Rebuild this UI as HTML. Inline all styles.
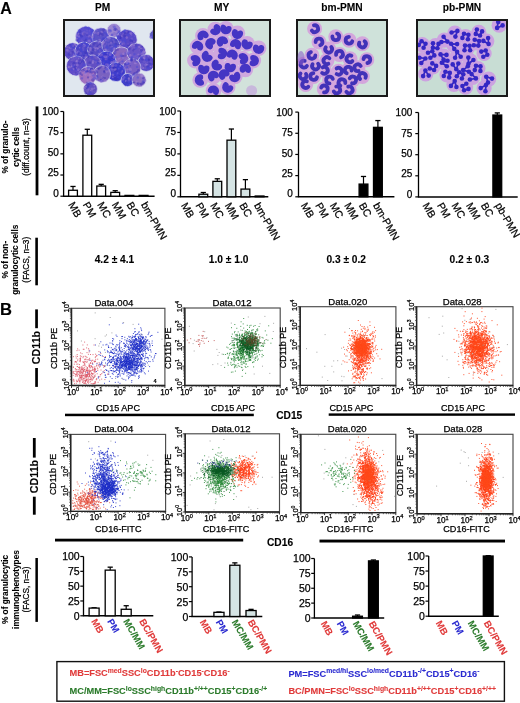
<!DOCTYPE html>
<html><head><meta charset="utf-8"><title>Figure</title>
<style>html,body{margin:0;padding:0;background:#fff;overflow:hidden;width:520px;height:703px;} svg{display:block;} text{font-family:"Liberation Sans", Arial, sans-serif;} text{stroke:#000;stroke-width:0.25px;} text[font-weight=bold]{stroke-width:0.1px;}</style>
</head><body>
<svg width="520" height="703" viewBox="0 0 520 703">
<defs><filter id="soft" x="-5%" y="-5%" width="110%" height="110%"><feGaussianBlur stdDeviation="0.6"/></filter></defs>
<rect width="520" height="703" fill="#fff"/>
<text x="0.3" y="13.8" font-size="16" font-weight="bold">A</text>
<text x="102.6" y="10.9" font-size="10.2" font-weight="bold" text-anchor="middle">PM</text>
<text x="221.7" y="10.9" font-size="10.2" font-weight="bold" text-anchor="middle">MY</text>
<text x="342" y="10.9" font-size="10.2" font-weight="bold" text-anchor="middle">bm-PMN</text>
<text x="462" y="10.9" font-size="10.2" font-weight="bold" text-anchor="middle">pb-PMN</text>
<clipPath id="clippm"><rect x="64" y="20" width="90" height="76"/></clipPath>
<g clip-path="url(#clippm)">
<rect x="64.00" y="20.00" width="90.00" height="76.00" fill="#e0e7ef"/>
<g filter="url(#soft)">
<circle cx="86.0" cy="36.7" r="10.5" fill="#5a4fd0" stroke="#d4d4ee" stroke-width="0.8"/>
<circle cx="101.0" cy="36.7" r="9" fill="#5b52c8" stroke="#d4d4ee" stroke-width="0.8"/>
<circle cx="114.0" cy="30.4" r="7" fill="#9a86d0" stroke="#d4d4ee" stroke-width="0.8"/>
<circle cx="126.7" cy="40.0" r="10.5" fill="#5848c8" stroke="#d4d4ee" stroke-width="0.8"/>
<circle cx="72.7" cy="51.7" r="9" fill="#6050c8" stroke="#d4d4ee" stroke-width="0.8"/>
<circle cx="84.0" cy="51.0" r="9" fill="#4c44c8" stroke="#d4d4ee" stroke-width="0.8"/>
<circle cx="96.6" cy="50.0" r="9" fill="#5a4ec4" stroke="#d4d4ee" stroke-width="0.8"/>
<circle cx="110.8" cy="45.5" r="9" fill="#5650c8" stroke="#d4d4ee" stroke-width="0.8"/>
<circle cx="121.4" cy="57.0" r="10" fill="#8a68c0" stroke="#d4d4ee" stroke-width="0.8"/>
<circle cx="136.5" cy="52.6" r="9.5" fill="#6a56c8" stroke="#d4d4ee" stroke-width="0.8"/>
<circle cx="146.2" cy="63.0" r="8.5" fill="#5a4cc8" stroke="#d4d4ee" stroke-width="0.8"/>
<circle cx="106.4" cy="60.6" r="9.5" fill="#3d3ad0" stroke="#d4d4ee" stroke-width="0.8"/>
<circle cx="92.2" cy="64.0" r="9" fill="#6250c4" stroke="#d4d4ee" stroke-width="0.8"/>
<circle cx="76.3" cy="66.0" r="10" fill="#5e4cc8" stroke="#d4d4ee" stroke-width="0.8"/>
<circle cx="132.0" cy="67.7" r="9" fill="#7a60c4" stroke="#d4d4ee" stroke-width="0.8"/>
<circle cx="116.0" cy="72.0" r="9.5" fill="#3e3ccc" stroke="#d4d4ee" stroke-width="0.8"/>
<circle cx="102.0" cy="74.0" r="8.5" fill="#7a62c0" stroke="#d4d4ee" stroke-width="0.8"/>
<circle cx="87.8" cy="75.6" r="9" fill="#a070c0" stroke="#d4d4ee" stroke-width="0.8"/>
<circle cx="127.6" cy="80.0" r="6.5" fill="#4040c8" stroke="#d4d4ee" stroke-width="0.8"/>
<circle cx="139.0" cy="80.0" r="7" fill="#8a70c4" stroke="#d4d4ee" stroke-width="0.8"/>
<circle cx="90.4" cy="89.0" r="7" fill="#6050c0" stroke="#d4d4ee" stroke-width="0.8"/>
<circle cx="154.0" cy="35.0" r="4.5" fill="#6060c0" stroke="#d4d4ee" stroke-width="0.8"/>
<circle cx="83.3" cy="34.0" r="1.5" fill="#a688d4" opacity="0.45"/>
<circle cx="93.0" cy="31.4" r="0.9" fill="#4848d8" opacity="0.45"/>
<circle cx="87.0" cy="30.8" r="0.8" fill="#7a64cc" opacity="0.45"/>
<circle cx="87.5" cy="46.2" r="1.4" fill="#4848d8" opacity="0.45"/>
<circle cx="83.7" cy="43.8" r="0.9" fill="#a688d4" opacity="0.45"/>
<circle cx="91.3" cy="31.3" r="1.1" fill="#4848d8" opacity="0.45"/>
<circle cx="93.7" cy="37.0" r="0.8" fill="#4848d8" opacity="0.45"/>
<circle cx="89.4" cy="29.5" r="1.3" fill="#4848d8" opacity="0.45"/>
<circle cx="87.1" cy="33.1" r="1.2" fill="#7a64cc" opacity="0.45"/>
<circle cx="79.7" cy="38.0" r="1.4" fill="#4848d8" opacity="0.45"/>
<circle cx="84.5" cy="41.2" r="1.0" fill="#3a30b8" opacity="0.45"/>
<circle cx="84.9" cy="42.7" r="1.1" fill="#3a30b8" opacity="0.45"/>
<circle cx="85.9" cy="39.7" r="1.1" fill="#3a30b8" opacity="0.45"/>
<circle cx="77.0" cy="39.9" r="1.6" fill="#3a30b8" opacity="0.45"/>
<circle cx="81.5" cy="36.6" r="1.1" fill="#4848d8" opacity="0.45"/>
<circle cx="78.5" cy="34.1" r="1.0" fill="#a688d4" opacity="0.45"/>
<circle cx="91.3" cy="36.6" r="1.2" fill="#3a30b8" opacity="0.45"/>
<circle cx="88.4" cy="28.0" r="1.6" fill="#4848d8" opacity="0.45"/>
<circle cx="80.3" cy="31.2" r="1.2" fill="#3a30b8" opacity="0.45"/>
<circle cx="89.5" cy="36.5" r="1.5" fill="#a688d4" opacity="0.45"/>
<circle cx="87.9" cy="45.4" r="1.3" fill="#4848d8" opacity="0.45"/>
<circle cx="91.0" cy="44.7" r="1.1" fill="#a688d4" opacity="0.45"/>
<circle cx="79.0" cy="30.7" r="1.1" fill="#4848d8" opacity="0.45"/>
<circle cx="93.0" cy="38.7" r="1.5" fill="#4848d8" opacity="0.45"/>
<circle cx="89.6" cy="37.5" r="1.1" fill="#3a30b8" opacity="0.45"/>
<circle cx="81.8" cy="36.3" r="1.2" fill="#3a30b8" opacity="0.45"/>
<circle cx="76.9" cy="38.7" r="1.0" fill="#a688d4" opacity="0.45"/>
<circle cx="92.2" cy="33.1" r="1.4" fill="#4848d8" opacity="0.45"/>
<circle cx="83.2" cy="33.7" r="1.4" fill="#a688d4" opacity="0.45"/>
<circle cx="76.9" cy="35.9" r="1.3" fill="#a688d4" opacity="0.45"/>
<circle cx="78.2" cy="36.9" r="1.1" fill="#4848d8" opacity="0.45"/>
<circle cx="86.1" cy="44.0" r="1.1" fill="#4848d8" opacity="0.45"/>
<circle cx="91.9" cy="37.1" r="0.8" fill="#a688d4" opacity="0.45"/>
<circle cx="88.2" cy="42.5" r="1.0" fill="#3a30b8" opacity="0.45"/>
<circle cx="84.3" cy="32.3" r="1.5" fill="#7a64cc" opacity="0.45"/>
<circle cx="86.6" cy="38.5" r="0.9" fill="#4848d8" opacity="0.45"/>
<circle cx="79.8" cy="43.3" r="1.2" fill="#a688d4" opacity="0.45"/>
<circle cx="92.6" cy="36.9" r="1.3" fill="#a688d4" opacity="0.45"/>
<circle cx="89.5" cy="30.4" r="1.0" fill="#7a64cc" opacity="0.45"/>
<circle cx="89.1" cy="41.2" r="1.6" fill="#a688d4" opacity="0.45"/>
<circle cx="85.1" cy="45.0" r="1.3" fill="#4848d8" opacity="0.45"/>
<circle cx="87.1" cy="35.7" r="1.3" fill="#7a64cc" opacity="0.45"/>
<circle cx="80.1" cy="36.3" r="0.8" fill="#3a30b8" opacity="0.45"/>
<circle cx="87.0" cy="35.3" r="1.1" fill="#3a30b8" opacity="0.45"/>
<circle cx="83.8" cy="34.1" r="1.5" fill="#3a30b8" opacity="0.45"/>
<circle cx="85.5" cy="27.2" r="1.4" fill="#4848d8" opacity="0.45"/>
<circle cx="92.6" cy="41.0" r="1.5" fill="#4848d8" opacity="0.45"/>
<circle cx="79.9" cy="35.1" r="1.4" fill="#3a30b8" opacity="0.45"/>
<circle cx="79.0" cy="36.4" r="1.2" fill="#a688d4" opacity="0.45"/>
<circle cx="92.2" cy="30.2" r="1.5" fill="#4848d8" opacity="0.45"/>
<circle cx="82.3" cy="41.0" r="0.8" fill="#7a64cc" opacity="0.45"/>
<circle cx="79.9" cy="32.4" r="0.8" fill="#3a30b8" opacity="0.45"/>
<circle cx="93.5" cy="39.6" r="1.0" fill="#7a64cc" opacity="0.45"/>
<circle cx="81.6" cy="40.4" r="1.0" fill="#7a64cc" opacity="0.45"/>
<circle cx="82.9" cy="43.0" r="0.8" fill="#4848d8" opacity="0.45"/>
<circle cx="94.4" cy="32.5" r="1.5" fill="#a688d4" opacity="0.45"/>
<circle cx="102.7" cy="39.6" r="1.4" fill="#4848d8" opacity="0.45"/>
<circle cx="100.4" cy="35.5" r="0.9" fill="#7a64cc" opacity="0.45"/>
<circle cx="107.6" cy="37.6" r="1.4" fill="#a688d4" opacity="0.45"/>
<circle cx="99.6" cy="40.3" r="1.5" fill="#a688d4" opacity="0.45"/>
<circle cx="106.8" cy="34.3" r="1.1" fill="#4848d8" opacity="0.45"/>
<circle cx="93.2" cy="34.8" r="0.9" fill="#a688d4" opacity="0.45"/>
<circle cx="102.9" cy="32.0" r="1.4" fill="#3a30b8" opacity="0.45"/>
<circle cx="98.7" cy="33.2" r="1.0" fill="#a688d4" opacity="0.45"/>
<circle cx="96.7" cy="33.1" r="1.2" fill="#7a64cc" opacity="0.45"/>
<circle cx="103.4" cy="43.0" r="1.4" fill="#7a64cc" opacity="0.45"/>
<circle cx="98.6" cy="35.5" r="0.9" fill="#a688d4" opacity="0.45"/>
<circle cx="106.0" cy="38.0" r="0.9" fill="#4848d8" opacity="0.45"/>
<circle cx="102.0" cy="33.8" r="1.3" fill="#3a30b8" opacity="0.45"/>
<circle cx="107.5" cy="35.0" r="1.4" fill="#4848d8" opacity="0.45"/>
<circle cx="105.6" cy="30.7" r="1.6" fill="#7a64cc" opacity="0.45"/>
<circle cx="105.8" cy="38.3" r="1.5" fill="#4848d8" opacity="0.45"/>
<circle cx="98.3" cy="41.0" r="1.1" fill="#3a30b8" opacity="0.45"/>
<circle cx="98.5" cy="42.2" r="1.3" fill="#4848d8" opacity="0.45"/>
<circle cx="103.9" cy="39.2" r="1.4" fill="#3a30b8" opacity="0.45"/>
<circle cx="98.1" cy="33.8" r="1.4" fill="#3a30b8" opacity="0.45"/>
<circle cx="102.4" cy="32.1" r="1.2" fill="#7a64cc" opacity="0.45"/>
<circle cx="98.8" cy="41.9" r="1.1" fill="#a688d4" opacity="0.45"/>
<circle cx="102.5" cy="34.9" r="0.8" fill="#7a64cc" opacity="0.45"/>
<circle cx="103.1" cy="29.8" r="1.5" fill="#7a64cc" opacity="0.45"/>
<circle cx="105.3" cy="41.3" r="1.1" fill="#7a64cc" opacity="0.45"/>
<circle cx="101.5" cy="32.2" r="1.2" fill="#a688d4" opacity="0.45"/>
<circle cx="102.7" cy="35.1" r="1.1" fill="#3a30b8" opacity="0.45"/>
<circle cx="103.4" cy="43.6" r="1.5" fill="#a688d4" opacity="0.45"/>
<circle cx="98.3" cy="35.4" r="1.1" fill="#7a64cc" opacity="0.45"/>
<circle cx="99.1" cy="34.4" r="0.9" fill="#4848d8" opacity="0.45"/>
<circle cx="98.7" cy="34.8" r="1.6" fill="#3a30b8" opacity="0.45"/>
<circle cx="102.9" cy="38.0" r="0.9" fill="#4848d8" opacity="0.45"/>
<circle cx="96.8" cy="30.0" r="1.5" fill="#7a64cc" opacity="0.45"/>
<circle cx="98.1" cy="33.5" r="1.5" fill="#a688d4" opacity="0.45"/>
<circle cx="103.1" cy="32.6" r="0.9" fill="#7a64cc" opacity="0.45"/>
<circle cx="103.5" cy="29.6" r="1.6" fill="#3a30b8" opacity="0.45"/>
<circle cx="98.0" cy="42.5" r="0.9" fill="#3a30b8" opacity="0.45"/>
<circle cx="100.4" cy="33.2" r="1.3" fill="#3a30b8" opacity="0.45"/>
<circle cx="104.7" cy="32.6" r="1.4" fill="#4848d8" opacity="0.45"/>
<circle cx="115.6" cy="34.6" r="1.1" fill="#7a64cc" opacity="0.45"/>
<circle cx="116.4" cy="29.0" r="0.9" fill="#7a64cc" opacity="0.45"/>
<circle cx="115.1" cy="35.6" r="1.0" fill="#a688d4" opacity="0.45"/>
<circle cx="114.4" cy="27.1" r="1.5" fill="#4848d8" opacity="0.45"/>
<circle cx="118.3" cy="32.3" r="1.4" fill="#7a64cc" opacity="0.45"/>
<circle cx="110.6" cy="31.0" r="1.4" fill="#4848d8" opacity="0.45"/>
<circle cx="118.5" cy="31.3" r="1.4" fill="#4848d8" opacity="0.45"/>
<circle cx="112.0" cy="35.1" r="1.3" fill="#7a64cc" opacity="0.45"/>
<circle cx="112.2" cy="34.8" r="1.4" fill="#4848d8" opacity="0.45"/>
<circle cx="113.2" cy="26.4" r="0.9" fill="#7a64cc" opacity="0.45"/>
<circle cx="108.5" cy="32.0" r="1.4" fill="#7a64cc" opacity="0.45"/>
<circle cx="119.7" cy="32.5" r="1.5" fill="#4848d8" opacity="0.45"/>
<circle cx="116.7" cy="30.3" r="1.3" fill="#3a30b8" opacity="0.45"/>
<circle cx="115.8" cy="28.9" r="1.5" fill="#4848d8" opacity="0.45"/>
<circle cx="115.9" cy="29.3" r="0.9" fill="#7a64cc" opacity="0.45"/>
<circle cx="114.1" cy="36.8" r="0.9" fill="#7a64cc" opacity="0.45"/>
<circle cx="109.1" cy="34.3" r="1.6" fill="#a688d4" opacity="0.45"/>
<circle cx="114.4" cy="33.5" r="1.4" fill="#7a64cc" opacity="0.45"/>
<circle cx="118.5" cy="34.9" r="1.0" fill="#a688d4" opacity="0.45"/>
<circle cx="116.9" cy="31.0" r="1.4" fill="#a688d4" opacity="0.45"/>
<circle cx="109.4" cy="30.3" r="1.3" fill="#4848d8" opacity="0.45"/>
<circle cx="117.3" cy="33.6" r="1.1" fill="#4848d8" opacity="0.45"/>
<circle cx="116.8" cy="35.9" r="1.1" fill="#4848d8" opacity="0.45"/>
<circle cx="114.8" cy="29.4" r="1.5" fill="#3a30b8" opacity="0.45"/>
<circle cx="122.1" cy="47.7" r="1.6" fill="#a688d4" opacity="0.45"/>
<circle cx="123.1" cy="33.5" r="1.0" fill="#7a64cc" opacity="0.45"/>
<circle cx="128.5" cy="47.0" r="1.0" fill="#7a64cc" opacity="0.45"/>
<circle cx="119.2" cy="37.5" r="1.1" fill="#7a64cc" opacity="0.45"/>
<circle cx="127.7" cy="32.1" r="1.4" fill="#3a30b8" opacity="0.45"/>
<circle cx="133.5" cy="43.0" r="1.0" fill="#7a64cc" opacity="0.45"/>
<circle cx="125.8" cy="33.8" r="0.9" fill="#a688d4" opacity="0.45"/>
<circle cx="130.8" cy="40.4" r="1.4" fill="#3a30b8" opacity="0.45"/>
<circle cx="131.8" cy="38.6" r="1.2" fill="#7a64cc" opacity="0.45"/>
<circle cx="121.6" cy="41.0" r="1.3" fill="#4848d8" opacity="0.45"/>
<circle cx="121.4" cy="43.4" r="1.3" fill="#4848d8" opacity="0.45"/>
<circle cx="124.9" cy="30.5" r="1.4" fill="#4848d8" opacity="0.45"/>
<circle cx="121.0" cy="39.2" r="1.1" fill="#4848d8" opacity="0.45"/>
<circle cx="125.9" cy="33.6" r="1.2" fill="#3a30b8" opacity="0.45"/>
<circle cx="131.8" cy="43.0" r="1.2" fill="#7a64cc" opacity="0.45"/>
<circle cx="119.9" cy="37.2" r="1.2" fill="#3a30b8" opacity="0.45"/>
<circle cx="117.9" cy="36.6" r="1.3" fill="#3a30b8" opacity="0.45"/>
<circle cx="135.0" cy="36.2" r="0.9" fill="#7a64cc" opacity="0.45"/>
<circle cx="132.5" cy="41.5" r="0.9" fill="#3a30b8" opacity="0.45"/>
<circle cx="121.9" cy="41.5" r="1.6" fill="#4848d8" opacity="0.45"/>
<circle cx="120.5" cy="33.3" r="0.8" fill="#7a64cc" opacity="0.45"/>
<circle cx="120.2" cy="37.9" r="0.9" fill="#3a30b8" opacity="0.45"/>
<circle cx="133.9" cy="43.6" r="1.2" fill="#3a30b8" opacity="0.45"/>
<circle cx="124.5" cy="38.6" r="1.2" fill="#4848d8" opacity="0.45"/>
<circle cx="128.3" cy="48.9" r="0.9" fill="#3a30b8" opacity="0.45"/>
<circle cx="128.5" cy="45.1" r="1.4" fill="#3a30b8" opacity="0.45"/>
<circle cx="131.6" cy="35.3" r="0.9" fill="#7a64cc" opacity="0.45"/>
<circle cx="128.1" cy="44.1" r="1.1" fill="#7a64cc" opacity="0.45"/>
<circle cx="120.7" cy="41.8" r="1.1" fill="#a688d4" opacity="0.45"/>
<circle cx="126.7" cy="31.2" r="0.9" fill="#7a64cc" opacity="0.45"/>
<circle cx="124.4" cy="31.5" r="1.5" fill="#4848d8" opacity="0.45"/>
<circle cx="120.4" cy="37.8" r="1.3" fill="#3a30b8" opacity="0.45"/>
<circle cx="129.7" cy="32.1" r="0.8" fill="#4848d8" opacity="0.45"/>
<circle cx="120.3" cy="41.4" r="1.3" fill="#3a30b8" opacity="0.45"/>
<circle cx="122.4" cy="35.9" r="1.4" fill="#a688d4" opacity="0.45"/>
<circle cx="129.7" cy="33.5" r="1.6" fill="#4848d8" opacity="0.45"/>
<circle cx="124.8" cy="36.1" r="1.5" fill="#3a30b8" opacity="0.45"/>
<circle cx="123.3" cy="35.8" r="1.1" fill="#3a30b8" opacity="0.45"/>
<circle cx="119.9" cy="44.5" r="0.8" fill="#3a30b8" opacity="0.45"/>
<circle cx="118.8" cy="37.0" r="1.5" fill="#4848d8" opacity="0.45"/>
<circle cx="124.9" cy="41.4" r="1.6" fill="#4848d8" opacity="0.45"/>
<circle cx="126.4" cy="31.7" r="1.3" fill="#7a64cc" opacity="0.45"/>
<circle cx="120.3" cy="46.0" r="1.3" fill="#a688d4" opacity="0.45"/>
<circle cx="120.4" cy="41.3" r="1.6" fill="#7a64cc" opacity="0.45"/>
<circle cx="126.8" cy="37.6" r="1.3" fill="#a688d4" opacity="0.45"/>
<circle cx="118.7" cy="39.8" r="1.2" fill="#4848d8" opacity="0.45"/>
<circle cx="124.2" cy="44.1" r="0.8" fill="#7a64cc" opacity="0.45"/>
<circle cx="130.3" cy="33.1" r="1.4" fill="#7a64cc" opacity="0.45"/>
<circle cx="122.3" cy="44.0" r="1.1" fill="#a688d4" opacity="0.45"/>
<circle cx="131.0" cy="33.6" r="1.4" fill="#a688d4" opacity="0.45"/>
<circle cx="127.8" cy="35.2" r="1.1" fill="#4848d8" opacity="0.45"/>
<circle cx="120.4" cy="42.2" r="0.9" fill="#a688d4" opacity="0.45"/>
<circle cx="125.1" cy="33.2" r="0.9" fill="#3a30b8" opacity="0.45"/>
<circle cx="134.2" cy="41.6" r="1.2" fill="#7a64cc" opacity="0.45"/>
<circle cx="123.3" cy="42.8" r="1.5" fill="#7a64cc" opacity="0.45"/>
<circle cx="71.3" cy="59.7" r="1.1" fill="#4848d8" opacity="0.45"/>
<circle cx="78.3" cy="47.5" r="0.8" fill="#4848d8" opacity="0.45"/>
<circle cx="71.1" cy="48.3" r="0.9" fill="#a688d4" opacity="0.45"/>
<circle cx="77.0" cy="46.1" r="0.9" fill="#7a64cc" opacity="0.45"/>
<circle cx="69.1" cy="54.2" r="1.6" fill="#3a30b8" opacity="0.45"/>
<circle cx="78.4" cy="51.8" r="1.3" fill="#a688d4" opacity="0.45"/>
<circle cx="74.5" cy="44.2" r="1.1" fill="#a688d4" opacity="0.45"/>
<circle cx="72.9" cy="57.3" r="1.3" fill="#a688d4" opacity="0.45"/>
<circle cx="75.5" cy="55.2" r="1.3" fill="#a688d4" opacity="0.45"/>
<circle cx="74.1" cy="47.3" r="1.4" fill="#4848d8" opacity="0.45"/>
<circle cx="71.8" cy="49.6" r="1.0" fill="#4848d8" opacity="0.45"/>
<circle cx="73.6" cy="55.5" r="1.3" fill="#a688d4" opacity="0.45"/>
<circle cx="72.2" cy="56.0" r="0.9" fill="#4848d8" opacity="0.45"/>
<circle cx="75.9" cy="50.4" r="1.3" fill="#7a64cc" opacity="0.45"/>
<circle cx="72.5" cy="53.8" r="0.9" fill="#4848d8" opacity="0.45"/>
<circle cx="71.0" cy="46.3" r="1.2" fill="#4848d8" opacity="0.45"/>
<circle cx="75.3" cy="54.5" r="1.1" fill="#4848d8" opacity="0.45"/>
<circle cx="75.5" cy="45.2" r="1.0" fill="#a688d4" opacity="0.45"/>
<circle cx="78.6" cy="57.1" r="1.2" fill="#4848d8" opacity="0.45"/>
<circle cx="68.4" cy="51.3" r="1.3" fill="#7a64cc" opacity="0.45"/>
<circle cx="78.8" cy="53.1" r="0.9" fill="#3a30b8" opacity="0.45"/>
<circle cx="67.1" cy="49.9" r="1.5" fill="#a688d4" opacity="0.45"/>
<circle cx="74.0" cy="49.8" r="0.9" fill="#a688d4" opacity="0.45"/>
<circle cx="75.2" cy="53.2" r="1.0" fill="#4848d8" opacity="0.45"/>
<circle cx="71.5" cy="59.4" r="1.5" fill="#a688d4" opacity="0.45"/>
<circle cx="73.2" cy="46.0" r="1.5" fill="#3a30b8" opacity="0.45"/>
<circle cx="66.9" cy="47.0" r="1.1" fill="#a688d4" opacity="0.45"/>
<circle cx="71.9" cy="53.7" r="1.0" fill="#3a30b8" opacity="0.45"/>
<circle cx="68.3" cy="47.1" r="1.5" fill="#7a64cc" opacity="0.45"/>
<circle cx="65.3" cy="53.9" r="0.9" fill="#7a64cc" opacity="0.45"/>
<circle cx="77.7" cy="45.8" r="1.2" fill="#4848d8" opacity="0.45"/>
<circle cx="72.5" cy="52.3" r="1.2" fill="#3a30b8" opacity="0.45"/>
<circle cx="73.0" cy="45.7" r="1.2" fill="#a688d4" opacity="0.45"/>
<circle cx="69.4" cy="47.9" r="0.9" fill="#a688d4" opacity="0.45"/>
<circle cx="72.3" cy="44.5" r="1.6" fill="#4848d8" opacity="0.45"/>
<circle cx="71.1" cy="53.3" r="1.4" fill="#7a64cc" opacity="0.45"/>
<circle cx="72.0" cy="47.5" r="1.4" fill="#4848d8" opacity="0.45"/>
<circle cx="70.3" cy="44.6" r="1.0" fill="#3a30b8" opacity="0.45"/>
<circle cx="68.4" cy="55.4" r="0.8" fill="#4848d8" opacity="0.45"/>
<circle cx="78.2" cy="52.6" r="1.5" fill="#4848d8" opacity="0.45"/>
<circle cx="86.5" cy="55.1" r="1.4" fill="#7a64cc" opacity="0.45"/>
<circle cx="76.3" cy="53.2" r="1.1" fill="#7a64cc" opacity="0.45"/>
<circle cx="83.2" cy="49.7" r="1.3" fill="#7a64cc" opacity="0.45"/>
<circle cx="76.1" cy="50.6" r="0.9" fill="#7a64cc" opacity="0.45"/>
<circle cx="87.3" cy="56.6" r="1.4" fill="#7a64cc" opacity="0.45"/>
<circle cx="85.4" cy="52.6" r="1.4" fill="#3a30b8" opacity="0.45"/>
<circle cx="82.7" cy="57.1" r="1.3" fill="#7a64cc" opacity="0.45"/>
<circle cx="89.3" cy="52.8" r="0.8" fill="#7a64cc" opacity="0.45"/>
<circle cx="85.3" cy="57.1" r="1.3" fill="#a688d4" opacity="0.45"/>
<circle cx="88.9" cy="56.2" r="1.0" fill="#7a64cc" opacity="0.45"/>
<circle cx="77.3" cy="52.5" r="1.3" fill="#a688d4" opacity="0.45"/>
<circle cx="78.9" cy="57.5" r="1.3" fill="#7a64cc" opacity="0.45"/>
<circle cx="81.2" cy="49.3" r="1.4" fill="#4848d8" opacity="0.45"/>
<circle cx="82.6" cy="58.3" r="0.9" fill="#3a30b8" opacity="0.45"/>
<circle cx="89.2" cy="52.1" r="1.0" fill="#a688d4" opacity="0.45"/>
<circle cx="80.4" cy="57.4" r="1.0" fill="#4848d8" opacity="0.45"/>
<circle cx="84.3" cy="43.2" r="1.6" fill="#4848d8" opacity="0.45"/>
<circle cx="83.7" cy="59.3" r="1.0" fill="#3a30b8" opacity="0.45"/>
<circle cx="80.5" cy="53.4" r="1.6" fill="#7a64cc" opacity="0.45"/>
<circle cx="84.2" cy="45.4" r="1.6" fill="#a688d4" opacity="0.45"/>
<circle cx="77.3" cy="55.5" r="1.2" fill="#4848d8" opacity="0.45"/>
<circle cx="90.1" cy="45.7" r="1.3" fill="#3a30b8" opacity="0.45"/>
<circle cx="88.4" cy="48.5" r="1.1" fill="#7a64cc" opacity="0.45"/>
<circle cx="81.0" cy="58.5" r="1.1" fill="#a688d4" opacity="0.45"/>
<circle cx="83.5" cy="45.7" r="0.8" fill="#4848d8" opacity="0.45"/>
<circle cx="83.9" cy="56.1" r="1.2" fill="#3a30b8" opacity="0.45"/>
<circle cx="88.6" cy="56.5" r="1.0" fill="#3a30b8" opacity="0.45"/>
<circle cx="78.7" cy="53.2" r="1.1" fill="#3a30b8" opacity="0.45"/>
<circle cx="79.6" cy="47.7" r="0.8" fill="#a688d4" opacity="0.45"/>
<circle cx="88.7" cy="49.0" r="1.5" fill="#3a30b8" opacity="0.45"/>
<circle cx="87.3" cy="55.3" r="1.0" fill="#4848d8" opacity="0.45"/>
<circle cx="83.3" cy="48.0" r="1.4" fill="#7a64cc" opacity="0.45"/>
<circle cx="82.0" cy="51.3" r="1.0" fill="#4848d8" opacity="0.45"/>
<circle cx="88.9" cy="56.3" r="1.6" fill="#3a30b8" opacity="0.45"/>
<circle cx="90.1" cy="49.9" r="1.3" fill="#a688d4" opacity="0.45"/>
<circle cx="81.7" cy="44.6" r="0.9" fill="#4848d8" opacity="0.45"/>
<circle cx="89.1" cy="56.4" r="0.8" fill="#4848d8" opacity="0.45"/>
<circle cx="87.3" cy="48.8" r="1.0" fill="#7a64cc" opacity="0.45"/>
<circle cx="87.2" cy="53.4" r="0.9" fill="#4848d8" opacity="0.45"/>
<circle cx="87.7" cy="53.4" r="1.3" fill="#3a30b8" opacity="0.45"/>
<circle cx="102.9" cy="54.6" r="0.9" fill="#4848d8" opacity="0.45"/>
<circle cx="99.2" cy="53.9" r="1.5" fill="#a688d4" opacity="0.45"/>
<circle cx="100.2" cy="47.5" r="1.2" fill="#3a30b8" opacity="0.45"/>
<circle cx="92.5" cy="56.9" r="1.2" fill="#4848d8" opacity="0.45"/>
<circle cx="93.7" cy="55.1" r="1.0" fill="#a688d4" opacity="0.45"/>
<circle cx="98.8" cy="51.3" r="1.4" fill="#4848d8" opacity="0.45"/>
<circle cx="97.1" cy="48.3" r="1.4" fill="#a688d4" opacity="0.45"/>
<circle cx="92.9" cy="42.6" r="1.1" fill="#7a64cc" opacity="0.45"/>
<circle cx="90.6" cy="48.2" r="1.5" fill="#a688d4" opacity="0.45"/>
<circle cx="95.2" cy="48.7" r="0.8" fill="#a688d4" opacity="0.45"/>
<circle cx="101.4" cy="53.5" r="1.2" fill="#7a64cc" opacity="0.45"/>
<circle cx="96.2" cy="55.9" r="1.1" fill="#4848d8" opacity="0.45"/>
<circle cx="91.9" cy="47.3" r="0.9" fill="#4848d8" opacity="0.45"/>
<circle cx="104.3" cy="47.6" r="1.0" fill="#7a64cc" opacity="0.45"/>
<circle cx="99.9" cy="42.6" r="0.9" fill="#7a64cc" opacity="0.45"/>
<circle cx="94.7" cy="47.7" r="1.3" fill="#a688d4" opacity="0.45"/>
<circle cx="93.4" cy="49.6" r="1.6" fill="#3a30b8" opacity="0.45"/>
<circle cx="101.9" cy="50.5" r="1.5" fill="#4848d8" opacity="0.45"/>
<circle cx="102.5" cy="45.2" r="0.9" fill="#a688d4" opacity="0.45"/>
<circle cx="102.6" cy="52.7" r="1.6" fill="#4848d8" opacity="0.45"/>
<circle cx="101.5" cy="55.1" r="1.5" fill="#7a64cc" opacity="0.45"/>
<circle cx="94.4" cy="44.1" r="1.5" fill="#3a30b8" opacity="0.45"/>
<circle cx="98.0" cy="46.5" r="1.2" fill="#3a30b8" opacity="0.45"/>
<circle cx="98.3" cy="42.7" r="1.0" fill="#a688d4" opacity="0.45"/>
<circle cx="95.7" cy="50.3" r="1.0" fill="#3a30b8" opacity="0.45"/>
<circle cx="99.7" cy="56.2" r="0.9" fill="#a688d4" opacity="0.45"/>
<circle cx="100.2" cy="50.8" r="1.4" fill="#7a64cc" opacity="0.45"/>
<circle cx="100.0" cy="45.4" r="1.5" fill="#3a30b8" opacity="0.45"/>
<circle cx="104.7" cy="48.9" r="0.8" fill="#a688d4" opacity="0.45"/>
<circle cx="96.8" cy="56.1" r="1.0" fill="#3a30b8" opacity="0.45"/>
<circle cx="97.9" cy="48.5" r="1.0" fill="#a688d4" opacity="0.45"/>
<circle cx="92.2" cy="53.1" r="1.3" fill="#3a30b8" opacity="0.45"/>
<circle cx="94.1" cy="56.2" r="1.1" fill="#7a64cc" opacity="0.45"/>
<circle cx="94.6" cy="49.9" r="1.0" fill="#7a64cc" opacity="0.45"/>
<circle cx="100.8" cy="50.2" r="1.0" fill="#4848d8" opacity="0.45"/>
<circle cx="95.5" cy="50.4" r="1.1" fill="#a688d4" opacity="0.45"/>
<circle cx="98.5" cy="55.8" r="1.5" fill="#4848d8" opacity="0.45"/>
<circle cx="95.4" cy="45.0" r="1.0" fill="#7a64cc" opacity="0.45"/>
<circle cx="90.7" cy="49.9" r="1.0" fill="#7a64cc" opacity="0.45"/>
<circle cx="99.7" cy="46.7" r="1.5" fill="#a688d4" opacity="0.45"/>
<circle cx="105.3" cy="49.8" r="0.9" fill="#a688d4" opacity="0.45"/>
<circle cx="104.8" cy="45.3" r="1.2" fill="#7a64cc" opacity="0.45"/>
<circle cx="116.4" cy="40.1" r="1.2" fill="#3a30b8" opacity="0.45"/>
<circle cx="108.2" cy="40.5" r="1.4" fill="#7a64cc" opacity="0.45"/>
<circle cx="115.5" cy="48.7" r="0.8" fill="#3a30b8" opacity="0.45"/>
<circle cx="113.7" cy="48.9" r="1.3" fill="#4848d8" opacity="0.45"/>
<circle cx="118.7" cy="45.0" r="1.2" fill="#3a30b8" opacity="0.45"/>
<circle cx="115.4" cy="46.3" r="1.4" fill="#4848d8" opacity="0.45"/>
<circle cx="108.6" cy="52.1" r="1.5" fill="#4848d8" opacity="0.45"/>
<circle cx="115.9" cy="44.1" r="1.3" fill="#3a30b8" opacity="0.45"/>
<circle cx="118.8" cy="46.3" r="1.4" fill="#a688d4" opacity="0.45"/>
<circle cx="115.1" cy="52.4" r="1.5" fill="#4848d8" opacity="0.45"/>
<circle cx="111.1" cy="46.9" r="1.4" fill="#7a64cc" opacity="0.45"/>
<circle cx="117.9" cy="49.8" r="1.0" fill="#3a30b8" opacity="0.45"/>
<circle cx="104.4" cy="46.6" r="1.1" fill="#7a64cc" opacity="0.45"/>
<circle cx="108.9" cy="44.3" r="1.3" fill="#7a64cc" opacity="0.45"/>
<circle cx="108.4" cy="50.8" r="1.5" fill="#7a64cc" opacity="0.45"/>
<circle cx="112.2" cy="46.7" r="0.8" fill="#a688d4" opacity="0.45"/>
<circle cx="113.1" cy="39.8" r="1.1" fill="#7a64cc" opacity="0.45"/>
<circle cx="112.0" cy="42.1" r="1.5" fill="#3a30b8" opacity="0.45"/>
<circle cx="106.1" cy="43.6" r="1.2" fill="#7a64cc" opacity="0.45"/>
<circle cx="113.8" cy="49.0" r="1.4" fill="#a688d4" opacity="0.45"/>
<circle cx="104.6" cy="43.8" r="1.0" fill="#3a30b8" opacity="0.45"/>
<circle cx="105.6" cy="40.0" r="0.9" fill="#a688d4" opacity="0.45"/>
<circle cx="103.6" cy="49.0" r="1.5" fill="#3a30b8" opacity="0.45"/>
<circle cx="113.9" cy="41.9" r="1.3" fill="#7a64cc" opacity="0.45"/>
<circle cx="106.0" cy="49.5" r="1.2" fill="#a688d4" opacity="0.45"/>
<circle cx="110.2" cy="45.5" r="1.1" fill="#3a30b8" opacity="0.45"/>
<circle cx="114.6" cy="48.8" r="1.3" fill="#a688d4" opacity="0.45"/>
<circle cx="103.3" cy="42.3" r="1.6" fill="#a688d4" opacity="0.45"/>
<circle cx="111.1" cy="42.7" r="1.1" fill="#a688d4" opacity="0.45"/>
<circle cx="109.9" cy="37.8" r="1.3" fill="#7a64cc" opacity="0.45"/>
<circle cx="110.5" cy="52.2" r="1.4" fill="#4848d8" opacity="0.45"/>
<circle cx="115.3" cy="45.3" r="1.2" fill="#4848d8" opacity="0.45"/>
<circle cx="109.4" cy="38.3" r="1.2" fill="#a688d4" opacity="0.45"/>
<circle cx="106.8" cy="47.6" r="1.6" fill="#4848d8" opacity="0.45"/>
<circle cx="104.0" cy="49.5" r="0.9" fill="#a688d4" opacity="0.45"/>
<circle cx="111.2" cy="43.2" r="1.5" fill="#7a64cc" opacity="0.45"/>
<circle cx="112.1" cy="48.1" r="1.5" fill="#4848d8" opacity="0.45"/>
<circle cx="106.2" cy="40.0" r="1.3" fill="#7a64cc" opacity="0.45"/>
<circle cx="118.5" cy="56.8" r="1.3" fill="#7a64cc" opacity="0.45"/>
<circle cx="128.1" cy="61.1" r="1.6" fill="#a688d4" opacity="0.45"/>
<circle cx="122.2" cy="53.7" r="1.1" fill="#7a64cc" opacity="0.45"/>
<circle cx="126.6" cy="59.3" r="1.4" fill="#a688d4" opacity="0.45"/>
<circle cx="130.4" cy="55.0" r="1.1" fill="#7a64cc" opacity="0.45"/>
<circle cx="126.3" cy="52.2" r="1.1" fill="#7a64cc" opacity="0.45"/>
<circle cx="119.2" cy="63.3" r="1.0" fill="#3a30b8" opacity="0.45"/>
<circle cx="127.6" cy="63.5" r="1.0" fill="#7a64cc" opacity="0.45"/>
<circle cx="125.1" cy="53.8" r="1.2" fill="#4848d8" opacity="0.45"/>
<circle cx="112.3" cy="58.2" r="1.0" fill="#3a30b8" opacity="0.45"/>
<circle cx="127.6" cy="63.2" r="1.5" fill="#4848d8" opacity="0.45"/>
<circle cx="115.8" cy="57.1" r="1.1" fill="#4848d8" opacity="0.45"/>
<circle cx="121.5" cy="62.3" r="1.5" fill="#4848d8" opacity="0.45"/>
<circle cx="118.7" cy="58.8" r="1.1" fill="#a688d4" opacity="0.45"/>
<circle cx="115.8" cy="50.2" r="1.2" fill="#3a30b8" opacity="0.45"/>
<circle cx="124.8" cy="55.0" r="1.3" fill="#a688d4" opacity="0.45"/>
<circle cx="121.7" cy="56.2" r="0.9" fill="#4848d8" opacity="0.45"/>
<circle cx="126.0" cy="64.4" r="1.6" fill="#4848d8" opacity="0.45"/>
<circle cx="114.3" cy="58.0" r="1.4" fill="#4848d8" opacity="0.45"/>
<circle cx="113.9" cy="57.4" r="1.3" fill="#a688d4" opacity="0.45"/>
<circle cx="129.3" cy="56.5" r="1.1" fill="#7a64cc" opacity="0.45"/>
<circle cx="123.0" cy="58.0" r="1.4" fill="#4848d8" opacity="0.45"/>
<circle cx="118.6" cy="56.8" r="1.2" fill="#7a64cc" opacity="0.45"/>
<circle cx="127.0" cy="53.7" r="1.3" fill="#7a64cc" opacity="0.45"/>
<circle cx="119.7" cy="58.2" r="0.8" fill="#a688d4" opacity="0.45"/>
<circle cx="120.9" cy="63.5" r="1.4" fill="#3a30b8" opacity="0.45"/>
<circle cx="114.0" cy="54.3" r="1.3" fill="#3a30b8" opacity="0.45"/>
<circle cx="118.2" cy="63.8" r="1.1" fill="#4848d8" opacity="0.45"/>
<circle cx="127.9" cy="53.8" r="0.9" fill="#3a30b8" opacity="0.45"/>
<circle cx="123.1" cy="58.0" r="1.3" fill="#a688d4" opacity="0.45"/>
<circle cx="122.6" cy="61.3" r="1.3" fill="#4848d8" opacity="0.45"/>
<circle cx="128.9" cy="61.4" r="1.2" fill="#a688d4" opacity="0.45"/>
<circle cx="120.6" cy="53.9" r="1.4" fill="#7a64cc" opacity="0.45"/>
<circle cx="119.6" cy="63.5" r="1.2" fill="#3a30b8" opacity="0.45"/>
<circle cx="123.1" cy="55.8" r="1.1" fill="#3a30b8" opacity="0.45"/>
<circle cx="128.4" cy="51.5" r="0.9" fill="#a688d4" opacity="0.45"/>
<circle cx="124.9" cy="55.5" r="1.3" fill="#3a30b8" opacity="0.45"/>
<circle cx="121.2" cy="62.9" r="1.5" fill="#a688d4" opacity="0.45"/>
<circle cx="128.2" cy="57.0" r="0.8" fill="#a688d4" opacity="0.45"/>
<circle cx="115.5" cy="62.1" r="1.4" fill="#4848d8" opacity="0.45"/>
<circle cx="130.1" cy="54.9" r="1.4" fill="#7a64cc" opacity="0.45"/>
<circle cx="122.1" cy="49.1" r="1.1" fill="#7a64cc" opacity="0.45"/>
<circle cx="126.5" cy="59.0" r="1.2" fill="#7a64cc" opacity="0.45"/>
<circle cx="120.7" cy="54.6" r="1.2" fill="#7a64cc" opacity="0.45"/>
<circle cx="128.1" cy="53.1" r="1.3" fill="#a688d4" opacity="0.45"/>
<circle cx="130.3" cy="55.2" r="1.3" fill="#a688d4" opacity="0.45"/>
<circle cx="121.1" cy="55.8" r="1.3" fill="#4848d8" opacity="0.45"/>
<circle cx="126.7" cy="50.8" r="1.1" fill="#7a64cc" opacity="0.45"/>
<circle cx="123.5" cy="53.8" r="1.2" fill="#a688d4" opacity="0.45"/>
<circle cx="117.5" cy="61.9" r="1.3" fill="#a688d4" opacity="0.45"/>
<circle cx="142.3" cy="53.2" r="1.4" fill="#a688d4" opacity="0.45"/>
<circle cx="128.7" cy="52.7" r="1.2" fill="#a688d4" opacity="0.45"/>
<circle cx="137.3" cy="56.8" r="1.2" fill="#a688d4" opacity="0.45"/>
<circle cx="131.1" cy="57.3" r="1.0" fill="#7a64cc" opacity="0.45"/>
<circle cx="142.9" cy="55.8" r="1.0" fill="#7a64cc" opacity="0.45"/>
<circle cx="133.2" cy="47.6" r="1.6" fill="#7a64cc" opacity="0.45"/>
<circle cx="139.5" cy="50.2" r="1.0" fill="#7a64cc" opacity="0.45"/>
<circle cx="133.1" cy="57.0" r="1.6" fill="#7a64cc" opacity="0.45"/>
<circle cx="142.5" cy="57.2" r="1.6" fill="#7a64cc" opacity="0.45"/>
<circle cx="133.7" cy="50.0" r="1.5" fill="#3a30b8" opacity="0.45"/>
<circle cx="138.3" cy="54.5" r="1.1" fill="#a688d4" opacity="0.45"/>
<circle cx="141.1" cy="48.8" r="1.0" fill="#a688d4" opacity="0.45"/>
<circle cx="139.5" cy="55.6" r="0.9" fill="#7a64cc" opacity="0.45"/>
<circle cx="131.4" cy="58.6" r="1.1" fill="#3a30b8" opacity="0.45"/>
<circle cx="128.6" cy="52.9" r="1.5" fill="#4848d8" opacity="0.45"/>
<circle cx="142.8" cy="58.3" r="1.2" fill="#7a64cc" opacity="0.45"/>
<circle cx="133.1" cy="59.9" r="1.4" fill="#a688d4" opacity="0.45"/>
<circle cx="135.4" cy="59.6" r="0.9" fill="#4848d8" opacity="0.45"/>
<circle cx="135.6" cy="48.9" r="0.9" fill="#4848d8" opacity="0.45"/>
<circle cx="144.4" cy="51.9" r="0.8" fill="#a688d4" opacity="0.45"/>
<circle cx="131.6" cy="58.3" r="1.1" fill="#4848d8" opacity="0.45"/>
<circle cx="138.4" cy="45.3" r="1.0" fill="#4848d8" opacity="0.45"/>
<circle cx="141.2" cy="58.2" r="1.3" fill="#4848d8" opacity="0.45"/>
<circle cx="129.5" cy="48.8" r="1.2" fill="#3a30b8" opacity="0.45"/>
<circle cx="132.1" cy="54.6" r="1.4" fill="#7a64cc" opacity="0.45"/>
<circle cx="134.8" cy="59.6" r="1.0" fill="#3a30b8" opacity="0.45"/>
<circle cx="139.2" cy="46.9" r="1.2" fill="#7a64cc" opacity="0.45"/>
<circle cx="136.4" cy="47.5" r="1.2" fill="#4848d8" opacity="0.45"/>
<circle cx="139.8" cy="56.3" r="1.3" fill="#3a30b8" opacity="0.45"/>
<circle cx="135.6" cy="55.9" r="1.6" fill="#7a64cc" opacity="0.45"/>
<circle cx="139.1" cy="47.0" r="0.9" fill="#a688d4" opacity="0.45"/>
<circle cx="141.8" cy="52.3" r="1.2" fill="#4848d8" opacity="0.45"/>
<circle cx="132.2" cy="48.9" r="0.9" fill="#7a64cc" opacity="0.45"/>
<circle cx="142.1" cy="46.8" r="1.0" fill="#3a30b8" opacity="0.45"/>
<circle cx="143.7" cy="51.9" r="1.6" fill="#a688d4" opacity="0.45"/>
<circle cx="136.1" cy="45.4" r="1.4" fill="#3a30b8" opacity="0.45"/>
<circle cx="131.2" cy="45.7" r="1.4" fill="#a688d4" opacity="0.45"/>
<circle cx="137.2" cy="56.6" r="1.1" fill="#4848d8" opacity="0.45"/>
<circle cx="132.2" cy="57.1" r="1.2" fill="#4848d8" opacity="0.45"/>
<circle cx="134.6" cy="50.7" r="1.0" fill="#7a64cc" opacity="0.45"/>
<circle cx="141.4" cy="50.2" r="1.4" fill="#3a30b8" opacity="0.45"/>
<circle cx="133.8" cy="60.7" r="0.9" fill="#7a64cc" opacity="0.45"/>
<circle cx="134.5" cy="54.2" r="1.2" fill="#4848d8" opacity="0.45"/>
<circle cx="144.0" cy="53.7" r="1.3" fill="#7a64cc" opacity="0.45"/>
<circle cx="133.8" cy="44.9" r="1.4" fill="#a688d4" opacity="0.45"/>
<circle cx="150.7" cy="66.5" r="0.9" fill="#a688d4" opacity="0.45"/>
<circle cx="147.1" cy="65.0" r="1.1" fill="#a688d4" opacity="0.45"/>
<circle cx="144.8" cy="66.6" r="1.2" fill="#3a30b8" opacity="0.45"/>
<circle cx="145.8" cy="64.9" r="1.6" fill="#a688d4" opacity="0.45"/>
<circle cx="146.3" cy="59.6" r="1.6" fill="#4848d8" opacity="0.45"/>
<circle cx="149.7" cy="62.9" r="1.3" fill="#3a30b8" opacity="0.45"/>
<circle cx="144.1" cy="58.4" r="1.0" fill="#a688d4" opacity="0.45"/>
<circle cx="150.5" cy="63.9" r="0.8" fill="#3a30b8" opacity="0.45"/>
<circle cx="144.8" cy="67.5" r="1.5" fill="#7a64cc" opacity="0.45"/>
<circle cx="148.5" cy="56.3" r="0.9" fill="#7a64cc" opacity="0.45"/>
<circle cx="147.2" cy="62.5" r="1.1" fill="#7a64cc" opacity="0.45"/>
<circle cx="144.1" cy="61.6" r="1.4" fill="#7a64cc" opacity="0.45"/>
<circle cx="142.1" cy="68.7" r="0.8" fill="#7a64cc" opacity="0.45"/>
<circle cx="142.7" cy="67.5" r="1.5" fill="#7a64cc" opacity="0.45"/>
<circle cx="142.7" cy="59.1" r="1.5" fill="#3a30b8" opacity="0.45"/>
<circle cx="148.9" cy="59.9" r="1.2" fill="#3a30b8" opacity="0.45"/>
<circle cx="143.1" cy="67.9" r="1.0" fill="#a688d4" opacity="0.45"/>
<circle cx="147.5" cy="66.4" r="1.4" fill="#3a30b8" opacity="0.45"/>
<circle cx="153.5" cy="63.1" r="1.2" fill="#4848d8" opacity="0.45"/>
<circle cx="150.8" cy="68.4" r="1.0" fill="#4848d8" opacity="0.45"/>
<circle cx="148.8" cy="59.4" r="1.1" fill="#3a30b8" opacity="0.45"/>
<circle cx="145.3" cy="62.1" r="0.8" fill="#7a64cc" opacity="0.45"/>
<circle cx="153.6" cy="62.6" r="1.1" fill="#7a64cc" opacity="0.45"/>
<circle cx="150.1" cy="64.8" r="1.0" fill="#4848d8" opacity="0.45"/>
<circle cx="142.0" cy="67.7" r="1.1" fill="#7a64cc" opacity="0.45"/>
<circle cx="148.3" cy="56.0" r="1.1" fill="#7a64cc" opacity="0.45"/>
<circle cx="142.5" cy="57.1" r="1.3" fill="#7a64cc" opacity="0.45"/>
<circle cx="152.8" cy="66.0" r="1.0" fill="#a688d4" opacity="0.45"/>
<circle cx="141.7" cy="66.2" r="1.4" fill="#7a64cc" opacity="0.45"/>
<circle cx="141.5" cy="57.5" r="1.2" fill="#4848d8" opacity="0.45"/>
<circle cx="144.2" cy="58.1" r="1.4" fill="#a688d4" opacity="0.45"/>
<circle cx="142.4" cy="64.2" r="1.5" fill="#7a64cc" opacity="0.45"/>
<circle cx="148.3" cy="68.0" r="1.4" fill="#4848d8" opacity="0.45"/>
<circle cx="150.6" cy="62.0" r="1.4" fill="#7a64cc" opacity="0.45"/>
<circle cx="139.5" cy="64.4" r="0.9" fill="#a688d4" opacity="0.45"/>
<circle cx="144.7" cy="56.0" r="1.0" fill="#a688d4" opacity="0.45"/>
<circle cx="106.0" cy="68.9" r="0.9" fill="#a688d4" opacity="0.45"/>
<circle cx="112.6" cy="66.4" r="1.0" fill="#3a30b8" opacity="0.45"/>
<circle cx="103.4" cy="62.9" r="1.0" fill="#7a64cc" opacity="0.45"/>
<circle cx="112.0" cy="61.3" r="0.9" fill="#3a30b8" opacity="0.45"/>
<circle cx="103.4" cy="56.1" r="1.0" fill="#4848d8" opacity="0.45"/>
<circle cx="106.4" cy="57.0" r="1.1" fill="#a688d4" opacity="0.45"/>
<circle cx="107.5" cy="53.6" r="1.0" fill="#a688d4" opacity="0.45"/>
<circle cx="111.7" cy="66.2" r="1.2" fill="#a688d4" opacity="0.45"/>
<circle cx="101.6" cy="54.7" r="1.3" fill="#7a64cc" opacity="0.45"/>
<circle cx="110.2" cy="54.5" r="1.5" fill="#a688d4" opacity="0.45"/>
<circle cx="107.5" cy="60.9" r="1.1" fill="#4848d8" opacity="0.45"/>
<circle cx="107.9" cy="64.5" r="1.1" fill="#a688d4" opacity="0.45"/>
<circle cx="105.7" cy="66.8" r="1.0" fill="#7a64cc" opacity="0.45"/>
<circle cx="99.3" cy="62.3" r="0.9" fill="#a688d4" opacity="0.45"/>
<circle cx="109.0" cy="65.4" r="1.0" fill="#4848d8" opacity="0.45"/>
<circle cx="100.7" cy="59.2" r="1.3" fill="#a688d4" opacity="0.45"/>
<circle cx="101.9" cy="67.3" r="1.0" fill="#a688d4" opacity="0.45"/>
<circle cx="105.6" cy="59.5" r="1.1" fill="#7a64cc" opacity="0.45"/>
<circle cx="101.9" cy="59.7" r="1.3" fill="#4848d8" opacity="0.45"/>
<circle cx="104.6" cy="56.3" r="1.5" fill="#7a64cc" opacity="0.45"/>
<circle cx="106.6" cy="69.3" r="0.9" fill="#3a30b8" opacity="0.45"/>
<circle cx="105.3" cy="56.6" r="1.5" fill="#a688d4" opacity="0.45"/>
<circle cx="106.2" cy="58.7" r="1.6" fill="#7a64cc" opacity="0.45"/>
<circle cx="105.4" cy="55.0" r="1.5" fill="#3a30b8" opacity="0.45"/>
<circle cx="112.8" cy="63.5" r="1.0" fill="#4848d8" opacity="0.45"/>
<circle cx="109.6" cy="59.5" r="1.2" fill="#3a30b8" opacity="0.45"/>
<circle cx="99.3" cy="56.9" r="0.9" fill="#3a30b8" opacity="0.45"/>
<circle cx="105.9" cy="64.4" r="0.8" fill="#7a64cc" opacity="0.45"/>
<circle cx="99.7" cy="63.6" r="1.1" fill="#4848d8" opacity="0.45"/>
<circle cx="102.9" cy="60.2" r="0.8" fill="#3a30b8" opacity="0.45"/>
<circle cx="98.2" cy="59.7" r="1.2" fill="#3a30b8" opacity="0.45"/>
<circle cx="106.5" cy="64.5" r="1.5" fill="#7a64cc" opacity="0.45"/>
<circle cx="105.7" cy="68.1" r="1.4" fill="#3a30b8" opacity="0.45"/>
<circle cx="101.1" cy="66.7" r="1.5" fill="#3a30b8" opacity="0.45"/>
<circle cx="107.3" cy="56.3" r="1.4" fill="#7a64cc" opacity="0.45"/>
<circle cx="103.9" cy="61.6" r="1.5" fill="#4848d8" opacity="0.45"/>
<circle cx="112.9" cy="62.2" r="1.5" fill="#7a64cc" opacity="0.45"/>
<circle cx="100.5" cy="62.4" r="1.1" fill="#3a30b8" opacity="0.45"/>
<circle cx="108.2" cy="66.4" r="1.5" fill="#a688d4" opacity="0.45"/>
<circle cx="114.1" cy="61.2" r="1.1" fill="#a688d4" opacity="0.45"/>
<circle cx="112.3" cy="59.7" r="0.9" fill="#4848d8" opacity="0.45"/>
<circle cx="104.7" cy="66.5" r="1.3" fill="#3a30b8" opacity="0.45"/>
<circle cx="100.5" cy="59.2" r="1.0" fill="#4848d8" opacity="0.45"/>
<circle cx="102.7" cy="65.2" r="1.0" fill="#a688d4" opacity="0.45"/>
<circle cx="111.7" cy="62.4" r="1.5" fill="#a688d4" opacity="0.45"/>
<circle cx="87.7" cy="70.9" r="1.4" fill="#3a30b8" opacity="0.45"/>
<circle cx="94.5" cy="70.6" r="1.5" fill="#7a64cc" opacity="0.45"/>
<circle cx="100.1" cy="66.2" r="0.8" fill="#a688d4" opacity="0.45"/>
<circle cx="89.8" cy="67.7" r="1.5" fill="#a688d4" opacity="0.45"/>
<circle cx="98.2" cy="63.6" r="1.5" fill="#4848d8" opacity="0.45"/>
<circle cx="93.0" cy="67.8" r="1.0" fill="#a688d4" opacity="0.45"/>
<circle cx="89.9" cy="64.6" r="1.5" fill="#7a64cc" opacity="0.45"/>
<circle cx="97.6" cy="63.0" r="1.1" fill="#4848d8" opacity="0.45"/>
<circle cx="99.2" cy="64.3" r="1.1" fill="#7a64cc" opacity="0.45"/>
<circle cx="90.2" cy="71.0" r="0.8" fill="#7a64cc" opacity="0.45"/>
<circle cx="92.7" cy="63.0" r="1.1" fill="#a688d4" opacity="0.45"/>
<circle cx="98.8" cy="68.6" r="0.9" fill="#3a30b8" opacity="0.45"/>
<circle cx="95.9" cy="62.2" r="1.1" fill="#7a64cc" opacity="0.45"/>
<circle cx="94.5" cy="60.1" r="1.3" fill="#4848d8" opacity="0.45"/>
<circle cx="96.9" cy="69.9" r="1.1" fill="#a688d4" opacity="0.45"/>
<circle cx="85.6" cy="59.7" r="1.4" fill="#7a64cc" opacity="0.45"/>
<circle cx="85.5" cy="61.6" r="1.3" fill="#a688d4" opacity="0.45"/>
<circle cx="90.5" cy="59.5" r="1.1" fill="#7a64cc" opacity="0.45"/>
<circle cx="90.2" cy="69.3" r="1.5" fill="#4848d8" opacity="0.45"/>
<circle cx="86.5" cy="69.0" r="1.0" fill="#a688d4" opacity="0.45"/>
<circle cx="92.5" cy="69.0" r="1.3" fill="#3a30b8" opacity="0.45"/>
<circle cx="90.3" cy="71.2" r="0.9" fill="#a688d4" opacity="0.45"/>
<circle cx="95.5" cy="70.6" r="1.2" fill="#7a64cc" opacity="0.45"/>
<circle cx="96.9" cy="60.8" r="1.0" fill="#4848d8" opacity="0.45"/>
<circle cx="98.2" cy="58.9" r="1.5" fill="#7a64cc" opacity="0.45"/>
<circle cx="88.9" cy="68.0" r="1.3" fill="#4848d8" opacity="0.45"/>
<circle cx="89.7" cy="57.3" r="0.9" fill="#7a64cc" opacity="0.45"/>
<circle cx="85.6" cy="64.4" r="1.2" fill="#4848d8" opacity="0.45"/>
<circle cx="91.3" cy="68.7" r="1.5" fill="#3a30b8" opacity="0.45"/>
<circle cx="88.7" cy="68.9" r="1.3" fill="#a688d4" opacity="0.45"/>
<circle cx="98.5" cy="62.6" r="1.1" fill="#3a30b8" opacity="0.45"/>
<circle cx="88.9" cy="69.1" r="1.3" fill="#a688d4" opacity="0.45"/>
<circle cx="89.8" cy="62.7" r="1.5" fill="#3a30b8" opacity="0.45"/>
<circle cx="100.0" cy="61.2" r="1.5" fill="#a688d4" opacity="0.45"/>
<circle cx="89.8" cy="71.8" r="1.5" fill="#3a30b8" opacity="0.45"/>
<circle cx="92.8" cy="62.5" r="0.9" fill="#a688d4" opacity="0.45"/>
<circle cx="98.3" cy="69.3" r="1.2" fill="#3a30b8" opacity="0.45"/>
<circle cx="91.6" cy="58.0" r="1.4" fill="#4848d8" opacity="0.45"/>
<circle cx="93.2" cy="61.2" r="1.2" fill="#a688d4" opacity="0.45"/>
<circle cx="96.1" cy="57.6" r="1.5" fill="#7a64cc" opacity="0.45"/>
<circle cx="82.3" cy="67.3" r="0.9" fill="#4848d8" opacity="0.45"/>
<circle cx="74.2" cy="74.0" r="0.9" fill="#7a64cc" opacity="0.45"/>
<circle cx="71.4" cy="66.4" r="1.0" fill="#a688d4" opacity="0.45"/>
<circle cx="80.3" cy="60.6" r="1.4" fill="#7a64cc" opacity="0.45"/>
<circle cx="75.2" cy="75.1" r="0.8" fill="#7a64cc" opacity="0.45"/>
<circle cx="79.5" cy="59.6" r="1.6" fill="#3a30b8" opacity="0.45"/>
<circle cx="76.5" cy="72.6" r="1.2" fill="#7a64cc" opacity="0.45"/>
<circle cx="73.6" cy="73.7" r="1.0" fill="#7a64cc" opacity="0.45"/>
<circle cx="71.4" cy="64.3" r="1.1" fill="#7a64cc" opacity="0.45"/>
<circle cx="71.5" cy="59.1" r="1.4" fill="#3a30b8" opacity="0.45"/>
<circle cx="77.2" cy="65.1" r="1.5" fill="#a688d4" opacity="0.45"/>
<circle cx="79.6" cy="62.9" r="1.6" fill="#3a30b8" opacity="0.45"/>
<circle cx="76.3" cy="69.9" r="1.1" fill="#4848d8" opacity="0.45"/>
<circle cx="76.2" cy="61.3" r="1.0" fill="#a688d4" opacity="0.45"/>
<circle cx="70.4" cy="59.3" r="1.1" fill="#3a30b8" opacity="0.45"/>
<circle cx="75.2" cy="66.9" r="1.5" fill="#3a30b8" opacity="0.45"/>
<circle cx="77.1" cy="61.0" r="1.4" fill="#a688d4" opacity="0.45"/>
<circle cx="81.9" cy="61.8" r="1.3" fill="#3a30b8" opacity="0.45"/>
<circle cx="68.6" cy="67.0" r="0.9" fill="#a688d4" opacity="0.45"/>
<circle cx="83.3" cy="61.9" r="1.4" fill="#3a30b8" opacity="0.45"/>
<circle cx="80.3" cy="70.1" r="1.1" fill="#3a30b8" opacity="0.45"/>
<circle cx="78.5" cy="69.7" r="1.5" fill="#a688d4" opacity="0.45"/>
<circle cx="77.1" cy="57.5" r="1.1" fill="#7a64cc" opacity="0.45"/>
<circle cx="75.2" cy="69.0" r="0.9" fill="#3a30b8" opacity="0.45"/>
<circle cx="74.3" cy="64.8" r="0.9" fill="#a688d4" opacity="0.45"/>
<circle cx="71.9" cy="66.1" r="0.9" fill="#a688d4" opacity="0.45"/>
<circle cx="80.2" cy="71.1" r="1.2" fill="#3a30b8" opacity="0.45"/>
<circle cx="76.5" cy="57.1" r="1.3" fill="#4848d8" opacity="0.45"/>
<circle cx="75.9" cy="58.1" r="1.3" fill="#7a64cc" opacity="0.45"/>
<circle cx="80.5" cy="71.5" r="1.0" fill="#a688d4" opacity="0.45"/>
<circle cx="75.9" cy="72.6" r="0.9" fill="#3a30b8" opacity="0.45"/>
<circle cx="78.7" cy="58.7" r="1.0" fill="#a688d4" opacity="0.45"/>
<circle cx="82.5" cy="62.2" r="0.9" fill="#7a64cc" opacity="0.45"/>
<circle cx="80.0" cy="62.1" r="0.9" fill="#7a64cc" opacity="0.45"/>
<circle cx="73.5" cy="66.0" r="1.4" fill="#4848d8" opacity="0.45"/>
<circle cx="73.5" cy="69.1" r="1.1" fill="#a688d4" opacity="0.45"/>
<circle cx="68.6" cy="68.8" r="1.0" fill="#4848d8" opacity="0.45"/>
<circle cx="79.6" cy="72.6" r="1.2" fill="#7a64cc" opacity="0.45"/>
<circle cx="68.1" cy="66.2" r="1.5" fill="#7a64cc" opacity="0.45"/>
<circle cx="76.5" cy="67.9" r="0.8" fill="#a688d4" opacity="0.45"/>
<circle cx="80.9" cy="73.4" r="1.6" fill="#7a64cc" opacity="0.45"/>
<circle cx="72.1" cy="69.9" r="1.1" fill="#4848d8" opacity="0.45"/>
<circle cx="84.5" cy="69.5" r="1.5" fill="#3a30b8" opacity="0.45"/>
<circle cx="69.3" cy="67.3" r="1.3" fill="#a688d4" opacity="0.45"/>
<circle cx="74.0" cy="59.6" r="1.3" fill="#7a64cc" opacity="0.45"/>
<circle cx="71.5" cy="59.2" r="1.5" fill="#7a64cc" opacity="0.45"/>
<circle cx="83.5" cy="64.9" r="1.2" fill="#4848d8" opacity="0.45"/>
<circle cx="82.0" cy="61.0" r="0.8" fill="#3a30b8" opacity="0.45"/>
<circle cx="73.9" cy="63.3" r="1.4" fill="#3a30b8" opacity="0.45"/>
<circle cx="82.0" cy="61.7" r="0.8" fill="#4848d8" opacity="0.45"/>
<circle cx="131.9" cy="62.8" r="1.6" fill="#7a64cc" opacity="0.45"/>
<circle cx="130.5" cy="63.8" r="1.0" fill="#7a64cc" opacity="0.45"/>
<circle cx="136.9" cy="72.6" r="1.5" fill="#3a30b8" opacity="0.45"/>
<circle cx="127.4" cy="67.0" r="0.9" fill="#4848d8" opacity="0.45"/>
<circle cx="129.7" cy="61.9" r="1.4" fill="#a688d4" opacity="0.45"/>
<circle cx="129.8" cy="71.3" r="1.4" fill="#4848d8" opacity="0.45"/>
<circle cx="124.8" cy="67.5" r="1.2" fill="#4848d8" opacity="0.45"/>
<circle cx="137.0" cy="66.9" r="1.2" fill="#4848d8" opacity="0.45"/>
<circle cx="128.2" cy="63.4" r="1.5" fill="#4848d8" opacity="0.45"/>
<circle cx="124.0" cy="67.6" r="1.5" fill="#7a64cc" opacity="0.45"/>
<circle cx="138.4" cy="70.5" r="1.4" fill="#3a30b8" opacity="0.45"/>
<circle cx="137.2" cy="72.6" r="1.0" fill="#3a30b8" opacity="0.45"/>
<circle cx="134.9" cy="63.8" r="1.0" fill="#7a64cc" opacity="0.45"/>
<circle cx="131.6" cy="60.1" r="1.3" fill="#3a30b8" opacity="0.45"/>
<circle cx="134.6" cy="63.3" r="1.0" fill="#a688d4" opacity="0.45"/>
<circle cx="124.7" cy="63.8" r="0.9" fill="#7a64cc" opacity="0.45"/>
<circle cx="125.0" cy="64.1" r="1.4" fill="#3a30b8" opacity="0.45"/>
<circle cx="125.4" cy="66.4" r="0.8" fill="#7a64cc" opacity="0.45"/>
<circle cx="131.3" cy="60.2" r="1.3" fill="#4848d8" opacity="0.45"/>
<circle cx="129.0" cy="73.1" r="0.8" fill="#7a64cc" opacity="0.45"/>
<circle cx="124.9" cy="67.8" r="1.5" fill="#7a64cc" opacity="0.45"/>
<circle cx="129.1" cy="68.3" r="1.6" fill="#7a64cc" opacity="0.45"/>
<circle cx="127.7" cy="60.7" r="0.9" fill="#7a64cc" opacity="0.45"/>
<circle cx="133.6" cy="75.0" r="1.4" fill="#4848d8" opacity="0.45"/>
<circle cx="135.1" cy="68.2" r="0.9" fill="#7a64cc" opacity="0.45"/>
<circle cx="135.5" cy="69.9" r="1.2" fill="#7a64cc" opacity="0.45"/>
<circle cx="134.7" cy="73.4" r="1.5" fill="#3a30b8" opacity="0.45"/>
<circle cx="136.5" cy="62.0" r="1.1" fill="#4848d8" opacity="0.45"/>
<circle cx="131.3" cy="64.6" r="1.5" fill="#7a64cc" opacity="0.45"/>
<circle cx="132.0" cy="59.6" r="1.6" fill="#3a30b8" opacity="0.45"/>
<circle cx="127.4" cy="69.4" r="1.0" fill="#a688d4" opacity="0.45"/>
<circle cx="138.6" cy="72.7" r="1.2" fill="#a688d4" opacity="0.45"/>
<circle cx="125.0" cy="69.3" r="1.2" fill="#7a64cc" opacity="0.45"/>
<circle cx="135.8" cy="63.3" r="1.1" fill="#a688d4" opacity="0.45"/>
<circle cx="127.0" cy="67.4" r="1.0" fill="#4848d8" opacity="0.45"/>
<circle cx="130.3" cy="65.8" r="0.8" fill="#3a30b8" opacity="0.45"/>
<circle cx="130.3" cy="69.4" r="1.6" fill="#a688d4" opacity="0.45"/>
<circle cx="135.9" cy="73.0" r="0.8" fill="#7a64cc" opacity="0.45"/>
<circle cx="126.9" cy="62.5" r="1.4" fill="#a688d4" opacity="0.45"/>
<circle cx="124.1" cy="68.4" r="1.1" fill="#a688d4" opacity="0.45"/>
<circle cx="111.8" cy="69.1" r="1.6" fill="#a688d4" opacity="0.45"/>
<circle cx="117.4" cy="79.7" r="1.6" fill="#3a30b8" opacity="0.45"/>
<circle cx="114.7" cy="69.6" r="1.5" fill="#a688d4" opacity="0.45"/>
<circle cx="114.4" cy="66.1" r="1.2" fill="#4848d8" opacity="0.45"/>
<circle cx="115.7" cy="69.2" r="1.3" fill="#7a64cc" opacity="0.45"/>
<circle cx="108.3" cy="72.4" r="0.9" fill="#7a64cc" opacity="0.45"/>
<circle cx="122.4" cy="70.8" r="0.9" fill="#a688d4" opacity="0.45"/>
<circle cx="118.8" cy="68.8" r="0.8" fill="#a688d4" opacity="0.45"/>
<circle cx="108.3" cy="68.2" r="1.1" fill="#a688d4" opacity="0.45"/>
<circle cx="113.0" cy="65.4" r="1.4" fill="#a688d4" opacity="0.45"/>
<circle cx="115.2" cy="77.0" r="1.5" fill="#3a30b8" opacity="0.45"/>
<circle cx="123.6" cy="69.2" r="1.3" fill="#4848d8" opacity="0.45"/>
<circle cx="112.7" cy="67.7" r="1.3" fill="#3a30b8" opacity="0.45"/>
<circle cx="122.7" cy="66.8" r="1.5" fill="#4848d8" opacity="0.45"/>
<circle cx="114.9" cy="76.6" r="0.8" fill="#7a64cc" opacity="0.45"/>
<circle cx="124.6" cy="71.0" r="1.0" fill="#4848d8" opacity="0.45"/>
<circle cx="117.7" cy="73.3" r="1.0" fill="#a688d4" opacity="0.45"/>
<circle cx="108.6" cy="70.6" r="0.9" fill="#7a64cc" opacity="0.45"/>
<circle cx="119.6" cy="75.0" r="0.8" fill="#3a30b8" opacity="0.45"/>
<circle cx="118.1" cy="77.3" r="0.9" fill="#4848d8" opacity="0.45"/>
<circle cx="116.6" cy="65.0" r="1.0" fill="#4848d8" opacity="0.45"/>
<circle cx="117.7" cy="72.8" r="1.0" fill="#4848d8" opacity="0.45"/>
<circle cx="112.9" cy="74.8" r="1.4" fill="#a688d4" opacity="0.45"/>
<circle cx="117.0" cy="74.6" r="1.2" fill="#4848d8" opacity="0.45"/>
<circle cx="120.4" cy="65.9" r="1.0" fill="#a688d4" opacity="0.45"/>
<circle cx="119.6" cy="74.0" r="1.6" fill="#3a30b8" opacity="0.45"/>
<circle cx="112.8" cy="77.3" r="0.9" fill="#a688d4" opacity="0.45"/>
<circle cx="119.1" cy="68.1" r="1.4" fill="#4848d8" opacity="0.45"/>
<circle cx="114.4" cy="68.1" r="1.4" fill="#3a30b8" opacity="0.45"/>
<circle cx="113.6" cy="63.9" r="1.0" fill="#7a64cc" opacity="0.45"/>
<circle cx="122.2" cy="71.7" r="0.8" fill="#7a64cc" opacity="0.45"/>
<circle cx="123.0" cy="73.0" r="1.0" fill="#3a30b8" opacity="0.45"/>
<circle cx="112.3" cy="65.7" r="1.5" fill="#7a64cc" opacity="0.45"/>
<circle cx="115.7" cy="64.1" r="1.3" fill="#4848d8" opacity="0.45"/>
<circle cx="115.9" cy="67.5" r="1.0" fill="#3a30b8" opacity="0.45"/>
<circle cx="115.4" cy="69.6" r="1.1" fill="#a688d4" opacity="0.45"/>
<circle cx="121.4" cy="74.6" r="1.6" fill="#4848d8" opacity="0.45"/>
<circle cx="119.1" cy="73.8" r="1.2" fill="#4848d8" opacity="0.45"/>
<circle cx="116.2" cy="70.8" r="1.5" fill="#3a30b8" opacity="0.45"/>
<circle cx="109.6" cy="66.6" r="1.6" fill="#4848d8" opacity="0.45"/>
<circle cx="115.4" cy="78.9" r="1.3" fill="#3a30b8" opacity="0.45"/>
<circle cx="121.6" cy="72.3" r="1.1" fill="#7a64cc" opacity="0.45"/>
<circle cx="112.8" cy="71.3" r="1.2" fill="#7a64cc" opacity="0.45"/>
<circle cx="122.4" cy="76.1" r="1.0" fill="#7a64cc" opacity="0.45"/>
<circle cx="115.9" cy="65.6" r="1.4" fill="#7a64cc" opacity="0.45"/>
<circle cx="99.9" cy="68.1" r="1.0" fill="#3a30b8" opacity="0.45"/>
<circle cx="103.6" cy="71.5" r="1.4" fill="#7a64cc" opacity="0.45"/>
<circle cx="104.9" cy="78.1" r="1.1" fill="#3a30b8" opacity="0.45"/>
<circle cx="102.5" cy="79.9" r="1.0" fill="#a688d4" opacity="0.45"/>
<circle cx="97.2" cy="70.7" r="1.3" fill="#a688d4" opacity="0.45"/>
<circle cx="108.8" cy="71.1" r="1.4" fill="#a688d4" opacity="0.45"/>
<circle cx="95.2" cy="75.2" r="1.3" fill="#7a64cc" opacity="0.45"/>
<circle cx="102.8" cy="76.6" r="1.0" fill="#a688d4" opacity="0.45"/>
<circle cx="96.1" cy="70.0" r="0.9" fill="#a688d4" opacity="0.45"/>
<circle cx="107.6" cy="72.5" r="1.5" fill="#7a64cc" opacity="0.45"/>
<circle cx="106.4" cy="69.2" r="1.3" fill="#4848d8" opacity="0.45"/>
<circle cx="104.5" cy="72.1" r="1.4" fill="#3a30b8" opacity="0.45"/>
<circle cx="97.4" cy="76.9" r="1.3" fill="#4848d8" opacity="0.45"/>
<circle cx="101.5" cy="80.5" r="1.1" fill="#4848d8" opacity="0.45"/>
<circle cx="106.8" cy="68.9" r="1.2" fill="#7a64cc" opacity="0.45"/>
<circle cx="103.7" cy="67.2" r="1.1" fill="#a688d4" opacity="0.45"/>
<circle cx="104.2" cy="71.1" r="1.2" fill="#3a30b8" opacity="0.45"/>
<circle cx="96.5" cy="78.5" r="1.1" fill="#3a30b8" opacity="0.45"/>
<circle cx="100.7" cy="79.8" r="1.0" fill="#3a30b8" opacity="0.45"/>
<circle cx="102.4" cy="80.4" r="1.4" fill="#7a64cc" opacity="0.45"/>
<circle cx="107.0" cy="68.7" r="1.3" fill="#a688d4" opacity="0.45"/>
<circle cx="106.4" cy="71.6" r="1.3" fill="#a688d4" opacity="0.45"/>
<circle cx="97.0" cy="79.6" r="1.0" fill="#a688d4" opacity="0.45"/>
<circle cx="107.2" cy="68.8" r="1.5" fill="#4848d8" opacity="0.45"/>
<circle cx="96.8" cy="78.8" r="1.6" fill="#7a64cc" opacity="0.45"/>
<circle cx="97.4" cy="75.6" r="0.8" fill="#7a64cc" opacity="0.45"/>
<circle cx="96.8" cy="71.7" r="1.6" fill="#3a30b8" opacity="0.45"/>
<circle cx="102.6" cy="77.2" r="1.3" fill="#3a30b8" opacity="0.45"/>
<circle cx="101.3" cy="80.8" r="1.5" fill="#4848d8" opacity="0.45"/>
<circle cx="101.2" cy="81.4" r="1.5" fill="#a688d4" opacity="0.45"/>
<circle cx="101.8" cy="77.1" r="1.0" fill="#a688d4" opacity="0.45"/>
<circle cx="95.3" cy="73.3" r="1.3" fill="#3a30b8" opacity="0.45"/>
<circle cx="107.3" cy="77.9" r="1.0" fill="#7a64cc" opacity="0.45"/>
<circle cx="102.3" cy="72.5" r="1.0" fill="#7a64cc" opacity="0.45"/>
<circle cx="105.4" cy="80.7" r="1.4" fill="#a688d4" opacity="0.45"/>
<circle cx="96.9" cy="75.9" r="1.1" fill="#3a30b8" opacity="0.45"/>
<circle cx="93.2" cy="75.3" r="1.3" fill="#4848d8" opacity="0.45"/>
<circle cx="85.2" cy="72.7" r="1.4" fill="#a688d4" opacity="0.45"/>
<circle cx="88.1" cy="67.9" r="1.6" fill="#4848d8" opacity="0.45"/>
<circle cx="94.3" cy="76.4" r="1.1" fill="#7a64cc" opacity="0.45"/>
<circle cx="92.8" cy="79.9" r="1.6" fill="#3a30b8" opacity="0.45"/>
<circle cx="86.7" cy="71.1" r="1.6" fill="#4848d8" opacity="0.45"/>
<circle cx="91.1" cy="74.4" r="0.9" fill="#7a64cc" opacity="0.45"/>
<circle cx="82.5" cy="70.1" r="1.5" fill="#3a30b8" opacity="0.45"/>
<circle cx="94.0" cy="71.8" r="1.1" fill="#3a30b8" opacity="0.45"/>
<circle cx="94.4" cy="78.2" r="1.5" fill="#4848d8" opacity="0.45"/>
<circle cx="94.2" cy="70.4" r="1.0" fill="#a688d4" opacity="0.45"/>
<circle cx="92.3" cy="71.3" r="1.1" fill="#a688d4" opacity="0.45"/>
<circle cx="85.4" cy="73.1" r="1.0" fill="#4848d8" opacity="0.45"/>
<circle cx="81.9" cy="78.4" r="1.2" fill="#4848d8" opacity="0.45"/>
<circle cx="86.6" cy="71.3" r="1.2" fill="#3a30b8" opacity="0.45"/>
<circle cx="88.0" cy="81.5" r="0.8" fill="#a688d4" opacity="0.45"/>
<circle cx="85.0" cy="70.7" r="0.8" fill="#4848d8" opacity="0.45"/>
<circle cx="85.7" cy="69.7" r="1.3" fill="#a688d4" opacity="0.45"/>
<circle cx="80.1" cy="73.6" r="1.4" fill="#3a30b8" opacity="0.45"/>
<circle cx="87.3" cy="83.1" r="1.3" fill="#3a30b8" opacity="0.45"/>
<circle cx="93.1" cy="75.7" r="1.3" fill="#7a64cc" opacity="0.45"/>
<circle cx="90.3" cy="82.7" r="1.0" fill="#a688d4" opacity="0.45"/>
<circle cx="91.7" cy="68.9" r="1.6" fill="#3a30b8" opacity="0.45"/>
<circle cx="89.5" cy="82.7" r="1.6" fill="#7a64cc" opacity="0.45"/>
<circle cx="93.3" cy="78.4" r="1.2" fill="#7a64cc" opacity="0.45"/>
<circle cx="88.0" cy="83.5" r="0.8" fill="#3a30b8" opacity="0.45"/>
<circle cx="82.0" cy="74.9" r="1.0" fill="#3a30b8" opacity="0.45"/>
<circle cx="85.5" cy="74.2" r="1.2" fill="#a688d4" opacity="0.45"/>
<circle cx="90.9" cy="72.6" r="1.2" fill="#7a64cc" opacity="0.45"/>
<circle cx="91.9" cy="70.3" r="1.2" fill="#a688d4" opacity="0.45"/>
<circle cx="92.8" cy="74.6" r="0.8" fill="#a688d4" opacity="0.45"/>
<circle cx="91.8" cy="72.0" r="1.6" fill="#3a30b8" opacity="0.45"/>
<circle cx="82.8" cy="77.2" r="0.8" fill="#7a64cc" opacity="0.45"/>
<circle cx="90.1" cy="78.4" r="1.2" fill="#a688d4" opacity="0.45"/>
<circle cx="90.2" cy="74.9" r="1.4" fill="#a688d4" opacity="0.45"/>
<circle cx="88.0" cy="77.4" r="1.1" fill="#3a30b8" opacity="0.45"/>
<circle cx="82.9" cy="70.9" r="1.2" fill="#7a64cc" opacity="0.45"/>
<circle cx="87.4" cy="80.3" r="1.1" fill="#a688d4" opacity="0.45"/>
<circle cx="90.1" cy="70.5" r="0.9" fill="#4848d8" opacity="0.45"/>
<circle cx="90.2" cy="83.2" r="1.5" fill="#4848d8" opacity="0.45"/>
<circle cx="125.4" cy="85.3" r="1.0" fill="#3a30b8" opacity="0.45"/>
<circle cx="130.2" cy="82.4" r="1.0" fill="#4848d8" opacity="0.45"/>
<circle cx="123.8" cy="77.4" r="1.2" fill="#a688d4" opacity="0.45"/>
<circle cx="128.8" cy="78.3" r="1.1" fill="#a688d4" opacity="0.45"/>
<circle cx="124.1" cy="77.5" r="1.5" fill="#7a64cc" opacity="0.45"/>
<circle cx="128.5" cy="81.3" r="1.2" fill="#7a64cc" opacity="0.45"/>
<circle cx="125.9" cy="81.1" r="1.0" fill="#a688d4" opacity="0.45"/>
<circle cx="127.4" cy="82.1" r="1.3" fill="#3a30b8" opacity="0.45"/>
<circle cx="130.9" cy="80.3" r="1.2" fill="#4848d8" opacity="0.45"/>
<circle cx="130.9" cy="79.3" r="1.4" fill="#3a30b8" opacity="0.45"/>
<circle cx="122.7" cy="81.3" r="1.6" fill="#4848d8" opacity="0.45"/>
<circle cx="128.7" cy="81.2" r="1.5" fill="#4848d8" opacity="0.45"/>
<circle cx="129.1" cy="78.7" r="1.2" fill="#a688d4" opacity="0.45"/>
<circle cx="132.4" cy="79.5" r="1.5" fill="#7a64cc" opacity="0.45"/>
<circle cx="129.6" cy="75.5" r="0.9" fill="#a688d4" opacity="0.45"/>
<circle cx="127.5" cy="85.0" r="1.3" fill="#4848d8" opacity="0.45"/>
<circle cx="129.5" cy="84.7" r="0.8" fill="#7a64cc" opacity="0.45"/>
<circle cx="122.8" cy="79.2" r="1.4" fill="#a688d4" opacity="0.45"/>
<circle cx="123.7" cy="77.8" r="1.5" fill="#4848d8" opacity="0.45"/>
<circle cx="131.3" cy="76.4" r="1.2" fill="#a688d4" opacity="0.45"/>
<circle cx="129.3" cy="79.7" r="1.5" fill="#7a64cc" opacity="0.45"/>
<circle cx="136.5" cy="81.6" r="1.0" fill="#a688d4" opacity="0.45"/>
<circle cx="141.6" cy="75.5" r="1.5" fill="#a688d4" opacity="0.45"/>
<circle cx="134.5" cy="82.4" r="0.8" fill="#3a30b8" opacity="0.45"/>
<circle cx="137.1" cy="83.1" r="0.9" fill="#7a64cc" opacity="0.45"/>
<circle cx="138.4" cy="83.7" r="1.3" fill="#3a30b8" opacity="0.45"/>
<circle cx="140.0" cy="84.3" r="1.5" fill="#3a30b8" opacity="0.45"/>
<circle cx="133.4" cy="82.6" r="0.8" fill="#3a30b8" opacity="0.45"/>
<circle cx="141.5" cy="84.0" r="1.3" fill="#3a30b8" opacity="0.45"/>
<circle cx="141.8" cy="74.8" r="1.2" fill="#a688d4" opacity="0.45"/>
<circle cx="144.1" cy="79.2" r="1.5" fill="#7a64cc" opacity="0.45"/>
<circle cx="143.0" cy="82.8" r="1.6" fill="#3a30b8" opacity="0.45"/>
<circle cx="143.3" cy="81.5" r="1.4" fill="#4848d8" opacity="0.45"/>
<circle cx="144.3" cy="80.1" r="0.9" fill="#7a64cc" opacity="0.45"/>
<circle cx="143.1" cy="78.1" r="1.3" fill="#3a30b8" opacity="0.45"/>
<circle cx="143.9" cy="82.5" r="0.9" fill="#3a30b8" opacity="0.45"/>
<circle cx="137.8" cy="77.5" r="1.2" fill="#4848d8" opacity="0.45"/>
<circle cx="137.8" cy="83.5" r="1.1" fill="#3a30b8" opacity="0.45"/>
<circle cx="140.9" cy="85.7" r="1.0" fill="#7a64cc" opacity="0.45"/>
<circle cx="139.1" cy="84.1" r="1.0" fill="#7a64cc" opacity="0.45"/>
<circle cx="136.8" cy="74.5" r="0.9" fill="#7a64cc" opacity="0.45"/>
<circle cx="145.2" cy="80.7" r="1.2" fill="#7a64cc" opacity="0.45"/>
<circle cx="142.2" cy="76.3" r="1.4" fill="#a688d4" opacity="0.45"/>
<circle cx="137.1" cy="79.1" r="1.6" fill="#7a64cc" opacity="0.45"/>
<circle cx="139.5" cy="85.6" r="1.1" fill="#a688d4" opacity="0.45"/>
<circle cx="94.3" cy="85.4" r="1.0" fill="#a688d4" opacity="0.45"/>
<circle cx="85.7" cy="93.1" r="1.3" fill="#3a30b8" opacity="0.45"/>
<circle cx="87.1" cy="83.7" r="1.0" fill="#7a64cc" opacity="0.45"/>
<circle cx="92.6" cy="83.0" r="1.2" fill="#7a64cc" opacity="0.45"/>
<circle cx="85.6" cy="92.6" r="0.8" fill="#7a64cc" opacity="0.45"/>
<circle cx="88.4" cy="89.7" r="1.0" fill="#a688d4" opacity="0.45"/>
<circle cx="87.5" cy="85.8" r="1.5" fill="#3a30b8" opacity="0.45"/>
<circle cx="94.8" cy="92.7" r="0.8" fill="#7a64cc" opacity="0.45"/>
<circle cx="87.0" cy="88.3" r="1.0" fill="#3a30b8" opacity="0.45"/>
<circle cx="94.6" cy="91.8" r="1.4" fill="#7a64cc" opacity="0.45"/>
<circle cx="90.6" cy="90.5" r="0.8" fill="#a688d4" opacity="0.45"/>
<circle cx="88.3" cy="87.0" r="1.5" fill="#4848d8" opacity="0.45"/>
<circle cx="94.4" cy="88.3" r="1.0" fill="#a688d4" opacity="0.45"/>
<circle cx="92.1" cy="89.0" r="1.5" fill="#a688d4" opacity="0.45"/>
<circle cx="90.1" cy="93.2" r="1.4" fill="#4848d8" opacity="0.45"/>
<circle cx="92.3" cy="91.5" r="0.9" fill="#7a64cc" opacity="0.45"/>
<circle cx="84.4" cy="88.3" r="1.2" fill="#a688d4" opacity="0.45"/>
<circle cx="87.0" cy="90.3" r="1.5" fill="#7a64cc" opacity="0.45"/>
<circle cx="87.5" cy="91.7" r="1.2" fill="#7a64cc" opacity="0.45"/>
<circle cx="91.1" cy="83.3" r="0.8" fill="#4848d8" opacity="0.45"/>
<circle cx="89.2" cy="84.3" r="1.1" fill="#3a30b8" opacity="0.45"/>
<circle cx="89.1" cy="88.5" r="1.6" fill="#7a64cc" opacity="0.45"/>
<circle cx="88.2" cy="86.9" r="1.1" fill="#3a30b8" opacity="0.45"/>
<circle cx="86.0" cy="86.5" r="1.1" fill="#a688d4" opacity="0.45"/>
<circle cx="154.1" cy="33.8" r="1.3" fill="#3a30b8" opacity="0.45"/>
<circle cx="156.3" cy="36.6" r="1.2" fill="#a688d4" opacity="0.45"/>
<circle cx="155.5" cy="31.6" r="1.0" fill="#4848d8" opacity="0.45"/>
<circle cx="153.1" cy="33.4" r="0.9" fill="#7a64cc" opacity="0.45"/>
<circle cx="151.3" cy="36.2" r="1.4" fill="#4848d8" opacity="0.45"/>
<circle cx="153.0" cy="31.0" r="1.2" fill="#7a64cc" opacity="0.45"/>
<circle cx="151.0" cy="37.3" r="1.5" fill="#4848d8" opacity="0.45"/>
<circle cx="156.5" cy="38.1" r="0.8" fill="#3a30b8" opacity="0.45"/>
<circle cx="151.0" cy="36.7" r="1.3" fill="#a688d4" opacity="0.45"/>
<circle cx="157.0" cy="36.0" r="1.2" fill="#4848d8" opacity="0.45"/>
</g></g>
<rect x="64" y="20" width="90" height="76" fill="none" stroke="#1a1a1a" stroke-width="2"/>
<clipPath id="clipmy"><rect x="180" y="20" width="90" height="76"/></clipPath>
<g clip-path="url(#clipmy)">
<rect x="180.00" y="20.00" width="90.00" height="76.00" fill="#d2e2db"/>
<g filter="url(#soft)">
<circle cx="202.9" cy="35.8" r="7.8" fill="#d0a8de"/>
<circle cx="215.3" cy="29.6" r="7.8" fill="#d0a8de"/>
<circle cx="225.9" cy="28.7" r="7.8" fill="#d0a8de"/>
<circle cx="237.4" cy="33.2" r="7.8" fill="#d0a8de"/>
<circle cx="197.6" cy="46.4" r="7.8" fill="#d0a8de"/>
<circle cx="210.9" cy="43.8" r="7.8" fill="#d0a8de"/>
<circle cx="222.4" cy="42.0" r="7.8" fill="#d0a8de"/>
<circle cx="235.6" cy="44.7" r="7.8" fill="#d0a8de"/>
<circle cx="247.1" cy="43.8" r="7.8" fill="#d0a8de"/>
<circle cx="258.6" cy="48.2" r="7.8" fill="#d0a8de"/>
<circle cx="194.9" cy="60.6" r="7.8" fill="#d0a8de"/>
<circle cx="207.3" cy="56.2" r="7.8" fill="#d0a8de"/>
<circle cx="221.5" cy="53.5" r="7.8" fill="#d0a8de"/>
<circle cx="232.1" cy="55.3" r="7.8" fill="#d0a8de"/>
<circle cx="242.7" cy="58.8" r="7.8" fill="#d0a8de"/>
<circle cx="253.3" cy="60.6" r="7.8" fill="#d0a8de"/>
<circle cx="203.8" cy="68.6" r="7.8" fill="#d0a8de"/>
<circle cx="217.0" cy="65.0" r="7.8" fill="#d0a8de"/>
<circle cx="230.3" cy="66.8" r="7.8" fill="#d0a8de"/>
<circle cx="245.4" cy="69.4" r="7.8" fill="#d0a8de"/>
<circle cx="200.2" cy="80.0" r="7.8" fill="#d0a8de"/>
<circle cx="213.5" cy="76.5" r="7.8" fill="#d0a8de"/>
<circle cx="224.1" cy="74.8" r="7.8" fill="#d0a8de"/>
<circle cx="234.8" cy="76.5" r="7.8" fill="#d0a8de"/>
<circle cx="213.5" cy="90.7" r="7.8" fill="#d0a8de"/>
<circle cx="227.7" cy="87.1" r="7.8" fill="#d0a8de"/>
<circle cx="251.6" cy="90.7" r="5.5" fill="#c8b8dc"/>
<path d="M200.5 37.3A2.8 2.8 0 1 1 205.7 35.2" stroke="#4434c4" stroke-width="5.8" fill="none" stroke-linecap="round"/>
<path d="M216.6 27.1A2.8 2.8 0 1 1 213.2 31.5" stroke="#4434c4" stroke-width="5.8" fill="none" stroke-linecap="round"/>
<path d="M228.7 28.8A2.8 2.8 0 1 1 223.3 27.6" stroke="#4434c4" stroke-width="5.8" fill="none" stroke-linecap="round"/>
<path d="M240.2 33.5A2.8 2.8 0 1 1 234.9 32.0" stroke="#4434c4" stroke-width="5.8" fill="none" stroke-linecap="round"/>
<path d="M194.8 46.0A2.8 2.8 0 1 1 200.1 47.7" stroke="#4434c4" stroke-width="5.8" fill="none" stroke-linecap="round"/>
<path d="M210.1 46.5A2.8 2.8 0 1 1 212.6 41.6" stroke="#4434c4" stroke-width="5.8" fill="none" stroke-linecap="round"/>
<path d="M220.1 43.6A2.8 2.8 0 1 1 225.1 41.3" stroke="#4434c4" stroke-width="5.8" fill="none" stroke-linecap="round"/>
<path d="M232.9 44.1A2.8 2.8 0 1 1 238.0 46.2" stroke="#4434c4" stroke-width="5.8" fill="none" stroke-linecap="round"/>
<path d="M249.8 44.6A2.8 2.8 0 1 1 244.8 42.2" stroke="#4434c4" stroke-width="5.8" fill="none" stroke-linecap="round"/>
<path d="M261.4 47.9A2.8 2.8 0 1 1 255.9 47.5" stroke="#4434c4" stroke-width="5.8" fill="none" stroke-linecap="round"/>
<path d="M193.7 58.1A2.8 2.8 0 1 1 195.2 63.4" stroke="#4434c4" stroke-width="5.8" fill="none" stroke-linecap="round"/>
<path d="M209.6 57.8A2.8 2.8 0 1 1 205.7 53.9" stroke="#4434c4" stroke-width="5.8" fill="none" stroke-linecap="round"/>
<path d="M221.3 50.7A2.8 2.8 0 1 1 220.7 56.2" stroke="#4434c4" stroke-width="5.8" fill="none" stroke-linecap="round"/>
<path d="M229.4 54.7A2.8 2.8 0 1 1 234.5 56.8" stroke="#4434c4" stroke-width="5.8" fill="none" stroke-linecap="round"/>
<path d="M241.6 56.2A2.8 2.8 0 1 1 242.8 61.6" stroke="#4434c4" stroke-width="5.8" fill="none" stroke-linecap="round"/>
<path d="M253.1 57.8A2.8 2.8 0 1 1 252.5 63.3" stroke="#4434c4" stroke-width="5.8" fill="none" stroke-linecap="round"/>
<path d="M206.6 68.4A2.8 2.8 0 1 1 201.1 67.8" stroke="#4434c4" stroke-width="5.8" fill="none" stroke-linecap="round"/>
<path d="M219.1 66.9A2.8 2.8 0 1 1 215.7 62.5" stroke="#4434c4" stroke-width="5.8" fill="none" stroke-linecap="round"/>
<path d="M233.1 66.7A2.8 2.8 0 1 1 227.6 65.9" stroke="#4434c4" stroke-width="5.8" fill="none" stroke-linecap="round"/>
<path d="M242.6 69.8A2.8 2.8 0 1 1 248.1 70.0" stroke="#4434c4" stroke-width="5.8" fill="none" stroke-linecap="round"/>
<path d="M201.1 82.7A2.8 2.8 0 1 1 200.3 77.2" stroke="#4434c4" stroke-width="5.8" fill="none" stroke-linecap="round"/>
<path d="M211.5 78.5A2.8 2.8 0 1 1 216.0 75.3" stroke="#4434c4" stroke-width="5.8" fill="none" stroke-linecap="round"/>
<path d="M222.3 76.9A2.8 2.8 0 1 1 226.6 73.4" stroke="#4434c4" stroke-width="5.8" fill="none" stroke-linecap="round"/>
<path d="M237.0 74.8A2.8 2.8 0 1 1 232.1 77.4" stroke="#4434c4" stroke-width="5.8" fill="none" stroke-linecap="round"/>
<path d="M210.7 90.3A2.8 2.8 0 1 1 216.0 92.1" stroke="#4434c4" stroke-width="5.8" fill="none" stroke-linecap="round"/>
<path d="M230.3 88.2A2.8 2.8 0 1 1 225.7 85.1" stroke="#4434c4" stroke-width="5.8" fill="none" stroke-linecap="round"/>
</g></g>
<rect x="180" y="20" width="90" height="76" fill="none" stroke="#1a1a1a" stroke-width="2"/>
<clipPath id="clipbm"><rect x="297" y="20" width="90" height="76"/></clipPath>
<g clip-path="url(#clipbm)">
<rect x="297.00" y="20.00" width="90.00" height="76.00" fill="#cfe2da"/>
<g filter="url(#soft)">
<circle cx="314.6" cy="28.7" r="7.5" fill="#d4a6dc"/>
<circle cx="319.0" cy="42.0" r="7.5" fill="#d4a6dc"/>
<circle cx="335.8" cy="36.7" r="7.5" fill="#d4a6dc"/>
<circle cx="349.1" cy="40.2" r="7.5" fill="#d4a6dc"/>
<circle cx="362.4" cy="43.8" r="7.5" fill="#d4a6dc"/>
<circle cx="328.7" cy="49.1" r="7.5" fill="#d4a6dc"/>
<circle cx="311.9" cy="55.3" r="7.5" fill="#d4a6dc"/>
<circle cx="339.4" cy="54.4" r="7.5" fill="#d4a6dc"/>
<circle cx="350.0" cy="58.8" r="7.5" fill="#d4a6dc"/>
<circle cx="366.8" cy="59.7" r="7.5" fill="#d4a6dc"/>
<circle cx="304.0" cy="64.1" r="7.5" fill="#d4a6dc"/>
<circle cx="315.5" cy="65.9" r="7.5" fill="#d4a6dc"/>
<circle cx="327.0" cy="60.6" r="7.5" fill="#d4a6dc"/>
<circle cx="324.3" cy="70.3" r="7.5" fill="#d4a6dc"/>
<circle cx="338.5" cy="71.2" r="7.5" fill="#d4a6dc"/>
<circle cx="348.2" cy="70.3" r="7.5" fill="#d4a6dc"/>
<circle cx="357.9" cy="67.7" r="7.5" fill="#d4a6dc"/>
<circle cx="303.1" cy="75.6" r="7.5" fill="#d4a6dc"/>
<circle cx="313.7" cy="76.5" r="7.5" fill="#d4a6dc"/>
<circle cx="329.6" cy="80.0" r="7.5" fill="#d4a6dc"/>
<circle cx="342.0" cy="82.7" r="7.5" fill="#d4a6dc"/>
<circle cx="352.6" cy="80.0" r="7.5" fill="#d4a6dc"/>
<circle cx="362.4" cy="76.5" r="7.5" fill="#d4a6dc"/>
<circle cx="305.7" cy="84.5" r="7.5" fill="#d4a6dc"/>
<circle cx="324.3" cy="88.9" r="7.5" fill="#d4a6dc"/>
<circle cx="336.7" cy="89.8" r="7.5" fill="#d4a6dc"/>
<circle cx="349.1" cy="89.8" r="7.5" fill="#d4a6dc"/>
<path d="M313.9 25.4A3.4 3.4 0 1 1 311.8 30.5" stroke="#4232b8" stroke-width="3.8" fill="none" stroke-linecap="round"/>
<path d="M315.6 42.0A3.4 3.4 0 1 1 320.2 45.2" stroke="#4232b8" stroke-width="3.8" fill="none" stroke-linecap="round"/>
<path d="M337.1 33.6A3.4 3.4 0 1 1 332.4 36.5" stroke="#4232b8" stroke-width="3.8" fill="none" stroke-linecap="round"/>
<path d="M352.3 41.2A3.4 3.4 0 1 1 348.9 36.8" stroke="#4232b8" stroke-width="3.8" fill="none" stroke-linecap="round"/>
<path d="M364.6 41.3A3.4 3.4 0 1 1 359.3 42.6" stroke="#4232b8" stroke-width="3.8" fill="none" stroke-linecap="round"/>
<path d="M331.3 47.0A3.4 3.4 0 1 1 325.8 47.3" stroke="#4232b8" stroke-width="3.8" fill="none" stroke-linecap="round"/>
<path d="M315.3 55.5A3.4 3.4 0 1 1 310.9 52.1" stroke="#4232b8" stroke-width="3.8" fill="none" stroke-linecap="round"/>
<path d="M336.1 54.9A3.4 3.4 0 1 1 341.0 57.4" stroke="#4232b8" stroke-width="3.8" fill="none" stroke-linecap="round"/>
<path d="M352.4 61.1A3.4 3.4 0 1 1 351.4 55.7" stroke="#4232b8" stroke-width="3.8" fill="none" stroke-linecap="round"/>
<path d="M363.5 59.1A3.4 3.4 0 1 1 367.4 63.0" stroke="#4232b8" stroke-width="3.8" fill="none" stroke-linecap="round"/>
<path d="M306.9 65.9A3.4 3.4 0 1 1 304.7 60.8" stroke="#4232b8" stroke-width="3.8" fill="none" stroke-linecap="round"/>
<path d="M318.1 63.7A3.4 3.4 0 1 1 312.6 64.2" stroke="#4232b8" stroke-width="3.8" fill="none" stroke-linecap="round"/>
<path d="M328.4 63.7A3.4 3.4 0 1 1 329.4 58.3" stroke="#4232b8" stroke-width="3.8" fill="none" stroke-linecap="round"/>
<path d="M322.6 67.4A3.4 3.4 0 1 1 322.1 72.9" stroke="#4232b8" stroke-width="3.8" fill="none" stroke-linecap="round"/>
<path d="M336.6 68.4A3.4 3.4 0 1 1 336.6 74.0" stroke="#4232b8" stroke-width="3.8" fill="none" stroke-linecap="round"/>
<path d="M346.7 73.3A3.4 3.4 0 1 1 351.6 70.6" stroke="#4232b8" stroke-width="3.8" fill="none" stroke-linecap="round"/>
<path d="M358.6 71.0A3.4 3.4 0 1 1 360.7 65.9" stroke="#4232b8" stroke-width="3.8" fill="none" stroke-linecap="round"/>
<path d="M306.0 73.9A3.4 3.4 0 1 1 300.5 73.5" stroke="#4232b8" stroke-width="3.8" fill="none" stroke-linecap="round"/>
<path d="M317.0 77.3A3.4 3.4 0 1 1 313.4 73.1" stroke="#4232b8" stroke-width="3.8" fill="none" stroke-linecap="round"/>
<path d="M329.5 83.4A3.4 3.4 0 1 1 332.8 78.9" stroke="#4232b8" stroke-width="3.8" fill="none" stroke-linecap="round"/>
<path d="M340.4 85.7A3.4 3.4 0 1 1 345.3 83.1" stroke="#4232b8" stroke-width="3.8" fill="none" stroke-linecap="round"/>
<path d="M349.7 78.3A3.4 3.4 0 1 1 352.0 83.3" stroke="#4232b8" stroke-width="3.8" fill="none" stroke-linecap="round"/>
<path d="M360.1 79.0A3.4 3.4 0 1 1 365.5 77.8" stroke="#4232b8" stroke-width="3.8" fill="none" stroke-linecap="round"/>
<path d="M308.3 86.7A3.4 3.4 0 1 1 306.9 81.3" stroke="#4232b8" stroke-width="3.8" fill="none" stroke-linecap="round"/>
<path d="M321.2 87.5A3.4 3.4 0 1 1 324.0 92.3" stroke="#4232b8" stroke-width="3.8" fill="none" stroke-linecap="round"/>
<path d="M336.2 86.5A3.4 3.4 0 1 1 333.8 91.5" stroke="#4232b8" stroke-width="3.8" fill="none" stroke-linecap="round"/>
<path d="M348.2 86.6A3.4 3.4 0 1 1 346.4 91.8" stroke="#4232b8" stroke-width="3.8" fill="none" stroke-linecap="round"/>
</g></g>
<rect x="297" y="20" width="90" height="76" fill="none" stroke="#1a1a1a" stroke-width="2"/>
<ellipse cx="301" cy="58" rx="3.5" ry="7" fill="#8a5ac8" opacity="0.55" filter="url(#soft)"/>
<clipPath id="clippb"><rect x="417" y="20" width="90" height="76"/></clipPath>
<g clip-path="url(#clippb)">
<rect x="417.00" y="20.00" width="90.00" height="76.00" fill="#c8ddd4"/>
<g filter="url(#soft)">
<circle cx="422.2" cy="44.7" r="7.6" fill="#cca2e0"/>
<circle cx="499.2" cy="25.2" r="7.6" fill="#cca2e0"/>
<circle cx="454.9" cy="33.2" r="7.6" fill="#cca2e0"/>
<circle cx="465.6" cy="36.7" r="7.6" fill="#cca2e0"/>
<circle cx="478.8" cy="32.3" r="7.6" fill="#cca2e0"/>
<circle cx="486.8" cy="41.1" r="7.6" fill="#cca2e0"/>
<circle cx="444.3" cy="40.2" r="7.6" fill="#cca2e0"/>
<circle cx="435.5" cy="45.5" r="7.6" fill="#cca2e0"/>
<circle cx="454.0" cy="45.5" r="7.6" fill="#cca2e0"/>
<circle cx="467.3" cy="48.2" r="7.6" fill="#cca2e0"/>
<circle cx="476.2" cy="42.9" r="7.6" fill="#cca2e0"/>
<circle cx="484.1" cy="53.5" r="7.6" fill="#cca2e0"/>
<circle cx="431.0" cy="54.4" r="7.6" fill="#cca2e0"/>
<circle cx="422.2" cy="59.7" r="7.6" fill="#cca2e0"/>
<circle cx="443.4" cy="56.2" r="7.6" fill="#cca2e0"/>
<circle cx="457.6" cy="55.3" r="7.6" fill="#cca2e0"/>
<circle cx="470.0" cy="60.6" r="7.6" fill="#cca2e0"/>
<circle cx="432.8" cy="66.8" r="7.6" fill="#cca2e0"/>
<circle cx="445.2" cy="63.2" r="7.6" fill="#cca2e0"/>
<circle cx="455.8" cy="65.9" r="7.6" fill="#cca2e0"/>
<circle cx="466.4" cy="69.4" r="7.6" fill="#cca2e0"/>
<circle cx="477.9" cy="68.6" r="7.6" fill="#cca2e0"/>
<circle cx="425.7" cy="73.9" r="7.6" fill="#cca2e0"/>
<circle cx="447.0" cy="74.8" r="7.6" fill="#cca2e0"/>
<circle cx="460.2" cy="75.6" r="7.6" fill="#cca2e0"/>
<circle cx="472.6" cy="77.4" r="7.6" fill="#cca2e0"/>
<circle cx="488.6" cy="79.2" r="7.6" fill="#cca2e0"/>
<circle cx="454.0" cy="84.5" r="7.6" fill="#cca2e0"/>
<circle cx="465.6" cy="87.1" r="7.6" fill="#cca2e0"/>
<circle cx="484.1" cy="88.0" r="7.6" fill="#cca2e0"/>
<path d="M418.8 44.9 L421.6 41.3 L425.5 43.7 L423.6 47.8" stroke="#3428c4" stroke-width="1.7" fill="none" stroke-linejoin="round"/>
<circle cx="418.8" cy="44.9" r="2.3" fill="#3428c4"/>
<circle cx="421.6" cy="41.3" r="2.3" fill="#3428c4"/>
<circle cx="425.5" cy="43.7" r="2.3" fill="#3428c4"/>
<circle cx="423.6" cy="47.8" r="2.3" fill="#3428c4"/>
<path d="M502.6 25.4 L497.1 27.9 L498.2 21.9" stroke="#3428c4" stroke-width="1.7" fill="none" stroke-linejoin="round"/>
<circle cx="502.6" cy="25.4" r="2.3" fill="#3428c4"/>
<circle cx="497.1" cy="27.9" r="2.3" fill="#3428c4"/>
<circle cx="498.2" cy="21.9" r="2.3" fill="#3428c4"/>
<path d="M451.6 32.5 L457.4 30.9 L455.4 36.6" stroke="#3428c4" stroke-width="1.7" fill="none" stroke-linejoin="round"/>
<circle cx="451.6" cy="32.5" r="2.3" fill="#3428c4"/>
<circle cx="457.4" cy="30.9" r="2.3" fill="#3428c4"/>
<circle cx="455.4" cy="36.6" r="2.3" fill="#3428c4"/>
<path d="M462.4 37.9 L464.0 33.7 L468.4 34.8 L467.9 39.3" stroke="#3428c4" stroke-width="1.7" fill="none" stroke-linejoin="round"/>
<circle cx="462.4" cy="37.9" r="2.3" fill="#3428c4"/>
<circle cx="464.0" cy="33.7" r="2.3" fill="#3428c4"/>
<circle cx="468.4" cy="34.8" r="2.3" fill="#3428c4"/>
<circle cx="467.9" cy="39.3" r="2.3" fill="#3428c4"/>
<path d="M482.1 31.4 L480.0 35.5 L475.8 33.9 L476.9 29.5" stroke="#3428c4" stroke-width="1.7" fill="none" stroke-linejoin="round"/>
<circle cx="482.1" cy="31.4" r="2.3" fill="#3428c4"/>
<circle cx="480.0" cy="35.5" r="2.3" fill="#3428c4"/>
<circle cx="475.8" cy="33.9" r="2.3" fill="#3428c4"/>
<circle cx="476.9" cy="29.5" r="2.3" fill="#3428c4"/>
<path d="M488.1 38.0 L488.6 44.0 L483.4 40.9" stroke="#3428c4" stroke-width="1.7" fill="none" stroke-linejoin="round"/>
<circle cx="488.1" cy="38.0" r="2.3" fill="#3428c4"/>
<circle cx="488.6" cy="44.0" r="2.3" fill="#3428c4"/>
<circle cx="483.4" cy="40.9" r="2.3" fill="#3428c4"/>
<path d="M443.6 36.8 L447.4 41.6 L441.4 42.0" stroke="#3428c4" stroke-width="1.7" fill="none" stroke-linejoin="round"/>
<circle cx="443.6" cy="36.8" r="2.3" fill="#3428c4"/>
<circle cx="447.4" cy="41.6" r="2.3" fill="#3428c4"/>
<circle cx="441.4" cy="42.0" r="2.3" fill="#3428c4"/>
<path d="M438.5 43.9 L437.4 48.3 L432.9 47.7 L433.0 43.2" stroke="#3428c4" stroke-width="1.7" fill="none" stroke-linejoin="round"/>
<circle cx="438.5" cy="43.9" r="2.3" fill="#3428c4"/>
<circle cx="437.4" cy="48.3" r="2.3" fill="#3428c4"/>
<circle cx="432.9" cy="47.7" r="2.3" fill="#3428c4"/>
<circle cx="433.0" cy="43.2" r="2.3" fill="#3428c4"/>
<path d="M454.3 48.9 L451.0 43.8 L457.1 44.1" stroke="#3428c4" stroke-width="1.7" fill="none" stroke-linejoin="round"/>
<circle cx="454.3" cy="48.9" r="2.3" fill="#3428c4"/>
<circle cx="451.0" cy="43.8" r="2.3" fill="#3428c4"/>
<circle cx="457.1" cy="44.1" r="2.3" fill="#3428c4"/>
<path d="M464.5 50.2 L465.0 45.6 L469.6 45.7 L470.1 50.2" stroke="#3428c4" stroke-width="1.7" fill="none" stroke-linejoin="round"/>
<circle cx="464.5" cy="50.2" r="2.3" fill="#3428c4"/>
<circle cx="465.0" cy="45.6" r="2.3" fill="#3428c4"/>
<circle cx="469.6" cy="45.7" r="2.3" fill="#3428c4"/>
<circle cx="470.1" cy="50.2" r="2.3" fill="#3428c4"/>
<path d="M474.7 39.8 L479.1 41.1 L478.3 45.6 L473.8 45.3" stroke="#3428c4" stroke-width="1.7" fill="none" stroke-linejoin="round"/>
<circle cx="474.7" cy="39.8" r="2.3" fill="#3428c4"/>
<circle cx="479.1" cy="41.1" r="2.3" fill="#3428c4"/>
<circle cx="478.3" cy="45.6" r="2.3" fill="#3428c4"/>
<circle cx="473.8" cy="45.3" r="2.3" fill="#3428c4"/>
<path d="M481.3 51.6 L485.7 50.5 L487.3 54.7 L483.3 56.8" stroke="#3428c4" stroke-width="1.7" fill="none" stroke-linejoin="round"/>
<circle cx="481.3" cy="51.6" r="2.3" fill="#3428c4"/>
<circle cx="485.7" cy="50.5" r="2.3" fill="#3428c4"/>
<circle cx="487.3" cy="54.7" r="2.3" fill="#3428c4"/>
<circle cx="483.3" cy="56.8" r="2.3" fill="#3428c4"/>
<path d="M428.0 52.7 L432.3 51.3 L434.3 55.4 L430.4 57.8" stroke="#3428c4" stroke-width="1.7" fill="none" stroke-linejoin="round"/>
<circle cx="428.0" cy="52.7" r="2.3" fill="#3428c4"/>
<circle cx="432.3" cy="51.3" r="2.3" fill="#3428c4"/>
<circle cx="434.3" cy="55.4" r="2.3" fill="#3428c4"/>
<circle cx="430.4" cy="57.8" r="2.3" fill="#3428c4"/>
<path d="M419.4 57.7 L425.4 58.5 L421.3 63.0" stroke="#3428c4" stroke-width="1.7" fill="none" stroke-linejoin="round"/>
<circle cx="419.4" cy="57.7" r="2.3" fill="#3428c4"/>
<circle cx="425.4" cy="58.5" r="2.3" fill="#3428c4"/>
<circle cx="421.3" cy="63.0" r="2.3" fill="#3428c4"/>
<path d="M443.6 59.6 L440.5 54.4 L446.5 54.9" stroke="#3428c4" stroke-width="1.7" fill="none" stroke-linejoin="round"/>
<circle cx="443.6" cy="59.6" r="2.3" fill="#3428c4"/>
<circle cx="440.5" cy="54.4" r="2.3" fill="#3428c4"/>
<circle cx="446.5" cy="54.9" r="2.3" fill="#3428c4"/>
<path d="M455.1 57.7 L457.1 51.9 L460.7 56.8" stroke="#3428c4" stroke-width="1.7" fill="none" stroke-linejoin="round"/>
<circle cx="455.1" cy="57.7" r="2.3" fill="#3428c4"/>
<circle cx="457.1" cy="51.9" r="2.3" fill="#3428c4"/>
<circle cx="460.7" cy="56.8" r="2.3" fill="#3428c4"/>
<path d="M473.4 60.0 L468.5 63.7 L468.3 57.6" stroke="#3428c4" stroke-width="1.7" fill="none" stroke-linejoin="round"/>
<circle cx="473.4" cy="60.0" r="2.3" fill="#3428c4"/>
<circle cx="468.5" cy="63.7" r="2.3" fill="#3428c4"/>
<circle cx="468.3" cy="57.6" r="2.3" fill="#3428c4"/>
<path d="M432.3 63.4 L436.1 65.9 L434.1 70.0 L429.8 68.5" stroke="#3428c4" stroke-width="1.7" fill="none" stroke-linejoin="round"/>
<circle cx="432.3" cy="63.4" r="2.3" fill="#3428c4"/>
<circle cx="436.1" cy="65.9" r="2.3" fill="#3428c4"/>
<circle cx="434.1" cy="70.0" r="2.3" fill="#3428c4"/>
<circle cx="429.8" cy="68.5" r="2.3" fill="#3428c4"/>
<path d="M446.8 66.2 L441.8 62.8 L447.5 60.7" stroke="#3428c4" stroke-width="1.7" fill="none" stroke-linejoin="round"/>
<circle cx="446.8" cy="66.2" r="2.3" fill="#3428c4"/>
<circle cx="441.8" cy="62.8" r="2.3" fill="#3428c4"/>
<circle cx="447.5" cy="60.7" r="2.3" fill="#3428c4"/>
<path d="M458.3 63.5 L456.3 69.3 L452.7 64.4" stroke="#3428c4" stroke-width="1.7" fill="none" stroke-linejoin="round"/>
<circle cx="458.3" cy="63.5" r="2.3" fill="#3428c4"/>
<circle cx="456.3" cy="69.3" r="2.3" fill="#3428c4"/>
<circle cx="452.7" cy="64.4" r="2.3" fill="#3428c4"/>
<path d="M468.9 71.7 L463.1 70.1 L467.8 66.3" stroke="#3428c4" stroke-width="1.7" fill="none" stroke-linejoin="round"/>
<circle cx="468.9" cy="71.7" r="2.3" fill="#3428c4"/>
<circle cx="463.1" cy="70.1" r="2.3" fill="#3428c4"/>
<circle cx="467.8" cy="66.3" r="2.3" fill="#3428c4"/>
<path d="M474.8 70.1 L476.0 65.7 L480.5 66.4 L480.4 71.0" stroke="#3428c4" stroke-width="1.7" fill="none" stroke-linejoin="round"/>
<circle cx="474.8" cy="70.1" r="2.3" fill="#3428c4"/>
<circle cx="476.0" cy="65.7" r="2.3" fill="#3428c4"/>
<circle cx="480.5" cy="66.4" r="2.3" fill="#3428c4"/>
<circle cx="480.4" cy="71.0" r="2.3" fill="#3428c4"/>
<path d="M423.1 76.1 L425.4 70.5 L428.7 75.6" stroke="#3428c4" stroke-width="1.7" fill="none" stroke-linejoin="round"/>
<circle cx="423.1" cy="76.1" r="2.3" fill="#3428c4"/>
<circle cx="425.4" cy="70.5" r="2.3" fill="#3428c4"/>
<circle cx="428.7" cy="75.6" r="2.3" fill="#3428c4"/>
<path d="M443.8 76.0 L445.4 71.8 L449.8 72.9 L449.2 77.4" stroke="#3428c4" stroke-width="1.7" fill="none" stroke-linejoin="round"/>
<circle cx="443.8" cy="76.0" r="2.3" fill="#3428c4"/>
<circle cx="445.4" cy="71.8" r="2.3" fill="#3428c4"/>
<circle cx="449.8" cy="72.9" r="2.3" fill="#3428c4"/>
<circle cx="449.2" cy="77.4" r="2.3" fill="#3428c4"/>
<path d="M456.8 76.2 L459.2 72.3 L463.3 74.2 L461.9 78.5" stroke="#3428c4" stroke-width="1.7" fill="none" stroke-linejoin="round"/>
<circle cx="456.8" cy="76.2" r="2.3" fill="#3428c4"/>
<circle cx="459.2" cy="72.3" r="2.3" fill="#3428c4"/>
<circle cx="463.3" cy="74.2" r="2.3" fill="#3428c4"/>
<circle cx="461.9" cy="78.5" r="2.3" fill="#3428c4"/>
<path d="M471.6 74.1 L475.9 78.4 L469.9 79.5" stroke="#3428c4" stroke-width="1.7" fill="none" stroke-linejoin="round"/>
<circle cx="471.6" cy="74.1" r="2.3" fill="#3428c4"/>
<circle cx="475.9" cy="78.4" r="2.3" fill="#3428c4"/>
<circle cx="469.9" cy="79.5" r="2.3" fill="#3428c4"/>
<path d="M488.0 82.6 L486.2 76.8 L492.0 78.6" stroke="#3428c4" stroke-width="1.7" fill="none" stroke-linejoin="round"/>
<circle cx="488.0" cy="82.6" r="2.3" fill="#3428c4"/>
<circle cx="486.2" cy="76.8" r="2.3" fill="#3428c4"/>
<circle cx="492.0" cy="78.6" r="2.3" fill="#3428c4"/>
<path d="M450.9 85.9 L454.7 81.1 L456.4 87.0" stroke="#3428c4" stroke-width="1.7" fill="none" stroke-linejoin="round"/>
<circle cx="450.9" cy="85.9" r="2.3" fill="#3428c4"/>
<circle cx="454.7" cy="81.1" r="2.3" fill="#3428c4"/>
<circle cx="456.4" cy="87.0" r="2.3" fill="#3428c4"/>
<path d="M468.5 88.9 L464.1 90.2 L462.4 86.0 L466.3 83.8" stroke="#3428c4" stroke-width="1.7" fill="none" stroke-linejoin="round"/>
<circle cx="468.5" cy="88.9" r="2.3" fill="#3428c4"/>
<circle cx="464.1" cy="90.2" r="2.3" fill="#3428c4"/>
<circle cx="462.4" cy="86.0" r="2.3" fill="#3428c4"/>
<circle cx="466.3" cy="83.8" r="2.3" fill="#3428c4"/>
<path d="M480.7 88.1 L486.0 85.1 L485.4 91.2" stroke="#3428c4" stroke-width="1.7" fill="none" stroke-linejoin="round"/>
<circle cx="480.7" cy="88.1" r="2.3" fill="#3428c4"/>
<circle cx="486.0" cy="85.1" r="2.3" fill="#3428c4"/>
<circle cx="485.4" cy="91.2" r="2.3" fill="#3428c4"/>
</g></g>
<rect x="417" y="20" width="90" height="76" fill="none" stroke="#1a1a1a" stroke-width="2"/>
<rect x="35.60" y="106.40" width="2.80" height="88.90" fill="#000"/>
<rect x="35.30" y="237.70" width="2.60" height="47.60" fill="#000"/>
<rect x="35.20" y="309.40" width="2.70" height="18.80" fill="#000"/>
<rect x="35.20" y="368.00" width="2.70" height="18.90" fill="#000"/>
<rect x="32.90" y="438.00" width="2.80" height="19.60" fill="#000"/>
<rect x="32.90" y="496.70" width="2.80" height="18.00" fill="#000"/>
<rect x="35.40" y="558.00" width="2.50" height="63.90" fill="#000"/>
<text transform="translate(8.25,147.00) rotate(-90)" font-size="8.3" text-anchor="middle" font-weight="bold">% of granulo-</text>
<text transform="translate(18.79,147.00) rotate(-90)" font-size="8.3" text-anchor="middle" font-weight="bold">cytic cells</text>
<text transform="translate(29.33,147.00) rotate(-90)" font-size="8.3" text-anchor="middle">(diff.count, n=3)</text>
<text transform="translate(7.85,259.70) rotate(-90)" font-size="8.3" text-anchor="middle" font-weight="bold">% of non-</text>
<text transform="translate(18.39,259.70) rotate(-90)" font-size="8.3" text-anchor="middle" font-weight="bold">granulocytic cells</text>
<text transform="translate(28.93,259.70) rotate(-90)" font-size="8.3" text-anchor="middle">(FACS, n=3)</text>
<text transform="translate(8.05,589.50) rotate(-90)" font-size="8.3" text-anchor="middle" font-weight="bold">% of granulocytic</text>
<text transform="translate(18.59,589.50) rotate(-90)" font-size="8.3" text-anchor="middle" font-weight="bold">immunophenotypes</text>
<text transform="translate(29.13,589.50) rotate(-90)" font-size="8.3" text-anchor="middle">(FACS, n=3)</text>
<line x1="63.60" y1="111.50" x2="63.60" y2="196.20" stroke="#000" stroke-width="1.3"/>
<line x1="62.95" y1="196.20" x2="154.60" y2="196.20" stroke="#000" stroke-width="1.5"/>
<line x1="60.40" y1="196.20" x2="63.60" y2="196.20" stroke="#000" stroke-width="1.2"/>
<text x="58.9" y="196.6" font-size="10" text-anchor="end">0</text>
<line x1="60.40" y1="175.02" x2="63.60" y2="175.02" stroke="#000" stroke-width="1.2"/>
<text x="58.9" y="176.225" font-size="10" text-anchor="end">25</text>
<line x1="60.40" y1="153.85" x2="63.60" y2="153.85" stroke="#000" stroke-width="1.2"/>
<text x="58.9" y="155.85" font-size="10" text-anchor="end">50</text>
<line x1="60.40" y1="132.68" x2="63.60" y2="132.68" stroke="#000" stroke-width="1.2"/>
<text x="58.9" y="135.475" font-size="10" text-anchor="end">75</text>
<line x1="60.40" y1="111.50" x2="63.60" y2="111.50" stroke="#000" stroke-width="1.2"/>
<text x="58.9" y="115.1" font-size="10" text-anchor="end">100</text>
<line x1="73.00" y1="186.46" x2="73.00" y2="190.27" stroke="#000" stroke-width="1.2"/>
<line x1="70.40" y1="186.46" x2="75.60" y2="186.46" stroke="#000" stroke-width="1.3"/>
<rect x="68.60" y="190.27" width="8.80" height="5.93" fill="#fff" stroke="#000" stroke-width="1.3"/>
<line x1="87.30" y1="129.29" x2="87.30" y2="135.22" stroke="#000" stroke-width="1.2"/>
<line x1="84.70" y1="129.29" x2="89.90" y2="129.29" stroke="#000" stroke-width="1.3"/>
<rect x="82.90" y="135.22" width="8.80" height="60.98" fill="#fff" stroke="#000" stroke-width="1.3"/>
<line x1="101.20" y1="184.34" x2="101.20" y2="186.04" stroke="#000" stroke-width="1.2"/>
<line x1="98.60" y1="184.34" x2="103.80" y2="184.34" stroke="#000" stroke-width="1.3"/>
<rect x="96.80" y="186.04" width="8.80" height="10.16" fill="#fff" stroke="#000" stroke-width="1.3"/>
<line x1="115.20" y1="190.69" x2="115.20" y2="192.39" stroke="#000" stroke-width="1.2"/>
<line x1="112.60" y1="190.69" x2="117.80" y2="190.69" stroke="#000" stroke-width="1.3"/>
<rect x="110.80" y="192.39" width="8.80" height="3.81" fill="#fff" stroke="#000" stroke-width="1.3"/>
<rect x="125.00" y="195.40" width="8.80" height="0.80" fill="#fff" stroke="#000" stroke-width="1.3"/>
<rect x="139.20" y="195.40" width="8.80" height="0.80" fill="#fff" stroke="#000" stroke-width="1.3"/>
<text transform="translate(67.90,204.60) rotate(60)" font-size="10.5" fill="#000" style="stroke:#000">MB</text>
<text transform="translate(82.46,204.60) rotate(60)" font-size="10.5" fill="#000" style="stroke:#000">PM</text>
<text transform="translate(97.02,204.60) rotate(60)" font-size="10.5" fill="#000" style="stroke:#000">MC</text>
<text transform="translate(111.58,204.60) rotate(60)" font-size="10.5" fill="#000" style="stroke:#000">MM</text>
<text transform="translate(126.14,204.60) rotate(60)" font-size="10.5" fill="#000" style="stroke:#000">BC</text>
<text transform="translate(140.70,204.60) rotate(60)" font-size="10.5" fill="#000" style="stroke:#000">bm-PMN</text>
<line x1="180.50" y1="111.00" x2="180.50" y2="196.80" stroke="#000" stroke-width="1.3"/>
<line x1="179.85" y1="196.80" x2="268.30" y2="196.80" stroke="#000" stroke-width="1.5"/>
<line x1="177.30" y1="196.80" x2="180.50" y2="196.80" stroke="#000" stroke-width="1.2"/>
<text x="176.0" y="196.6" font-size="10" text-anchor="end">0</text>
<line x1="177.30" y1="175.35" x2="180.50" y2="175.35" stroke="#000" stroke-width="1.2"/>
<text x="176.0" y="176.1" font-size="10" text-anchor="end">25</text>
<line x1="177.30" y1="153.90" x2="180.50" y2="153.90" stroke="#000" stroke-width="1.2"/>
<text x="176.0" y="155.6" font-size="10" text-anchor="end">50</text>
<line x1="177.30" y1="132.45" x2="180.50" y2="132.45" stroke="#000" stroke-width="1.2"/>
<text x="176.0" y="135.1" font-size="10" text-anchor="end">75</text>
<line x1="177.30" y1="111.00" x2="180.50" y2="111.00" stroke="#000" stroke-width="1.2"/>
<text x="176.0" y="114.6" font-size="10" text-anchor="end">100</text>
<line x1="203.30" y1="192.51" x2="203.30" y2="194.23" stroke="#000" stroke-width="1.2"/>
<line x1="200.70" y1="192.51" x2="205.90" y2="192.51" stroke="#000" stroke-width="1.3"/>
<rect x="198.90" y="194.23" width="8.80" height="2.57" fill="#d5e4e4" stroke="#000" stroke-width="1.3"/>
<line x1="217.30" y1="178.78" x2="217.30" y2="181.36" stroke="#000" stroke-width="1.2"/>
<line x1="214.70" y1="178.78" x2="219.90" y2="178.78" stroke="#000" stroke-width="1.3"/>
<rect x="212.90" y="181.36" width="8.80" height="15.44" fill="#d5e4e4" stroke="#000" stroke-width="1.3"/>
<line x1="231.40" y1="129.02" x2="231.40" y2="140.17" stroke="#000" stroke-width="1.2"/>
<line x1="228.80" y1="129.02" x2="234.00" y2="129.02" stroke="#000" stroke-width="1.3"/>
<rect x="227.00" y="140.17" width="8.80" height="56.63" fill="#d5e4e4" stroke="#000" stroke-width="1.3"/>
<line x1="245.40" y1="179.64" x2="245.40" y2="189.08" stroke="#000" stroke-width="1.2"/>
<line x1="242.80" y1="179.64" x2="248.00" y2="179.64" stroke="#000" stroke-width="1.3"/>
<rect x="241.00" y="189.08" width="8.80" height="7.72" fill="#d5e4e4" stroke="#000" stroke-width="1.3"/>
<rect x="255.20" y="196.00" width="8.80" height="0.80" fill="#d5e4e4" stroke="#000" stroke-width="1.3"/>
<text transform="translate(180.70,205.20) rotate(60)" font-size="10.5" fill="#000" style="stroke:#000">MB</text>
<text transform="translate(195.30,205.20) rotate(60)" font-size="10.5" fill="#000" style="stroke:#000">PM</text>
<text transform="translate(209.90,205.20) rotate(60)" font-size="10.5" fill="#000" style="stroke:#000">MC</text>
<text transform="translate(224.50,205.20) rotate(60)" font-size="10.5" fill="#000" style="stroke:#000">MM</text>
<text transform="translate(239.10,205.20) rotate(60)" font-size="10.5" fill="#000" style="stroke:#000">BC</text>
<text transform="translate(253.70,205.20) rotate(60)" font-size="10.5" fill="#000" style="stroke:#000">bm-PMN</text>
<line x1="298.50" y1="112.10" x2="298.50" y2="196.80" stroke="#000" stroke-width="1.3"/>
<line x1="297.85" y1="196.80" x2="394.40" y2="196.80" stroke="#000" stroke-width="1.5"/>
<line x1="295.30" y1="196.80" x2="298.50" y2="196.80" stroke="#000" stroke-width="1.2"/>
<text x="292.9" y="197.4" font-size="10" text-anchor="end">0</text>
<line x1="295.30" y1="175.62" x2="298.50" y2="175.62" stroke="#000" stroke-width="1.2"/>
<text x="292.9" y="176.975" font-size="10" text-anchor="end">25</text>
<line x1="295.30" y1="154.45" x2="298.50" y2="154.45" stroke="#000" stroke-width="1.2"/>
<text x="292.9" y="156.54999999999998" font-size="10" text-anchor="end">50</text>
<line x1="295.30" y1="133.28" x2="298.50" y2="133.28" stroke="#000" stroke-width="1.2"/>
<text x="292.9" y="136.125" font-size="10" text-anchor="end">75</text>
<line x1="295.30" y1="112.10" x2="298.50" y2="112.10" stroke="#000" stroke-width="1.2"/>
<text x="292.9" y="115.69999999999999" font-size="10" text-anchor="end">100</text>
<line x1="363.50" y1="176.47" x2="363.50" y2="184.09" stroke="#000" stroke-width="1.2"/>
<line x1="360.90" y1="176.47" x2="366.10" y2="176.47" stroke="#000" stroke-width="1.3"/>
<rect x="359.10" y="184.09" width="8.80" height="12.71" fill="#000" stroke="#000" stroke-width="1.3"/>
<line x1="377.90" y1="120.57" x2="377.90" y2="127.35" stroke="#000" stroke-width="1.2"/>
<line x1="375.30" y1="120.57" x2="380.50" y2="120.57" stroke="#000" stroke-width="1.3"/>
<rect x="373.50" y="127.35" width="8.80" height="69.45" fill="#000" stroke="#000" stroke-width="1.3"/>
<text transform="translate(300.60,205.20) rotate(60)" font-size="10.5" fill="#000" style="stroke:#000">MB</text>
<text transform="translate(315.05,205.20) rotate(60)" font-size="10.5" fill="#000" style="stroke:#000">PM</text>
<text transform="translate(329.50,205.20) rotate(60)" font-size="10.5" fill="#000" style="stroke:#000">MC</text>
<text transform="translate(343.95,205.20) rotate(60)" font-size="10.5" fill="#000" style="stroke:#000">MM</text>
<text transform="translate(358.40,205.20) rotate(60)" font-size="10.5" fill="#000" style="stroke:#000">BC</text>
<text transform="translate(372.85,205.20) rotate(60)" font-size="10.5" fill="#000" style="stroke:#000">bm-PMN</text>
<line x1="418.50" y1="112.50" x2="418.50" y2="196.90" stroke="#000" stroke-width="1.3"/>
<line x1="417.85" y1="196.90" x2="517.70" y2="196.90" stroke="#000" stroke-width="1.5"/>
<line x1="415.30" y1="196.90" x2="418.50" y2="196.90" stroke="#000" stroke-width="1.2"/>
<text x="412.3" y="197.9" font-size="10" text-anchor="end">0</text>
<line x1="415.30" y1="175.80" x2="418.50" y2="175.80" stroke="#000" stroke-width="1.2"/>
<text x="412.3" y="177.45000000000002" font-size="10" text-anchor="end">25</text>
<line x1="415.30" y1="154.70" x2="418.50" y2="154.70" stroke="#000" stroke-width="1.2"/>
<text x="412.3" y="157.0" font-size="10" text-anchor="end">50</text>
<line x1="415.30" y1="133.60" x2="418.50" y2="133.60" stroke="#000" stroke-width="1.2"/>
<text x="412.3" y="136.54999999999998" font-size="10" text-anchor="end">75</text>
<line x1="415.30" y1="112.50" x2="418.50" y2="112.50" stroke="#000" stroke-width="1.2"/>
<text x="412.3" y="116.1" font-size="10" text-anchor="end">100</text>
<line x1="497.30" y1="112.92" x2="497.30" y2="115.03" stroke="#000" stroke-width="1.2"/>
<line x1="494.70" y1="112.92" x2="499.90" y2="112.92" stroke="#000" stroke-width="1.3"/>
<rect x="492.90" y="115.03" width="8.80" height="81.87" fill="#000" stroke="#000" stroke-width="1.3"/>
<text transform="translate(422.20,205.30) rotate(60)" font-size="10.5" fill="#000" style="stroke:#000">MB</text>
<text transform="translate(436.75,205.30) rotate(60)" font-size="10.5" fill="#000" style="stroke:#000">PM</text>
<text transform="translate(451.30,205.30) rotate(60)" font-size="10.5" fill="#000" style="stroke:#000">MC</text>
<text transform="translate(465.85,205.30) rotate(60)" font-size="10.5" fill="#000" style="stroke:#000">MM</text>
<text transform="translate(480.40,205.30) rotate(60)" font-size="10.5" fill="#000" style="stroke:#000">BC</text>
<text transform="translate(494.95,205.30) rotate(60)" font-size="10.5" fill="#000" style="stroke:#000">pb-PMN</text>
<text x="114.5" y="262.9" font-size="10.2" font-weight="bold" text-anchor="middle">4.2 ± 4.1</text>
<text x="228.6" y="262.9" font-size="10.2" font-weight="bold" text-anchor="middle">1.0 ± 1.0</text>
<text x="346.2" y="262.9" font-size="10.2" font-weight="bold" text-anchor="middle">0.3 ± 0.2</text>
<text x="469.4" y="262.9" font-size="10.2" font-weight="bold" text-anchor="middle">0.2 ± 0.3</text>
<text x="0.1" y="315" font-size="16.6" font-weight="bold">B</text>
<rect x="71.50" y="308.30" width="93.40" height="77.20" fill="#fff" stroke="#4a4a4a" stroke-width="1.15"/>
<path d="M72.7 372.8h1M82.2 373.8h1M87.9 354.3h1M83.3 369.8h1M90.9 373.1h1M82.8 349.3h1M74.4 362.0h1M84.4 364.8h1M103.6 365.5h1M90.9 373.1h1M75.4 374.9h1M78.4 380.3h1M80.0 359.0h1M91.9 369.2h1M85.3 376.5h1M86.2 379.6h1M72.9 379.3h1M92.5 354.6h1M82.8 356.4h1M81.1 369.3h1M98.0 365.8h1M93.5 345.0h1M92.0 370.1h1M83.8 371.2h1M86.9 375.9h1M81.7 376.9h1M79.5 370.8h1M84.2 363.7h1M74.9 368.9h1M95.4 356.5h1M90.1 362.8h1M87.8 370.1h1M80.3 372.0h1M103.8 370.7h1M86.1 347.9h1M76.0 374.6h1M104.9 356.6h1M104.2 366.6h1M86.2 375.7h1M91.2 375.1h1M89.4 382.1h1M87.1 371.7h1M92.9 383.8h1M79.8 360.3h1M79.9 373.6h1M76.9 366.5h1M89.3 367.7h1M85.6 380.3h1M81.0 375.3h1M84.1 342.1h1M102.8 372.1h1M102.7 356.5h1M92.0 367.8h1M86.8 344.9h1M91.6 366.9h1M75.2 371.2h1M91.8 379.8h1M94.6 376.3h1M85.3 381.3h1M73.0 356.7h1M91.9 383.8h1M81.6 371.3h1M85.7 370.6h1M79.2 366.9h1M73.8 364.2h1M92.0 363.0h1M83.5 377.9h1M82.8 370.8h1M97.2 359.2h1M107.8 374.0h1M84.3 362.7h1M83.3 379.1h1M77.0 356.4h1M88.6 371.3h1M94.5 369.4h1M88.4 380.2h1M83.2 370.6h1M93.8 375.8h1M89.5 370.9h1M72.8 367.1h1M92.4 360.3h1M99.8 374.8h1M93.3 370.9h1M94.5 383.5h1M83.8 364.2h1M76.6 371.6h1M94.7 375.0h1M103.3 365.5h1M83.7 367.4h1M79.1 367.9h1M85.7 374.5h1M83.5 375.7h1M84.7 356.2h1M94.1 361.8h1M100.5 370.0h1M93.0 377.7h1M87.4 372.6h1M93.8 376.8h1M89.9 363.2h1M79.3 367.7h1M96.2 355.8h1M88.2 370.9h1M95.0 361.4h1M89.1 376.5h1M85.3 375.1h1M96.7 373.8h1M89.7 379.3h1M101.3 373.6h1M84.7 375.4h1M82.4 361.8h1M86.5 359.8h1M91.4 370.5h1M76.9 372.0h1M79.3 383.0h1M75.8 358.0h1M94.4 370.2h1M87.4 382.0h1M79.6 358.4h1M83.9 361.3h1M86.5 352.6h1M84.2 376.8h1M77.1 374.9h1M79.8 355.8h1M94.8 381.9h1M96.3 365.7h1M99.1 367.1h1M81.4 375.1h1M78.5 378.3h1M85.0 372.9h1M81.8 369.5h1M96.7 363.1h1M80.1 352.9h1M85.7 376.4h1M79.9 377.1h1M84.8 383.5h1M79.7 380.6h1M75.5 356.2h1M76.3 364.2h1M97.6 382.3h1M76.2 373.0h1M79.3 369.1h1M81.9 375.2h1M78.6 350.2h1M88.8 359.1h1M78.3 371.3h1M99.6 366.4h1M77.2 360.7h1M79.2 368.0h1M90.3 366.0h1M85.9 370.1h1M83.8 369.5h1M94.5 366.9h1M84.4 365.6h1M86.5 370.3h1M94.5 368.6h1M87.1 370.2h1M76.5 369.8h1M76.0 362.0h1M79.1 372.2h1M87.6 359.7h1M95.1 369.2h1M80.1 371.0h1M93.1 369.3h1M84.6 359.6h1M107.1 374.2h1M85.1 361.4h1M86.2 376.9h1M89.2 358.3h1M89.5 371.4h1M94.6 381.6h1M88.3 374.4h1M84.3 359.3h1M81.9 372.5h1M78.1 371.3h1M89.1 366.4h1M96.9 368.0h1M86.2 374.6h1M86.6 368.1h1M91.6 360.3h1M90.3 363.2h1M95.4 371.6h1M94.7 370.1h1M91.0 361.1h1M87.2 368.1h1M93.9 371.0h1M88.4 350.1h1M96.4 355.4h1M76.5 350.6h1M100.3 353.6h1M86.5 357.4h1M91.5 366.9h1M94.0 368.5h1M85.6 366.7h1M88.6 366.5h1M79.9 372.2h1M98.7 362.7h1M77.3 359.2h1M81.7 369.3h1M91.9 373.9h1M79.7 359.1h1M100.2 374.6h1M99.2 380.0h1M85.1 381.5h1M81.4 366.5h1M77.1 348.9h1M85.5 356.7h1M84.6 369.2h1M82.7 365.5h1M88.5 365.7h1M82.9 362.2h1M97.3 368.9h1M84.5 374.0h1M89.2 375.7h1M90.1 381.2h1M81.8 369.9h1M90.1 379.1h1M88.6 352.0h1M92.7 378.0h1M94.8 357.4h1M89.0 365.0h1M78.3 374.5h1M86.1 374.7h1M88.7 379.4h1M88.6 364.0h1M91.0 366.4h1M76.6 373.5h1M86.0 370.3h1M93.6 367.2h1M81.6 369.0h1M88.1 348.7h1M78.9 376.2h1M76.8 366.6h1M103.1 367.2h1M89.7 370.8h1M74.9 368.8h1M89.2 370.0h1M88.6 360.1h1M95.1 382.7h1M76.7 354.5h1M95.1 354.2h1M91.8 376.4h1M75.0 361.5h1M86.4 371.1h1M86.8 361.8h1M87.6 376.7h1M87.0 367.7h1M81.6 367.7h1M91.9 363.4h1M86.6 369.8h1M79.9 360.6h1M76.5 371.9h1M82.5 357.7h1M87.2 382.3h1M73.0 367.2h1M98.4 364.5h1M92.1 373.6h1M85.4 377.4h1M86.6 368.3h1M89.6 377.0h1M86.9 375.2h1M83.1 362.6h1M94.5 360.9h1M83.5 349.3h1M85.3 359.0h1M84.1 383.2h1M86.4 376.4h1M113.9 366.6h1M80.7 371.0h1M88.9 365.4h1M92.4 374.4h1M72.6 371.7h1M82.7 375.6h1M79.0 364.6h1M86.6 370.8h1M79.9 359.1h1M93.7 361.7h1M82.4 345.0h1M81.6 353.7h1M79.8 378.8h1M77.9 371.7h1M73.5 381.6h1M95.2 359.3h1M83.2 368.4h1M74.2 373.6h1M85.7 378.0h1M79.5 375.1h1M79.2 375.4h1M95.7 379.8h1M90.1 379.4h1M83.0 378.6h1M82.9 371.2h1M80.7 356.4h1M98.3 376.9h1M77.4 364.1h1M94.4 361.5h1M90.0 354.5h1M104.4 379.6h1M80.8 367.9h1M78.0 367.4h1M85.2 372.1h1M90.6 365.5h1M80.1 358.0h1M98.4 351.6h1M74.9 376.2h1M94.0 369.7h1M88.9 375.3h1M79.8 361.7h1M93.8 371.3h1M75.4 362.0h1M77.1 381.7h1M87.7 381.1h1M101.2 379.1h1M92.5 377.2h1M79.2 361.1h1M99.3 376.7h1M87.3 373.4h1M85.7 380.4h1M76.1 369.7h1M75.9 380.2h1M72.7 375.4h1M76.2 381.3h1M96.1 365.9h1M86.1 362.2h1M85.3 380.5h1M76.9 381.2h1M78.7 373.3h1M83.5 374.9h1M97.3 370.5h1M87.9 383.2h1M86.9 375.9h1M85.8 384.0h1M81.3 373.0h1M77.9 379.9h1M84.9 371.4h1M93.8 383.7h1M88.6 372.4h1M81.1 375.6h1M81.0 372.7h1M86.1 379.4h1M85.7 375.8h1M91.2 379.2h1M83.2 383.1h1M81.7 377.0h1M79.5 381.6h1M80.8 375.3h1M79.0 381.1h1M80.3 369.9h1M87.2 374.8h1M85.6 380.2h1M90.7 383.5h1M80.0 377.5h1M81.6 368.1h1M92.7 378.8h1M84.3 378.6h1M87.4 381.0h1M74.0 383.7h1M80.3 376.0h1M93.9 382.9h1M81.5 369.0h1M84.5 381.0h1M83.0 372.1h1M78.8 372.0h1M84.8 382.4h1M89.7 374.6h1M84.9 381.1h1M80.4 377.6h1M96.2 379.3h1M88.8 376.1h1M83.8 369.7h1M87.6 378.6h1M79.9 377.5h1M87.2 374.4h1M89.1 373.4h1M72.8 373.2h1M73.5 371.4h1M90.3 377.3h1M91.1 375.8h1M91.5 380.2h1M83.5 380.5h1M74.9 374.4h1M82.9 381.3h1M81.3 377.7h1M81.1 376.8h1M85.4 376.8h1M82.3 373.5h1M80.9 375.8h1M79.4 377.6h1M94.5 372.5h1M93.3 373.3h1M82.1 382.5h1M87.3 379.7h1M73.6 380.1h1M82.2 379.2h1M76.6 375.9h1M75.8 383.2h1M81.9 381.1h1M79.4 375.8h1M91.2 373.4h1M72.7 380.3h1M76.7 376.1h1M89.0 374.2h1M88.8 374.9h1M80.7 377.2h1M78.5 379.3h1M90.4 371.1h1M89.0 371.7h1M78.3 369.4h1M96.1 378.6h1M85.0 374.9h1M89.9 367.8h1M81.2 378.4h1M87.5 374.2h1M83.6 383.1h1M84.7 380.2h1M81.4 379.9h1M87.8 377.1h1M88.0 373.7h1M89.1 373.0h1M80.7 379.4h1M90.8 378.2h1M82.9 375.6h1M93.3 383.6h1M82.9 371.3h1M78.8 381.2h1" stroke="#dc5868" stroke-width="1" fill="none" opacity="0.85"/>
<path d="M136.2 362.6h1M120.4 363.1h1M117.7 366.7h1M132.5 350.4h1M89.6 360.3h1M134.0 365.6h1M121.9 349.8h1M142.0 355.8h1M117.2 377.3h1M127.4 368.4h1M136.9 354.0h1M132.6 356.1h1M119.0 372.6h1M141.2 364.6h1M124.8 345.9h1M119.2 343.6h1M124.7 361.1h1M128.3 362.2h1M127.4 356.5h1M141.3 350.5h1M131.9 349.2h1M125.5 359.6h1M136.8 334.2h1M129.3 361.0h1M123.0 368.8h1M109.8 370.4h1M119.2 348.5h1M133.0 348.5h1M121.2 361.9h1M122.8 356.9h1M116.7 363.9h1M121.2 362.9h1M125.7 345.5h1M119.3 365.0h1M124.4 353.1h1M92.3 364.2h1M127.3 359.6h1M138.1 352.8h1M105.6 377.3h1M118.4 367.5h1M126.3 368.0h1M123.6 353.4h1M126.2 367.4h1M122.4 366.5h1M153.5 358.0h1M123.7 348.5h1M115.8 350.6h1M112.3 357.5h1M117.7 376.6h1M149.7 349.5h1M125.9 341.1h1M130.1 352.7h1M104.2 349.9h1M119.5 383.3h1M118.6 366.8h1M118.5 347.2h1M118.6 365.0h1M116.5 366.5h1M98.5 354.6h1M135.8 348.3h1M134.6 361.1h1M135.0 372.9h1M108.3 374.2h1M130.9 361.9h1M108.9 352.9h1M122.3 366.9h1M127.7 374.3h1M105.0 357.5h1M118.3 351.2h1M112.6 353.5h1M113.9 367.2h1M111.0 362.5h1M149.1 366.6h1M131.6 370.3h1M121.2 367.1h1M102.6 371.9h1M99.9 352.3h1M111.8 361.0h1M125.2 357.6h1M126.5 375.9h1M146.4 348.1h1M137.4 365.2h1M130.7 360.2h1M131.3 362.3h1M109.3 360.4h1M116.7 345.2h1M123.5 368.1h1M135.2 365.7h1M140.8 329.1h1M138.4 345.8h1M122.9 357.7h1M127.5 364.7h1M123.7 343.7h1M148.0 371.1h1M151.5 343.2h1M107.8 371.2h1M133.7 353.6h1M118.2 374.6h1M137.8 360.3h1M125.3 370.1h1M105.0 363.0h1M143.0 353.8h1M104.8 374.9h1M131.2 382.2h1M140.2 360.9h1M130.7 355.5h1M129.0 373.1h1M132.6 347.9h1M145.1 353.8h1M131.0 359.7h1M135.1 348.8h1M110.0 362.6h1M118.2 366.8h1M121.0 341.6h1M112.2 365.5h1M102.6 345.0h1M134.4 328.7h1M138.8 363.1h1M116.4 361.2h1M125.2 366.2h1M128.9 360.3h1M112.2 338.5h1M134.2 368.9h1M127.7 354.7h1M128.8 350.3h1M108.6 362.2h1M122.4 323.2h1M121.9 336.5h1M149.3 355.4h1M106.4 344.3h1M115.1 367.5h1M136.3 360.7h1M138.1 337.7h1M136.2 339.6h1M106.9 350.8h1M133.4 342.8h1M119.6 356.2h1M109.8 356.5h1M137.1 346.2h1M119.0 349.7h1M128.1 376.9h1M130.9 355.3h1M104.2 359.8h1M129.2 343.0h1M121.0 365.2h1M125.6 357.6h1M111.8 373.5h1M140.8 349.9h1M125.5 365.3h1M123.6 350.6h1M121.5 338.6h1M121.4 352.1h1M113.5 350.9h1M124.8 346.2h1M139.9 358.3h1M131.4 359.3h1M137.9 352.3h1M142.4 343.6h1M132.5 360.3h1M120.8 357.1h1M114.4 364.3h1M120.6 367.9h1M123.4 354.5h1M118.0 355.6h1M124.0 370.3h1M111.7 358.9h1M139.3 349.8h1M130.2 367.3h1M127.6 353.5h1M112.8 357.3h1M133.3 372.8h1M108.4 372.0h1M116.3 350.0h1M117.3 361.3h1M118.9 354.0h1M123.2 355.8h1M126.3 372.8h1M112.2 344.1h1M128.8 337.2h1M136.0 358.3h1M116.4 354.2h1M117.3 352.0h1M135.1 336.3h1M140.6 366.0h1M145.7 361.6h1M106.9 363.4h1M121.8 351.5h1M127.1 363.6h1M128.1 367.0h1M110.9 367.5h1M119.6 358.8h1M114.8 349.0h1M119.8 361.8h1M143.9 372.8h1M132.0 343.8h1M112.0 340.9h1M126.9 338.7h1M135.1 350.8h1M124.8 369.7h1M119.3 373.2h1M114.7 356.4h1M108.2 359.3h1M138.1 368.3h1M115.3 364.0h1M118.6 370.0h1M140.2 348.8h1M138.9 351.9h1M138.1 366.4h1M114.0 352.8h1M118.9 346.0h1M125.8 362.8h1M112.3 340.8h1M130.3 360.3h1M125.3 370.1h1M142.0 355.0h1M132.8 355.6h1M122.0 366.2h1M131.8 355.9h1M132.1 337.5h1M116.9 360.1h1M140.0 340.2h1M130.5 372.2h1M114.7 370.9h1M145.4 346.3h1M119.8 363.8h1M117.8 357.6h1M108.9 381.3h1M120.8 347.7h1M96.4 363.9h1M117.7 382.2h1M136.8 354.8h1M130.5 360.3h1M128.6 377.5h1M116.7 360.7h1M109.0 361.3h1M138.2 376.4h1M131.9 348.1h1M118.8 347.7h1M154.4 355.3h1M131.2 347.8h1M124.2 346.1h1M137.8 352.8h1M97.8 378.0h1M108.2 347.5h1M119.1 346.1h1M113.5 359.7h1M123.1 356.8h1M124.4 339.8h1M110.8 347.7h1M137.1 347.9h1M133.8 355.8h1M112.7 365.5h1M121.7 358.8h1M105.4 344.9h1M115.4 350.7h1M139.1 350.4h1M131.3 360.7h1M100.3 341.8h1M133.4 375.4h1M119.7 376.0h1M116.4 344.5h1M140.9 357.7h1M109.0 356.0h1M128.4 358.3h1M143.8 344.1h1M133.3 374.0h1M126.8 346.8h1M155.6 353.6h1M138.8 377.3h1M120.7 361.1h1M152.6 361.2h1M127.7 353.8h1M155.0 353.5h1M109.2 357.4h1M124.5 361.7h1M112.6 363.9h1M101.8 365.0h1M129.3 349.6h1M151.5 335.4h1M112.8 365.7h1M135.5 356.1h1M147.4 343.3h1M120.6 367.0h1M137.4 361.6h1M99.2 364.1h1M108.0 347.1h1M150.6 352.0h1M124.3 359.6h1M129.8 351.4h1M121.5 378.3h1M119.3 340.7h1M111.0 370.5h1M116.4 363.1h1M95.8 371.5h1M109.5 343.0h1M128.0 347.8h1M125.8 360.6h1M140.7 369.5h1M135.0 347.2h1M115.5 347.1h1M119.7 366.7h1M135.9 373.8h1M124.1 360.6h1M128.3 336.3h1M130.2 350.9h1M132.9 362.2h1M148.1 333.2h1M152.2 359.7h1M128.6 349.5h1M141.3 359.7h1M129.9 357.3h1M154.0 356.9h1M121.5 365.0h1M107.9 362.8h1M129.1 363.3h1M117.6 357.7h1M121.1 353.1h1M119.2 370.4h1M132.1 375.3h1M141.7 346.6h1M101.1 363.4h1M149.6 361.6h1M111.9 349.4h1M109.9 352.4h1M139.6 348.5h1M124.9 344.5h1M123.9 346.0h1M123.0 357.7h1M112.7 357.6h1M134.4 337.5h1M133.6 370.7h1M110.6 356.4h1M107.2 352.0h1M109.8 359.8h1M117.2 367.9h1M128.7 359.1h1M136.6 350.8h1M115.6 362.4h1M141.0 361.8h1M140.7 340.5h1M114.2 348.3h1M109.8 376.7h1M128.4 349.1h1M133.9 336.8h1M121.2 366.0h1M120.7 362.1h1M132.3 357.8h1M142.0 349.3h1M111.6 378.5h1M128.1 351.8h1M114.8 382.4h1M140.4 345.0h1M126.3 370.4h1M137.0 358.9h1M138.0 378.3h1M118.0 358.8h1M132.6 365.7h1M110.7 351.3h1M115.3 346.2h1M127.4 341.1h1M137.1 343.5h1M138.2 357.0h1M113.0 359.9h1M141.1 358.8h1M140.2 327.8h1M117.8 368.0h1M110.9 361.2h1M137.1 345.6h1M113.5 353.6h1M126.3 340.4h1M141.9 358.9h1M113.2 349.3h1M134.7 346.1h1M112.0 349.7h1M116.5 336.4h1M141.2 354.4h1M107.7 351.8h1M136.9 360.7h1M126.3 350.3h1M118.3 362.5h1M113.7 371.5h1M130.4 353.2h1M118.6 344.5h1M140.1 361.2h1M147.7 357.9h1M119.7 358.0h1M119.3 365.2h1M107.2 360.8h1M125.6 354.0h1M104.9 377.4h1M133.7 349.2h1M132.6 353.8h1M131.3 380.5h1M150.8 356.9h1M115.4 353.6h1M123.5 352.2h1M127.6 367.5h1M148.2 361.4h1M135.0 369.8h1M124.2 371.7h1M121.6 371.2h1M119.4 350.2h1M118.7 368.3h1M89.2 350.9h1M130.9 366.6h1M138.2 348.5h1M104.0 383.3h1M140.8 366.2h1M112.7 371.9h1M120.1 362.2h1M132.2 348.0h1M115.4 363.3h1M99.6 365.3h1M151.7 341.0h1M122.0 363.0h1M119.3 350.5h1M102.5 360.2h1M113.7 359.2h1M144.6 364.4h1M150.7 335.5h1M116.8 357.0h1M114.1 361.3h1M138.7 375.7h1M125.7 355.2h1M133.7 344.7h1M118.2 367.0h1M120.6 351.4h1M107.8 345.9h1M126.7 353.7h1M134.7 354.6h1M128.3 346.7h1M104.8 375.3h1M109.2 365.4h1M115.2 370.9h1M127.5 359.3h1M108.8 324.8h1M140.8 350.4h1M113.3 356.4h1M115.3 376.7h1M134.9 369.2h1M104.1 372.6h1M142.0 366.4h1M123.9 353.8h1M119.7 353.9h1M113.8 371.7h1M111.1 370.7h1M132.5 352.3h1M111.0 359.5h1M86.7 372.7h1M135.7 365.8h1M114.2 362.3h1M128.2 361.0h1M116.6 370.2h1M129.1 360.6h1M116.5 370.3h1M157.4 332.3h1M132.0 351.7h1M125.3 368.0h1M115.4 360.6h1M130.9 375.0h1M132.3 357.7h1M105.9 370.5h1M150.2 350.2h1M127.7 355.0h1M112.7 368.7h1M130.6 365.2h1M118.6 361.8h1M120.9 362.4h1M125.6 352.0h1M119.0 349.5h1M144.6 363.4h1M126.3 356.7h1M125.3 357.7h1M123.5 359.0h1M137.4 362.5h1M136.5 364.1h1M142.3 337.4h1M110.7 362.6h1M133.4 358.0h1M136.6 353.1h1M148.6 341.4h1M133.8 359.7h1M109.0 355.3h1M101.2 361.9h1M138.2 324.2h1M104.3 366.3h1M128.1 347.6h1M142.8 364.8h1M132.4 374.7h1M115.6 335.1h1M111.6 359.7h1M133.3 371.7h1M131.8 367.7h1M120.3 351.2h1M114.7 355.5h1M112.7 374.3h1M125.4 364.4h1M115.4 358.9h1M111.5 361.3h1M111.8 352.9h1M124.1 362.8h1M131.3 349.9h1M133.2 362.1h1M134.2 358.4h1M106.4 370.4h1M143.7 350.4h1M109.5 361.6h1M112.6 370.5h1M117.1 358.4h1M128.6 353.1h1M125.0 363.7h1M117.0 358.0h1M124.3 362.5h1M139.9 342.0h1M132.3 352.0h1M125.6 354.5h1M137.0 359.8h1M112.8 344.6h1M118.3 348.0h1M100.6 364.0h1M128.6 357.1h1M125.6 356.8h1M105.4 369.5h1M118.1 373.9h1M142.7 368.9h1M119.1 371.5h1M137.5 361.3h1M115.9 355.9h1M97.9 376.9h1M127.1 359.0h1M117.2 374.4h1M121.6 373.4h1M99.9 355.4h1M125.2 347.0h1M128.5 372.7h1M110.8 352.5h1M131.4 366.6h1M129.4 354.7h1M111.6 343.2h1M115.3 366.3h1M112.1 352.6h1M130.1 348.6h1M120.6 360.7h1M129.6 376.2h1M104.2 359.3h1M138.9 371.0h1M133.3 369.8h1M101.4 362.6h1M127.0 357.8h1M129.6 344.5h1M132.0 364.3h1M127.9 354.1h1M123.1 343.1h1M94.9 345.0h1M133.8 360.1h1M143.1 356.3h1M104.2 357.7h1M115.9 349.3h1M117.5 362.3h1M126.7 372.7h1M123.5 373.9h1M110.3 350.9h1M122.3 364.7h1M146.9 362.9h1M124.1 362.4h1M134.6 354.2h1M118.2 357.2h1M113.1 339.1h1M101.8 355.9h1M145.8 337.1h1M136.0 358.9h1M135.8 356.0h1M144.8 373.9h1M125.3 380.1h1M138.7 359.0h1M137.6 358.6h1M108.1 347.4h1M132.2 341.1h1M138.6 343.1h1M128.8 339.5h1M124.6 364.2h1M137.0 345.8h1M122.3 356.4h1M135.5 362.1h1M116.0 369.7h1M134.7 376.0h1M100.3 364.6h1M130.1 369.0h1M134.9 357.7h1M119.8 352.1h1M119.4 342.4h1M121.3 336.6h1M109.7 368.3h1M116.8 376.1h1M135.7 367.9h1M122.2 365.5h1M124.8 357.4h1M120.6 365.5h1M135.9 356.5h1M140.8 370.7h1M125.9 361.0h1M128.0 368.2h1M125.8 357.8h1M130.9 353.0h1M129.5 369.1h1M130.6 367.2h1M132.0 366.9h1M129.5 359.2h1M126.9 362.9h1M137.3 371.4h1M131.4 359.5h1M123.4 362.4h1M138.2 365.0h1M128.1 359.5h1M134.7 364.7h1M128.1 363.8h1M140.3 362.5h1M140.3 369.5h1M128.9 367.7h1M127.6 359.2h1M126.6 358.8h1M132.1 363.4h1M132.5 367.4h1M106.7 364.9h1M115.9 364.1h1M122.4 363.8h1M138.1 354.8h1M129.8 362.9h1M115.3 366.5h1M128.7 360.8h1M123.4 379.4h1M125.7 354.3h1M122.0 361.5h1M125.8 362.9h1M121.2 366.0h1M125.1 356.5h1M122.8 361.4h1M134.4 365.7h1M126.1 363.4h1M130.0 373.5h1M124.2 365.6h1M133.6 358.5h1M129.8 364.1h1M125.2 366.1h1M135.7 369.0h1M127.2 364.2h1M145.0 357.8h1M130.1 367.7h1M129.6 366.6h1M129.7 367.1h1M137.5 362.2h1M129.9 363.0h1M125.7 363.2h1M120.6 367.0h1M140.4 371.8h1M137.4 358.5h1M139.1 359.7h1M128.1 372.5h1M121.0 367.5h1M130.5 362.5h1M122.4 365.4h1M125.3 368.5h1M137.1 356.4h1M125.0 361.7h1M120.2 357.7h1M129.1 362.3h1M116.9 360.6h1M132.1 357.3h1M122.0 371.2h1M137.7 355.2h1M119.0 365.2h1M120.2 362.0h1M125.3 366.1h1M110.8 352.3h1M119.9 368.4h1M127.4 354.8h1M132.0 366.8h1M126.8 361.6h1M131.6 369.3h1M129.6 366.0h1M128.2 361.4h1M122.1 364.6h1M126.4 362.1h1M135.0 365.7h1M134.6 355.4h1M132.4 360.4h1M122.8 359.0h1M137.0 367.4h1M123.5 357.6h1M128.6 361.0h1M140.1 356.0h1M115.7 362.0h1M128.6 364.0h1M133.8 373.7h1M126.1 360.6h1M116.2 364.5h1M134.5 362.0h1M136.8 363.5h1M139.1 365.0h1M121.1 360.1h1M117.8 354.6h1M130.4 367.6h1M142.2 363.0h1M126.8 357.8h1M135.4 365.2h1M124.3 366.7h1M132.4 354.0h1M133.7 364.0h1M125.8 361.2h1M140.7 371.0h1M141.3 357.6h1M123.9 367.8h1M120.0 359.7h1M115.9 372.6h1M135.9 365.6h1M130.0 361.2h1M125.7 366.4h1M123.5 369.4h1M125.1 358.9h1M137.6 362.6h1M132.4 361.2h1M112.7 366.0h1M119.1 368.7h1M117.6 354.0h1M130.7 365.4h1M129.2 357.2h1M134.7 356.0h1M125.3 359.4h1M125.9 367.6h1M124.1 366.1h1M133.4 354.7h1M120.3 361.4h1M124.4 364.8h1M115.0 366.9h1M133.7 362.5h1M118.8 363.3h1M124.7 366.1h1M127.9 366.9h1M125.5 370.5h1M112.4 358.2h1M131.9 355.7h1M133.7 357.2h1M129.2 358.7h1M125.4 364.2h1M127.8 361.4h1M143.6 363.3h1M121.7 367.9h1M134.2 369.4h1M141.0 358.6h1M135.9 369.0h1M128.5 364.5h1M107.5 360.4h1M141.0 354.4h1M124.8 364.7h1M132.5 371.5h1M116.2 363.5h1M134.5 356.7h1M128.2 372.7h1M137.7 366.0h1M110.2 362.6h1M131.2 361.8h1M128.0 378.7h1M127.0 358.5h1M130.2 361.7h1M126.3 362.9h1M133.9 364.5h1M120.1 362.6h1M131.8 361.0h1M136.5 367.2h1M121.6 364.9h1M142.4 371.1h1M128.1 367.8h1M123.8 356.1h1M132.4 364.5h1M132.1 363.2h1M130.8 360.7h1M131.8 367.5h1M128.1 367.4h1M116.1 359.4h1M138.6 372.1h1M130.3 362.8h1M119.6 365.1h1M133.9 355.9h1M132.4 365.8h1M131.6 357.7h1M132.3 355.8h1M138.9 364.0h1M120.4 370.0h1M136.6 360.0h1M143.9 358.3h1M130.7 369.2h1M112.6 368.3h1M128.0 363.2h1M121.0 365.0h1M120.7 358.5h1M125.4 357.2h1M139.5 356.7h1M123.2 361.7h1M128.5 367.3h1M134.2 361.8h1M125.8 363.5h1M134.3 366.8h1M124.9 353.0h1M143.5 368.1h1M130.3 365.0h1M124.8 358.3h1M126.2 362.2h1M124.1 356.0h1M126.3 366.2h1M125.0 363.4h1M114.0 362.3h1M127.6 357.2h1M116.4 365.4h1M122.8 365.7h1M125.6 366.4h1M126.1 355.8h1M127.9 361.7h1M133.1 361.0h1M125.7 367.6h1M136.7 367.1h1M135.8 365.6h1M133.9 367.7h1M131.3 363.6h1M129.5 375.3h1M128.6 362.1h1M126.0 363.1h1M130.2 357.6h1M114.6 364.8h1M117.3 364.6h1M129.5 369.1h1M140.2 365.1h1M124.6 357.4h1M123.0 363.5h1M114.0 363.7h1M128.4 366.5h1M126.2 363.8h1M123.3 361.0h1M116.1 363.9h1M139.3 364.1h1M131.1 358.4h1M138.5 359.5h1M134.1 363.8h1M121.8 368.4h1M128.6 364.2h1M131.7 363.2h1M125.8 365.6h1M125.7 363.6h1M123.8 355.8h1M123.8 360.8h1M128.6 369.2h1M116.7 363.9h1M113.0 358.1h1M125.0 352.0h1M115.5 364.1h1M129.0 362.7h1M122.9 374.1h1M127.4 359.0h1M140.2 366.4h1M125.9 369.3h1M129.6 366.5h1M130.1 358.2h1M135.3 364.1h1M121.4 359.5h1M135.2 361.5h1M128.8 366.6h1M129.4 355.7h1M133.0 368.0h1M134.6 371.4h1M131.0 367.2h1M139.6 361.8h1M140.7 372.0h1M134.0 372.5h1M134.5 358.9h1M136.5 364.9h1M131.4 364.1h1M138.0 366.1h1M123.6 365.7h1M133.6 359.7h1M125.5 361.4h1M124.2 365.0h1M135.6 372.8h1M136.9 368.4h1M136.5 370.0h1M125.9 366.8h1M130.8 362.7h1M125.3 360.8h1M126.6 357.1h1M132.2 363.2h1M129.2 365.0h1M133.6 360.3h1M127.8 355.3h1M113.0 353.6h1M139.3 354.2h1M131.8 370.7h1M125.3 371.4h1M141.4 368.0h1M145.1 366.4h1M123.4 365.9h1M125.4 356.8h1M119.6 374.9h1M124.7 363.2h1M123.9 364.0h1M126.9 361.3h1M120.1 356.3h1M123.4 364.8h1M143.1 368.6h1M141.4 365.8h1M128.0 356.8h1M128.6 352.7h1M126.5 371.5h1M130.9 369.0h1M126.0 356.5h1M125.3 361.4h1M137.1 373.3h1M123.5 361.6h1M127.6 361.7h1M120.0 363.9h1M131.2 365.4h1M120.2 362.9h1M116.5 368.0h1M121.5 362.1h1M125.5 360.5h1M121.3 354.6h1M140.8 364.7h1M130.6 373.9h1M128.0 366.2h1M128.9 369.4h1M132.2 365.0h1M126.9 364.9h1M136.9 353.1h1M127.8 361.4h1M126.6 353.6h1M133.8 359.2h1M127.1 360.9h1M117.0 361.2h1M115.8 358.8h1M126.5 363.4h1M129.1 362.8h1M143.7 365.6h1M120.2 360.4h1M124.1 362.6h1M124.5 359.2h1M140.3 363.7h1M126.4 362.2h1M127.2 370.4h1M132.1 369.1h1M106.9 365.1h1M136.2 373.3h1M128.9 354.9h1M132.9 360.5h1M116.2 360.4h1M136.1 369.5h1M133.8 358.2h1M146.4 357.6h1M128.2 356.3h1M138.0 365.7h1M135.0 363.9h1M128.3 364.4h1M115.6 368.5h1M135.2 361.5h1M128.7 365.0h1M139.8 365.7h1M129.1 361.0h1M118.3 360.5h1M129.3 362.3h1M129.3 367.2h1M131.9 364.9h1M133.4 364.5h1M128.6 365.9h1M116.7 369.8h1M119.8 367.7h1M128.9 369.1h1M129.1 358.8h1M136.4 364.5h1M129.7 364.0h1M135.9 367.6h1M130.5 355.8h1M126.0 364.1h1M141.4 365.5h1M128.2 369.5h1M128.1 363.4h1M130.0 356.1h1M135.6 365.7h1M126.9 357.9h1M130.4 370.6h1M124.4 358.3h1M131.8 355.6h1M113.3 361.4h1M124.1 362.2h1M125.0 365.2h1M127.4 360.6h1M125.7 366.7h1M135.6 368.1h1M133.8 347.1h1M121.9 362.0h1M130.3 355.5h1M138.9 365.1h1M124.6 364.4h1M126.5 359.8h1M132.5 361.3h1M119.0 360.4h1M128.1 358.2h1M137.8 358.2h1M141.2 368.1h1M122.3 364.3h1M137.2 362.7h1M120.6 364.2h1M142.9 356.2h1M132.8 363.7h1M128.1 361.7h1M126.7 368.8h1M133.1 358.6h1M139.9 357.2h1M133.6 364.6h1M137.4 365.4h1M136.4 363.5h1M135.8 365.4h1M144.0 360.2h1M137.4 366.0h1M130.2 360.8h1M132.1 356.3h1M119.4 367.2h1M118.1 370.9h1M127.1 364.9h1M129.5 365.8h1M127.1 361.8h1M128.1 368.9h1M137.0 370.0h1M131.6 362.7h1M117.3 366.9h1M134.9 361.7h1M134.7 370.1h1M129.7 369.0h1M131.2 355.0h1M125.7 361.6h1M132.7 359.4h1M126.0 358.9h1M128.8 364.0h1M135.9 367.7h1M130.2 364.9h1M129.8 364.2h1M139.9 351.3h1M127.8 365.2h1M136.9 358.2h1M131.5 368.0h1M125.9 354.1h1M126.5 357.7h1M133.6 359.4h1M141.5 364.4h1M123.4 361.2h1M121.4 365.6h1M139.5 362.6h1M135.5 359.0h1M131.2 375.2h1M119.2 369.8h1M137.3 354.3h1M119.0 358.8h1M135.8 361.5h1M127.9 367.2h1M129.9 364.8h1M126.8 369.3h1M123.6 372.1h1M126.7 359.7h1M133.6 365.9h1M115.2 364.8h1M119.6 359.5h1M134.5 359.4h1M131.5 361.8h1M142.5 363.2h1M120.8 358.1h1M122.7 364.3h1M129.0 368.5h1M130.2 364.3h1M131.2 363.0h1M131.0 367.6h1M134.5 360.9h1M116.6 359.6h1M130.9 351.2h1M125.6 365.9h1M125.0 358.0h1M141.2 370.5h1M127.1 370.2h1M138.0 358.0h1M147.7 358.9h1M127.1 358.1h1M129.5 357.0h1M128.9 369.0h1M130.4 362.3h1M139.7 359.1h1M135.7 362.1h1M130.4 363.7h1M129.8 363.3h1M123.4 360.7h1M131.9 363.0h1M135.2 338.6h1M138.5 341.4h1M139.2 346.6h1M138.8 341.6h1M124.3 337.3h1M130.4 345.2h1M132.7 339.9h1M132.6 349.3h1M136.2 347.2h1M130.8 338.1h1M140.6 348.3h1M147.8 350.1h1M140.0 347.1h1M139.1 344.7h1M134.1 343.3h1M129.3 357.4h1M140.8 346.9h1M133.8 346.3h1M136.3 344.2h1M138.3 338.9h1M135.8 342.9h1M133.2 349.4h1M135.5 348.0h1M138.9 347.9h1M133.6 346.8h1M134.2 340.7h1M142.2 346.3h1M136.0 351.7h1M130.4 345.8h1M134.1 332.0h1M130.7 341.3h1M141.1 334.6h1M130.1 340.4h1M139.3 359.1h1M141.8 343.3h1M146.3 340.7h1M131.9 336.0h1M134.6 344.4h1M130.4 353.6h1M139.6 340.8h1M143.4 348.5h1M149.3 347.2h1M139.2 342.3h1M136.8 350.2h1M136.0 343.4h1M132.7 341.2h1M130.6 341.8h1M130.4 347.4h1M146.8 357.4h1M137.2 351.7h1M144.4 341.5h1M141.1 346.1h1M143.6 340.7h1M138.8 340.3h1M135.0 334.7h1M136.0 348.0h1M142.2 342.3h1M144.4 344.6h1M141.1 330.6h1M130.6 348.0h1M142.6 337.2h1M135.1 338.6h1M136.6 348.6h1M133.9 347.8h1M143.6 346.8h1M127.3 346.9h1M138.5 348.9h1M145.2 339.6h1M147.6 334.6h1M146.1 341.2h1M131.6 344.7h1M139.9 345.5h1M143.5 348.2h1M140.7 339.6h1M136.9 349.4h1M133.5 339.4h1M142.2 349.5h1M131.6 340.0h1M130.5 352.4h1M134.2 345.9h1M138.8 334.5h1M145.4 343.8h1M137.3 358.5h1M143.4 351.1h1M133.9 341.8h1M136.4 354.6h1M136.8 344.8h1M135.2 344.2h1M144.5 349.4h1M131.4 342.7h1M130.8 345.3h1M144.3 341.1h1M140.1 358.8h1M142.1 338.6h1M134.8 331.6h1M141.9 354.1h1M129.9 336.7h1M138.0 350.1h1M140.3 341.4h1M128.7 341.5h1M135.0 349.8h1M131.6 339.0h1M134.2 346.5h1M136.9 348.7h1M136.3 351.4h1M128.4 341.1h1M141.8 338.4h1M132.0 363.2h1M139.9 338.8h1M134.9 347.8h1M130.2 345.4h1M142.7 343.2h1M137.4 354.7h1M140.5 343.4h1M140.6 351.6h1M140.0 340.5h1M134.7 350.7h1M140.8 337.0h1M143.0 347.2h1M135.0 345.5h1M133.1 342.4h1M135.4 339.3h1M143.8 342.1h1M138.0 337.7h1M145.6 341.5h1M136.4 346.6h1M138.6 349.9h1M145.9 342.2h1M146.9 349.2h1M142.1 351.9h1M132.9 345.8h1M138.6 349.2h1M138.2 349.1h1M133.3 340.9h1M144.7 349.2h1M140.5 343.3h1M134.1 353.3h1M132.7 343.0h1M139.6 352.1h1M130.1 342.3h1M143.2 344.0h1M136.2 343.3h1M132.2 348.9h1M141.3 345.4h1M134.2 340.4h1M137.8 346.5h1M139.3 343.7h1M133.7 346.4h1M140.5 341.1h1M145.0 351.8h1M143.7 340.0h1M138.2 349.6h1M142.4 348.0h1M133.1 355.7h1M137.6 348.7h1M144.0 343.9h1M133.3 350.0h1M139.5 343.4h1M142.6 336.7h1M139.1 344.7h1M147.3 347.1h1M136.6 345.3h1M135.9 355.4h1M131.5 342.0h1M139.7 351.5h1M139.2 347.9h1M134.5 344.3h1M140.5 340.5h1M146.4 345.9h1M135.9 340.6h1M145.2 339.1h1M142.2 337.8h1M137.7 353.7h1M127.8 349.4h1M130.2 342.8h1M138.4 346.2h1M143.0 340.6h1M135.8 347.2h1M131.1 342.1h1M148.8 344.0h1M140.4 340.9h1M142.3 341.9h1M137.2 347.8h1M135.8 334.6h1M137.2 352.3h1M136.0 348.9h1M140.5 334.1h1M135.5 347.0h1M139.8 343.0h1M140.1 341.6h1M126.7 343.9h1M135.4 344.3h1M140.4 340.2h1M141.0 342.3h1M139.1 351.6h1M134.8 336.0h1M137.1 350.6h1M137.9 340.4h1M139.7 348.2h1M134.3 349.0h1M137.1 343.5h1M128.0 345.0h1M131.8 343.8h1M146.1 353.4h1M142.4 355.1h1M143.1 342.3h1M141.4 344.0h1M135.5 339.8h1M147.2 347.9h1M149.5 345.0h1M132.1 361.5h1M133.7 345.0h1M135.8 344.4h1M143.2 344.8h1M139.7 350.8h1M139.0 345.2h1M141.3 346.0h1M140.9 345.2h1M142.3 337.4h1M139.3 355.6h1M145.1 336.8h1M123.6 343.3h1M141.4 343.9h1M144.6 347.5h1M139.0 348.9h1M132.9 333.5h1M141.8 346.3h1M135.4 339.1h1M129.0 348.0h1M137.3 333.7h1M136.1 346.7h1M138.6 331.6h1M141.7 337.3h1M139.7 344.6h1M135.8 349.0h1M144.6 350.1h1M145.0 347.6h1M143.0 341.5h1M133.6 346.8h1M135.8 344.8h1M138.9 341.9h1M136.9 351.5h1M131.2 346.0h1M144.2 345.9h1M140.8 350.0h1M133.6 342.1h1M131.8 344.7h1M143.1 337.9h1M147.3 339.8h1M140.6 336.7h1M139.3 338.3h1M138.6 339.1h1M136.2 344.3h1M145.9 348.3h1M142.8 341.7h1M138.3 345.7h1M127.7 358.3h1M129.5 341.2h1M137.3 343.4h1M140.2 367.9h1M144.9 355.9h1M140.8 342.6h1M139.3 355.2h1M140.9 346.5h1M134.4 336.3h1M141.1 347.2h1M136.8 339.8h1M137.7 344.5h1M139.0 349.3h1M131.4 346.2h1M140.0 339.0h1M139.8 335.7h1M134.4 341.3h1M135.1 349.1h1M135.1 340.1h1M152.0 345.5h1M138.3 332.6h1M143.1 343.8h1M126.1 343.0h1M133.0 353.1h1M131.6 344.8h1M135.9 338.7h1M142.6 350.3h1M140.9 341.6h1M138.9 342.9h1M141.5 346.1h1M137.7 341.5h1M138.8 346.4h1M146.9 340.4h1M142.1 342.4h1M144.4 346.4h1M148.6 332.1h1M132.2 343.9h1M149.6 345.9h1M132.2 348.1h1M145.0 342.4h1M137.5 336.8h1M149.1 343.4h1M144.9 343.4h1M134.4 341.1h1M141.4 351.1h1M141.5 334.8h1M135.3 348.9h1M139.7 346.4h1M135.4 342.2h1M137.0 341.1h1M138.1 337.2h1M138.7 336.2h1M133.2 344.6h1M148.0 350.2h1M131.6 353.0h1M139.4 352.7h1M135.4 344.8h1M145.2 345.1h1M136.3 348.3h1M136.3 341.1h1M147.6 348.6h1M138.3 338.8h1M134.6 342.8h1M141.1 347.5h1M133.2 336.7h1M139.9 352.2h1M135.8 348.2h1M140.6 342.8h1M132.8 342.1h1M142.8 345.1h1M143.6 339.0h1M134.1 349.3h1M138.1 345.1h1M141.6 348.9h1M131.7 337.4h1M138.9 351.2h1M140.0 347.6h1M132.4 354.2h1M134.3 351.6h1M145.0 349.4h1M140.3 336.9h1M136.9 343.4h1M133.1 345.3h1M141.6 339.4h1M135.5 350.1h1M149.8 336.5h1M140.1 351.6h1M135.5 339.0h1M133.6 346.5h1M139.0 354.6h1M133.2 347.4h1M134.4 339.7h1M137.0 346.7h1M139.9 343.4h1" stroke="#1f2fc8" stroke-width="1" fill="none" opacity="0.85"/>
<path d="M122.1 379.0h1M109.7 317.5h1M115.1 378.5h1M99.1 343.7h1M104.9 352.4h1M123.1 322.5h1M108.7 365.6h1M147.8 365.2h1M141.0 334.3h1M104.8 365.3h1M80.9 341.0h1M94.7 312.9h1M132.6 324.4h1M104.7 336.1h1M93.8 377.4h1M101.0 347.3h1M77.0 330.9h1M106.0 334.9h1M98.3 346.0h1M161.5 339.2h1M111.4 332.9h1M131.9 359.8h1M94.6 338.7h1" stroke="#9a9a9a" stroke-width="1" fill="none" opacity="0.85"/>
<line x1="71.50" y1="308.30" x2="71.50" y2="385.50" stroke="#222" stroke-width="1.4"/>
<line x1="71.50" y1="385.50" x2="164.90" y2="385.50" stroke="#222" stroke-width="1.4"/>
<line x1="78.53" y1="385.50" x2="78.53" y2="387.10" stroke="#333" stroke-width="0.7"/>
<line x1="69.90" y1="379.69" x2="71.50" y2="379.69" stroke="#333" stroke-width="0.7"/>
<line x1="82.64" y1="385.50" x2="82.64" y2="387.10" stroke="#333" stroke-width="0.7"/>
<line x1="69.90" y1="376.29" x2="71.50" y2="376.29" stroke="#333" stroke-width="0.7"/>
<line x1="85.56" y1="385.50" x2="85.56" y2="387.10" stroke="#333" stroke-width="0.7"/>
<line x1="69.90" y1="373.88" x2="71.50" y2="373.88" stroke="#333" stroke-width="0.7"/>
<line x1="87.82" y1="385.50" x2="87.82" y2="387.10" stroke="#333" stroke-width="0.7"/>
<line x1="69.90" y1="372.01" x2="71.50" y2="372.01" stroke="#333" stroke-width="0.7"/>
<line x1="89.67" y1="385.50" x2="89.67" y2="387.10" stroke="#333" stroke-width="0.7"/>
<line x1="69.90" y1="370.48" x2="71.50" y2="370.48" stroke="#333" stroke-width="0.7"/>
<line x1="91.23" y1="385.50" x2="91.23" y2="387.10" stroke="#333" stroke-width="0.7"/>
<line x1="69.90" y1="369.19" x2="71.50" y2="369.19" stroke="#333" stroke-width="0.7"/>
<line x1="92.59" y1="385.50" x2="92.59" y2="387.10" stroke="#333" stroke-width="0.7"/>
<line x1="69.90" y1="368.07" x2="71.50" y2="368.07" stroke="#333" stroke-width="0.7"/>
<line x1="93.78" y1="385.50" x2="93.78" y2="387.10" stroke="#333" stroke-width="0.7"/>
<line x1="69.90" y1="367.08" x2="71.50" y2="367.08" stroke="#333" stroke-width="0.7"/>
<line x1="101.88" y1="385.50" x2="101.88" y2="387.10" stroke="#333" stroke-width="0.7"/>
<line x1="69.90" y1="360.39" x2="71.50" y2="360.39" stroke="#333" stroke-width="0.7"/>
<line x1="105.99" y1="385.50" x2="105.99" y2="387.10" stroke="#333" stroke-width="0.7"/>
<line x1="69.90" y1="356.99" x2="71.50" y2="356.99" stroke="#333" stroke-width="0.7"/>
<line x1="108.91" y1="385.50" x2="108.91" y2="387.10" stroke="#333" stroke-width="0.7"/>
<line x1="69.90" y1="354.58" x2="71.50" y2="354.58" stroke="#333" stroke-width="0.7"/>
<line x1="111.17" y1="385.50" x2="111.17" y2="387.10" stroke="#333" stroke-width="0.7"/>
<line x1="69.90" y1="352.71" x2="71.50" y2="352.71" stroke="#333" stroke-width="0.7"/>
<line x1="113.02" y1="385.50" x2="113.02" y2="387.10" stroke="#333" stroke-width="0.7"/>
<line x1="69.90" y1="351.18" x2="71.50" y2="351.18" stroke="#333" stroke-width="0.7"/>
<line x1="114.58" y1="385.50" x2="114.58" y2="387.10" stroke="#333" stroke-width="0.7"/>
<line x1="69.90" y1="349.89" x2="71.50" y2="349.89" stroke="#333" stroke-width="0.7"/>
<line x1="115.94" y1="385.50" x2="115.94" y2="387.10" stroke="#333" stroke-width="0.7"/>
<line x1="69.90" y1="348.77" x2="71.50" y2="348.77" stroke="#333" stroke-width="0.7"/>
<line x1="117.13" y1="385.50" x2="117.13" y2="387.10" stroke="#333" stroke-width="0.7"/>
<line x1="69.90" y1="347.78" x2="71.50" y2="347.78" stroke="#333" stroke-width="0.7"/>
<line x1="125.23" y1="385.50" x2="125.23" y2="387.10" stroke="#333" stroke-width="0.7"/>
<line x1="69.90" y1="341.09" x2="71.50" y2="341.09" stroke="#333" stroke-width="0.7"/>
<line x1="129.34" y1="385.50" x2="129.34" y2="387.10" stroke="#333" stroke-width="0.7"/>
<line x1="69.90" y1="337.69" x2="71.50" y2="337.69" stroke="#333" stroke-width="0.7"/>
<line x1="132.26" y1="385.50" x2="132.26" y2="387.10" stroke="#333" stroke-width="0.7"/>
<line x1="69.90" y1="335.28" x2="71.50" y2="335.28" stroke="#333" stroke-width="0.7"/>
<line x1="134.52" y1="385.50" x2="134.52" y2="387.10" stroke="#333" stroke-width="0.7"/>
<line x1="69.90" y1="333.41" x2="71.50" y2="333.41" stroke="#333" stroke-width="0.7"/>
<line x1="136.37" y1="385.50" x2="136.37" y2="387.10" stroke="#333" stroke-width="0.7"/>
<line x1="69.90" y1="331.88" x2="71.50" y2="331.88" stroke="#333" stroke-width="0.7"/>
<line x1="137.93" y1="385.50" x2="137.93" y2="387.10" stroke="#333" stroke-width="0.7"/>
<line x1="69.90" y1="330.59" x2="71.50" y2="330.59" stroke="#333" stroke-width="0.7"/>
<line x1="139.29" y1="385.50" x2="139.29" y2="387.10" stroke="#333" stroke-width="0.7"/>
<line x1="69.90" y1="329.47" x2="71.50" y2="329.47" stroke="#333" stroke-width="0.7"/>
<line x1="140.48" y1="385.50" x2="140.48" y2="387.10" stroke="#333" stroke-width="0.7"/>
<line x1="69.90" y1="328.48" x2="71.50" y2="328.48" stroke="#333" stroke-width="0.7"/>
<line x1="148.58" y1="385.50" x2="148.58" y2="387.10" stroke="#333" stroke-width="0.7"/>
<line x1="69.90" y1="321.79" x2="71.50" y2="321.79" stroke="#333" stroke-width="0.7"/>
<line x1="152.69" y1="385.50" x2="152.69" y2="387.10" stroke="#333" stroke-width="0.7"/>
<line x1="69.90" y1="318.39" x2="71.50" y2="318.39" stroke="#333" stroke-width="0.7"/>
<line x1="155.61" y1="385.50" x2="155.61" y2="387.10" stroke="#333" stroke-width="0.7"/>
<line x1="69.90" y1="315.98" x2="71.50" y2="315.98" stroke="#333" stroke-width="0.7"/>
<line x1="157.87" y1="385.50" x2="157.87" y2="387.10" stroke="#333" stroke-width="0.7"/>
<line x1="69.90" y1="314.11" x2="71.50" y2="314.11" stroke="#333" stroke-width="0.7"/>
<line x1="159.72" y1="385.50" x2="159.72" y2="387.10" stroke="#333" stroke-width="0.7"/>
<line x1="69.90" y1="312.58" x2="71.50" y2="312.58" stroke="#333" stroke-width="0.7"/>
<line x1="161.28" y1="385.50" x2="161.28" y2="387.10" stroke="#333" stroke-width="0.7"/>
<line x1="69.90" y1="311.29" x2="71.50" y2="311.29" stroke="#333" stroke-width="0.7"/>
<line x1="162.64" y1="385.50" x2="162.64" y2="387.10" stroke="#333" stroke-width="0.7"/>
<line x1="69.90" y1="310.17" x2="71.50" y2="310.17" stroke="#333" stroke-width="0.7"/>
<line x1="163.83" y1="385.50" x2="163.83" y2="387.10" stroke="#333" stroke-width="0.7"/>
<line x1="69.90" y1="309.18" x2="71.50" y2="309.18" stroke="#333" stroke-width="0.7"/>
<line x1="71.50" y1="385.50" x2="71.50" y2="388.00" stroke="#222" stroke-width="0.9"/>
<line x1="69.00" y1="385.50" x2="71.50" y2="385.50" stroke="#222" stroke-width="0.9"/>
<text x="66.90" y="394.50" font-size="8.2">10<tspan dy="-3.2" font-size="5.6">0</tspan></text>
<text transform="translate(68.60,385.50) rotate(-90)" x="-4.2" font-size="7.5">10<tspan dy="-3" font-size="5">0</tspan></text>
<line x1="94.85" y1="385.50" x2="94.85" y2="388.00" stroke="#222" stroke-width="0.9"/>
<line x1="69.00" y1="366.20" x2="71.50" y2="366.20" stroke="#222" stroke-width="0.9"/>
<text x="90.25" y="394.50" font-size="8.2">10<tspan dy="-3.2" font-size="5.6">1</tspan></text>
<text transform="translate(68.60,366.20) rotate(-90)" x="-4.2" font-size="7.5">10<tspan dy="-3" font-size="5">1</tspan></text>
<line x1="118.20" y1="385.50" x2="118.20" y2="388.00" stroke="#222" stroke-width="0.9"/>
<line x1="69.00" y1="346.90" x2="71.50" y2="346.90" stroke="#222" stroke-width="0.9"/>
<text x="113.60" y="394.50" font-size="8.2">10<tspan dy="-3.2" font-size="5.6">2</tspan></text>
<text transform="translate(68.60,346.90) rotate(-90)" x="-4.2" font-size="7.5">10<tspan dy="-3" font-size="5">2</tspan></text>
<line x1="141.55" y1="385.50" x2="141.55" y2="388.00" stroke="#222" stroke-width="0.9"/>
<line x1="69.00" y1="327.60" x2="71.50" y2="327.60" stroke="#222" stroke-width="0.9"/>
<text x="136.95" y="394.50" font-size="8.2">10<tspan dy="-3.2" font-size="5.6">3</tspan></text>
<text transform="translate(68.60,327.60) rotate(-90)" x="-4.2" font-size="7.5">10<tspan dy="-3" font-size="5">3</tspan></text>
<line x1="164.90" y1="385.50" x2="164.90" y2="388.00" stroke="#222" stroke-width="0.9"/>
<line x1="69.00" y1="308.30" x2="71.50" y2="308.30" stroke="#222" stroke-width="0.9"/>
<text x="160.30" y="394.50" font-size="8.2">10<tspan dy="-3.2" font-size="5.6">4</tspan></text>
<text transform="translate(68.60,308.30) rotate(-90)" x="-4.2" font-size="7.5">10<tspan dy="-3" font-size="5">4</tspan></text>
<text x="113.9" y="306.1" font-size="9.6" text-anchor="middle">Data.004</text>
<text transform="translate(57.20,348.40) rotate(-90)" font-size="8.9" text-anchor="middle">CD11b PE</text>
<text x="118" y="411" font-size="9.1" text-anchor="middle">CD15 APC</text>
<rect x="70.70" y="434.40" width="94.90" height="77.00" fill="#fff" stroke="#4a4a4a" stroke-width="1.15"/>
<path d="M89.1 502.0h1M80.7 495.8h1M91.5 503.3h1M97.4 496.7h1M89.3 491.2h1M94.0 493.5h1M77.6 499.0h1M106.1 497.0h1M77.5 504.4h1M77.5 490.2h1M85.0 503.8h1M90.3 508.6h1M75.7 495.5h1M86.4 507.0h1M91.2 498.3h1M79.4 507.2h1M78.0 497.5h1M82.2 498.0h1M80.6 497.5h1M87.0 498.1h1M92.6 500.6h1M89.9 502.3h1M87.3 501.6h1M92.0 495.7h1M96.5 497.8h1M75.0 498.2h1M88.7 506.9h1M86.0 499.1h1M99.4 496.6h1M95.8 507.4h1M77.0 503.1h1M83.1 494.7h1M73.0 490.5h1M90.7 498.5h1M89.6 493.9h1M85.0 499.3h1M75.4 489.8h1M90.9 502.2h1M80.2 500.5h1M80.5 505.4h1M104.1 501.6h1M99.0 483.5h1M98.8 501.1h1M72.8 506.5h1M95.7 509.5h1M96.9 501.0h1M81.6 498.0h1M87.2 504.0h1M83.7 501.5h1M94.3 503.4h1M78.5 497.3h1M77.2 493.2h1M91.8 494.4h1M79.2 499.3h1M93.8 498.8h1M84.7 507.5h1M91.2 504.3h1M94.9 494.2h1M89.2 496.8h1M95.5 506.8h1M78.3 509.2h1M89.1 495.2h1M78.7 499.1h1M87.3 496.3h1M91.9 491.6h1M87.4 501.2h1M72.7 503.3h1M77.5 484.0h1M82.6 499.6h1M94.6 497.8h1M90.2 497.4h1M92.6 507.9h1M89.3 499.5h1M75.1 505.9h1M90.2 492.2h1M88.2 506.2h1M86.6 506.6h1M93.4 491.0h1M85.1 504.5h1M72.3 500.7h1M93.1 509.6h1M100.8 494.7h1M84.5 493.9h1M93.9 492.0h1M96.8 507.7h1M91.3 486.2h1M82.1 506.4h1M76.3 499.5h1M86.6 507.3h1M89.7 503.1h1M84.0 501.2h1M86.4 506.2h1M86.0 508.3h1M74.0 509.5h1M86.1 509.0h1M88.1 507.1h1M99.3 497.3h1M88.1 500.0h1M89.1 490.0h1M86.1 499.5h1M81.2 499.8h1M80.5 493.1h1M89.7 489.6h1M89.2 496.3h1M84.8 502.9h1M92.4 492.2h1M95.2 491.9h1M88.1 492.5h1M83.0 496.7h1M83.0 499.0h1M98.8 493.0h1M77.6 505.2h1M74.8 498.6h1M96.3 501.1h1M83.6 496.2h1M80.1 497.0h1M88.5 509.7h1M95.0 497.2h1M81.6 505.9h1M73.0 498.1h1M84.8 493.4h1M79.5 503.5h1M74.2 494.7h1M82.2 501.6h1M76.5 508.5h1M84.8 499.2h1M84.4 496.4h1M79.5 508.9h1M88.8 500.2h1M95.1 496.1h1M92.2 501.1h1M80.2 506.2h1M75.4 505.4h1M80.2 503.8h1M98.0 504.8h1M82.4 500.7h1M84.2 492.8h1M78.4 501.2h1M91.3 488.7h1M86.5 504.4h1M87.9 493.9h1M95.2 492.5h1M89.5 502.4h1M81.0 498.7h1M76.0 501.7h1M91.2 496.2h1M79.7 497.5h1M86.9 501.2h1M86.2 501.2h1M76.7 482.0h1M75.8 496.2h1M89.3 507.3h1M92.0 509.5h1M86.5 503.6h1M90.2 497.8h1M96.4 505.0h1M94.6 498.0h1M95.0 493.5h1M90.0 482.8h1M79.0 505.8h1M83.4 501.9h1M91.6 500.5h1M90.2 503.0h1M98.0 502.2h1M75.4 499.0h1M97.0 504.6h1M83.6 504.9h1M87.8 504.9h1M74.5 494.6h1M92.1 499.2h1M84.5 502.4h1M82.5 496.4h1M86.3 490.8h1M86.1 508.4h1M87.9 501.7h1M92.1 505.6h1M77.5 509.0h1M79.3 502.1h1M106.9 501.3h1M99.9 498.3h1M91.7 501.1h1M90.2 494.9h1M79.7 503.0h1M74.7 494.9h1M91.9 496.5h1M80.0 493.1h1M88.1 498.2h1M88.1 499.4h1M101.4 497.7h1M86.9 501.8h1M74.4 508.4h1M86.7 500.4h1M74.6 503.9h1M83.7 492.3h1M87.9 494.5h1M90.2 493.3h1M85.9 499.2h1M86.7 497.2h1M80.6 500.3h1M82.4 501.8h1M84.8 485.4h1M89.3 504.8h1M90.5 497.5h1M76.6 506.2h1M95.1 504.6h1M90.2 503.4h1M86.7 502.6h1M87.0 502.9h1M79.6 496.5h1M91.3 498.4h1M92.5 505.3h1M81.8 493.1h1M85.3 500.9h1M81.0 501.8h1M92.2 504.8h1M79.0 486.2h1M87.0 496.3h1M99.6 502.7h1M87.3 502.6h1M93.5 500.5h1M83.2 495.8h1M87.1 496.6h1M93.1 498.6h1M98.2 508.9h1M77.5 508.1h1M91.0 500.5h1M92.2 497.1h1M89.6 503.4h1M86.0 503.5h1M79.5 504.6h1M77.9 505.0h1M90.7 505.6h1M85.4 501.9h1M83.6 507.6h1M80.0 503.0h1M84.4 507.2h1M85.0 495.2h1M90.7 493.1h1M80.0 506.1h1M73.0 506.1h1M84.2 494.9h1M89.1 505.2h1M82.9 499.9h1M93.4 506.1h1M86.9 496.0h1M80.2 497.1h1M92.5 504.9h1M85.1 498.6h1M71.8 503.1h1M90.8 501.6h1M105.1 508.9h1M93.3 495.2h1M91.2 498.7h1M87.8 502.5h1M83.8 505.4h1M99.8 508.1h1M89.1 488.5h1M95.7 508.4h1M86.1 498.1h1M92.5 495.9h1M93.6 494.2h1M80.6 501.4h1M76.6 501.3h1M91.6 492.6h1M94.6 497.6h1M91.7 502.7h1M84.2 497.9h1M74.8 496.7h1M95.3 492.3h1M93.6 502.8h1M84.8 504.4h1M93.6 497.6h1M85.6 502.4h1M80.3 502.6h1M87.0 496.9h1M81.3 503.4h1M94.2 503.5h1M81.3 506.3h1M88.9 505.3h1M96.4 495.5h1M86.6 497.5h1M94.7 489.8h1M90.9 497.7h1M96.3 501.9h1M86.4 502.3h1M90.6 501.6h1M86.0 500.5h1M91.5 494.0h1M87.7 500.6h1M84.1 506.2h1M78.0 499.0h1M81.3 505.0h1M84.2 501.7h1M90.6 490.9h1M91.1 496.5h1M85.8 500.7h1M93.7 506.2h1M100.9 502.6h1M84.1 498.1h1M90.2 497.6h1M89.7 503.1h1M87.9 496.5h1M95.6 502.8h1M89.1 493.5h1M93.7 496.3h1M91.9 501.5h1M78.9 505.7h1M88.2 494.7h1M98.5 493.2h1M100.0 502.5h1M86.0 500.8h1M88.8 489.4h1M103.3 507.2h1M79.6 499.1h1M80.9 501.7h1M90.6 503.0h1M83.2 496.2h1M94.0 500.7h1M104.5 496.1h1M93.6 501.7h1M88.6 495.6h1M85.3 508.1h1M92.8 499.6h1M92.2 502.5h1M80.8 500.0h1M86.1 498.7h1M76.5 507.3h1M88.3 502.0h1M98.3 497.7h1M87.3 503.2h1M84.5 500.7h1M93.4 501.3h1M97.7 496.5h1M89.2 492.0h1M86.8 496.8h1M97.9 506.3h1M98.6 506.1h1M82.5 491.9h1M87.5 499.1h1M82.8 499.5h1M79.1 497.0h1M92.0 490.7h1M94.6 507.6h1M85.3 494.3h1M84.1 489.2h1M98.2 501.8h1M82.1 495.4h1M78.1 497.6h1M74.4 505.9h1M86.8 498.5h1M82.3 507.0h1M75.4 506.4h1M89.6 498.1h1M80.9 508.4h1M101.8 498.4h1M83.0 499.7h1M78.4 500.4h1M87.1 498.6h1M82.1 490.9h1M77.5 494.9h1M92.6 498.0h1M81.2 505.8h1M92.0 496.4h1M82.9 505.8h1M90.5 495.8h1M89.5 501.2h1M96.2 495.6h1M94.4 504.3h1M80.0 508.4h1M94.6 492.6h1M102.8 493.8h1M80.7 499.2h1M93.6 505.3h1M109.2 502.7h1M79.5 502.0h1M88.4 493.2h1M78.9 499.6h1M86.2 483.9h1M95.2 501.6h1M87.6 503.4h1M79.8 501.1h1M95.7 508.7h1M91.3 499.5h1M91.8 498.5h1M72.7 509.9h1M89.2 496.3h1M97.2 492.2h1M86.7 493.0h1M74.2 502.6h1M88.0 498.8h1M89.3 508.5h1" stroke="#e4503e" stroke-width="1" fill="none" opacity="0.85"/>
<path d="M90.2 468.8h1M109.1 499.5h1M108.4 496.9h1M102.5 496.4h1M115.8 484.9h1M102.9 491.8h1M101.4 490.8h1M106.4 466.9h1M112.3 494.4h1M108.9 468.2h1M102.5 488.5h1M108.3 456.0h1M109.3 489.7h1M92.3 465.7h1M111.5 490.6h1M103.7 486.5h1M101.5 485.8h1M98.4 479.1h1M102.2 484.3h1M110.9 490.2h1M116.2 471.7h1M106.3 469.9h1M114.9 491.0h1M108.6 458.6h1M116.2 492.2h1M97.1 460.0h1M101.5 480.8h1M101.8 495.3h1M110.2 493.1h1M96.0 467.9h1M104.7 476.6h1M104.8 491.4h1M95.1 491.9h1M98.3 451.4h1M102.8 486.3h1M106.2 471.0h1M106.6 500.7h1M97.9 475.0h1M107.1 501.0h1M113.9 486.4h1M99.8 493.0h1M111.8 490.1h1M112.3 485.3h1M103.4 475.9h1M109.2 475.5h1M106.5 474.5h1M102.4 470.6h1M103.4 477.9h1M103.6 482.9h1M90.2 481.1h1M101.9 493.0h1M98.7 479.7h1M99.8 492.2h1M113.5 485.3h1M115.1 496.7h1M97.3 488.7h1M114.6 493.2h1M111.4 489.0h1M101.3 482.7h1M114.9 491.0h1M109.6 470.3h1M111.2 483.1h1M112.8 483.2h1M112.2 490.8h1M108.6 467.0h1M97.2 483.0h1M96.4 489.8h1M117.6 488.8h1M110.4 475.7h1M109.9 485.4h1M107.2 467.6h1M110.1 482.2h1M112.4 480.7h1M109.9 483.7h1M108.0 495.0h1M107.8 491.2h1M102.0 487.3h1M114.3 488.2h1M110.2 480.1h1M98.0 486.9h1M114.4 483.9h1M92.2 478.5h1M100.9 484.3h1M107.2 500.4h1M100.7 482.2h1M101.5 484.7h1M103.4 472.9h1M112.8 472.6h1M102.9 470.4h1M94.8 476.2h1M93.0 499.9h1M97.4 497.2h1M120.4 480.5h1M92.9 462.2h1M107.9 494.4h1M104.1 476.4h1M104.5 472.2h1M104.4 496.7h1M113.3 482.0h1M103.6 501.7h1M101.6 485.2h1M101.4 475.8h1M92.5 477.1h1M97.5 463.0h1M113.3 481.9h1M103.2 476.7h1M110.8 487.5h1M104.5 480.6h1M105.2 500.3h1M93.4 478.4h1M103.8 486.2h1M105.2 500.6h1M112.3 488.8h1M98.3 499.0h1M107.1 497.0h1M102.8 481.0h1M102.2 478.2h1M105.4 458.5h1M98.7 483.2h1M120.4 479.0h1M102.9 485.8h1M101.9 499.1h1M101.1 480.7h1M109.6 478.7h1M100.8 488.0h1M105.4 480.4h1M104.2 477.8h1M99.1 475.4h1M98.1 483.1h1M104.2 485.9h1M99.7 473.3h1M103.3 477.2h1M103.7 483.0h1M113.4 472.0h1M106.9 490.4h1M108.4 490.6h1M105.2 479.1h1M115.1 506.6h1M103.7 492.1h1M120.8 485.4h1M112.7 484.8h1M110.9 493.3h1M108.5 496.7h1M101.4 487.0h1M110.4 506.9h1M114.3 481.5h1M104.3 477.0h1M104.1 474.1h1M108.0 477.4h1M100.8 481.0h1M103.8 478.9h1M110.5 475.9h1M106.8 488.0h1M106.8 469.7h1M104.5 469.2h1M101.1 482.6h1M99.2 474.3h1M105.8 501.7h1M111.0 478.8h1M112.5 484.7h1M96.1 470.8h1M105.6 478.7h1M98.3 492.2h1M105.1 484.4h1M106.9 488.0h1M98.5 477.3h1M108.3 457.4h1M100.3 467.9h1M104.3 498.0h1M104.3 487.7h1M106.0 488.3h1M113.2 475.6h1M95.7 480.3h1M108.1 478.0h1M108.7 470.3h1M119.9 487.1h1M108.5 474.9h1M100.0 466.0h1M107.7 482.3h1M104.2 481.2h1M101.2 476.2h1M109.0 484.1h1M112.3 486.9h1M94.6 494.6h1M103.2 476.8h1M111.0 474.5h1M105.2 488.9h1M113.4 481.7h1M102.4 478.6h1M109.2 489.9h1M109.2 494.9h1M102.3 489.3h1M103.6 472.7h1M104.2 455.9h1M106.7 490.8h1M111.8 478.6h1M111.3 480.4h1M112.5 501.9h1M109.4 490.1h1M107.1 483.8h1M112.1 481.3h1M101.1 466.5h1M100.2 488.6h1M100.2 481.3h1M111.2 485.1h1M110.1 495.0h1M105.6 474.6h1M114.9 485.8h1M104.6 460.9h1M107.3 463.6h1M108.8 485.4h1M108.6 489.7h1M106.4 475.2h1M105.7 493.2h1M97.0 483.0h1M103.1 493.1h1M101.0 475.0h1M102.2 473.7h1M111.8 493.1h1M116.5 493.9h1M106.9 472.7h1M121.9 493.9h1M93.8 469.4h1M103.3 486.4h1M106.1 471.8h1M89.0 476.1h1M105.7 481.3h1M111.9 486.8h1M103.6 483.6h1M93.2 476.7h1M110.9 476.6h1M119.2 486.0h1M93.0 481.7h1M112.7 488.5h1M92.8 471.9h1M109.7 482.4h1M101.2 471.2h1M96.1 475.3h1M104.1 468.9h1M100.0 478.6h1M113.0 455.2h1M102.7 472.7h1M105.9 470.4h1M103.5 467.1h1M110.6 478.9h1M99.2 471.7h1M118.3 477.5h1M104.8 467.3h1M106.0 475.0h1M106.6 487.6h1M107.0 483.8h1M102.6 476.1h1M100.3 466.1h1M102.1 474.4h1M108.2 488.2h1M112.6 485.0h1M104.5 458.4h1M104.1 481.3h1M106.7 468.6h1M113.0 491.5h1M108.8 480.1h1M117.9 488.6h1M107.3 493.0h1M106.0 482.2h1M101.8 484.0h1M101.2 489.4h1M106.0 473.5h1M102.4 476.2h1M107.3 461.0h1M103.9 481.5h1M106.7 485.6h1M117.0 473.0h1M110.5 476.3h1M103.0 499.4h1M99.5 483.0h1M103.9 491.7h1M111.9 469.8h1M100.1 490.9h1M107.5 492.5h1M119.4 505.7h1M102.2 476.4h1M104.5 473.0h1M109.6 481.2h1M95.2 483.5h1M112.9 472.5h1M105.1 492.5h1M103.4 480.3h1M93.7 483.1h1M101.5 490.5h1M88.3 485.0h1M113.8 482.4h1M111.8 458.8h1M100.5 486.5h1M110.3 465.3h1M108.9 483.4h1M99.1 479.5h1M99.6 490.5h1M94.9 491.4h1M94.0 473.9h1M94.9 495.4h1M107.6 470.0h1M119.4 481.6h1M111.1 498.4h1M93.6 489.6h1M101.4 473.3h1M95.4 480.9h1M97.9 473.3h1M108.9 491.1h1M102.5 478.5h1M100.5 484.8h1M93.0 480.4h1M111.9 486.9h1M108.3 484.4h1M118.6 483.1h1M96.3 484.5h1M108.0 470.8h1M111.1 490.9h1M107.0 489.2h1M98.1 467.8h1M99.8 464.5h1M103.6 468.3h1M91.6 481.5h1M110.6 487.7h1M103.8 468.0h1M103.7 488.5h1M107.0 489.4h1M107.3 491.4h1M107.8 479.3h1M107.3 488.6h1M98.8 477.7h1M100.4 478.3h1M106.0 483.1h1M104.5 480.5h1M115.2 481.5h1M102.3 493.3h1M103.0 485.6h1M102.8 480.6h1M94.8 476.5h1M102.7 457.5h1M100.1 493.4h1M102.7 486.5h1M99.6 484.7h1M103.5 479.1h1M102.9 458.2h1M87.9 482.1h1M105.2 487.5h1M107.2 482.9h1M96.9 478.2h1M101.1 477.3h1M119.6 500.9h1M101.1 476.9h1M108.7 483.8h1M97.0 475.4h1M114.0 498.9h1M90.7 467.8h1M104.9 473.0h1M102.9 486.7h1M103.8 465.4h1M105.2 487.0h1M107.7 475.8h1M96.9 481.6h1M96.0 483.2h1M108.8 490.0h1M104.6 471.3h1M91.8 495.2h1M115.3 478.3h1M101.3 466.3h1M102.1 467.4h1M90.5 459.3h1M104.7 475.8h1M107.8 484.4h1M110.6 491.7h1M98.9 489.2h1M125.6 476.7h1M113.0 502.4h1M112.1 487.4h1M117.1 475.4h1M103.4 477.5h1M93.3 504.2h1M93.3 486.2h1M103.0 474.8h1M105.2 477.5h1M102.7 473.7h1M100.3 469.9h1M107.1 467.0h1M107.4 467.8h1M101.9 477.3h1M106.7 492.6h1M105.3 462.1h1M102.4 452.4h1M94.4 478.5h1M102.5 482.2h1M104.1 501.3h1M116.4 499.0h1M98.1 475.9h1M105.3 494.3h1M102.9 482.9h1M100.3 469.5h1M92.8 473.1h1M116.2 476.6h1M106.2 497.1h1M108.1 482.0h1M108.4 494.3h1M101.1 476.8h1M123.7 489.9h1M89.6 476.8h1M105.0 489.2h1M113.1 481.4h1M95.5 483.0h1M101.5 461.7h1M104.9 469.4h1M100.3 468.8h1M100.0 466.9h1M107.9 476.2h1M105.0 494.6h1M116.7 470.8h1M109.1 484.2h1M115.2 485.8h1M110.5 490.5h1M99.6 489.6h1M102.9 475.2h1M104.7 482.1h1M105.1 484.2h1M92.8 478.4h1M109.6 488.9h1M106.7 472.0h1M105.5 485.0h1M93.8 464.0h1M114.8 473.7h1M101.0 473.0h1M99.6 470.6h1M90.7 486.5h1M105.2 452.4h1M100.4 482.1h1M112.4 489.9h1M100.5 460.5h1M101.4 492.8h1M110.6 477.2h1M95.9 479.6h1M94.5 475.6h1M93.4 488.3h1M94.5 492.6h1M94.5 483.0h1M111.1 477.1h1M114.9 491.1h1M105.1 480.2h1M109.0 482.9h1M111.5 476.2h1M112.8 483.3h1M109.8 485.3h1M100.6 474.3h1M100.7 468.6h1M110.0 478.6h1M125.0 465.6h1M113.0 478.8h1M88.6 493.8h1M114.3 477.2h1M106.5 456.3h1M100.0 472.5h1M92.0 485.1h1M100.3 483.7h1M108.3 473.0h1M104.9 486.7h1M105.3 473.7h1M107.8 496.1h1M104.1 490.2h1M96.5 507.8h1M109.0 486.5h1M97.1 484.8h1M101.3 470.0h1M96.2 483.2h1M106.9 470.0h1M102.0 491.9h1M98.5 474.8h1M111.1 505.3h1M111.2 479.5h1M115.5 502.9h1M101.9 466.9h1M101.5 477.4h1M100.1 469.3h1M105.3 469.9h1M94.7 482.8h1M98.8 464.5h1M108.7 487.1h1M81.5 483.5h1M98.6 476.8h1M95.5 478.8h1M99.2 477.3h1M112.9 507.5h1M103.8 479.2h1M105.5 479.7h1M103.7 477.0h1M111.5 490.5h1M114.0 482.9h1M97.9 484.2h1M97.2 464.2h1M107.0 480.0h1M101.9 492.3h1M108.6 472.3h1M102.7 493.2h1M114.3 483.1h1M104.4 484.3h1M110.7 459.0h1M106.1 487.4h1M95.2 477.6h1M103.5 480.1h1M97.5 493.1h1M106.6 495.4h1M99.3 493.8h1M113.2 483.4h1M94.4 483.5h1M107.6 477.2h1M92.5 468.4h1M98.1 484.3h1M97.2 488.9h1M96.6 463.4h1M100.4 496.7h1M106.1 480.8h1M110.6 470.6h1M107.7 482.4h1M90.1 465.9h1M99.4 453.7h1M109.1 478.1h1M104.6 496.1h1M107.1 478.0h1M100.8 497.1h1M103.5 487.5h1M109.6 477.0h1M96.0 474.2h1M105.1 487.7h1M103.1 478.6h1M102.5 486.4h1M108.3 488.3h1M115.1 494.7h1M104.2 489.8h1M100.5 482.8h1M106.7 509.7h1M114.5 485.4h1M96.9 468.3h1M97.0 478.1h1M99.2 468.9h1M111.1 493.3h1M104.7 481.4h1M107.0 463.9h1M97.6 486.4h1M103.4 483.3h1M96.9 476.9h1M97.1 475.3h1M107.6 485.4h1M103.6 484.5h1M117.9 475.2h1M110.2 461.5h1M105.4 484.6h1M102.3 476.3h1M93.3 470.6h1M92.9 481.5h1M113.2 488.5h1M89.2 448.3h1M106.3 483.6h1M107.5 481.9h1M111.4 487.8h1M107.1 498.9h1M94.5 491.3h1M95.9 481.0h1M122.4 492.9h1M96.3 487.8h1M104.5 480.0h1M112.2 482.1h1M87.6 493.1h1M102.9 495.2h1M113.5 474.3h1M94.7 479.8h1M103.1 467.9h1M116.0 488.8h1M101.1 479.9h1M103.5 497.8h1M108.1 495.5h1M103.2 483.8h1M101.7 484.6h1M102.7 474.6h1M105.7 474.4h1M102.8 482.3h1M102.7 479.4h1M106.8 498.5h1M101.7 475.6h1M104.0 488.0h1M102.5 479.9h1M107.4 482.5h1M93.9 487.1h1M85.0 473.0h1M113.2 488.1h1M107.2 494.0h1M105.8 492.7h1M93.8 481.4h1M99.4 473.9h1M117.1 488.8h1M106.4 476.2h1M99.6 484.6h1M97.0 464.8h1M100.4 467.2h1M103.1 479.9h1M107.6 479.1h1M109.3 471.1h1M102.7 464.5h1M99.6 485.8h1M106.7 464.7h1M108.9 473.7h1M105.5 488.8h1M111.2 480.2h1M98.6 485.8h1M108.5 482.3h1M106.0 483.0h1M103.5 479.8h1M93.4 473.2h1M101.6 492.9h1M94.5 484.7h1M99.0 483.5h1M109.6 470.7h1M91.6 494.4h1M110.8 482.9h1M107.5 468.4h1M96.9 476.8h1M100.8 478.1h1M117.9 465.3h1M98.8 477.3h1M105.1 489.7h1M104.4 494.6h1M105.6 484.5h1M103.3 483.0h1M115.8 478.6h1M99.8 474.9h1M107.9 477.2h1M111.4 484.2h1M104.4 467.7h1M102.3 479.7h1M91.3 484.6h1M105.8 483.7h1M101.9 467.1h1M103.9 496.8h1M103.7 487.2h1M97.1 474.0h1M112.8 476.0h1M100.7 489.8h1M104.9 491.1h1M106.5 473.9h1M92.6 473.6h1M93.8 495.6h1M110.2 481.5h1M107.4 487.4h1M105.4 478.5h1M107.0 488.1h1M103.1 488.0h1M112.5 485.1h1M108.8 483.2h1M109.5 491.1h1M119.8 492.3h1M109.7 494.5h1M102.7 493.0h1M104.9 485.5h1M113.0 489.3h1M114.1 481.9h1M108.9 486.0h1M106.3 479.8h1M112.2 489.2h1M102.7 482.3h1M103.3 494.5h1M107.1 486.8h1M110.0 488.4h1M108.7 491.6h1M109.2 492.2h1M101.8 488.6h1M105.9 488.8h1M107.4 485.5h1M105.9 492.5h1M104.9 482.8h1M110.6 492.6h1M106.3 488.9h1M103.5 487.5h1M113.1 491.9h1M108.4 487.2h1M99.7 489.8h1M109.9 493.0h1M117.6 490.0h1M112.4 483.5h1M113.6 492.2h1M114.4 491.4h1M109.9 494.9h1M104.5 491.2h1M113.0 485.0h1M102.1 490.3h1M108.3 491.1h1M110.9 485.1h1M109.4 493.4h1M106.0 487.2h1M102.2 492.0h1M117.3 482.4h1M111.5 492.4h1M105.0 486.8h1M102.7 485.0h1M108.6 491.3h1M108.3 492.2h1M108.8 483.3h1M114.9 493.7h1M104.3 496.3h1M110.1 489.1h1M117.1 477.5h1M100.0 491.6h1M106.6 484.3h1M115.2 490.6h1M101.6 485.6h1M111.9 496.3h1M98.1 489.6h1M106.0 480.8h1M107.0 481.5h1M105.2 495.6h1M110.3 492.0h1M110.8 490.1h1M112.6 483.4h1M106.1 492.3h1M104.3 486.6h1M113.7 495.3h1M104.9 485.0h1M110.7 489.7h1M104.6 491.2h1M110.6 488.9h1M122.2 494.5h1M111.9 493.1h1M122.3 493.4h1M104.4 490.0h1M108.3 486.1h1M109.2 489.7h1M107.6 486.4h1M112.0 481.6h1M111.9 488.6h1M109.2 478.1h1M116.1 481.0h1M103.7 491.4h1M104.9 486.8h1M97.0 486.7h1M109.0 491.6h1M106.5 489.6h1M110.1 485.6h1M104.2 497.2h1M103.8 494.0h1M108.3 495.1h1M104.8 490.9h1M109.5 487.6h1M109.4 485.2h1M107.5 486.8h1M111.7 488.2h1M101.1 487.0h1M107.4 484.6h1M114.4 490.4h1M112.1 485.2h1M106.0 493.1h1M100.9 490.2h1M108.4 486.4h1M108.4 483.9h1M109.0 483.2h1M101.7 494.8h1M104.5 479.3h1M112.7 485.2h1M90.6 488.3h1M112.5 490.2h1M116.4 488.1h1M110.9 484.2h1M108.7 495.4h1M110.4 489.3h1M98.2 486.9h1M101.6 492.0h1M104.3 490.2h1M103.0 497.0h1M102.2 489.2h1M120.9 489.6h1M103.6 491.3h1M112.8 492.5h1M98.2 489.6h1M97.5 497.0h1M108.3 486.6h1M111.3 490.8h1M102.1 495.8h1M106.7 480.8h1M114.8 495.4h1M114.1 491.1h1M103.5 492.8h1M117.1 492.2h1M115.9 485.2h1M113.0 492.8h1M100.6 481.4h1M104.4 489.0h1M110.2 487.6h1M107.6 488.1h1M108.4 491.2h1M110.4 488.4h1M109.2 486.6h1M111.9 486.4h1M116.1 488.5h1M109.3 485.2h1M106.3 489.4h1M108.1 485.9h1M102.2 488.8h1M108.7 491.1h1M114.2 487.2h1M98.1 488.0h1M98.8 482.9h1M113.1 491.2h1M104.8 485.8h1M107.5 480.8h1M110.4 487.1h1M117.1 483.9h1M113.0 485.6h1M113.0 484.3h1M111.6 486.7h1M103.9 488.0h1M110.3 490.5h1M115.8 492.3h1M94.9 486.9h1M98.1 486.9h1M111.1 482.7h1M102.1 489.3h1M106.5 495.7h1M109.6 491.0h1M116.7 486.4h1M108.0 484.2h1M109.3 493.3h1M114.8 488.5h1M104.4 485.2h1M101.0 489.2h1M114.8 478.0h1M97.1 495.0h1M100.0 490.2h1M101.7 492.2h1M111.9 489.4h1M112.1 488.9h1M110.8 496.9h1M113.5 485.7h1M104.0 487.6h1M106.9 489.0h1M105.0 491.6h1M108.2 490.3h1M108.1 491.5h1M102.1 495.8h1M109.8 490.7h1M111.1 493.6h1M111.7 489.8h1M107.1 481.3h1M109.1 487.3h1M106.5 499.5h1M98.8 489.0h1M114.1 493.1h1M114.3 483.0h1M103.3 491.5h1M106.6 496.4h1M109.2 489.6h1M110.3 487.5h1M108.7 485.7h1M107.9 486.6h1M109.4 482.4h1M100.7 490.8h1M109.2 484.4h1M107.0 484.1h1M118.3 481.7h1M116.7 485.1h1M110.2 487.6h1M106.2 493.0h1M112.2 487.5h1M103.6 498.1h1M115.2 489.4h1M106.7 490.1h1M108.6 494.2h1M103.3 488.9h1M104.2 494.7h1M117.2 488.4h1M110.8 495.1h1M106.7 484.6h1M113.3 491.1h1M107.1 495.4h1M109.3 480.8h1M109.9 488.5h1M117.6 488.7h1M107.1 490.8h1M109.4 482.5h1M108.8 487.3h1M115.2 499.6h1M102.6 484.5h1M103.9 485.9h1M104.7 489.1h1M113.6 483.0h1M100.5 480.5h1M113.7 494.8h1M100.5 481.5h1M108.8 493.7h1M113.2 489.7h1M111.6 490.3h1M105.4 497.4h1M108.2 483.8h1M105.8 481.9h1M108.3 493.8h1M101.8 493.9h1M118.6 490.5h1M102.4 485.0h1M106.5 483.1h1M101.9 487.7h1M107.3 491.6h1M102.2 497.3h1M113.5 492.8h1M104.9 496.7h1M106.5 497.0h1M113.5 484.8h1M105.9 497.3h1M113.2 488.1h1M109.2 489.7h1M104.3 487.9h1M104.9 486.9h1M110.5 484.5h1M111.8 489.3h1M112.0 492.8h1M114.4 491.7h1M111.7 488.0h1M111.0 484.8h1M106.9 492.2h1M107.9 490.8h1M102.9 495.0h1M105.3 490.6h1M108.1 493.0h1M106.3 484.3h1M98.7 487.4h1M102.2 491.2h1M115.4 478.8h1M101.7 490.2h1M114.4 490.2h1M109.8 491.1h1M111.1 496.2h1M111.2 483.2h1M105.8 489.8h1M104.1 487.6h1M105.5 485.7h1M111.7 487.1h1M102.7 485.6h1M108.4 498.4h1M109.5 495.5h1M110.7 479.1h1M110.1 485.0h1M101.4 484.0h1M117.2 481.7h1M105.1 494.1h1M111.5 481.1h1M107.6 486.5h1M107.2 492.2h1M105.3 487.4h1M115.5 480.5h1M106.3 490.9h1M101.9 486.0h1M101.5 489.5h1M105.0 492.4h1M113.3 489.0h1M106.2 490.0h1M108.4 483.3h1M113.6 489.8h1M112.1 482.6h1M112.6 498.4h1M111.3 482.2h1M108.3 488.5h1M109.2 487.7h1M110.6 486.7h1M109.3 485.7h1M108.6 493.3h1M105.7 491.8h1M103.7 487.1h1M106.9 494.5h1M104.3 494.3h1M100.7 488.1h1M112.7 491.9h1M103.0 483.2h1M112.6 483.1h1M111.1 486.4h1M108.1 499.3h1M116.0 492.6h1M101.2 490.2h1M108.4 488.3h1M114.9 481.0h1M109.7 489.4h1M104.3 496.6h1M101.7 488.9h1M108.5 478.8h1M100.9 484.4h1M112.1 493.1h1M111.1 489.9h1M97.0 489.7h1M105.5 494.1h1M114.9 499.0h1M111.7 492.5h1M102.9 489.1h1M101.8 492.8h1M102.1 487.8h1M103.9 486.6h1M110.4 486.2h1M109.2 484.2h1M115.2 485.8h1M113.2 498.5h1M95.7 484.2h1M107.0 494.1h1M105.6 490.5h1M104.4 491.3h1M101.9 492.6h1M92.9 480.1h1M117.3 489.5h1M103.5 498.8h1M113.4 493.9h1M105.9 491.6h1M110.6 481.1h1M111.1 487.9h1M114.6 494.7h1M104.8 486.0h1M109.0 491.7h1M106.0 488.2h1M111.2 490.7h1M114.0 489.8h1M103.5 480.6h1M112.2 487.2h1M106.3 487.4h1M100.0 486.9h1M94.7 486.9h1M103.5 497.2h1M110.3 487.7h1M108.9 492.1h1M104.2 487.6h1M106.2 500.1h1M108.4 479.6h1M112.1 500.6h1M103.1 504.7h1M107.7 493.3h1M105.1 487.4h1M101.7 483.8h1M97.0 494.0h1M102.1 490.4h1M109.7 485.7h1M108.3 488.2h1M105.5 488.9h1M108.3 484.0h1M101.3 484.7h1M108.6 495.1h1M115.6 490.1h1M112.9 489.2h1M113.7 489.3h1M110.0 487.4h1M108.0 497.5h1M101.8 488.7h1M104.9 493.1h1M117.4 487.2h1M93.7 491.5h1M111.2 480.8h1M106.7 488.3h1M96.0 491.8h1M110.3 489.8h1M102.5 485.3h1M104.7 490.9h1M102.9 495.5h1M109.9 478.5h1M116.7 489.4h1M105.1 489.1h1M98.5 489.5h1M95.2 483.9h1M115.0 494.5h1M106.2 484.1h1M112.8 488.4h1M109.0 491.5h1M102.4 492.3h1M96.9 495.5h1M99.8 485.7h1M104.5 492.0h1M111.8 490.3h1M110.7 490.8h1M107.5 479.6h1M95.9 477.8h1M107.7 487.5h1M107.2 489.6h1M106.7 483.9h1M100.1 479.7h1M114.2 492.8h1M100.8 487.3h1M110.2 496.1h1M104.7 489.4h1M113.9 480.4h1M104.0 488.4h1M104.1 498.5h1M112.4 489.5h1M102.9 492.6h1M111.2 486.1h1M105.6 481.7h1M107.5 492.6h1M113.1 491.3h1M112.2 485.8h1M105.4 494.2h1M110.2 484.8h1M110.5 492.4h1M111.5 489.0h1M105.1 490.4h1M116.7 489.2h1M104.4 490.1h1M101.4 489.6h1M106.3 493.0h1M108.4 493.4h1M119.8 487.5h1M103.5 490.7h1M107.4 489.2h1M104.7 491.1h1M108.2 478.4h1M106.6 490.1h1M114.0 485.8h1M103.6 493.9h1M104.6 489.0h1M110.3 492.0h1M107.9 483.3h1M113.1 486.5h1M105.1 497.9h1M112.4 483.5h1M105.3 487.3h1M103.9 479.5h1M112.0 492.1h1M109.1 486.6h1M108.9 491.5h1M102.4 486.9h1M104.9 491.7h1M109.2 482.4h1M104.6 496.7h1M102.8 489.2h1M104.5 494.3h1M107.5 486.4h1M101.7 487.3h1M112.1 491.6h1M100.9 495.8h1M106.5 483.6h1M108.4 485.6h1M104.8 485.5h1M107.3 486.1h1M98.9 490.9h1M105.1 494.0h1M110.5 491.3h1M108.7 494.5h1M106.1 483.8h1M109.5 475.8h1M105.8 489.5h1M105.6 494.3h1M111.4 489.0h1M105.7 493.5h1M104.2 486.5h1M107.5 470.7h1M102.4 481.3h1M107.8 448.9h1M102.7 474.9h1M114.8 477.3h1M100.8 459.0h1M107.1 454.1h1M107.5 470.4h1M99.0 454.3h1M93.7 452.6h1M93.9 453.3h1M106.4 462.9h1M103.6 469.6h1M103.7 458.9h1M101.9 469.1h1M101.8 464.9h1M103.9 460.1h1M110.2 455.2h1M106.6 451.5h1M113.0 453.2h1M98.7 471.6h1M96.7 460.7h1M106.2 463.9h1M95.3 485.5h1M100.1 474.6h1M109.1 466.7h1M106.3 468.9h1M103.6 462.8h1M111.1 465.7h1M100.7 452.3h1M97.7 454.1h1M110.5 457.8h1M112.1 482.0h1M104.2 454.6h1M106.4 455.1h1M107.3 474.9h1M102.8 471.6h1M91.5 448.2h1M107.2 463.6h1M101.6 474.8h1M105.3 465.0h1M103.3 473.1h1M110.4 455.4h1M106.1 467.8h1M103.7 453.9h1M91.3 450.3h1M101.0 462.4h1M112.6 469.1h1M114.7 464.1h1M108.4 459.6h1M104.5 454.0h1M102.4 461.8h1M92.1 469.2h1M98.7 465.3h1M106.1 465.4h1M101.4 461.3h1M107.1 454.9h1M106.4 458.9h1M112.1 452.7h1M110.8 456.0h1M107.1 460.7h1M107.9 463.2h1M111.5 464.4h1M107.9 469.9h1M99.4 478.1h1M104.1 475.1h1M106.6 452.3h1M114.1 462.7h1M104.0 460.4h1M92.0 466.3h1M97.6 468.6h1M114.0 475.9h1M93.9 464.3h1M104.8 465.9h1M101.9 470.3h1M102.8 454.6h1M114.6 456.8h1M99.7 458.6h1M96.1 464.0h1M102.9 460.7h1M102.2 460.4h1M106.4 474.6h1M101.1 453.4h1M99.7 470.5h1M103.5 465.1h1M102.6 468.7h1M98.4 463.2h1M98.0 467.3h1M103.6 478.6h1M108.5 462.6h1M104.2 463.7h1M99.2 464.0h1M99.4 456.8h1M99.8 473.7h1M100.9 461.1h1M115.9 470.1h1M107.1 456.8h1M101.8 465.4h1M95.9 468.5h1M105.1 471.2h1M113.5 456.2h1M110.8 471.4h1M102.0 452.5h1M107.5 460.1h1M92.0 475.5h1M102.9 464.6h1M103.5 472.6h1M102.5 454.0h1M98.9 455.9h1M100.7 464.7h1M94.4 466.7h1M111.4 483.4h1M95.8 470.3h1M98.4 446.7h1M117.4 462.5h1M100.5 475.1h1M111.2 474.3h1M111.2 464.5h1M99.7 467.1h1M102.9 454.8h1M95.4 472.6h1M107.1 451.2h1M114.9 442.2h1M108.2 460.8h1M94.8 479.6h1M117.5 455.8h1M102.9 462.1h1M110.2 466.3h1M104.4 475.2h1M103.5 461.7h1M111.7 466.9h1M114.9 465.5h1M107.0 457.4h1M111.6 478.8h1M98.3 467.1h1M102.7 458.6h1M102.2 466.9h1M99.2 452.5h1M108.8 468.6h1M101.5 453.0h1M100.2 450.7h1M104.1 493.4h1M100.1 461.6h1M92.3 454.5h1M102.0 464.1h1M93.7 476.5h1M111.9 468.0h1M107.7 448.4h1M106.9 451.2h1M103.7 476.5h1" stroke="#1f2fc8" stroke-width="1" fill="none" opacity="0.85"/>
<path d="M137.0 470.1h1M137.1 481.3h1M133.2 473.5h1M137.9 479.5h1M121.3 474.8h1M129.1 477.4h1M143.2 476.3h1M145.3 468.3h1M131.4 468.3h1M135.2 475.0h1M133.1 467.0h1M134.1 471.7h1M139.7 472.7h1M144.2 475.8h1M119.5 473.3h1M123.0 480.3h1M146.4 474.2h1M138.3 465.5h1M116.3 471.0h1M132.6 465.1h1M135.5 476.3h1M140.0 483.9h1M141.3 472.2h1M135.6 478.1h1M126.2 482.6h1M142.1 473.0h1M129.5 497.8h1M141.6 480.2h1M149.4 480.4h1M136.4 478.7h1M127.3 478.8h1M122.1 477.0h1M139.3 464.9h1M150.5 467.4h1M143.3 471.2h1M137.3 470.4h1M155.2 480.8h1M149.6 479.3h1M140.5 475.4h1M132.9 478.2h1M136.1 473.6h1M123.6 472.6h1M139.8 471.6h1M137.7 473.6h1M126.4 469.0h1M128.8 472.7h1M132.7 481.4h1M126.0 462.0h1M140.5 471.7h1M133.9 490.2h1M146.9 478.2h1M142.7 475.3h1M142.8 470.8h1M129.1 471.7h1M147.9 484.1h1M130.0 481.7h1M133.6 481.2h1M132.3 480.5h1M134.0 472.8h1M134.8 475.6h1M130.2 466.2h1M148.9 472.2h1M120.0 460.6h1M112.0 470.8h1M146.1 464.6h1M132.3 463.3h1M144.0 476.9h1M137.6 482.9h1M148.5 481.0h1M130.2 466.5h1M126.4 463.8h1M149.9 473.5h1M136.1 475.8h1M151.6 471.2h1M144.7 476.5h1M133.8 462.8h1M142.6 470.1h1M131.2 476.0h1M135.8 481.6h1M129.5 475.7h1M137.3 474.8h1M140.6 473.1h1M145.0 470.3h1M123.2 474.4h1M144.8 471.5h1M129.9 472.5h1M136.4 473.6h1M137.6 464.0h1M147.4 478.3h1M128.0 483.1h1M138.7 483.7h1M125.4 484.9h1M135.4 461.9h1M141.2 472.8h1M126.7 473.3h1M119.0 478.3h1M133.3 473.0h1M146.7 474.9h1M129.6 468.8h1M134.5 481.2h1M130.3 468.2h1M142.6 475.0h1M134.8 487.5h1M125.0 475.9h1M120.4 472.8h1M139.9 481.6h1M124.6 479.8h1M141.5 473.9h1M155.3 474.7h1M127.8 477.3h1" stroke="#2a8a3a" stroke-width="1" fill="none" opacity="0.85"/>
<path d="M73.8 505.6h1M147.2 455.2h1M137.6 479.3h1M117.3 476.0h1M110.4 441.1h1M152.4 460.3h1M127.7 489.9h1M88.2 441.7h1M94.9 458.9h1M111.2 464.9h1" stroke="#9a9a9a" stroke-width="1" fill="none" opacity="0.85"/>
<line x1="70.70" y1="434.40" x2="70.70" y2="511.40" stroke="#222" stroke-width="1.4"/>
<line x1="70.70" y1="511.40" x2="165.60" y2="511.40" stroke="#222" stroke-width="1.4"/>
<line x1="77.84" y1="511.40" x2="77.84" y2="513.00" stroke="#333" stroke-width="0.7"/>
<line x1="69.10" y1="505.61" x2="70.70" y2="505.61" stroke="#333" stroke-width="0.7"/>
<line x1="82.02" y1="511.40" x2="82.02" y2="513.00" stroke="#333" stroke-width="0.7"/>
<line x1="69.10" y1="502.22" x2="70.70" y2="502.22" stroke="#333" stroke-width="0.7"/>
<line x1="84.98" y1="511.40" x2="84.98" y2="513.00" stroke="#333" stroke-width="0.7"/>
<line x1="69.10" y1="499.81" x2="70.70" y2="499.81" stroke="#333" stroke-width="0.7"/>
<line x1="87.28" y1="511.40" x2="87.28" y2="513.00" stroke="#333" stroke-width="0.7"/>
<line x1="69.10" y1="497.94" x2="70.70" y2="497.94" stroke="#333" stroke-width="0.7"/>
<line x1="89.16" y1="511.40" x2="89.16" y2="513.00" stroke="#333" stroke-width="0.7"/>
<line x1="69.10" y1="496.42" x2="70.70" y2="496.42" stroke="#333" stroke-width="0.7"/>
<line x1="90.75" y1="511.40" x2="90.75" y2="513.00" stroke="#333" stroke-width="0.7"/>
<line x1="69.10" y1="495.13" x2="70.70" y2="495.13" stroke="#333" stroke-width="0.7"/>
<line x1="92.13" y1="511.40" x2="92.13" y2="513.00" stroke="#333" stroke-width="0.7"/>
<line x1="69.10" y1="494.02" x2="70.70" y2="494.02" stroke="#333" stroke-width="0.7"/>
<line x1="93.34" y1="511.40" x2="93.34" y2="513.00" stroke="#333" stroke-width="0.7"/>
<line x1="69.10" y1="493.03" x2="70.70" y2="493.03" stroke="#333" stroke-width="0.7"/>
<line x1="101.57" y1="511.40" x2="101.57" y2="513.00" stroke="#333" stroke-width="0.7"/>
<line x1="69.10" y1="486.36" x2="70.70" y2="486.36" stroke="#333" stroke-width="0.7"/>
<line x1="105.74" y1="511.40" x2="105.74" y2="513.00" stroke="#333" stroke-width="0.7"/>
<line x1="69.10" y1="482.97" x2="70.70" y2="482.97" stroke="#333" stroke-width="0.7"/>
<line x1="108.71" y1="511.40" x2="108.71" y2="513.00" stroke="#333" stroke-width="0.7"/>
<line x1="69.10" y1="480.56" x2="70.70" y2="480.56" stroke="#333" stroke-width="0.7"/>
<line x1="111.01" y1="511.40" x2="111.01" y2="513.00" stroke="#333" stroke-width="0.7"/>
<line x1="69.10" y1="478.69" x2="70.70" y2="478.69" stroke="#333" stroke-width="0.7"/>
<line x1="112.89" y1="511.40" x2="112.89" y2="513.00" stroke="#333" stroke-width="0.7"/>
<line x1="69.10" y1="477.17" x2="70.70" y2="477.17" stroke="#333" stroke-width="0.7"/>
<line x1="114.47" y1="511.40" x2="114.47" y2="513.00" stroke="#333" stroke-width="0.7"/>
<line x1="69.10" y1="475.88" x2="70.70" y2="475.88" stroke="#333" stroke-width="0.7"/>
<line x1="115.85" y1="511.40" x2="115.85" y2="513.00" stroke="#333" stroke-width="0.7"/>
<line x1="69.10" y1="474.77" x2="70.70" y2="474.77" stroke="#333" stroke-width="0.7"/>
<line x1="117.06" y1="511.40" x2="117.06" y2="513.00" stroke="#333" stroke-width="0.7"/>
<line x1="69.10" y1="473.78" x2="70.70" y2="473.78" stroke="#333" stroke-width="0.7"/>
<line x1="125.29" y1="511.40" x2="125.29" y2="513.00" stroke="#333" stroke-width="0.7"/>
<line x1="69.10" y1="467.11" x2="70.70" y2="467.11" stroke="#333" stroke-width="0.7"/>
<line x1="129.47" y1="511.40" x2="129.47" y2="513.00" stroke="#333" stroke-width="0.7"/>
<line x1="69.10" y1="463.72" x2="70.70" y2="463.72" stroke="#333" stroke-width="0.7"/>
<line x1="132.43" y1="511.40" x2="132.43" y2="513.00" stroke="#333" stroke-width="0.7"/>
<line x1="69.10" y1="461.31" x2="70.70" y2="461.31" stroke="#333" stroke-width="0.7"/>
<line x1="134.73" y1="511.40" x2="134.73" y2="513.00" stroke="#333" stroke-width="0.7"/>
<line x1="69.10" y1="459.44" x2="70.70" y2="459.44" stroke="#333" stroke-width="0.7"/>
<line x1="136.61" y1="511.40" x2="136.61" y2="513.00" stroke="#333" stroke-width="0.7"/>
<line x1="69.10" y1="457.92" x2="70.70" y2="457.92" stroke="#333" stroke-width="0.7"/>
<line x1="138.20" y1="511.40" x2="138.20" y2="513.00" stroke="#333" stroke-width="0.7"/>
<line x1="69.10" y1="456.63" x2="70.70" y2="456.63" stroke="#333" stroke-width="0.7"/>
<line x1="139.58" y1="511.40" x2="139.58" y2="513.00" stroke="#333" stroke-width="0.7"/>
<line x1="69.10" y1="455.52" x2="70.70" y2="455.52" stroke="#333" stroke-width="0.7"/>
<line x1="140.79" y1="511.40" x2="140.79" y2="513.00" stroke="#333" stroke-width="0.7"/>
<line x1="69.10" y1="454.53" x2="70.70" y2="454.53" stroke="#333" stroke-width="0.7"/>
<line x1="149.02" y1="511.40" x2="149.02" y2="513.00" stroke="#333" stroke-width="0.7"/>
<line x1="69.10" y1="447.86" x2="70.70" y2="447.86" stroke="#333" stroke-width="0.7"/>
<line x1="153.19" y1="511.40" x2="153.19" y2="513.00" stroke="#333" stroke-width="0.7"/>
<line x1="69.10" y1="444.47" x2="70.70" y2="444.47" stroke="#333" stroke-width="0.7"/>
<line x1="156.16" y1="511.40" x2="156.16" y2="513.00" stroke="#333" stroke-width="0.7"/>
<line x1="69.10" y1="442.06" x2="70.70" y2="442.06" stroke="#333" stroke-width="0.7"/>
<line x1="158.46" y1="511.40" x2="158.46" y2="513.00" stroke="#333" stroke-width="0.7"/>
<line x1="69.10" y1="440.19" x2="70.70" y2="440.19" stroke="#333" stroke-width="0.7"/>
<line x1="160.34" y1="511.40" x2="160.34" y2="513.00" stroke="#333" stroke-width="0.7"/>
<line x1="69.10" y1="438.67" x2="70.70" y2="438.67" stroke="#333" stroke-width="0.7"/>
<line x1="161.92" y1="511.40" x2="161.92" y2="513.00" stroke="#333" stroke-width="0.7"/>
<line x1="69.10" y1="437.38" x2="70.70" y2="437.38" stroke="#333" stroke-width="0.7"/>
<line x1="163.30" y1="511.40" x2="163.30" y2="513.00" stroke="#333" stroke-width="0.7"/>
<line x1="69.10" y1="436.27" x2="70.70" y2="436.27" stroke="#333" stroke-width="0.7"/>
<line x1="164.51" y1="511.40" x2="164.51" y2="513.00" stroke="#333" stroke-width="0.7"/>
<line x1="69.10" y1="435.28" x2="70.70" y2="435.28" stroke="#333" stroke-width="0.7"/>
<line x1="70.70" y1="511.40" x2="70.70" y2="513.90" stroke="#222" stroke-width="0.9"/>
<line x1="68.20" y1="511.40" x2="70.70" y2="511.40" stroke="#222" stroke-width="0.9"/>
<text x="66.10" y="520.40" font-size="8.2">10<tspan dy="-3.2" font-size="5.6">0</tspan></text>
<text transform="translate(67.80,511.40) rotate(-90)" x="-4.2" font-size="7.5">10<tspan dy="-3" font-size="5">0</tspan></text>
<line x1="94.42" y1="511.40" x2="94.42" y2="513.90" stroke="#222" stroke-width="0.9"/>
<line x1="68.20" y1="492.15" x2="70.70" y2="492.15" stroke="#222" stroke-width="0.9"/>
<text x="89.83" y="520.40" font-size="8.2">10<tspan dy="-3.2" font-size="5.6">1</tspan></text>
<text transform="translate(67.80,492.15) rotate(-90)" x="-4.2" font-size="7.5">10<tspan dy="-3" font-size="5">1</tspan></text>
<line x1="118.15" y1="511.40" x2="118.15" y2="513.90" stroke="#222" stroke-width="0.9"/>
<line x1="68.20" y1="472.90" x2="70.70" y2="472.90" stroke="#222" stroke-width="0.9"/>
<text x="113.55" y="520.40" font-size="8.2">10<tspan dy="-3.2" font-size="5.6">2</tspan></text>
<text transform="translate(67.80,472.90) rotate(-90)" x="-4.2" font-size="7.5">10<tspan dy="-3" font-size="5">2</tspan></text>
<line x1="141.88" y1="511.40" x2="141.88" y2="513.90" stroke="#222" stroke-width="0.9"/>
<line x1="68.20" y1="453.65" x2="70.70" y2="453.65" stroke="#222" stroke-width="0.9"/>
<text x="137.28" y="520.40" font-size="8.2">10<tspan dy="-3.2" font-size="5.6">3</tspan></text>
<text transform="translate(67.80,453.65) rotate(-90)" x="-4.2" font-size="7.5">10<tspan dy="-3" font-size="5">3</tspan></text>
<line x1="165.60" y1="511.40" x2="165.60" y2="513.90" stroke="#222" stroke-width="0.9"/>
<line x1="68.20" y1="434.40" x2="70.70" y2="434.40" stroke="#222" stroke-width="0.9"/>
<text x="161.00" y="520.40" font-size="8.2">10<tspan dy="-3.2" font-size="5.6">4</tspan></text>
<text transform="translate(67.80,434.40) rotate(-90)" x="-4.2" font-size="7.5">10<tspan dy="-3" font-size="5">4</tspan></text>
<text x="113.75" y="432.2" font-size="9.6" text-anchor="middle">Data.004</text>
<text transform="translate(56.40,474.40) rotate(-90)" font-size="8.9" text-anchor="middle">CD11b PE</text>
<text x="118.25" y="531.6" font-size="9.1" text-anchor="middle">CD16-FITC</text>
<rect x="184.80" y="308.00" width="95.40" height="77.50" fill="#fff" stroke="#4a4a4a" stroke-width="1.15"/>
<path d="M248.5 350.4h1M243.2 328.1h1M238.1 353.5h1M241.0 359.9h1M255.3 338.6h1M251.5 340.9h1M253.1 366.9h1M249.9 350.6h1M248.7 354.0h1M254.6 325.5h1M246.6 352.7h1M254.0 345.3h1M240.0 358.1h1M243.6 345.2h1M252.1 354.2h1M234.5 359.4h1M244.1 337.6h1M241.6 357.6h1M246.6 352.8h1M242.2 351.2h1M245.8 337.4h1M246.9 351.0h1M243.9 343.8h1M235.2 358.2h1M241.7 349.2h1M238.9 335.5h1M242.0 340.9h1M233.2 351.3h1M251.2 347.5h1M248.7 349.4h1M229.8 349.2h1M240.5 341.4h1M237.6 359.4h1M253.8 359.1h1M247.1 345.8h1M241.1 350.9h1M244.3 362.1h1M240.4 357.1h1M244.2 344.3h1M235.7 339.2h1M248.5 354.6h1M241.6 346.5h1M246.2 349.6h1M255.2 358.0h1M251.4 342.7h1M242.1 354.5h1M239.2 342.7h1M252.4 346.2h1M233.6 358.1h1M246.1 354.4h1M241.7 357.8h1M248.7 355.5h1M250.7 338.9h1M240.3 326.4h1M238.7 335.8h1M249.0 356.4h1M245.4 345.4h1M244.3 345.5h1M246.5 350.9h1M241.9 341.7h1M252.6 347.1h1M256.4 350.4h1M255.0 351.5h1M246.0 335.9h1M245.8 354.2h1M258.9 354.7h1M246.4 350.1h1M258.4 349.9h1M243.5 357.0h1M255.0 336.2h1M249.6 346.0h1M235.7 353.2h1M249.6 353.5h1M241.9 348.5h1M245.5 337.2h1M257.3 341.6h1M236.4 344.7h1M236.5 343.5h1M268.2 325.8h1M229.7 352.6h1M249.6 343.2h1M241.1 342.0h1M245.7 343.3h1M248.8 344.6h1M241.0 343.6h1M233.9 342.4h1M226.8 353.8h1M247.5 348.9h1M244.6 352.7h1M231.6 354.6h1M246.1 348.3h1M243.3 342.1h1M234.2 356.3h1M245.3 343.4h1M246.9 347.2h1M248.2 348.0h1M247.3 351.2h1M233.0 356.4h1M234.2 360.2h1M242.8 354.4h1M233.5 338.6h1M232.4 358.7h1M255.4 345.8h1M256.8 355.9h1M241.6 364.7h1M248.6 353.2h1M252.1 338.1h1M241.1 347.7h1M234.2 345.0h1M249.0 360.4h1M251.8 338.2h1M240.3 362.4h1M243.3 336.2h1M252.7 362.0h1M250.1 339.5h1M246.6 340.9h1M243.1 350.6h1M261.6 350.4h1M244.4 346.3h1M239.8 357.3h1M251.9 350.1h1M254.5 342.6h1M244.3 359.1h1M245.6 346.8h1M252.0 333.8h1M249.1 353.8h1M241.7 348.0h1M248.4 341.2h1M252.0 353.8h1M241.6 346.5h1M242.2 345.6h1M231.7 338.2h1M244.6 330.9h1M242.2 351.7h1M251.6 353.7h1M257.0 343.9h1M238.5 348.7h1M228.8 355.1h1M248.7 338.3h1M241.7 350.8h1M252.8 329.8h1M261.5 356.8h1M239.3 359.8h1M252.1 340.6h1M251.5 339.5h1M240.6 349.7h1M241.6 349.0h1M257.3 349.2h1M240.2 351.8h1M249.5 342.6h1M247.7 355.9h1M241.0 361.8h1M263.0 346.5h1M244.8 360.6h1M229.1 353.6h1M243.3 343.3h1M231.8 353.5h1M256.0 351.1h1M239.4 352.0h1M227.6 358.5h1M241.3 351.0h1M240.7 351.3h1M250.1 342.2h1M254.3 339.4h1M252.2 348.9h1M242.6 342.1h1M250.9 355.9h1M255.1 331.8h1M232.8 348.0h1M253.0 343.4h1M244.6 339.1h1M230.9 358.6h1M234.0 332.7h1M242.0 334.8h1M244.7 366.4h1M263.2 345.1h1M240.1 353.7h1M243.5 356.0h1M237.1 335.5h1M249.0 340.7h1M241.7 342.5h1M233.5 352.1h1M237.6 353.6h1M237.1 344.9h1M239.8 345.2h1M252.7 333.9h1M250.4 350.7h1M237.0 346.7h1M231.8 334.1h1M258.3 343.8h1M242.7 363.1h1M247.2 352.7h1M231.5 345.7h1M256.4 345.3h1M240.9 358.5h1M243.8 344.2h1M241.4 340.3h1M254.7 333.0h1M245.5 343.6h1M240.7 364.1h1M251.8 344.5h1M258.5 339.7h1M242.4 349.5h1M251.5 358.0h1M240.6 340.7h1M235.1 365.3h1M233.6 357.7h1M238.9 348.8h1M240.1 352.2h1M257.9 348.3h1M230.2 343.4h1M240.0 342.8h1M246.7 336.0h1M247.2 344.3h1M236.5 334.8h1M252.9 346.9h1M255.1 339.2h1M239.8 350.1h1M238.6 347.8h1M240.1 341.0h1M251.5 356.8h1M255.7 346.9h1M249.0 327.4h1M260.6 346.1h1M252.6 346.1h1M255.1 331.7h1M241.9 352.5h1M258.6 326.5h1M249.5 359.5h1M232.0 345.0h1M251.6 349.6h1M252.3 343.4h1M247.6 344.4h1M236.7 351.6h1M232.4 372.0h1M238.4 348.1h1M242.8 347.5h1M241.7 330.4h1M242.9 350.0h1M243.2 318.5h1M245.8 345.2h1M233.9 348.4h1M240.0 351.7h1M246.3 343.3h1M243.8 358.1h1M236.2 352.7h1M238.6 341.4h1M244.8 342.0h1M251.6 346.8h1M247.7 354.3h1M251.2 353.0h1M250.5 352.5h1M247.2 354.8h1M237.1 342.9h1M264.3 343.4h1M245.9 352.8h1M242.6 344.9h1M224.1 367.4h1M244.8 347.3h1M241.8 334.0h1M245.9 341.0h1M252.3 347.0h1M252.9 339.8h1M243.7 363.4h1M231.0 327.7h1M244.1 356.8h1M255.8 347.9h1M247.4 345.1h1M251.7 340.7h1M243.5 342.6h1M241.1 357.7h1M256.3 338.3h1M235.5 351.8h1M247.0 345.0h1M246.8 346.4h1M238.6 351.5h1M230.4 362.4h1M260.1 350.9h1M233.9 367.7h1M238.7 342.5h1M240.6 358.0h1M251.4 342.6h1M242.8 361.8h1M242.0 370.4h1M242.5 351.5h1M250.1 357.0h1M247.6 359.0h1M248.7 352.7h1M238.0 357.4h1M262.1 343.8h1M239.2 351.2h1M242.1 349.0h1M251.6 333.3h1M252.8 337.1h1M252.7 351.3h1M247.8 348.4h1M243.7 344.1h1M257.8 340.2h1M240.2 347.2h1M241.1 348.2h1M249.8 343.0h1M237.4 357.0h1M247.5 334.0h1M231.1 359.7h1M237.7 356.9h1M240.6 353.7h1M249.5 333.5h1M234.1 364.8h1M240.0 351.4h1M247.5 348.1h1M257.0 360.1h1M243.7 347.2h1M239.4 337.7h1M256.6 337.3h1M262.6 338.0h1M238.9 354.0h1M250.4 338.7h1M252.0 352.4h1M245.8 340.5h1M243.3 346.6h1M236.6 336.6h1M248.1 332.1h1M252.3 349.9h1M245.1 373.3h1M255.1 358.2h1M241.9 345.1h1M227.1 363.1h1M245.0 343.7h1M234.1 357.8h1M238.5 352.9h1M252.1 338.9h1M236.5 345.1h1M243.7 338.0h1M243.3 357.7h1M246.9 351.8h1M250.1 345.9h1M239.0 338.2h1M249.5 343.1h1M251.2 352.7h1M251.3 333.4h1M236.7 347.7h1M241.0 348.6h1M257.4 343.0h1M257.8 340.4h1M240.7 341.2h1M244.2 338.1h1M250.5 342.1h1M261.6 337.4h1M249.9 360.1h1M234.4 331.5h1M246.6 342.4h1M240.0 348.7h1M246.2 348.0h1M263.8 342.1h1M251.8 339.9h1M234.7 354.1h1M255.4 354.2h1M252.9 349.7h1M244.9 351.4h1M240.0 353.2h1M252.0 350.0h1M246.8 352.1h1M250.5 338.4h1M245.0 361.4h1M239.9 349.1h1M250.5 344.8h1M238.5 360.0h1M236.8 357.8h1M232.7 354.3h1M237.0 345.8h1M245.5 355.7h1M244.4 337.6h1M237.3 339.0h1M243.6 337.4h1M250.1 359.7h1M245.0 343.5h1M240.4 348.0h1M251.6 349.0h1M243.2 349.8h1M257.0 348.9h1M248.5 343.6h1M245.8 337.5h1M241.8 347.5h1M242.8 352.8h1M236.3 328.3h1M236.4 354.2h1M238.0 360.4h1M252.0 344.0h1M246.2 346.0h1M253.3 342.9h1M236.3 355.2h1M232.8 360.7h1M233.1 344.2h1M267.4 340.2h1M245.6 364.1h1M254.2 335.1h1M243.4 351.9h1M237.5 347.2h1M238.2 342.6h1M248.9 346.7h1M246.7 340.7h1M246.9 344.7h1M242.0 356.6h1M233.6 346.1h1M251.8 348.2h1M246.0 339.5h1M258.0 345.1h1M242.2 341.7h1M249.1 357.3h1M248.9 355.8h1M243.0 349.4h1M243.6 342.6h1M250.0 344.6h1M245.9 347.5h1M241.6 352.9h1M246.1 334.0h1M237.7 331.9h1M236.6 344.5h1M243.8 333.6h1M238.7 354.1h1M239.6 355.9h1M250.5 346.6h1M242.8 353.4h1M246.7 337.9h1M248.7 337.4h1M254.0 354.3h1M242.6 362.1h1M241.8 356.7h1M241.7 376.4h1M234.9 371.1h1M249.7 355.3h1M245.9 350.7h1M255.5 343.4h1M249.4 352.1h1M234.3 339.6h1M250.0 356.4h1M244.5 333.9h1M244.6 344.6h1M264.1 340.6h1M236.1 354.0h1M255.6 334.5h1M240.9 367.3h1M233.3 354.0h1M234.0 344.4h1M239.2 366.3h1M242.7 323.9h1M243.4 352.4h1M250.2 347.7h1M237.8 365.8h1M252.2 332.6h1M245.7 334.3h1M242.2 350.0h1M249.6 339.1h1M252.0 343.2h1M248.5 347.4h1M250.9 348.5h1M245.3 346.8h1M248.4 343.8h1M270.4 343.2h1M248.6 342.7h1M243.8 342.2h1M239.6 349.3h1M237.8 339.3h1M241.5 336.0h1M227.7 357.7h1M251.1 339.8h1M227.1 353.3h1M252.8 335.6h1M234.0 345.4h1M247.0 329.5h1M241.0 353.8h1M240.6 353.5h1M248.9 349.8h1M246.9 347.7h1M245.1 338.1h1M241.0 350.7h1M252.5 344.1h1M242.2 352.2h1M254.1 344.9h1M227.7 365.2h1M246.9 332.2h1M240.9 335.4h1M255.8 341.2h1M250.3 360.3h1M238.2 352.1h1M235.7 354.4h1M238.8 340.5h1M245.6 361.5h1M244.9 342.8h1M245.9 348.7h1M241.2 354.9h1M233.1 345.4h1M234.5 338.6h1M245.4 367.5h1M248.6 357.7h1M241.5 367.6h1M250.9 333.8h1M250.5 325.3h1M250.5 337.4h1M236.9 347.4h1M247.9 346.3h1M244.3 345.7h1M253.1 326.3h1M242.7 355.1h1M249.9 334.4h1M237.2 346.2h1M236.4 350.1h1M245.6 344.5h1M232.2 364.6h1M252.1 345.5h1M248.2 344.4h1M257.2 330.2h1M236.5 342.6h1M236.8 357.8h1M237.1 341.1h1M248.7 332.1h1M255.0 336.9h1M236.5 352.3h1M249.7 332.9h1M250.8 339.5h1M241.1 347.4h1M251.1 352.0h1M233.4 359.6h1M239.8 352.6h1M258.0 343.6h1M243.8 351.3h1M242.0 349.8h1M261.2 345.5h1M242.2 355.9h1M248.5 360.2h1M249.5 348.0h1M250.4 347.2h1M261.7 354.4h1M249.7 346.5h1M240.4 350.1h1M239.8 354.9h1M246.7 344.1h1M256.0 345.8h1M248.2 356.3h1M252.8 337.4h1M248.9 341.5h1M240.4 358.9h1M252.8 350.2h1M252.0 362.6h1M255.6 333.5h1M241.0 340.9h1M236.6 344.1h1M249.3 325.8h1M258.1 352.3h1M240.5 337.3h1M251.7 330.0h1M246.8 346.1h1M246.6 332.8h1M256.4 329.5h1M234.3 324.5h1M242.6 358.9h1M245.4 351.7h1M256.5 343.0h1M262.0 346.0h1M231.7 342.5h1M253.5 361.9h1M252.8 349.4h1M241.6 343.5h1M264.8 330.9h1M249.3 345.3h1M244.1 334.9h1M237.0 355.3h1M238.4 339.6h1M248.8 352.1h1M245.7 343.1h1M259.6 342.7h1M246.6 341.9h1M235.4 360.5h1M246.0 331.4h1M258.0 351.2h1M242.2 348.6h1M249.3 359.2h1M257.6 346.7h1M243.6 356.3h1M257.1 328.9h1M236.4 358.1h1M234.4 366.9h1M253.4 341.5h1M248.8 353.2h1M254.3 350.7h1M248.2 343.6h1M245.4 334.4h1M239.5 346.9h1M245.5 343.2h1M248.6 352.6h1M247.8 357.9h1M240.2 347.4h1M250.0 333.3h1M236.6 334.3h1M224.9 354.5h1M246.7 352.7h1M262.8 355.5h1M239.6 345.0h1M231.2 359.3h1M245.0 332.1h1M248.1 342.6h1M233.2 344.8h1M257.8 359.0h1M247.3 341.3h1M249.4 358.0h1M241.6 338.6h1M256.8 343.5h1M226.3 347.1h1M246.8 325.3h1M254.6 336.8h1M256.6 356.9h1M241.8 354.8h1M233.3 354.2h1M251.6 336.2h1M229.6 349.5h1M246.2 358.4h1M248.3 344.2h1M246.6 345.8h1M235.6 351.4h1M245.5 359.7h1M227.5 347.9h1M258.2 334.8h1M243.0 340.3h1M239.6 336.3h1M241.4 342.6h1M251.0 344.1h1M257.8 342.1h1M271.9 338.6h1M255.1 338.6h1M240.4 355.3h1M240.5 353.5h1M255.4 334.3h1M235.7 355.2h1M248.9 331.3h1M245.2 351.6h1M243.2 359.1h1M229.1 344.4h1M234.5 366.5h1M238.4 353.6h1M245.9 346.7h1M247.3 366.6h1M254.9 360.4h1M250.1 346.4h1M255.5 348.8h1M251.1 351.8h1M222.8 354.4h1M236.5 367.2h1M233.6 337.9h1M231.0 336.6h1M243.2 347.9h1M233.9 361.9h1M247.4 361.2h1M233.3 364.2h1M231.1 348.5h1M248.3 337.5h1M236.8 343.1h1M251.4 347.1h1M245.9 343.5h1M258.2 345.6h1M237.6 363.6h1M256.4 353.3h1M238.0 349.4h1M247.3 334.3h1M230.3 364.1h1M230.9 372.2h1M254.6 351.1h1M248.5 347.3h1M241.5 334.5h1M249.8 342.6h1M234.9 334.9h1M241.4 351.3h1M242.1 343.3h1M266.2 335.0h1M250.6 345.9h1M245.6 364.0h1M243.9 349.7h1M249.4 354.0h1M239.0 351.1h1M245.1 353.2h1M242.8 354.6h1M239.6 360.3h1M240.8 355.6h1M241.3 339.6h1M249.1 348.7h1M238.1 358.3h1M243.9 341.7h1M239.3 359.3h1M252.1 346.6h1M251.9 337.3h1M244.1 347.1h1M256.9 342.0h1M227.9 357.1h1M248.5 351.5h1M231.2 365.4h1M249.3 340.0h1M235.6 365.2h1M255.3 357.0h1M240.6 321.8h1M245.6 358.6h1M254.9 338.3h1" stroke="#2a8a3a" stroke-width="1" fill="none" opacity="0.85"/>
<path d="M247.0 345.0h1M242.7 341.9h1M242.3 344.2h1M245.6 351.8h1M250.0 336.7h1M248.9 350.6h1M248.2 349.0h1M246.6 347.3h1M242.0 347.6h1M239.7 350.0h1M239.0 334.2h1M249.5 343.2h1M247.4 346.0h1M246.7 339.9h1M247.9 345.6h1M249.3 353.2h1M243.0 344.3h1M249.7 341.9h1M240.7 341.4h1M252.3 342.8h1M249.9 340.6h1M249.1 340.9h1M242.5 344.5h1M247.1 350.8h1M238.5 346.3h1M255.1 350.3h1M244.8 340.9h1M244.3 345.4h1M247.8 345.6h1M249.9 339.1h1M241.0 338.3h1M239.9 343.5h1M248.4 355.7h1M249.5 344.1h1M254.1 340.6h1M248.5 348.5h1M250.8 345.9h1M245.0 338.3h1M246.0 341.3h1M250.3 343.4h1M249.7 336.6h1M251.8 340.1h1M238.8 337.6h1M243.6 349.2h1M250.5 338.6h1M247.2 343.5h1M238.8 339.4h1M236.4 340.0h1M233.2 340.3h1M242.0 340.3h1M242.6 349.3h1M245.0 345.1h1M250.7 348.2h1M250.3 341.4h1M241.2 340.4h1M244.4 344.0h1M246.4 349.1h1M246.3 352.3h1M252.1 341.8h1M251.2 330.8h1M253.9 345.9h1M248.8 336.2h1M259.7 342.8h1M246.1 349.2h1M245.8 340.1h1M250.2 339.3h1M250.6 344.6h1M252.6 338.4h1M253.2 345.4h1M256.9 341.0h1M256.3 347.2h1M250.8 340.7h1M249.7 347.1h1M242.6 338.7h1M242.8 350.7h1M247.6 348.3h1M248.3 344.5h1M247.9 342.1h1M253.0 344.8h1M247.9 337.6h1M248.4 340.9h1M244.2 348.8h1M241.2 343.1h1M250.0 349.3h1M244.1 345.5h1M248.3 338.8h1M235.9 335.1h1M249.9 344.5h1M239.9 341.1h1M244.8 342.4h1M246.6 354.1h1M242.8 344.7h1M242.9 341.1h1M242.3 342.9h1M244.0 345.6h1M247.9 339.9h1M256.6 338.6h1M248.6 354.0h1M243.2 350.1h1M254.0 345.6h1M237.4 350.5h1M247.3 341.5h1M253.3 340.7h1M252.2 341.5h1M249.5 339.0h1M244.8 339.8h1M243.2 344.9h1M245.9 344.9h1M253.3 343.5h1M237.3 342.7h1M247.2 348.7h1M252.1 348.4h1M245.6 347.0h1M239.4 349.9h1M249.0 346.3h1M244.9 344.3h1M243.4 346.6h1M240.0 348.5h1M249.6 353.3h1M246.6 343.6h1M247.8 344.2h1M246.2 338.9h1M241.2 341.4h1M245.3 338.5h1M240.9 342.7h1M250.6 343.1h1M250.3 348.5h1M250.7 342.1h1M244.7 335.4h1M243.3 346.1h1M241.2 350.2h1M254.1 342.3h1M251.5 337.5h1M241.4 342.3h1M246.8 343.1h1M242.4 353.0h1M248.3 345.3h1M250.3 344.8h1M245.6 341.4h1M238.4 350.9h1M242.1 336.4h1M242.7 336.6h1M257.0 345.7h1M254.0 350.7h1M249.7 346.6h1M243.1 343.6h1M243.7 344.2h1M243.2 349.8h1M250.7 343.5h1M238.3 347.1h1M251.3 343.7h1M240.4 346.0h1M252.2 335.2h1M249.7 335.7h1M247.2 352.0h1M247.3 346.2h1M245.2 344.0h1M258.8 350.1h1M245.2 342.3h1M246.9 354.1h1M247.9 349.1h1M244.9 338.2h1M253.5 343.6h1M242.8 340.8h1M243.4 341.2h1M239.0 349.5h1M248.7 348.5h1M245.0 345.6h1M247.7 349.4h1M250.9 345.6h1M243.5 338.5h1M242.7 341.1h1M244.1 338.3h1M255.2 345.2h1M236.5 339.0h1M240.0 345.1h1M252.2 339.5h1M249.9 342.7h1M252.6 350.2h1M248.4 347.3h1M246.8 342.3h1M240.9 345.5h1M246.4 342.2h1M246.4 343.2h1M241.5 341.6h1M252.6 342.9h1M253.9 338.7h1M239.9 344.6h1M250.7 341.0h1M250.0 348.3h1M252.2 343.5h1M246.5 336.5h1M246.9 345.3h1M254.0 338.2h1M242.5 339.4h1M251.3 332.5h1M241.3 353.4h1M250.1 337.9h1M246.5 347.9h1M249.6 343.0h1M242.8 347.8h1M246.8 347.7h1M248.8 341.9h1M254.1 341.7h1M249.0 341.1h1M245.6 342.9h1M243.5 345.1h1M253.4 352.5h1M254.1 343.2h1M254.2 345.9h1M255.9 338.3h1M254.3 341.3h1M252.6 341.9h1M251.4 342.7h1M237.3 339.6h1M245.6 344.1h1M235.5 338.6h1M243.1 343.0h1M247.9 340.3h1M239.2 345.4h1M245.1 348.0h1M244.2 346.9h1M242.3 345.2h1M247.3 346.0h1M242.1 343.4h1M242.5 343.3h1M249.9 357.5h1M247.0 347.2h1M247.4 349.1h1M249.1 348.7h1M248.6 354.9h1M253.7 336.3h1M248.3 344.4h1M235.7 340.1h1M244.5 340.7h1M247.5 335.9h1M250.6 347.5h1M248.6 342.5h1M246.8 341.9h1M252.6 346.3h1M256.8 342.4h1M254.1 341.4h1M246.0 339.3h1M249.5 343.8h1M249.9 350.8h1M246.5 345.7h1M251.3 343.8h1M244.1 345.6h1M249.4 347.6h1M251.0 341.0h1M249.1 349.6h1M244.5 345.7h1M243.7 344.8h1M255.5 344.8h1M242.0 345.6h1M247.9 349.1h1M240.0 339.9h1M246.4 337.0h1M252.5 334.9h1M242.7 337.4h1M243.5 347.6h1M249.9 348.2h1M249.9 334.9h1M248.3 335.7h1M244.3 342.3h1M244.1 346.3h1M242.8 351.8h1M249.8 349.4h1M250.6 348.1h1M246.6 352.9h1M241.6 346.1h1M246.9 343.0h1M248.4 340.7h1M251.2 347.6h1M247.3 347.4h1M241.6 335.9h1M243.9 343.0h1M259.3 343.0h1M252.0 347.9h1M257.4 344.6h1M250.1 343.2h1M242.5 339.5h1M242.9 350.5h1M248.3 343.3h1M246.9 341.5h1M246.7 343.9h1M250.1 348.1h1M238.7 345.1h1M253.7 339.4h1M245.6 344.8h1M252.4 346.7h1M245.8 346.3h1M252.0 345.8h1M256.2 346.0h1M241.6 340.5h1M246.2 343.1h1M250.0 345.6h1M255.4 347.7h1M254.3 340.6h1M244.7 347.1h1M247.3 346.9h1M248.1 341.3h1M255.4 349.2h1M239.1 341.3h1M247.0 347.1h1M246.5 337.9h1M251.0 343.1h1M252.9 345.4h1M251.9 347.8h1M251.3 341.8h1M252.0 345.0h1M240.7 342.3h1M245.2 346.2h1M250.3 339.1h1M250.5 343.8h1M241.6 347.8h1M243.1 338.7h1M250.7 348.1h1M243.6 348.9h1M251.9 341.8h1M256.9 343.8h1M248.0 333.4h1M250.1 341.3h1M249.1 336.4h1M252.7 350.7h1M256.4 330.9h1M249.9 345.7h1M231.9 340.8h1M246.5 350.5h1M242.8 345.1h1M246.7 345.8h1M245.0 348.2h1M251.8 338.0h1M252.6 340.8h1M245.6 349.2h1M247.5 346.8h1M250.9 346.9h1M244.3 339.9h1M250.4 347.6h1M248.8 343.4h1M251.3 344.1h1M240.2 345.5h1M249.6 347.7h1M242.6 340.9h1M248.7 342.2h1M246.7 348.4h1M249.0 352.4h1M248.5 351.9h1M252.4 355.7h1M247.2 343.9h1M253.6 342.0h1M244.8 345.4h1M249.0 338.0h1M248.4 342.9h1M247.0 345.1h1M246.2 349.2h1M249.6 343.5h1M247.6 349.0h1M251.1 350.1h1M246.6 345.0h1M257.3 344.3h1M255.6 348.2h1M245.1 338.2h1M250.4 341.3h1M243.8 336.7h1M253.2 344.9h1M247.4 346.2h1M248.5 344.9h1M249.9 343.2h1M234.5 347.8h1M249.4 344.6h1M255.2 338.2h1M232.9 351.1h1M249.4 337.1h1M245.3 347.2h1M241.3 347.0h1M257.8 350.7h1M247.2 345.9h1M242.6 345.1h1M245.7 340.0h1M240.7 353.1h1M247.8 339.9h1M245.2 351.1h1M255.4 341.7h1M248.3 348.4h1M245.6 339.2h1M242.5 344.5h1M243.5 338.7h1M246.1 348.6h1M250.7 343.4h1M256.8 341.0h1M246.9 338.4h1M251.2 343.9h1M239.0 340.8h1M256.2 347.7h1M247.9 348.3h1M239.4 340.8h1M240.7 340.7h1M245.4 346.8h1M252.3 348.8h1" stroke="#0c5a24" stroke-width="1" fill="none" opacity="0.85"/>
<path d="M265.6 339.6h1M252.2 343.1h1M248.2 340.3h1M254.3 338.3h1M254.6 345.6h1M246.7 333.4h1M252.7 337.7h1M253.1 339.8h1M253.8 345.3h1M256.3 340.1h1M246.4 332.7h1M241.5 338.5h1M252.7 338.9h1M249.2 335.7h1M244.0 335.3h1M255.2 334.4h1M255.5 338.1h1M254.7 342.0h1M255.8 345.3h1M248.1 337.8h1M249.8 338.4h1M255.2 340.7h1M251.9 342.5h1M249.5 344.9h1M242.7 341.9h1M254.3 338.4h1M248.4 344.2h1M250.3 334.3h1M245.1 344.5h1M247.4 345.6h1M258.6 340.3h1M254.5 338.1h1M249.8 338.6h1M254.7 336.5h1M251.1 341.2h1M254.4 333.6h1M242.9 337.9h1M250.7 341.5h1M252.7 348.0h1M255.0 343.0h1M249.3 343.7h1M255.2 343.3h1M251.2 343.1h1M259.3 338.2h1M241.0 343.8h1M255.4 340.2h1M249.5 350.5h1M249.4 336.7h1M249.4 342.7h1M248.7 339.6h1M253.2 339.5h1M252.4 340.8h1M246.4 341.2h1M246.0 344.2h1M247.1 340.1h1M242.7 339.4h1M245.5 346.1h1M251.1 342.7h1M243.0 336.6h1M250.9 336.2h1M257.4 339.5h1M252.4 342.0h1M250.9 343.6h1M248.4 342.2h1M257.6 341.7h1M252.3 339.8h1M252.0 343.3h1M250.5 335.1h1M252.5 340.4h1M254.0 341.1h1M259.4 336.8h1M246.9 343.2h1M246.6 342.0h1M251.6 334.1h1M255.0 345.6h1M252.7 336.1h1M255.5 337.3h1M251.1 342.3h1M247.8 335.1h1M251.0 340.8h1M247.5 338.2h1M255.3 340.6h1M249.3 338.8h1M252.5 341.2h1M250.8 336.1h1M249.8 338.7h1M252.0 344.8h1M256.3 343.1h1M252.2 339.8h1M253.3 339.3h1M250.0 338.0h1M251.4 340.6h1M260.6 342.8h1M249.8 343.5h1M249.3 344.3h1M255.4 350.7h1M246.4 340.6h1M251.1 341.9h1M255.1 337.6h1M248.1 341.9h1M256.3 337.1h1M244.1 344.8h1M255.7 344.6h1M246.9 340.2h1M252.7 342.4h1M251.1 340.7h1M256.5 339.4h1M249.0 339.4h1M249.2 341.3h1M250.6 339.4h1M258.5 341.9h1M250.0 345.1h1M249.0 340.9h1M251.2 338.9h1M249.8 341.2h1M244.7 339.6h1M252.8 341.8h1M253.1 348.7h1M254.8 340.4h1M251.0 340.9h1M253.7 339.9h1M258.8 337.2h1M254.6 342.6h1M246.2 343.0h1M254.3 338.7h1M262.7 343.2h1M250.1 339.3h1M248.1 341.7h1M251.9 336.2h1M246.7 338.5h1M249.7 339.7h1M248.4 343.0h1M256.1 341.1h1M241.2 340.3h1M254.3 340.6h1M252.9 341.2h1M244.5 332.4h1M254.6 339.1h1M253.6 339.9h1M250.8 345.4h1M245.9 340.8h1M246.4 341.1h1M253.9 343.0h1M252.3 336.3h1M252.8 343.8h1M256.3 348.0h1M254.3 337.5h1M249.1 341.1h1M256.6 337.1h1M255.9 343.0h1" stroke="#5a4a2a" stroke-width="1" fill="none" opacity="0.85"/>
<path d="M197.6 341.6h1M198.2 339.9h1M200.8 340.6h1M195.8 341.4h1M190.2 338.7h1M199.3 344.4h1M205.6 338.5h1M197.5 340.0h1M199.0 346.2h1M186.8 340.1h1M188.6 342.8h1M198.0 344.5h1M199.5 343.0h1M203.7 343.3h1M202.7 331.4h1M198.4 335.4h1M208.0 341.4h1M202.6 341.2h1M203.7 338.3h1M213.7 340.6h1M201.5 335.7h1M199.0 339.9h1M201.6 338.5h1M202.3 336.7h1M202.6 335.5h1" stroke="#c05050" stroke-width="1" fill="none" opacity="0.85"/>
<path d="M204.2 331.7h1M253.4 357.4h1M230.8 323.1h1M217.3 363.9h1M264.4 316.4h1M216.4 349.4h1M238.7 347.4h1M247.8 317.0h1M273.1 323.3h1M230.4 358.2h1M262.0 366.2h1M253.7 374.0h1M224.5 363.0h1M272.8 331.5h1M188.9 326.3h1M269.3 373.4h1M218.7 352.5h1M242.5 369.4h1M221.6 354.1h1M231.2 340.8h1M254.5 333.7h1M193.7 351.0h1M220.6 365.5h1M192.6 343.6h1M237.0 337.8h1M259.5 323.7h1M193.9 340.2h1M253.1 341.2h1M212.3 364.6h1M235.7 336.5h1M232.8 342.6h1M246.8 350.6h1M206.4 337.6h1M217.4 355.4h1M240.1 330.1h1" stroke="#9a9a9a" stroke-width="1" fill="none" opacity="0.85"/>
<line x1="184.80" y1="308.00" x2="184.80" y2="385.50" stroke="#222" stroke-width="1.4"/>
<line x1="184.80" y1="385.50" x2="280.20" y2="385.50" stroke="#222" stroke-width="1.4"/>
<line x1="191.98" y1="385.50" x2="191.98" y2="387.10" stroke="#333" stroke-width="0.7"/>
<line x1="183.20" y1="379.67" x2="184.80" y2="379.67" stroke="#333" stroke-width="0.7"/>
<line x1="196.18" y1="385.50" x2="196.18" y2="387.10" stroke="#333" stroke-width="0.7"/>
<line x1="183.20" y1="376.26" x2="184.80" y2="376.26" stroke="#333" stroke-width="0.7"/>
<line x1="199.16" y1="385.50" x2="199.16" y2="387.10" stroke="#333" stroke-width="0.7"/>
<line x1="183.20" y1="373.84" x2="184.80" y2="373.84" stroke="#333" stroke-width="0.7"/>
<line x1="201.47" y1="385.50" x2="201.47" y2="387.10" stroke="#333" stroke-width="0.7"/>
<line x1="183.20" y1="371.96" x2="184.80" y2="371.96" stroke="#333" stroke-width="0.7"/>
<line x1="203.36" y1="385.50" x2="203.36" y2="387.10" stroke="#333" stroke-width="0.7"/>
<line x1="183.20" y1="370.42" x2="184.80" y2="370.42" stroke="#333" stroke-width="0.7"/>
<line x1="204.96" y1="385.50" x2="204.96" y2="387.10" stroke="#333" stroke-width="0.7"/>
<line x1="183.20" y1="369.13" x2="184.80" y2="369.13" stroke="#333" stroke-width="0.7"/>
<line x1="206.34" y1="385.50" x2="206.34" y2="387.10" stroke="#333" stroke-width="0.7"/>
<line x1="183.20" y1="368.00" x2="184.80" y2="368.00" stroke="#333" stroke-width="0.7"/>
<line x1="207.56" y1="385.50" x2="207.56" y2="387.10" stroke="#333" stroke-width="0.7"/>
<line x1="183.20" y1="367.01" x2="184.80" y2="367.01" stroke="#333" stroke-width="0.7"/>
<line x1="215.83" y1="385.50" x2="215.83" y2="387.10" stroke="#333" stroke-width="0.7"/>
<line x1="183.20" y1="360.29" x2="184.80" y2="360.29" stroke="#333" stroke-width="0.7"/>
<line x1="220.03" y1="385.50" x2="220.03" y2="387.10" stroke="#333" stroke-width="0.7"/>
<line x1="183.20" y1="356.88" x2="184.80" y2="356.88" stroke="#333" stroke-width="0.7"/>
<line x1="223.01" y1="385.50" x2="223.01" y2="387.10" stroke="#333" stroke-width="0.7"/>
<line x1="183.20" y1="354.46" x2="184.80" y2="354.46" stroke="#333" stroke-width="0.7"/>
<line x1="225.32" y1="385.50" x2="225.32" y2="387.10" stroke="#333" stroke-width="0.7"/>
<line x1="183.20" y1="352.58" x2="184.80" y2="352.58" stroke="#333" stroke-width="0.7"/>
<line x1="227.21" y1="385.50" x2="227.21" y2="387.10" stroke="#333" stroke-width="0.7"/>
<line x1="183.20" y1="351.05" x2="184.80" y2="351.05" stroke="#333" stroke-width="0.7"/>
<line x1="228.81" y1="385.50" x2="228.81" y2="387.10" stroke="#333" stroke-width="0.7"/>
<line x1="183.20" y1="349.75" x2="184.80" y2="349.75" stroke="#333" stroke-width="0.7"/>
<line x1="230.19" y1="385.50" x2="230.19" y2="387.10" stroke="#333" stroke-width="0.7"/>
<line x1="183.20" y1="348.63" x2="184.80" y2="348.63" stroke="#333" stroke-width="0.7"/>
<line x1="231.41" y1="385.50" x2="231.41" y2="387.10" stroke="#333" stroke-width="0.7"/>
<line x1="183.20" y1="347.64" x2="184.80" y2="347.64" stroke="#333" stroke-width="0.7"/>
<line x1="239.68" y1="385.50" x2="239.68" y2="387.10" stroke="#333" stroke-width="0.7"/>
<line x1="183.20" y1="340.92" x2="184.80" y2="340.92" stroke="#333" stroke-width="0.7"/>
<line x1="243.88" y1="385.50" x2="243.88" y2="387.10" stroke="#333" stroke-width="0.7"/>
<line x1="183.20" y1="337.51" x2="184.80" y2="337.51" stroke="#333" stroke-width="0.7"/>
<line x1="246.86" y1="385.50" x2="246.86" y2="387.10" stroke="#333" stroke-width="0.7"/>
<line x1="183.20" y1="335.09" x2="184.80" y2="335.09" stroke="#333" stroke-width="0.7"/>
<line x1="249.17" y1="385.50" x2="249.17" y2="387.10" stroke="#333" stroke-width="0.7"/>
<line x1="183.20" y1="333.21" x2="184.80" y2="333.21" stroke="#333" stroke-width="0.7"/>
<line x1="251.06" y1="385.50" x2="251.06" y2="387.10" stroke="#333" stroke-width="0.7"/>
<line x1="183.20" y1="331.67" x2="184.80" y2="331.67" stroke="#333" stroke-width="0.7"/>
<line x1="252.66" y1="385.50" x2="252.66" y2="387.10" stroke="#333" stroke-width="0.7"/>
<line x1="183.20" y1="330.38" x2="184.80" y2="330.38" stroke="#333" stroke-width="0.7"/>
<line x1="254.04" y1="385.50" x2="254.04" y2="387.10" stroke="#333" stroke-width="0.7"/>
<line x1="183.20" y1="329.25" x2="184.80" y2="329.25" stroke="#333" stroke-width="0.7"/>
<line x1="255.26" y1="385.50" x2="255.26" y2="387.10" stroke="#333" stroke-width="0.7"/>
<line x1="183.20" y1="328.26" x2="184.80" y2="328.26" stroke="#333" stroke-width="0.7"/>
<line x1="263.53" y1="385.50" x2="263.53" y2="387.10" stroke="#333" stroke-width="0.7"/>
<line x1="183.20" y1="321.54" x2="184.80" y2="321.54" stroke="#333" stroke-width="0.7"/>
<line x1="267.73" y1="385.50" x2="267.73" y2="387.10" stroke="#333" stroke-width="0.7"/>
<line x1="183.20" y1="318.13" x2="184.80" y2="318.13" stroke="#333" stroke-width="0.7"/>
<line x1="270.71" y1="385.50" x2="270.71" y2="387.10" stroke="#333" stroke-width="0.7"/>
<line x1="183.20" y1="315.71" x2="184.80" y2="315.71" stroke="#333" stroke-width="0.7"/>
<line x1="273.02" y1="385.50" x2="273.02" y2="387.10" stroke="#333" stroke-width="0.7"/>
<line x1="183.20" y1="313.83" x2="184.80" y2="313.83" stroke="#333" stroke-width="0.7"/>
<line x1="274.91" y1="385.50" x2="274.91" y2="387.10" stroke="#333" stroke-width="0.7"/>
<line x1="183.20" y1="312.30" x2="184.80" y2="312.30" stroke="#333" stroke-width="0.7"/>
<line x1="276.51" y1="385.50" x2="276.51" y2="387.10" stroke="#333" stroke-width="0.7"/>
<line x1="183.20" y1="311.00" x2="184.80" y2="311.00" stroke="#333" stroke-width="0.7"/>
<line x1="277.89" y1="385.50" x2="277.89" y2="387.10" stroke="#333" stroke-width="0.7"/>
<line x1="183.20" y1="309.88" x2="184.80" y2="309.88" stroke="#333" stroke-width="0.7"/>
<line x1="279.11" y1="385.50" x2="279.11" y2="387.10" stroke="#333" stroke-width="0.7"/>
<line x1="183.20" y1="308.89" x2="184.80" y2="308.89" stroke="#333" stroke-width="0.7"/>
<line x1="184.80" y1="385.50" x2="184.80" y2="388.00" stroke="#222" stroke-width="0.9"/>
<line x1="182.30" y1="385.50" x2="184.80" y2="385.50" stroke="#222" stroke-width="0.9"/>
<text x="180.20" y="394.50" font-size="8.2">10<tspan dy="-3.2" font-size="5.6">0</tspan></text>
<text transform="translate(181.90,385.50) rotate(-90)" x="-4.2" font-size="7.5">10<tspan dy="-3" font-size="5">0</tspan></text>
<line x1="208.65" y1="385.50" x2="208.65" y2="388.00" stroke="#222" stroke-width="0.9"/>
<line x1="182.30" y1="366.12" x2="184.80" y2="366.12" stroke="#222" stroke-width="0.9"/>
<text x="204.05" y="394.50" font-size="8.2">10<tspan dy="-3.2" font-size="5.6">1</tspan></text>
<text transform="translate(181.90,366.12) rotate(-90)" x="-4.2" font-size="7.5">10<tspan dy="-3" font-size="5">1</tspan></text>
<line x1="232.50" y1="385.50" x2="232.50" y2="388.00" stroke="#222" stroke-width="0.9"/>
<line x1="182.30" y1="346.75" x2="184.80" y2="346.75" stroke="#222" stroke-width="0.9"/>
<text x="227.90" y="394.50" font-size="8.2">10<tspan dy="-3.2" font-size="5.6">2</tspan></text>
<text transform="translate(181.90,346.75) rotate(-90)" x="-4.2" font-size="7.5">10<tspan dy="-3" font-size="5">2</tspan></text>
<line x1="256.35" y1="385.50" x2="256.35" y2="388.00" stroke="#222" stroke-width="0.9"/>
<line x1="182.30" y1="327.38" x2="184.80" y2="327.38" stroke="#222" stroke-width="0.9"/>
<text x="251.75" y="394.50" font-size="8.2">10<tspan dy="-3.2" font-size="5.6">3</tspan></text>
<text transform="translate(181.90,327.38) rotate(-90)" x="-4.2" font-size="7.5">10<tspan dy="-3" font-size="5">3</tspan></text>
<line x1="280.20" y1="385.50" x2="280.20" y2="388.00" stroke="#222" stroke-width="0.9"/>
<line x1="182.30" y1="308.00" x2="184.80" y2="308.00" stroke="#222" stroke-width="0.9"/>
<text x="275.60" y="394.50" font-size="8.2">10<tspan dy="-3.2" font-size="5.6">4</tspan></text>
<text transform="translate(181.90,308.00) rotate(-90)" x="-4.2" font-size="7.5">10<tspan dy="-3" font-size="5">4</tspan></text>
<text x="232" y="305.8" font-size="9.6" text-anchor="middle">Data.012</text>
<text transform="translate(170.50,348.25) rotate(-90)" font-size="8.9" text-anchor="middle">CD11b PE</text>
<text x="233" y="411" font-size="9.1" text-anchor="middle">CD15 APC</text>
<rect x="185.30" y="433.80" width="94.20" height="78.20" fill="#fff" stroke="#4a4a4a" stroke-width="1.15"/>
<path d="M217.7 476.0h1M227.6 475.6h1M234.1 473.9h1M224.8 471.2h1M211.5 474.5h1M222.9 476.1h1M220.3 471.1h1M212.9 471.4h1M222.7 481.0h1M194.0 478.3h1M227.4 483.3h1M222.1 478.8h1M215.7 473.0h1M223.2 465.3h1M213.1 475.2h1M208.9 474.1h1M207.8 475.1h1M219.4 469.3h1M211.9 469.8h1M202.0 470.6h1M220.1 482.9h1M215.2 472.3h1M229.8 487.0h1M215.4 481.7h1M228.2 477.6h1M211.6 466.4h1M223.6 491.5h1M217.8 485.7h1M233.7 464.1h1M214.6 485.2h1M226.6 477.9h1M219.1 478.5h1M214.3 492.9h1M210.3 459.9h1M220.3 484.7h1M215.4 473.2h1M211.3 473.1h1M211.3 465.9h1M207.8 469.4h1M233.5 473.2h1M220.6 490.8h1M214.3 466.0h1M223.2 464.2h1M221.7 482.5h1M210.8 469.6h1M232.2 465.5h1M213.9 475.5h1M216.7 467.1h1M231.4 469.2h1M221.7 470.5h1M217.4 463.1h1M226.3 470.3h1M229.0 464.7h1M215.4 477.3h1M220.0 468.6h1M218.1 463.7h1M219.6 453.2h1M220.5 484.1h1M226.0 480.2h1M215.9 477.4h1M216.0 472.9h1M218.4 447.7h1M226.3 477.1h1M225.6 466.3h1M224.5 477.3h1M201.9 460.1h1M219.5 468.5h1M219.0 468.7h1M230.7 459.0h1M208.6 466.1h1M208.6 469.2h1M218.9 463.3h1M222.0 483.8h1M227.6 489.1h1M227.9 473.4h1M232.9 479.1h1M233.6 472.2h1M203.0 464.7h1M220.6 477.9h1M217.6 481.4h1M210.3 468.3h1M226.8 474.1h1M220.0 484.6h1M227.7 467.6h1M220.8 460.6h1M219.1 476.8h1M205.9 485.8h1M234.6 477.6h1M226.4 485.3h1M217.9 481.8h1M222.2 462.0h1M212.3 469.4h1M227.5 474.6h1M226.9 470.2h1M209.5 489.7h1M240.3 476.8h1M217.8 483.0h1M210.8 472.2h1M208.3 477.5h1M221.2 470.7h1M214.3 462.1h1M212.9 483.3h1M216.6 483.5h1M212.6 473.2h1M215.8 471.8h1M225.2 458.0h1M225.0 479.2h1M219.3 474.4h1M217.6 479.1h1M219.8 467.3h1M220.5 481.2h1M222.2 474.0h1M220.9 470.0h1M215.8 459.3h1M217.9 481.4h1M216.3 466.9h1M226.2 475.1h1M220.4 477.4h1M224.7 473.5h1M212.9 487.2h1M219.8 467.9h1M220.7 483.0h1M208.5 483.9h1M218.3 489.1h1M224.4 473.0h1M228.9 483.6h1M216.6 475.6h1M215.4 480.9h1M208.6 472.5h1M203.0 478.3h1M202.3 465.7h1M221.4 471.1h1M215.9 466.4h1M215.8 460.4h1M221.8 480.0h1M225.2 473.5h1M228.7 477.4h1M226.6 476.8h1M219.6 468.0h1M199.3 478.7h1M218.5 489.0h1M204.2 480.3h1M212.1 473.8h1M212.6 476.5h1M219.1 480.5h1M220.5 477.5h1M229.1 477.8h1M218.3 483.3h1M218.5 477.0h1M216.9 468.8h1M196.5 479.1h1M210.6 479.4h1M233.1 463.8h1M226.0 473.1h1M222.8 464.8h1M219.6 475.0h1M230.2 490.2h1M221.8 471.1h1M236.3 473.1h1M218.9 474.6h1M222.9 479.3h1M215.0 473.0h1M233.7 486.1h1M222.8 476.0h1M217.6 481.7h1M215.5 474.8h1M215.9 469.2h1M219.7 474.0h1M215.0 473.4h1M219.9 470.4h1M214.4 472.9h1M224.8 482.3h1M220.8 471.9h1M219.2 488.5h1M226.4 466.7h1M219.0 469.9h1M216.7 461.1h1M219.6 463.6h1M215.0 485.5h1M227.0 467.3h1M211.6 467.0h1M205.1 466.5h1M217.4 466.0h1M225.2 473.5h1M215.4 487.3h1M224.8 474.5h1M233.5 483.9h1M214.1 476.4h1M216.1 463.0h1M233.9 485.4h1M209.8 477.7h1M206.9 482.1h1M219.0 471.7h1M229.0 474.0h1M217.5 480.9h1M217.1 480.6h1M219.5 480.3h1M224.2 480.0h1M211.8 488.3h1M218.2 487.4h1M214.9 471.9h1M217.4 482.8h1M216.2 477.1h1M207.4 470.3h1M221.2 473.1h1M205.1 477.8h1M212.0 488.8h1M218.0 491.3h1M224.6 477.5h1M215.8 473.1h1M222.9 459.0h1M227.1 464.9h1M217.5 452.9h1M223.0 479.7h1M221.6 476.4h1M216.6 475.1h1M228.8 470.7h1M223.3 479.6h1M217.6 475.8h1M221.1 470.1h1M238.2 470.6h1M232.7 482.2h1M203.7 475.9h1M227.4 480.3h1M212.5 475.9h1M210.2 465.9h1M217.6 475.4h1M231.9 476.7h1M227.6 464.6h1M210.5 470.2h1M233.0 463.6h1M207.2 473.3h1M228.7 461.3h1M217.5 463.4h1M230.7 479.3h1M221.6 473.6h1M217.6 475.0h1M214.4 467.1h1M210.8 474.0h1M213.2 480.7h1M203.1 478.3h1M223.6 483.4h1M217.4 462.2h1M212.2 482.7h1M217.0 470.7h1M214.9 473.4h1M217.6 461.8h1M214.7 481.7h1M230.7 472.9h1M215.4 484.4h1M218.0 464.7h1M218.4 479.3h1M231.5 470.1h1M223.6 471.3h1M228.3 475.9h1M221.4 466.2h1M216.9 471.4h1M191.4 480.5h1M219.3 472.3h1M216.6 474.1h1M221.3 463.7h1M220.3 474.8h1M219.6 462.3h1M218.3 463.9h1M222.1 484.1h1M226.1 471.2h1M215.2 469.5h1M222.1 468.7h1M215.2 454.4h1M212.7 467.8h1M215.2 483.3h1M208.8 463.5h1M224.0 466.2h1M218.1 475.2h1M219.5 467.8h1M226.5 485.5h1M211.5 471.7h1M226.7 472.2h1M211.6 470.5h1M225.8 466.1h1M221.3 476.8h1M214.3 478.2h1M224.5 481.6h1M226.6 462.3h1M226.3 478.4h1M226.9 467.2h1M226.4 476.7h1M210.3 483.7h1M213.3 466.0h1M222.4 469.2h1M222.2 471.9h1M221.6 480.2h1M219.1 480.6h1M225.9 467.4h1M226.0 478.7h1M220.4 482.5h1M232.2 479.8h1M208.0 477.3h1M218.4 471.8h1M222.1 471.3h1M232.0 476.0h1M219.5 480.0h1M225.6 483.1h1M224.3 473.6h1M220.5 457.2h1M208.0 482.0h1M216.9 488.0h1M233.4 464.2h1M221.8 496.3h1M213.3 477.0h1M217.6 472.1h1M217.3 473.8h1M225.3 467.7h1M223.3 468.5h1M223.5 476.4h1M213.4 475.0h1M213.7 467.4h1M228.5 459.8h1M223.8 479.4h1M214.8 482.4h1M226.5 463.9h1M223.5 477.6h1M213.7 478.4h1M225.3 468.3h1M204.0 477.1h1M213.7 460.6h1M216.5 455.4h1M216.8 485.6h1M197.3 477.5h1M212.3 470.7h1M212.4 478.9h1M219.4 467.9h1M209.3 470.6h1M228.4 464.5h1M222.7 476.6h1M203.9 482.5h1M219.1 491.3h1M233.0 472.0h1M218.2 466.1h1M208.7 480.1h1M217.5 470.8h1M218.1 479.2h1M226.8 473.9h1M217.9 474.7h1M235.6 457.7h1M210.4 477.7h1M220.6 483.6h1M229.7 489.4h1M213.2 478.8h1M217.6 481.6h1M220.9 480.9h1M213.7 475.3h1M215.5 471.9h1M215.9 465.9h1M228.2 476.3h1M228.0 466.2h1M204.2 468.9h1M218.3 480.2h1M227.8 483.6h1M231.5 479.7h1M220.4 468.0h1M224.9 470.1h1M213.2 478.6h1M221.2 480.7h1M213.9 483.2h1M222.3 472.7h1M213.6 465.5h1M208.8 485.0h1M208.4 479.0h1M217.6 469.5h1M215.8 473.2h1M226.6 478.4h1M219.5 463.2h1M205.5 488.7h1M211.6 461.7h1M228.3 462.2h1M225.3 481.3h1M221.5 481.6h1M208.6 464.4h1M218.0 474.0h1M218.8 477.6h1M213.7 457.3h1M222.7 472.2h1M225.9 490.3h1M220.1 478.5h1M212.5 481.1h1M222.2 475.9h1M226.7 465.1h1M223.9 477.6h1M232.0 459.8h1M218.8 491.2h1M216.3 470.5h1M233.5 493.7h1M220.4 468.4h1M214.8 470.9h1M212.8 467.6h1M220.8 474.3h1M223.2 474.2h1M210.0 479.8h1M221.4 469.4h1M217.3 476.5h1M220.1 472.9h1M225.5 482.3h1M217.0 473.8h1M210.8 472.6h1M223.2 480.7h1M220.8 473.3h1M213.8 475.6h1M210.9 475.0h1M219.6 466.8h1M222.0 472.3h1M224.2 470.2h1M223.2 486.2h1M220.9 480.1h1M214.4 471.2h1M204.6 472.8h1M210.6 474.8h1M203.3 467.2h1M220.1 477.0h1M206.5 470.7h1M239.5 480.1h1M220.7 452.3h1M212.2 478.0h1M221.3 477.5h1M226.9 474.7h1M226.1 459.9h1M239.0 471.6h1M214.4 485.7h1M224.2 481.5h1M214.6 476.1h1M225.0 465.0h1M217.7 472.0h1M217.1 468.4h1M209.5 477.3h1M221.3 482.9h1M218.9 468.6h1M208.0 474.6h1M217.0 489.7h1M237.3 486.2h1M212.3 463.0h1M217.5 466.9h1M230.5 474.8h1M216.2 473.8h1M229.2 466.5h1M223.2 463.5h1M217.8 468.7h1M221.8 475.1h1M228.8 479.2h1M214.6 463.5h1M213.0 470.5h1M217.6 467.9h1M227.8 481.2h1M217.2 470.0h1M217.5 473.5h1M219.2 461.2h1M216.0 459.2h1M219.6 479.1h1M211.0 475.1h1M214.6 468.4h1M234.7 480.8h1M223.1 470.4h1M222.6 472.3h1M222.9 466.8h1M218.8 470.8h1M208.3 487.1h1M225.7 467.7h1M207.8 468.2h1M212.8 469.1h1M207.5 467.3h1M219.8 477.1h1M203.8 473.8h1M211.6 465.7h1M216.8 468.4h1M224.8 479.3h1M216.9 468.8h1M233.4 488.5h1M222.4 472.6h1M227.2 485.2h1M215.2 488.0h1M218.1 482.4h1M215.3 474.4h1M215.7 474.0h1M227.3 466.8h1M217.0 478.1h1M215.6 489.9h1M207.8 493.8h1M214.1 481.5h1M232.1 478.0h1M208.2 471.2h1M219.9 478.3h1M227.1 482.7h1M231.0 466.3h1M227.2 460.0h1M220.5 465.4h1M205.2 481.1h1M219.1 481.7h1M206.8 464.2h1M218.5 468.5h1M219.9 468.9h1M216.6 464.7h1M229.5 471.3h1M209.9 479.2h1M223.1 475.5h1M221.1 470.7h1M218.3 456.2h1M207.0 464.0h1M221.6 483.5h1M218.0 471.7h1M228.3 470.9h1M224.5 477.2h1M208.8 476.3h1M220.9 464.7h1M211.1 463.7h1M230.2 490.6h1M224.9 486.3h1M208.6 485.0h1M235.0 486.7h1M211.8 482.4h1M218.4 482.4h1M214.2 473.9h1M214.8 477.6h1M218.5 482.7h1M225.9 477.1h1M219.0 471.4h1M219.4 479.8h1M220.4 476.1h1M219.0 473.2h1M214.0 458.9h1M223.9 478.3h1M211.6 489.1h1M210.0 481.8h1M221.3 476.3h1M228.4 481.2h1M219.5 465.4h1M209.6 475.3h1M231.9 480.8h1M219.1 476.5h1M224.8 487.5h1M213.3 479.6h1M221.6 467.8h1M211.2 484.0h1M222.0 472.2h1M220.1 481.7h1M220.1 486.6h1M217.3 467.6h1M218.4 466.3h1M216.6 483.6h1M233.0 478.9h1M220.9 466.6h1M211.3 476.8h1M220.7 469.2h1M215.8 486.3h1M227.2 474.3h1M221.2 484.0h1M222.2 475.7h1M206.8 460.4h1M204.1 455.8h1M219.2 476.5h1M212.4 477.4h1M222.9 473.2h1M207.6 485.4h1M230.3 469.2h1M234.8 474.2h1M213.1 470.6h1M204.5 471.0h1M206.6 482.9h1M221.9 462.7h1M223.9 460.1h1M220.6 477.7h1M219.9 464.8h1M218.5 472.4h1M219.8 485.7h1M232.9 486.5h1M214.3 467.9h1M219.5 477.3h1M202.9 468.9h1M233.7 463.9h1M213.4 468.2h1M223.2 473.3h1M216.7 461.7h1M224.2 473.8h1M214.0 474.0h1M225.6 462.0h1M206.9 465.6h1M212.3 449.4h1M214.5 482.7h1M216.7 481.9h1M196.3 472.9h1M230.4 486.4h1M215.3 467.2h1M222.4 464.1h1M216.4 460.4h1M220.0 473.8h1M232.3 476.7h1M214.0 473.1h1M209.0 474.1h1M217.6 477.2h1M226.8 457.8h1M221.9 479.7h1M209.7 489.0h1M224.8 477.6h1M208.2 486.8h1M216.3 473.9h1M217.6 476.3h1M233.2 499.5h1M222.3 483.6h1M217.7 489.2h1M223.7 475.0h1M220.6 482.8h1M214.3 488.1h1M218.7 494.0h1M216.2 485.2h1M223.4 488.1h1M221.3 480.5h1M212.2 481.2h1M221.4 481.9h1M223.8 487.2h1M216.8 479.8h1M221.5 484.3h1M213.6 483.2h1M224.3 474.5h1M215.0 490.3h1M218.0 492.8h1M224.7 486.6h1M214.5 481.0h1M219.9 473.4h1M222.7 486.6h1M218.9 487.5h1M213.2 490.8h1M220.9 486.2h1M227.0 483.2h1M225.1 486.5h1M217.5 489.3h1M223.9 495.5h1M217.8 484.0h1M217.6 477.7h1M219.4 482.5h1M221.2 481.4h1M210.4 483.4h1M213.9 480.8h1M217.1 476.2h1M212.8 489.4h1M217.6 471.8h1M215.4 501.9h1M216.3 485.5h1M225.6 489.1h1M224.3 483.0h1M219.4 477.4h1M219.3 476.3h1M219.6 480.2h1M219.6 477.2h1M215.5 484.6h1M212.5 479.1h1M220.4 481.5h1M219.2 483.1h1M216.8 491.6h1M222.6 485.7h1M220.4 487.0h1M228.1 484.4h1M216.5 483.5h1M226.6 487.5h1M218.6 492.5h1M220.9 489.0h1M221.7 484.4h1M219.1 487.7h1M216.5 494.3h1M229.0 492.4h1M219.8 496.7h1M210.4 482.9h1M230.7 483.6h1M210.7 474.5h1M221.5 489.0h1M218.1 473.0h1M210.8 486.0h1M211.8 489.7h1M219.4 490.8h1M210.4 479.8h1M218.0 481.9h1M215.4 483.2h1M222.8 482.7h1M217.4 478.5h1M218.3 486.7h1M226.2 489.2h1M219.5 481.8h1M216.7 466.3h1M212.8 488.0h1M209.0 491.9h1M215.8 492.1h1M216.0 477.8h1M213.3 482.3h1M215.8 475.6h1M220.4 489.6h1M215.3 492.0h1M216.7 481.8h1M220.7 484.8h1M221.9 494.5h1M225.2 484.9h1M211.8 479.2h1M219.2 487.9h1M223.1 484.6h1M217.8 481.9h1M221.6 486.2h1M219.0 489.8h1M206.2 485.5h1M210.5 491.2h1M231.1 483.6h1M210.4 481.9h1M215.6 493.6h1M217.5 482.9h1M222.3 488.3h1M223.9 483.1h1M221.7 478.4h1M221.9 480.1h1M216.1 479.8h1M212.7 492.7h1M221.2 476.8h1M216.2 482.2h1M229.0 483.0h1M217.0 477.6h1M213.6 484.8h1M220.8 483.6h1M223.9 478.4h1M217.6 477.0h1M234.3 485.9h1M219.7 473.3h1M215.3 499.0h1M219.4 490.4h1M220.3 475.2h1M218.8 478.5h1M222.0 474.8h1M217.5 469.3h1M220.9 491.5h1M217.1 481.7h1M231.9 481.3h1M218.2 483.5h1M215.9 479.4h1M215.3 487.5h1M215.6 479.0h1M219.2 481.7h1M217.3 480.9h1M224.5 479.3h1M216.7 484.3h1M218.1 485.5h1M217.4 474.4h1M220.8 493.7h1M214.9 490.9h1M214.8 474.9h1M213.3 491.9h1M223.8 479.0h1M217.3 482.3h1" stroke="#2a8a3a" stroke-width="1" fill="none" opacity="0.85"/>
<path d="M215.2 478.2h1M225.8 473.7h1M222.2 473.8h1M213.0 468.4h1M206.5 472.4h1M215.3 473.1h1M224.5 466.8h1M225.2 471.6h1M221.7 472.2h1M220.1 470.8h1M227.7 467.8h1M211.9 468.5h1M227.6 469.8h1M233.7 461.5h1M215.3 469.5h1M222.2 474.8h1M219.0 467.7h1M226.2 475.5h1M202.4 472.5h1M222.4 468.3h1M217.0 471.7h1M220.5 470.1h1M212.1 471.7h1M215.6 471.1h1M216.2 471.4h1M225.5 471.5h1M224.9 466.6h1M223.5 471.7h1M215.9 470.3h1M200.7 471.0h1M217.4 464.0h1M223.8 468.9h1M222.2 470.1h1M223.7 471.0h1M218.3 472.3h1M226.1 464.0h1M220.5 469.0h1M212.5 474.7h1M227.0 467.7h1M212.4 473.2h1M215.9 469.8h1M206.4 470.4h1M228.2 469.4h1M219.4 476.0h1M226.4 475.1h1M224.7 474.4h1M208.6 468.3h1M208.7 477.5h1M221.5 470.4h1M215.0 467.7h1M200.6 477.5h1M219.7 471.0h1M210.4 470.6h1M222.9 470.5h1M224.6 468.3h1M222.5 473.5h1M224.2 471.9h1M219.5 467.8h1M224.1 469.6h1M213.6 473.1h1M209.0 469.1h1M225.7 473.6h1M217.6 471.0h1M224.0 470.6h1M214.8 472.1h1M221.4 471.1h1M228.0 471.7h1M217.0 471.3h1M233.8 468.6h1M218.4 468.4h1M222.7 467.0h1M223.4 473.1h1M214.8 468.2h1M209.8 470.9h1M212.4 468.9h1M217.3 468.7h1M226.1 475.6h1M205.3 468.3h1M222.0 467.6h1M216.5 471.4h1M230.0 474.3h1M218.2 471.2h1M217.7 470.3h1M212.0 465.5h1M217.7 473.7h1M225.6 465.2h1M218.9 468.9h1M222.3 467.5h1M226.7 470.2h1M224.3 473.4h1M206.7 470.1h1M230.8 470.8h1M227.6 472.0h1M216.8 471.6h1M227.6 474.7h1M230.4 467.5h1M226.1 466.7h1M219.4 470.2h1M224.7 471.7h1M229.0 469.0h1M226.2 472.0h1M220.3 467.2h1M224.3 471.7h1M225.8 470.7h1M218.5 472.0h1M223.5 472.8h1M233.5 468.9h1M234.3 461.9h1M227.0 468.3h1M234.3 468.1h1M227.7 467.8h1M212.4 473.2h1M226.3 468.7h1M237.1 469.8h1M231.2 467.8h1M213.6 471.1h1M213.2 472.2h1M205.3 471.3h1M216.4 467.9h1M221.8 470.1h1M217.1 473.2h1M222.3 471.9h1M229.6 470.6h1M226.1 469.5h1M224.5 472.4h1M216.5 466.3h1M211.4 468.0h1M224.2 470.4h1M218.2 472.2h1M225.4 475.0h1M216.1 472.4h1M225.2 468.0h1M221.1 468.1h1M218.7 472.0h1M208.4 468.2h1M214.7 471.1h1M215.2 471.9h1M214.3 469.3h1M224.5 471.7h1M221.3 470.7h1M227.3 474.9h1M217.7 468.6h1M213.0 476.0h1M214.1 466.8h1M222.1 473.9h1M211.7 470.4h1M210.3 468.7h1M231.6 471.3h1M218.5 471.0h1M222.3 470.5h1M212.0 467.3h1M234.3 468.5h1M228.6 468.7h1M229.3 472.9h1M218.8 476.8h1M213.8 470.1h1M214.3 468.5h1M217.8 467.9h1M218.0 475.5h1M208.2 467.1h1M213.7 469.4h1M227.3 472.9h1M223.6 471.4h1M236.9 467.4h1M212.3 470.7h1M221.7 470.1h1M214.4 466.9h1M218.4 468.7h1M216.9 467.6h1M229.6 472.1h1M233.2 469.3h1M220.7 470.1h1M220.4 470.0h1M219.1 464.9h1M218.4 472.9h1M206.7 469.8h1M224.3 474.6h1M219.7 472.2h1M232.5 474.7h1M217.2 469.0h1M227.4 471.5h1M216.5 470.1h1M222.5 470.2h1M218.5 470.1h1M209.9 476.0h1M228.8 475.3h1M219.4 471.2h1M224.3 473.2h1M207.6 471.9h1M213.4 470.6h1M215.7 475.9h1M224.0 470.7h1M230.0 470.6h1M215.3 470.2h1M217.8 470.9h1M226.1 470.4h1M219.8 473.8h1M222.3 473.6h1M221.2 466.9h1M212.5 465.9h1M228.2 472.0h1M217.0 467.9h1M222.8 470.4h1M222.5 468.3h1M212.6 475.5h1M213.7 470.7h1M229.6 465.3h1M225.2 471.0h1M219.3 471.6h1M212.1 464.2h1M233.4 469.9h1M226.5 474.1h1M222.3 472.2h1M225.2 475.5h1M223.7 474.5h1M218.3 469.5h1M220.9 472.0h1M224.0 476.6h1M226.1 471.0h1M234.1 471.8h1M222.8 472.3h1M218.0 467.6h1M221.2 469.9h1M214.3 471.2h1M218.9 469.0h1M208.0 470.3h1M232.5 473.4h1M227.8 470.7h1M227.6 468.8h1M217.2 472.3h1M210.4 471.0h1M222.4 475.8h1M215.5 472.1h1M215.8 469.2h1M201.6 468.0h1M228.3 472.3h1M221.4 478.1h1M224.1 467.1h1M218.9 470.6h1M231.4 468.1h1M223.3 473.7h1M214.7 471.1h1M206.4 471.1h1M205.1 469.7h1M232.2 472.0h1M220.7 471.3h1M235.3 472.5h1M227.5 469.5h1M217.3 467.7h1M219.1 468.7h1M227.2 472.7h1M219.5 469.2h1M200.3 469.1h1M222.4 472.8h1M199.0 463.7h1M221.4 467.8h1M218.8 469.4h1M224.4 465.3h1M216.4 473.6h1M221.8 468.4h1M223.5 471.7h1M214.2 472.9h1M225.0 470.4h1M226.9 467.3h1M225.6 470.2h1M213.8 469.0h1M228.4 469.2h1M217.9 468.9h1M214.9 473.7h1M235.7 474.8h1M223.8 473.1h1M217.9 469.3h1M212.2 475.1h1M218.0 468.7h1M215.9 471.4h1M216.5 470.9h1M221.5 474.8h1M211.8 471.7h1M215.5 469.5h1M231.6 472.7h1M217.7 472.3h1M220.2 474.1h1M217.0 472.3h1M218.9 470.9h1M219.3 469.0h1M221.1 473.7h1M216.2 469.7h1M222.9 468.6h1M226.4 472.9h1M204.5 468.9h1M212.9 473.3h1M226.8 467.3h1M215.6 470.6h1M217.8 473.0h1M227.1 472.6h1M227.9 473.6h1M219.9 469.5h1M215.3 473.3h1M226.5 473.8h1M218.1 469.7h1M222.2 474.5h1M222.8 471.5h1M214.7 472.1h1M224.1 468.0h1M232.5 468.1h1M226.8 470.2h1M221.5 468.5h1M216.5 472.9h1M219.0 469.8h1M226.5 472.9h1M221.5 471.5h1M232.3 470.3h1M223.1 472.1h1M210.7 465.1h1M221.3 473.4h1M221.8 469.3h1M215.9 473.2h1M218.3 466.1h1M225.1 471.5h1M223.0 473.9h1M229.5 472.5h1M219.2 464.6h1M222.4 470.4h1M229.5 474.6h1M223.7 474.9h1M219.9 470.7h1M214.6 469.9h1M221.9 474.0h1M215.3 473.2h1M236.5 466.9h1M218.6 470.9h1M227.3 476.7h1M228.9 470.7h1M214.5 470.7h1M220.1 471.6h1M214.2 475.3h1M215.4 472.9h1M221.9 467.6h1M220.8 470.9h1M219.1 473.2h1M217.1 478.4h1M228.2 468.1h1M203.2 474.5h1M222.1 471.1h1M213.6 466.6h1M207.5 478.4h1M231.5 469.2h1M233.3 465.3h1M225.2 472.9h1M214.4 469.5h1M213.1 470.9h1M229.5 473.8h1M223.2 474.1h1M208.0 476.8h1M220.0 466.9h1M217.7 468.9h1M221.0 471.7h1M204.1 474.6h1M232.3 467.7h1M230.6 474.6h1M227.4 475.7h1M210.7 473.0h1M213.3 477.9h1M213.6 467.2h1M228.1 472.7h1M220.5 471.2h1M224.6 476.0h1M215.4 469.1h1M216.3 470.6h1M220.4 467.0h1M222.4 467.0h1M218.2 470.1h1M218.6 475.2h1M231.7 474.0h1M231.4 470.0h1M230.1 470.6h1M221.9 471.6h1M211.0 469.0h1M219.2 471.9h1M219.4 468.3h1M212.2 470.8h1M212.0 467.3h1M219.6 471.3h1M214.5 465.5h1M222.3 473.3h1M217.4 469.7h1M204.0 473.5h1M212.6 473.0h1M216.2 470.4h1M219.0 465.4h1M239.5 466.1h1M221.1 468.4h1M218.6 474.9h1M207.3 470.4h1M223.7 471.2h1M223.1 468.6h1M208.8 466.9h1M217.4 473.0h1M220.9 475.6h1M221.0 471.4h1M221.7 465.6h1M224.3 467.5h1M217.6 477.8h1M211.6 471.2h1M222.3 471.2h1M220.3 469.1h1M234.2 464.8h1M213.1 475.3h1M224.1 468.5h1M214.0 470.1h1M238.8 472.3h1M213.1 471.5h1M215.9 475.3h1M222.4 474.6h1M221.4 476.9h1M223.2 471.6h1M213.2 469.5h1M223.0 469.3h1M237.7 470.8h1M215.0 473.8h1M216.6 472.0h1M219.6 468.6h1M230.0 471.1h1M227.9 469.8h1M210.3 467.1h1M216.7 470.2h1M220.7 472.3h1M211.6 471.5h1M211.8 468.7h1M238.3 474.6h1M217.8 476.2h1M230.2 473.5h1M230.6 470.1h1M219.4 468.2h1M224.4 467.0h1M216.8 472.2h1M216.8 471.8h1M233.1 467.8h1M230.1 468.8h1M213.8 471.5h1M227.5 468.7h1M215.2 469.5h1M215.3 471.4h1M215.3 470.0h1M222.8 469.5h1M228.4 468.8h1M214.9 476.9h1M230.8 471.0h1M226.1 471.8h1M216.7 472.8h1M222.4 474.6h1M207.4 473.2h1M221.5 468.7h1M217.3 469.6h1M211.0 469.1h1M225.8 466.2h1M217.7 463.7h1M216.3 472.0h1M219.9 470.9h1M212.5 472.5h1M214.0 473.5h1M221.8 469.6h1M230.7 469.6h1M227.5 471.1h1M220.3 473.8h1M223.4 470.8h1M219.5 471.4h1M220.9 469.8h1M213.0 463.0h1M219.5 470.1h1M228.8 472.1h1M228.3 476.0h1M219.6 468.3h1M226.0 469.0h1M218.5 475.1h1M224.2 474.1h1M210.9 470.9h1M228.1 467.0h1M221.7 472.0h1M204.2 475.6h1M215.3 470.4h1M232.1 465.4h1M223.6 469.5h1M220.6 468.4h1M229.9 467.4h1M222.9 472.4h1M219.7 470.0h1M218.5 473.9h1M223.5 470.6h1M212.7 471.3h1M224.1 470.7h1M230.4 465.1h1M237.8 470.3h1M212.3 465.6h1M226.4 472.5h1M218.8 470.7h1M221.5 469.5h1M228.4 472.7h1M219.5 465.9h1M229.9 469.4h1" stroke="#0c5a24" stroke-width="1" fill="none" opacity="0.85"/>
<path d="M246.6 471.3h1M242.5 472.3h1M240.0 470.5h1M248.2 464.4h1M243.0 463.9h1M248.8 474.5h1M250.0 477.0h1M250.4 475.1h1M239.6 476.4h1M238.8 484.8h1M246.0 474.4h1M236.9 477.2h1M251.3 461.4h1M241.0 468.0h1M240.4 479.1h1M257.3 464.4h1M250.6 469.2h1M252.5 456.1h1M241.7 478.1h1M239.7 477.9h1M241.2 477.6h1M247.8 468.3h1M239.7 469.8h1M251.2 470.7h1M240.3 490.7h1M234.8 469.4h1M247.5 464.5h1M244.2 468.3h1M235.4 473.5h1M237.4 466.3h1M251.7 464.1h1M247.9 477.9h1M250.2 473.6h1M242.9 462.3h1M245.1 473.4h1M241.2 464.8h1M249.5 464.4h1M246.9 467.9h1M234.1 480.4h1M247.9 474.0h1M235.7 470.0h1M245.9 466.2h1M254.1 458.6h1M248.4 459.3h1M234.8 463.0h1M247.6 466.4h1M240.1 465.2h1M235.2 465.2h1M238.2 468.7h1M241.8 456.1h1M240.2 477.8h1M241.2 470.1h1M239.6 466.3h1M243.5 462.3h1M242.9 460.4h1M245.9 460.9h1M247.8 476.4h1M234.1 474.4h1M241.4 477.3h1M240.6 468.6h1M242.0 477.8h1M232.1 474.8h1M244.3 467.3h1M242.3 475.8h1M248.7 480.4h1M239.9 458.8h1M240.4 469.0h1M241.1 477.5h1M257.4 472.5h1M233.0 476.4h1M239.8 470.4h1M248.7 472.4h1M243.3 471.9h1M248.2 473.9h1M256.1 452.2h1M239.0 466.7h1M248.6 471.5h1M248.8 461.6h1M242.3 474.0h1M243.3 467.8h1M245.3 480.0h1M231.0 479.7h1M245.3 465.0h1M247.6 470.4h1M250.9 465.3h1M249.5 464.7h1M245.6 474.3h1M243.2 474.0h1M240.1 476.5h1M240.6 465.9h1M243.0 469.8h1M238.6 474.9h1M242.9 473.8h1M234.7 462.3h1M242.1 464.2h1M242.9 473.5h1M250.3 479.0h1M248.4 465.9h1M247.0 467.0h1M246.9 463.8h1M251.7 472.6h1M242.0 462.0h1M245.4 467.0h1M245.2 465.9h1M240.4 473.9h1M252.5 462.6h1M242.5 472.5h1M242.8 467.5h1M256.7 465.1h1M245.8 467.3h1M243.1 456.5h1M249.0 468.9h1M237.9 480.2h1M242.0 466.5h1M238.6 476.6h1M243.9 468.3h1M235.7 464.8h1M245.8 470.1h1M231.6 464.9h1M245.1 486.3h1M239.2 456.9h1M248.3 467.3h1M235.8 473.6h1M242.3 464.4h1M235.8 469.5h1M244.2 459.5h1M249.6 462.6h1M252.1 472.2h1M242.6 472.2h1M240.1 469.8h1M253.6 466.8h1M248.6 464.8h1M243.6 476.0h1M236.5 472.2h1M230.8 463.3h1M241.2 475.5h1M248.0 464.7h1M242.9 471.3h1M234.3 472.7h1M251.8 477.7h1M240.1 467.7h1M238.1 467.2h1M242.2 474.3h1M244.2 464.6h1M248.6 475.5h1M240.0 468.7h1M243.1 460.3h1M244.5 474.2h1M255.4 471.4h1M242.0 469.3h1M247.4 475.0h1M238.6 471.4h1M247.6 458.2h1M251.9 468.9h1M248.9 469.9h1M242.2 469.8h1M245.4 475.4h1M242.1 463.5h1M239.5 464.4h1M248.3 464.5h1M252.9 471.0h1M243.2 478.1h1M241.5 468.5h1M248.4 474.7h1M237.8 485.0h1M247.2 462.7h1M242.7 475.8h1M245.1 475.4h1M258.0 475.9h1M255.8 474.4h1M239.8 479.4h1M239.6 476.1h1M247.8 465.3h1M239.6 469.3h1M246.3 478.4h1M244.3 481.8h1M249.2 466.6h1M240.2 471.0h1M240.8 469.9h1M248.6 472.1h1M249.9 466.4h1M238.8 462.1h1M233.3 467.9h1M244.5 469.4h1M244.1 482.8h1M237.5 469.0h1M241.2 465.1h1M252.2 470.4h1M251.6 463.8h1M255.4 484.2h1M238.9 470.6h1M243.3 474.0h1M236.3 473.4h1M248.5 467.0h1M230.6 466.6h1M241.8 475.2h1M240.4 463.8h1M247.9 472.9h1M248.6 470.9h1M250.5 473.7h1M233.5 471.9h1M248.8 470.9h1M252.9 467.9h1M248.4 463.3h1M244.2 467.4h1M238.2 462.8h1M245.5 473.3h1M240.4 463.3h1M238.9 475.3h1M237.0 477.5h1M234.2 472.4h1M248.2 478.0h1M241.6 466.1h1M235.7 476.2h1M243.4 468.0h1M241.7 472.2h1M244.4 477.8h1M231.3 475.8h1M241.0 470.3h1M242.3 470.2h1M248.8 472.1h1M235.6 470.3h1M243.6 473.0h1M244.5 470.3h1M250.4 464.2h1M257.3 467.4h1M238.0 475.5h1M250.7 478.3h1M253.0 473.6h1M244.6 473.0h1M244.2 467.5h1M253.9 481.7h1M244.3 469.4h1M241.3 460.7h1M240.2 467.7h1M244.2 464.8h1M232.9 474.7h1M254.6 458.0h1M243.5 475.9h1M237.3 462.2h1M244.5 469.4h1M240.5 480.7h1M253.3 474.8h1M243.9 468.9h1M249.7 469.4h1M253.3 478.4h1M240.8 475.5h1M253.8 474.8h1M238.7 469.3h1M242.4 471.7h1M244.6 468.9h1M249.6 479.1h1M241.1 462.2h1M246.8 471.1h1M247.1 467.0h1M246.3 465.6h1M251.1 481.2h1M239.0 455.5h1M241.7 468.0h1M245.8 471.3h1M247.6 487.5h1M241.3 468.9h1M247.3 460.1h1M249.4 467.5h1M236.1 466.1h1M247.7 476.3h1M252.2 473.9h1M240.4 474.6h1M244.3 485.3h1M232.4 481.0h1M249.4 473.7h1M244.2 467.9h1M239.0 462.0h1M257.1 477.0h1M248.9 473.5h1M233.3 469.7h1M245.6 478.3h1M238.9 473.0h1M243.5 471.6h1M240.2 473.6h1M245.4 460.2h1M252.2 484.6h1M239.7 478.3h1M239.1 468.3h1M255.5 472.7h1M254.1 473.2h1M251.0 470.5h1M253.6 482.2h1M249.1 468.1h1M242.8 465.9h1M248.7 474.7h1M240.8 477.1h1M241.6 482.5h1M250.0 481.1h1M240.8 465.6h1M234.1 475.5h1M238.3 479.7h1M246.0 476.2h1M237.4 468.1h1M246.2 476.0h1M237.4 473.7h1M240.2 476.5h1M243.8 469.9h1M247.8 478.6h1M243.7 479.0h1M239.2 473.3h1M238.4 472.9h1M239.7 471.8h1M248.9 465.9h1M234.6 470.6h1M248.3 473.0h1M239.7 476.6h1M243.4 476.2h1M239.8 474.2h1M252.1 467.6h1M243.4 475.3h1M248.2 473.7h1M244.4 462.2h1M245.1 463.9h1M245.6 457.6h1M253.6 482.9h1M247.7 466.5h1M243.2 476.8h1M249.0 467.4h1M252.2 475.9h1M248.2 469.4h1M245.0 467.3h1M246.2 467.6h1M252.0 471.8h1M246.3 473.5h1M246.9 463.0h1M252.6 472.1h1M241.8 465.8h1M241.0 467.9h1M245.1 466.4h1M245.7 472.4h1M240.9 484.6h1M244.3 473.5h1M245.6 470.5h1M249.0 479.7h1M244.5 466.4h1M248.2 458.6h1M245.9 470.3h1M246.9 462.5h1M242.3 465.3h1M241.7 474.9h1M243.7 467.8h1M251.9 471.4h1M232.8 465.1h1M247.2 473.9h1M246.1 472.8h1M239.4 470.7h1M237.7 466.3h1M239.3 466.2h1M242.6 469.8h1M239.9 477.5h1M241.9 480.2h1M250.5 463.9h1M249.8 462.8h1M253.1 473.0h1M238.6 458.0h1M242.1 463.0h1M250.9 463.6h1M243.1 473.8h1M244.5 472.4h1M242.9 475.1h1M238.8 474.2h1M237.2 471.9h1M237.6 469.6h1M247.8 478.1h1M233.7 466.3h1M238.5 478.0h1M239.2 474.9h1M241.2 462.2h1M244.9 464.0h1M248.6 475.7h1M252.1 464.8h1M253.6 476.5h1M233.6 483.9h1M254.2 464.6h1M246.2 462.8h1M243.4 471.8h1M247.9 465.9h1M244.1 465.2h1M246.5 474.7h1M244.7 477.5h1M248.7 472.9h1M251.1 463.4h1M244.0 460.2h1M244.1 467.9h1M249.1 468.1h1M240.4 470.2h1M243.4 473.8h1M239.0 461.8h1M234.8 477.6h1M236.7 468.0h1M237.7 476.0h1M240.9 478.0h1M240.1 472.5h1M248.7 476.5h1M237.2 468.6h1M243.8 459.9h1M248.5 473.1h1M247.3 462.5h1M245.3 473.3h1M250.4 467.7h1M248.3 482.4h1M241.7 468.3h1M242.3 461.9h1M242.1 480.4h1M238.8 469.6h1M251.4 474.1h1M245.6 468.8h1M243.6 470.8h1M248.4 471.2h1M249.9 459.7h1M249.1 467.6h1M244.4 468.3h1M248.1 470.1h1M248.0 466.0h1M245.4 478.1h1M250.9 468.7h1M245.1 468.6h1M243.6 470.9h1M251.5 474.3h1M253.0 479.9h1M236.8 472.6h1M241.7 461.2h1M237.9 467.8h1M254.2 471.3h1M243.2 470.6h1M239.9 471.8h1M243.8 461.2h1M241.2 490.7h1M248.1 470.3h1M248.3 465.1h1M244.9 476.0h1M234.9 466.5h1M242.0 469.2h1M241.3 472.4h1M250.3 472.9h1M250.4 477.0h1M240.8 472.4h1M242.1 474.7h1M242.3 469.8h1M254.3 469.8h1M235.2 471.6h1M246.1 467.9h1M244.8 476.8h1M241.3 469.8h1" stroke="#ff3c14" stroke-width="1" fill="none" opacity="0.85"/>
<path d="M214.8 464.5h1M219.4 462.0h1M219.2 467.4h1M207.0 461.1h1M223.0 461.1h1M235.7 460.9h1M210.2 462.8h1M228.8 465.4h1M224.9 464.4h1M230.6 460.3h1M222.6 466.6h1M212.1 464.5h1M230.0 466.3h1M219.3 467.5h1M224.4 465.9h1M212.0 462.4h1M214.5 467.3h1M202.2 460.2h1M226.6 464.1h1M197.3 463.1h1M218.0 466.2h1M205.5 462.8h1M228.7 465.3h1M213.3 463.3h1M208.9 466.5h1M217.1 466.3h1M226.7 462.1h1M219.3 465.1h1M223.9 466.8h1M229.1 464.5h1M225.8 462.5h1M215.8 465.0h1M223.1 461.7h1M219.9 462.3h1M216.2 466.4h1M213.2 462.6h1M224.9 464.0h1M221.8 461.1h1M220.3 463.1h1M214.2 462.8h1" stroke="#203080" stroke-width="1" fill="none" opacity="0.85"/>
<path d="M218.9 494.9h1M271.6 477.2h1M262.0 477.3h1M190.1 476.0h1M257.2 508.5h1M208.3 457.0h1M213.5 509.8h1M235.9 496.7h1M223.5 491.6h1M214.9 503.6h1M209.6 441.0h1M186.6 505.4h1M244.6 455.9h1M253.0 470.7h1M223.4 439.5h1M213.1 477.5h1M231.3 461.3h1M250.4 509.7h1M206.8 484.6h1M189.6 484.9h1M203.1 471.2h1M230.6 469.1h1M251.7 456.2h1M215.2 482.9h1M225.7 481.1h1M221.4 455.5h1M242.6 476.9h1M248.3 507.2h1" stroke="#9a9a9a" stroke-width="1" fill="none" opacity="0.85"/>
<line x1="185.30" y1="433.80" x2="185.30" y2="512.00" stroke="#222" stroke-width="1.4"/>
<line x1="185.30" y1="512.00" x2="279.50" y2="512.00" stroke="#222" stroke-width="1.4"/>
<line x1="192.39" y1="512.00" x2="192.39" y2="513.60" stroke="#333" stroke-width="0.7"/>
<line x1="183.70" y1="506.11" x2="185.30" y2="506.11" stroke="#333" stroke-width="0.7"/>
<line x1="196.54" y1="512.00" x2="196.54" y2="513.60" stroke="#333" stroke-width="0.7"/>
<line x1="183.70" y1="502.67" x2="185.30" y2="502.67" stroke="#333" stroke-width="0.7"/>
<line x1="199.48" y1="512.00" x2="199.48" y2="513.60" stroke="#333" stroke-width="0.7"/>
<line x1="183.70" y1="500.23" x2="185.30" y2="500.23" stroke="#333" stroke-width="0.7"/>
<line x1="201.76" y1="512.00" x2="201.76" y2="513.60" stroke="#333" stroke-width="0.7"/>
<line x1="183.70" y1="498.34" x2="185.30" y2="498.34" stroke="#333" stroke-width="0.7"/>
<line x1="203.63" y1="512.00" x2="203.63" y2="513.60" stroke="#333" stroke-width="0.7"/>
<line x1="183.70" y1="496.79" x2="185.30" y2="496.79" stroke="#333" stroke-width="0.7"/>
<line x1="205.20" y1="512.00" x2="205.20" y2="513.60" stroke="#333" stroke-width="0.7"/>
<line x1="183.70" y1="495.48" x2="185.30" y2="495.48" stroke="#333" stroke-width="0.7"/>
<line x1="206.57" y1="512.00" x2="206.57" y2="513.60" stroke="#333" stroke-width="0.7"/>
<line x1="183.70" y1="494.34" x2="185.30" y2="494.34" stroke="#333" stroke-width="0.7"/>
<line x1="207.77" y1="512.00" x2="207.77" y2="513.60" stroke="#333" stroke-width="0.7"/>
<line x1="183.70" y1="493.34" x2="185.30" y2="493.34" stroke="#333" stroke-width="0.7"/>
<line x1="215.94" y1="512.00" x2="215.94" y2="513.60" stroke="#333" stroke-width="0.7"/>
<line x1="183.70" y1="486.56" x2="185.30" y2="486.56" stroke="#333" stroke-width="0.7"/>
<line x1="220.09" y1="512.00" x2="220.09" y2="513.60" stroke="#333" stroke-width="0.7"/>
<line x1="183.70" y1="483.12" x2="185.30" y2="483.12" stroke="#333" stroke-width="0.7"/>
<line x1="223.03" y1="512.00" x2="223.03" y2="513.60" stroke="#333" stroke-width="0.7"/>
<line x1="183.70" y1="480.68" x2="185.30" y2="480.68" stroke="#333" stroke-width="0.7"/>
<line x1="225.31" y1="512.00" x2="225.31" y2="513.60" stroke="#333" stroke-width="0.7"/>
<line x1="183.70" y1="478.79" x2="185.30" y2="478.79" stroke="#333" stroke-width="0.7"/>
<line x1="227.18" y1="512.00" x2="227.18" y2="513.60" stroke="#333" stroke-width="0.7"/>
<line x1="183.70" y1="477.24" x2="185.30" y2="477.24" stroke="#333" stroke-width="0.7"/>
<line x1="228.75" y1="512.00" x2="228.75" y2="513.60" stroke="#333" stroke-width="0.7"/>
<line x1="183.70" y1="475.93" x2="185.30" y2="475.93" stroke="#333" stroke-width="0.7"/>
<line x1="230.12" y1="512.00" x2="230.12" y2="513.60" stroke="#333" stroke-width="0.7"/>
<line x1="183.70" y1="474.79" x2="185.30" y2="474.79" stroke="#333" stroke-width="0.7"/>
<line x1="231.32" y1="512.00" x2="231.32" y2="513.60" stroke="#333" stroke-width="0.7"/>
<line x1="183.70" y1="473.79" x2="185.30" y2="473.79" stroke="#333" stroke-width="0.7"/>
<line x1="239.49" y1="512.00" x2="239.49" y2="513.60" stroke="#333" stroke-width="0.7"/>
<line x1="183.70" y1="467.01" x2="185.30" y2="467.01" stroke="#333" stroke-width="0.7"/>
<line x1="243.64" y1="512.00" x2="243.64" y2="513.60" stroke="#333" stroke-width="0.7"/>
<line x1="183.70" y1="463.57" x2="185.30" y2="463.57" stroke="#333" stroke-width="0.7"/>
<line x1="246.58" y1="512.00" x2="246.58" y2="513.60" stroke="#333" stroke-width="0.7"/>
<line x1="183.70" y1="461.13" x2="185.30" y2="461.13" stroke="#333" stroke-width="0.7"/>
<line x1="248.86" y1="512.00" x2="248.86" y2="513.60" stroke="#333" stroke-width="0.7"/>
<line x1="183.70" y1="459.24" x2="185.30" y2="459.24" stroke="#333" stroke-width="0.7"/>
<line x1="250.73" y1="512.00" x2="250.73" y2="513.60" stroke="#333" stroke-width="0.7"/>
<line x1="183.70" y1="457.69" x2="185.30" y2="457.69" stroke="#333" stroke-width="0.7"/>
<line x1="252.30" y1="512.00" x2="252.30" y2="513.60" stroke="#333" stroke-width="0.7"/>
<line x1="183.70" y1="456.38" x2="185.30" y2="456.38" stroke="#333" stroke-width="0.7"/>
<line x1="253.67" y1="512.00" x2="253.67" y2="513.60" stroke="#333" stroke-width="0.7"/>
<line x1="183.70" y1="455.24" x2="185.30" y2="455.24" stroke="#333" stroke-width="0.7"/>
<line x1="254.87" y1="512.00" x2="254.87" y2="513.60" stroke="#333" stroke-width="0.7"/>
<line x1="183.70" y1="454.24" x2="185.30" y2="454.24" stroke="#333" stroke-width="0.7"/>
<line x1="263.04" y1="512.00" x2="263.04" y2="513.60" stroke="#333" stroke-width="0.7"/>
<line x1="183.70" y1="447.46" x2="185.30" y2="447.46" stroke="#333" stroke-width="0.7"/>
<line x1="267.19" y1="512.00" x2="267.19" y2="513.60" stroke="#333" stroke-width="0.7"/>
<line x1="183.70" y1="444.02" x2="185.30" y2="444.02" stroke="#333" stroke-width="0.7"/>
<line x1="270.13" y1="512.00" x2="270.13" y2="513.60" stroke="#333" stroke-width="0.7"/>
<line x1="183.70" y1="441.58" x2="185.30" y2="441.58" stroke="#333" stroke-width="0.7"/>
<line x1="272.41" y1="512.00" x2="272.41" y2="513.60" stroke="#333" stroke-width="0.7"/>
<line x1="183.70" y1="439.69" x2="185.30" y2="439.69" stroke="#333" stroke-width="0.7"/>
<line x1="274.28" y1="512.00" x2="274.28" y2="513.60" stroke="#333" stroke-width="0.7"/>
<line x1="183.70" y1="438.14" x2="185.30" y2="438.14" stroke="#333" stroke-width="0.7"/>
<line x1="275.85" y1="512.00" x2="275.85" y2="513.60" stroke="#333" stroke-width="0.7"/>
<line x1="183.70" y1="436.83" x2="185.30" y2="436.83" stroke="#333" stroke-width="0.7"/>
<line x1="277.22" y1="512.00" x2="277.22" y2="513.60" stroke="#333" stroke-width="0.7"/>
<line x1="183.70" y1="435.69" x2="185.30" y2="435.69" stroke="#333" stroke-width="0.7"/>
<line x1="278.42" y1="512.00" x2="278.42" y2="513.60" stroke="#333" stroke-width="0.7"/>
<line x1="183.70" y1="434.69" x2="185.30" y2="434.69" stroke="#333" stroke-width="0.7"/>
<line x1="185.30" y1="512.00" x2="185.30" y2="514.50" stroke="#222" stroke-width="0.9"/>
<line x1="182.80" y1="512.00" x2="185.30" y2="512.00" stroke="#222" stroke-width="0.9"/>
<text x="180.70" y="521.00" font-size="8.2">10<tspan dy="-3.2" font-size="5.6">0</tspan></text>
<text transform="translate(182.40,512.00) rotate(-90)" x="-4.2" font-size="7.5">10<tspan dy="-3" font-size="5">0</tspan></text>
<line x1="208.85" y1="512.00" x2="208.85" y2="514.50" stroke="#222" stroke-width="0.9"/>
<line x1="182.80" y1="492.45" x2="185.30" y2="492.45" stroke="#222" stroke-width="0.9"/>
<text x="204.25" y="521.00" font-size="8.2">10<tspan dy="-3.2" font-size="5.6">1</tspan></text>
<text transform="translate(182.40,492.45) rotate(-90)" x="-4.2" font-size="7.5">10<tspan dy="-3" font-size="5">1</tspan></text>
<line x1="232.40" y1="512.00" x2="232.40" y2="514.50" stroke="#222" stroke-width="0.9"/>
<line x1="182.80" y1="472.90" x2="185.30" y2="472.90" stroke="#222" stroke-width="0.9"/>
<text x="227.80" y="521.00" font-size="8.2">10<tspan dy="-3.2" font-size="5.6">2</tspan></text>
<text transform="translate(182.40,472.90) rotate(-90)" x="-4.2" font-size="7.5">10<tspan dy="-3" font-size="5">2</tspan></text>
<line x1="255.95" y1="512.00" x2="255.95" y2="514.50" stroke="#222" stroke-width="0.9"/>
<line x1="182.80" y1="453.35" x2="185.30" y2="453.35" stroke="#222" stroke-width="0.9"/>
<text x="251.35" y="521.00" font-size="8.2">10<tspan dy="-3.2" font-size="5.6">3</tspan></text>
<text transform="translate(182.40,453.35) rotate(-90)" x="-4.2" font-size="7.5">10<tspan dy="-3" font-size="5">3</tspan></text>
<line x1="279.50" y1="512.00" x2="279.50" y2="514.50" stroke="#222" stroke-width="0.9"/>
<line x1="182.80" y1="433.80" x2="185.30" y2="433.80" stroke="#222" stroke-width="0.9"/>
<text x="274.90" y="521.00" font-size="8.2">10<tspan dy="-3.2" font-size="5.6">4</tspan></text>
<text transform="translate(182.40,433.80) rotate(-90)" x="-4.2" font-size="7.5">10<tspan dy="-3" font-size="5">4</tspan></text>
<text x="231" y="431.6" font-size="9.6" text-anchor="middle">Data.012</text>
<text transform="translate(171.00,474.40) rotate(-90)" font-size="8.9" text-anchor="middle">CD11b PE</text>
<text x="226" y="531.6" font-size="9.1" text-anchor="middle">CD16-FITC</text>
<rect x="300.20" y="306.70" width="95.70" height="78.70" fill="#fff" stroke="#4a4a4a" stroke-width="1.15"/>
<path d="M356.9 347.1h1M357.5 346.2h1M371.8 332.9h1M376.2 353.7h1M365.3 345.3h1M361.1 352.6h1M361.6 358.7h1M362.6 349.5h1M357.1 330.8h1M371.9 343.8h1M366.5 355.3h1M360.4 355.7h1M360.3 364.5h1M365.5 338.0h1M362.2 360.4h1M367.6 353.4h1M365.2 363.5h1M363.4 364.8h1M353.0 368.4h1M363.4 358.4h1M353.6 351.3h1M360.4 359.6h1M357.6 341.6h1M362.2 348.2h1M355.8 342.4h1M361.2 353.9h1M359.0 367.3h1M372.5 356.7h1M367.8 348.5h1M361.9 352.9h1M355.4 364.2h1M350.5 345.0h1M367.8 349.2h1M366.7 348.1h1M368.7 343.7h1M358.6 349.3h1M361.5 364.4h1M362.3 355.2h1M362.4 356.3h1M363.4 339.8h1M364.0 354.4h1M372.9 348.3h1M362.4 343.9h1M354.8 352.1h1M365.7 339.9h1M362.5 356.1h1M359.8 336.4h1M365.5 352.3h1M364.4 360.5h1M371.9 358.6h1M367.8 330.1h1M364.6 346.5h1M355.2 352.0h1M364.3 342.4h1M366.1 348.7h1M375.0 346.9h1M374.5 348.0h1M365.1 343.7h1M353.4 359.9h1M364.1 341.9h1M370.1 360.1h1M368.1 355.0h1M358.9 340.2h1M358.1 362.6h1M350.7 348.1h1M351.6 348.5h1M370.7 353.3h1M362.6 352.9h1M365.0 346.7h1M358.7 340.6h1M353.4 368.8h1M352.8 345.3h1M360.0 360.8h1M353.7 339.2h1M365.7 359.7h1M361.1 357.0h1M369.7 357.8h1M351.5 355.8h1M352.3 333.1h1M352.1 352.4h1M361.6 340.7h1M353.4 342.4h1M364.5 358.3h1M367.1 356.8h1M361.1 362.4h1M350.4 348.3h1M357.6 347.8h1M365.5 358.9h1M368.1 362.6h1M364.6 360.1h1M358.9 351.0h1M355.3 349.6h1M360.7 353.2h1M344.4 332.2h1M358.3 343.5h1M369.3 347.1h1M353.3 344.3h1M367.4 353.0h1M354.9 363.9h1M358.5 347.5h1M365.5 362.7h1M365.7 349.9h1M359.9 346.6h1M358.0 349.4h1M363.4 347.5h1M370.4 351.7h1M360.7 357.1h1M351.9 330.7h1M358.7 345.3h1M358.8 338.3h1M357.2 350.6h1M360.5 348.3h1M355.7 343.5h1M362.7 348.4h1M348.4 340.6h1M364.2 341.3h1M366.8 335.6h1M361.8 344.4h1M364.6 342.8h1M363.3 349.9h1M365.5 332.7h1M358.9 335.0h1M359.8 353.9h1M362.0 353.7h1M356.0 350.2h1M367.9 358.0h1M355.5 344.8h1M356.3 351.2h1M366.0 350.6h1M370.1 355.1h1M354.5 353.3h1M364.3 342.1h1M358.8 365.7h1M369.6 341.6h1M365.3 348.3h1M354.9 358.6h1M357.5 346.3h1M365.0 353.9h1M364.4 345.2h1M363.1 334.2h1M361.0 352.3h1M360.3 337.0h1M369.9 340.3h1M359.7 346.9h1M364.3 348.4h1M364.2 350.0h1M367.7 341.5h1M365.6 345.2h1M367.5 351.4h1M351.9 348.7h1M359.6 339.6h1M358.4 361.1h1M368.6 349.8h1M362.8 344.6h1M357.3 351.7h1M367.4 351.3h1M358.9 358.2h1M363.1 374.0h1M356.5 347.0h1M365.9 341.0h1M360.0 325.0h1M359.9 337.7h1M353.0 349.1h1M368.7 341.0h1M360.9 344.7h1M366.0 346.7h1M366.6 359.7h1M364.4 354.0h1M368.9 339.3h1M355.5 344.6h1M356.1 346.2h1M365.4 352.8h1M360.4 360.2h1M359.2 344.3h1M356.5 339.5h1M356.2 366.2h1M364.8 345.5h1M365.6 351.5h1M354.4 342.0h1M356.8 360.5h1M362.2 348.5h1M359.8 333.7h1M364.1 343.9h1M347.2 346.7h1M345.4 356.0h1M356.7 345.9h1M360.9 344.2h1M355.6 357.4h1M365.5 344.2h1M365.3 353.6h1M359.5 352.2h1M358.1 345.2h1M370.1 357.0h1M354.6 366.1h1M361.0 347.3h1M354.1 348.0h1M370.2 367.8h1M358.2 348.0h1M353.6 349.3h1M365.7 346.5h1M366.4 363.4h1M354.5 360.4h1M369.4 321.9h1M360.5 350.9h1M355.1 363.6h1M356.4 341.3h1M366.8 363.1h1M371.1 334.2h1M363.6 349.5h1M372.5 342.8h1M369.1 353.1h1M365.3 340.9h1M359.6 350.1h1M356.7 342.4h1M356.9 339.4h1M364.6 349.2h1M354.6 336.1h1M350.9 344.1h1M359.3 346.9h1M363.5 347.7h1M365.9 357.4h1M364.6 351.7h1M355.1 342.6h1M364.4 354.9h1M359.6 368.1h1M362.8 340.9h1M355.5 345.5h1M372.9 361.0h1M356.9 352.5h1M360.6 351.6h1M366.1 337.5h1M368.7 352.3h1M360.9 344.6h1M350.3 348.4h1M348.0 370.9h1M358.8 339.6h1M363.6 336.0h1M361.5 345.4h1M361.5 351.4h1M360.1 350.3h1M366.0 353.1h1M358.3 347.3h1M362.9 346.0h1M358.7 346.3h1M373.0 336.5h1M371.5 338.9h1M367.4 356.4h1M364.2 351.8h1M364.8 352.1h1M370.6 356.8h1M364.2 341.0h1M369.8 363.5h1M363.1 340.8h1M362.7 352.1h1M366.6 330.2h1M374.9 335.8h1M360.6 355.4h1M362.1 355.2h1M360.6 345.1h1M356.2 352.8h1M368.2 355.9h1M368.6 359.1h1M365.7 361.1h1M361.7 361.2h1M370.2 353.4h1M359.1 366.7h1M374.8 337.2h1M372.8 359.9h1M362.8 357.7h1M355.3 344.3h1M367.5 362.5h1M354.3 352.6h1M357.4 345.3h1M343.1 347.2h1M371.2 351.9h1M361.5 345.1h1M355.0 352.3h1M356.2 353.6h1M362.9 346.0h1M361.9 349.4h1M365.9 341.8h1M366.7 340.4h1M353.8 345.7h1M354.6 349.1h1M360.4 345.2h1M366.4 356.7h1M359.5 354.1h1M359.9 336.5h1M360.5 347.1h1M358.0 345.3h1M352.9 357.0h1M369.3 350.0h1M355.1 343.1h1M359.2 347.9h1M369.9 352.2h1M364.9 348.8h1M358.2 344.8h1M357.1 352.5h1M358.8 360.4h1M354.7 348.5h1M355.0 346.1h1M350.0 345.6h1M372.4 349.8h1M372.4 333.4h1M367.0 348.8h1M374.2 341.0h1M360.8 340.4h1M353.2 363.6h1M360.8 329.3h1M355.1 343.1h1M351.9 341.8h1M369.1 362.2h1M360.6 337.8h1M368.3 345.8h1M371.7 342.4h1M356.2 349.9h1M357.5 349.0h1M362.2 369.9h1M361.9 345.5h1M355.1 362.9h1M369.7 334.8h1M358.4 355.3h1M368.4 349.1h1M369.5 325.5h1M365.6 348.2h1M381.2 349.3h1M368.4 344.3h1M361.5 326.5h1M351.3 356.8h1M361.9 331.6h1M368.9 358.8h1M363.5 343.6h1M372.5 337.1h1M369.5 344.6h1M359.1 347.3h1M355.6 364.3h1M358.9 361.3h1M355.8 341.9h1M360.7 359.9h1M351.4 346.6h1M368.0 360.3h1M366.3 352.6h1M357.8 320.5h1M361.9 351.2h1M362.7 344.6h1M357.0 343.1h1M362.1 338.5h1M357.9 343.2h1M360.9 362.2h1M351.2 349.4h1M367.6 345.0h1M361.5 354.7h1M361.6 348.1h1M359.1 353.3h1M374.0 327.3h1M360.2 359.9h1M352.7 362.4h1M362.4 361.3h1M359.0 357.7h1M365.0 351.1h1M364.5 359.1h1M357.3 353.7h1M362.6 365.1h1M359.1 347.7h1M356.4 338.9h1M362.5 336.0h1M362.6 349.0h1M358.5 338.4h1M367.6 343.9h1M351.3 336.3h1M363.5 361.2h1M370.0 335.6h1M368.6 363.1h1M362.0 331.1h1M359.5 341.9h1M372.5 335.5h1M363.0 343.5h1M365.2 356.9h1M358.6 353.4h1M359.8 351.7h1M367.7 329.2h1M357.8 344.0h1M352.2 346.0h1M349.5 338.8h1M368.9 353.9h1M353.7 350.3h1M359.1 361.4h1M348.9 335.3h1M370.6 351.3h1M357.0 346.2h1M355.6 347.2h1M362.8 344.7h1M367.2 343.1h1M365.8 340.9h1M358.7 352.8h1M359.0 347.0h1M355.9 364.8h1M367.7 360.3h1M371.7 346.6h1M362.8 328.2h1M361.3 350.8h1M358.6 357.2h1M368.6 348.0h1M354.4 348.6h1M360.6 354.8h1M364.7 344.6h1M354.8 342.7h1M359.9 347.3h1M353.3 350.1h1M365.5 365.1h1M362.6 350.9h1M367.2 327.1h1M364.4 340.4h1M367.6 338.9h1M359.8 344.8h1M367.6 363.4h1M356.6 337.3h1M359.6 351.4h1M356.7 356.9h1M355.2 332.7h1M364.7 348.0h1M369.3 356.3h1M359.8 351.8h1M360.5 356.2h1M358.1 345.4h1M370.8 358.0h1M350.8 361.5h1M353.9 359.5h1M365.0 346.6h1M353.2 337.6h1M372.1 342.9h1M355.3 359.3h1M362.0 350.9h1M356.5 352.5h1M358.7 362.6h1M350.2 357.0h1M362.1 353.2h1M344.3 361.9h1M366.4 354.6h1M369.7 347.3h1M366.9 368.6h1M369.9 356.9h1M369.1 353.6h1M356.7 355.1h1M368.8 340.2h1M356.8 355.0h1M370.7 349.9h1M355.3 334.2h1M366.5 355.9h1M354.7 339.1h1M370.3 351.2h1M346.1 349.8h1M361.0 358.9h1M353.6 345.5h1M362.9 360.4h1M363.5 353.3h1M366.6 353.6h1M354.3 365.1h1M358.2 349.0h1M359.3 364.8h1M361.0 335.2h1M356.4 343.1h1M352.7 345.6h1M373.9 332.2h1M355.1 348.5h1M369.8 355.3h1M358.3 333.9h1M355.7 352.2h1M353.1 353.7h1M360.4 343.7h1M361.4 353.5h1M358.8 343.5h1M375.1 330.6h1M359.2 346.0h1M364.9 352.0h1M356.7 352.7h1M360.0 334.7h1M357.6 342.4h1M362.7 349.6h1M360.2 361.3h1M365.0 334.1h1M350.4 358.0h1M362.4 355.1h1M362.3 344.7h1M365.0 353.1h1M361.1 360.0h1M376.9 349.6h1M359.4 340.0h1M366.1 346.4h1M352.5 359.6h1M353.4 360.7h1M356.8 373.1h1M359.4 359.6h1M356.3 356.0h1M361.3 350.8h1M366.3 350.5h1M359.0 345.7h1M360.2 337.8h1M366.9 345.2h1M356.4 355.7h1M369.7 353.6h1M353.5 347.7h1M364.8 371.8h1M377.5 356.0h1M363.1 342.4h1M364.4 332.6h1M356.1 353.2h1M360.0 342.0h1M371.5 347.6h1M360.1 347.4h1M350.7 348.1h1M352.4 345.2h1M346.9 350.8h1M362.8 339.5h1M351.0 330.7h1M352.5 358.6h1M363.1 349.5h1M350.2 340.1h1M357.5 363.4h1M356.2 354.3h1M352.6 352.9h1M354.3 337.2h1M357.1 344.0h1M364.0 346.6h1M367.2 344.8h1M365.5 343.6h1M372.5 361.4h1M372.4 331.7h1M370.4 333.7h1M363.4 349.5h1M367.2 341.1h1M357.5 355.8h1M366.7 344.1h1M366.2 358.9h1M361.2 346.2h1M366.6 358.1h1M362.1 359.8h1M363.0 343.3h1M357.7 353.7h1M355.7 353.7h1M357.2 352.0h1M368.9 368.7h1M352.6 352.0h1M365.7 338.6h1M363.2 348.3h1M351.4 335.5h1M359.8 350.7h1M356.0 337.6h1M358.3 356.7h1M371.9 354.8h1M362.0 352.7h1M369.1 344.3h1M354.0 336.6h1M351.6 349.5h1M357.1 358.5h1M359.1 354.4h1M361.2 347.4h1M354.1 332.0h1M375.6 345.4h1M365.9 357.0h1M367.0 340.3h1M366.0 360.8h1M352.4 373.3h1M359.4 339.9h1M361.5 340.9h1M361.1 354.3h1M363.8 350.5h1M356.9 356.6h1M368.9 343.6h1M355.7 346.6h1M358.9 352.2h1M360.7 350.7h1M367.1 355.3h1M353.2 342.1h1M356.7 364.0h1M348.8 335.6h1M356.9 349.3h1M355.0 333.1h1M367.6 340.1h1M361.0 351.7h1M359.9 338.1h1M362.1 355.5h1M361.6 359.1h1M364.1 355.8h1M369.8 344.5h1M366.5 352.8h1M354.0 340.0h1M355.9 347.9h1M363.8 355.1h1M364.9 360.6h1M367.3 339.4h1M356.3 343.7h1M361.0 350.1h1M379.5 358.9h1M370.5 353.4h1M363.3 347.7h1M358.4 344.9h1M364.0 361.6h1M355.9 353.6h1M359.9 364.9h1M361.0 343.7h1M366.0 355.6h1M354.2 362.8h1M371.2 345.7h1M357.0 370.0h1M351.1 348.7h1M355.4 342.2h1M353.4 348.6h1M360.7 357.9h1M367.1 347.3h1M353.1 347.2h1M375.2 349.8h1M364.5 350.5h1M359.7 347.8h1M344.0 354.1h1M357.3 338.4h1M370.5 347.2h1M365.2 371.6h1M365.5 353.2h1M354.7 363.1h1M362.1 345.2h1M348.8 352.3h1M350.8 353.4h1M366.6 356.5h1M364.4 329.3h1M357.1 351.3h1M374.1 358.1h1M354.0 354.0h1M353.5 336.6h1M368.4 340.4h1M360.9 352.2h1M361.2 357.4h1M355.7 349.9h1M361.3 344.0h1M371.9 339.1h1M357.5 350.7h1M354.2 358.3h1M361.7 359.1h1M357.5 366.4h1M355.6 346.0h1M362.7 338.4h1M363.2 340.1h1M367.9 343.8h1M363.8 326.7h1M361.1 350.0h1M372.4 343.9h1M363.8 345.9h1M358.8 347.2h1M365.5 350.3h1M358.0 339.5h1M363.7 336.9h1M356.2 341.9h1M361.0 355.4h1M360.2 353.2h1M361.6 353.2h1M362.4 339.5h1M359.5 346.4h1M357.5 352.0h1M368.7 340.0h1M358.8 366.0h1M363.6 359.8h1M355.7 343.8h1M358.3 347.0h1M360.3 346.5h1M366.7 339.4h1M354.1 339.4h1M366.0 357.8h1M361.9 362.6h1M368.5 343.7h1M360.3 348.7h1M363.7 341.9h1M364.5 328.3h1M366.7 331.5h1M365.5 335.5h1M359.3 371.7h1M373.7 339.0h1M353.8 345.6h1M342.6 360.8h1M352.5 336.2h1M347.9 343.3h1M367.7 356.9h1M358.4 349.0h1M364.1 335.5h1M365.1 343.2h1M361.4 358.7h1M355.0 330.5h1M362.9 361.8h1M346.5 362.3h1M359.9 348.5h1M356.9 334.9h1M364.6 358.3h1M363.2 344.7h1M354.1 360.3h1M367.9 352.2h1M369.5 343.3h1M368.3 348.7h1M362.8 357.9h1M356.8 346.9h1M362.5 351.1h1M360.5 362.2h1M352.7 366.8h1M353.6 352.4h1M368.7 365.4h1M363.9 375.1h1M365.3 366.6h1M359.4 369.6h1M354.4 376.0h1M354.5 347.5h1M362.6 378.8h1M358.2 368.2h1M360.6 365.0h1M362.1 359.0h1M364.3 358.0h1M355.5 363.6h1M355.5 364.0h1M352.1 365.3h1M359.4 362.2h1M357.6 369.8h1M352.5 377.1h1M357.2 364.6h1M358.1 366.4h1M359.1 378.6h1M368.8 358.4h1M358.5 366.8h1M356.8 374.2h1M362.4 364.5h1M357.3 356.1h1M366.1 374.7h1M358.7 365.8h1M353.4 376.0h1M356.0 360.4h1M347.8 348.5h1M362.6 362.9h1M364.0 372.3h1M358.5 342.5h1M355.7 378.1h1M360.4 355.1h1M361.6 366.6h1M363.9 366.4h1M360.1 372.6h1M361.9 363.2h1M362.8 360.7h1M362.8 376.6h1M360.8 355.3h1M362.5 369.8h1M356.8 352.8h1M364.6 365.8h1M362.6 361.3h1M366.7 367.8h1M352.8 369.4h1M360.1 364.1h1M361.7 377.7h1M354.2 364.1h1M358.7 366.8h1M362.8 378.3h1M350.1 354.2h1M360.2 362.9h1M357.1 358.0h1M362.0 377.0h1M360.5 351.4h1M358.3 368.0h1M361.4 371.5h1M357.2 360.1h1M366.7 372.9h1M361.3 371.9h1M357.4 368.9h1M354.4 367.3h1M361.0 373.2h1M355.8 368.2h1M356.9 364.3h1M358.0 369.3h1M362.8 369.8h1M355.2 377.8h1M354.9 363.7h1M355.8 377.6h1M357.2 378.5h1M357.1 375.7h1M359.7 364.7h1M358.6 367.4h1M363.9 372.5h1M357.3 374.3h1M359.6 350.3h1M361.8 341.6h1M354.4 372.1h1M356.6 371.8h1M356.2 377.8h1M356.6 359.3h1M355.1 368.8h1M358.1 382.1h1M356.4 363.9h1M360.9 360.0h1M359.6 377.2h1M360.0 358.8h1M348.7 359.7h1M352.4 367.8h1M359.4 361.1h1M358.2 363.1h1M362.9 380.3h1M360.0 380.0h1M366.1 368.7h1M360.5 361.2h1M360.3 367.9h1M359.7 371.9h1M355.9 373.8h1M355.1 371.0h1M363.0 376.1h1M357.2 364.8h1M361.3 366.4h1M355.2 353.3h1M358.3 374.9h1M350.5 355.3h1M352.3 362.7h1M358.8 367.7h1M354.2 382.7h1M354.5 372.1h1M358.3 357.5h1M366.2 359.1h1M356.2 366.0h1M358.3 363.2h1M361.4 359.6h1M354.0 376.8h1M357.6 362.1h1M353.9 354.1h1M355.5 363.1h1M362.2 369.0h1M360.1 367.9h1M356.7 358.2h1M361.2 369.7h1M361.1 365.5h1M354.5 364.1h1M357.4 368.9h1M362.2 351.4h1M361.8 369.6h1M364.7 362.1h1M362.8 370.4h1M357.8 360.5h1M358.9 377.4h1M364.7 366.4h1M359.9 376.3h1M353.3 382.8h1M356.9 365.7h1M365.1 379.0h1M359.6 362.1h1M361.0 374.4h1M362.9 368.6h1M359.5 383.1h1M358.6 356.8h1M357.6 366.0h1M361.9 372.4h1M360.9 374.2h1M355.1 368.6h1M355.8 363.4h1M358.6 369.1h1M361.1 366.0h1M363.1 363.8h1M355.4 375.4h1M357.8 377.6h1M357.9 360.1h1M360.4 355.5h1M353.3 376.7h1M361.3 370.0h1M361.5 372.0h1M357.3 370.1h1M360.3 374.0h1M360.2 373.2h1M358.9 364.1h1M363.0 371.6h1M354.2 350.0h1M357.0 352.4h1M359.8 360.6h1M364.1 363.8h1M356.3 361.1h1M357.9 359.3h1M357.2 367.7h1M353.8 358.4h1M356.9 367.9h1M358.0 357.9h1M366.8 369.2h1M355.6 380.2h1M351.6 362.5h1M352.0 349.5h1M358.4 374.1h1M356.4 353.7h1M356.5 362.0h1M351.7 378.8h1M359.9 362.4h1M350.7 370.4h1M354.2 367.8h1M352.9 361.3h1M370.9 372.8h1M357.9 374.9h1M362.3 351.2h1M354.8 376.5h1M352.2 374.3h1M359.6 355.3h1M361.9 354.3h1M359.3 378.5h1" stroke="#ff3c14" stroke-width="1" fill="none" opacity="0.85"/>
<path d="M367.9 349.3h1M363.0 349.2h1M361.5 355.4h1M364.2 349.5h1M356.7 347.1h1M360.3 340.6h1M365.1 353.0h1M364.8 355.5h1M355.3 344.5h1M360.1 345.2h1M364.8 344.1h1M363.5 343.8h1M354.2 351.4h1M366.2 345.6h1M361.6 351.7h1M358.3 342.3h1M366.2 348.0h1M360.8 350.0h1M364.2 348.7h1M357.2 339.2h1M366.0 347.8h1M358.0 352.8h1M358.2 347.7h1M361.7 345.7h1M358.9 345.9h1M354.8 342.0h1M361.9 346.7h1M357.9 350.6h1M366.2 344.1h1M364.7 349.6h1M358.3 344.9h1M365.1 342.1h1M354.2 342.2h1M366.2 344.0h1M362.1 347.7h1M360.9 348.2h1M355.5 346.8h1M360.5 355.6h1M354.9 353.4h1M356.4 350.2h1M362.2 341.4h1M366.6 352.5h1M360.0 354.0h1M358.7 351.4h1M362.1 345.0h1M364.5 347.0h1M365.7 338.8h1M367.0 344.8h1M356.5 353.1h1M363.8 347.4h1M358.2 343.8h1M364.1 346.2h1M359.4 352.0h1M367.0 351.6h1M358.2 352.0h1M362.3 343.6h1M362.8 351.6h1M357.4 345.8h1M360.5 353.7h1M356.6 356.5h1M358.6 346.1h1M366.1 356.4h1M353.5 345.3h1M361.7 353.1h1M355.2 342.3h1M360.3 349.6h1M362.7 348.3h1M360.1 345.9h1M360.7 350.8h1M363.7 346.3h1M366.1 338.2h1M358.1 349.8h1M366.1 346.8h1M354.1 350.3h1M361.9 342.8h1M364.2 356.2h1M363.5 346.7h1M360.0 347.8h1M352.7 349.5h1M363.3 352.5h1M357.8 345.6h1M362.3 341.9h1M361.9 348.4h1M352.5 355.8h1M358.1 344.3h1M360.2 352.2h1M362.0 343.2h1M367.6 349.6h1M359.5 348.9h1M358.0 345.3h1M364.4 350.0h1M360.7 346.6h1M361.6 354.3h1M356.9 350.1h1M352.7 344.8h1M362.7 341.2h1M360.1 353.6h1M361.6 342.0h1M360.6 353.2h1M361.0 352.1h1M357.6 341.8h1M370.3 346.5h1M360.3 350.5h1M362.0 349.1h1M360.8 345.6h1M364.1 346.5h1M366.5 355.1h1M363.4 346.2h1M356.9 344.3h1M363.6 348.1h1M364.5 347.4h1M364.2 351.7h1M355.8 347.0h1M359.3 356.3h1M363.1 351.2h1M368.5 346.1h1M361.2 350.9h1M357.4 345.7h1M363.5 341.7h1M359.4 345.6h1M359.8 350.1h1M358.7 350.8h1M364.8 345.2h1M363.6 344.5h1M361.2 350.1h1M356.0 339.9h1M356.1 342.5h1M357.8 351.8h1M359.2 341.8h1M354.6 347.2h1M364.1 350.6h1M364.4 344.9h1M359.0 340.3h1M361.5 346.9h1M359.9 353.1h1M362.0 342.9h1M363.0 348.4h1M361.9 346.1h1M363.4 345.0h1M358.8 344.6h1M358.2 353.2h1M363.4 347.7h1M364.8 346.2h1M365.2 344.9h1M355.9 340.3h1M366.8 348.0h1M357.8 355.3h1M359.3 347.6h1M364.0 337.6h1M366.6 345.9h1M359.1 349.0h1M360.5 344.4h1M359.3 349.8h1M362.0 360.9h1M361.5 342.3h1M362.9 353.1h1M358.6 346.1h1M356.5 344.0h1M362.2 345.3h1M367.6 345.0h1M359.4 349.5h1M367.0 347.5h1M362.1 339.6h1M365.1 360.3h1M361.7 343.4h1M372.1 346.6h1M360.1 344.5h1M355.6 346.1h1M360.3 332.1h1M359.5 350.1h1M364.2 350.0h1M354.5 351.0h1M364.6 354.8h1M361.2 351.5h1M359.1 347.7h1M364.8 349.7h1M364.4 345.0h1M363.5 345.5h1M364.6 347.0h1M362.1 356.8h1M359.5 345.4h1M359.2 350.6h1M362.4 352.3h1M359.0 352.0h1M358.3 343.2h1M358.1 349.6h1M353.1 351.0h1M360.6 344.6h1M358.8 339.1h1M360.9 340.6h1M364.1 346.6h1M354.8 343.7h1M361.7 345.1h1M361.9 348.2h1M359.8 353.5h1M357.9 346.7h1M365.3 344.9h1M350.9 349.4h1M353.4 353.4h1M365.0 345.8h1M363.4 348.3h1M362.4 351.8h1M362.7 341.8h1M351.7 344.4h1M363.4 346.3h1M361.3 348.3h1M362.3 356.0h1M362.5 352.1h1M359.8 355.5h1M368.4 353.3h1M365.4 346.0h1M362.5 341.3h1M358.0 351.2h1M361.4 339.3h1M362.0 346.2h1M364.5 349.2h1M363.0 355.2h1M363.9 340.5h1M361.8 349.6h1M362.3 355.3h1M363.1 346.1h1M365.1 340.2h1M368.0 348.1h1M362.8 351.1h1M356.6 348.7h1M362.5 347.4h1M363.0 352.5h1M364.0 351.1h1M362.5 345.3h1M356.4 346.8h1M364.6 340.7h1M366.9 354.6h1M367.2 343.8h1M358.3 355.2h1M368.1 350.2h1M366.0 348.3h1M360.0 344.9h1M360.7 352.0h1M361.7 348.5h1M367.2 343.1h1M360.1 347.2h1M361.6 345.8h1M364.8 343.5h1M364.5 346.3h1M357.3 343.7h1M362.3 343.5h1M364.7 341.6h1M364.9 346.3h1M364.5 346.1h1M357.0 343.0h1M359.2 350.7h1M358.6 352.9h1M358.1 350.3h1M367.0 339.6h1M365.1 346.9h1M354.6 348.7h1M365.6 349.7h1M367.8 354.0h1M360.9 349.7h1M356.7 348.2h1M364.2 351.3h1M358.3 349.5h1M359.1 350.9h1M358.9 353.7h1M360.0 345.3h1M357.8 342.9h1M351.6 346.5h1M362.8 357.3h1M357.8 349.2h1M361.2 348.7h1M355.4 348.3h1M353.8 347.2h1M357.8 346.8h1M360.0 344.9h1M366.1 351.8h1M357.0 347.9h1M355.7 354.8h1M360.4 345.1h1M366.5 344.3h1M365.5 349.7h1M364.7 346.3h1M360.7 347.0h1M362.8 349.2h1M360.4 350.5h1M360.0 340.6h1M360.1 335.0h1M364.5 343.9h1M369.2 334.8h1M354.9 346.1h1M363.1 349.7h1M369.8 349.7h1M362.4 343.8h1M358.5 348.4h1M366.2 349.1h1M363.0 343.7h1M363.8 352.5h1M362.3 340.1h1M366.1 345.9h1M369.0 347.1h1M363.2 341.8h1M368.2 343.5h1M357.5 355.2h1M361.0 351.3h1M357.1 340.0h1M363.3 348.2h1M362.4 345.9h1M362.3 349.2h1M361.8 342.1h1M355.3 350.2h1M367.0 355.0h1M369.5 348.5h1M357.5 343.9h1M358.4 344.7h1M361.4 356.5h1M362.7 347.4h1M361.9 355.3h1M362.3 345.9h1M360.4 353.7h1M362.4 354.4h1M363.2 346.9h1M360.2 357.1h1M363.5 354.3h1M361.4 348.5h1M363.7 351.6h1M363.8 349.5h1M358.6 343.6h1M359.9 343.0h1M359.8 346.7h1M357.5 350.3h1M364.6 346.6h1M361.4 355.7h1M366.6 353.4h1M362.2 342.9h1M359.7 342.8h1M356.2 349.7h1M360.7 350.2h1M363.3 346.6h1M354.5 343.8h1M358.4 347.9h1M356.9 346.8h1M357.2 343.3h1M358.0 341.7h1M361.3 344.0h1M358.8 362.6h1M363.5 340.2h1M357.7 341.9h1M361.3 346.1h1M362.1 348.0h1M365.5 347.1h1M359.0 351.6h1M355.8 346.6h1M360.3 350.8h1M358.5 356.6h1M357.6 354.8h1M357.8 339.7h1M365.1 349.3h1M364.9 343.5h1M359.1 345.2h1M367.6 346.2h1M362.3 348.5h1M361.8 340.5h1M367.5 348.9h1M358.4 343.5h1M358.6 343.3h1M358.0 350.8h1M361.3 353.6h1M358.6 343.3h1M355.4 341.2h1M364.6 353.0h1M359.3 343.0h1M358.3 355.1h1M363.1 348.6h1M360.4 346.6h1M361.6 346.0h1M361.3 340.2h1M355.9 348.4h1M357.4 349.7h1M353.5 335.2h1M363.3 348.0h1M355.4 345.5h1M364.7 346.8h1M355.3 347.3h1M360.3 349.7h1M361.3 346.7h1M360.6 350.2h1M360.6 343.0h1M365.7 348.1h1M360.5 341.8h1M362.1 343.4h1M349.0 344.9h1M358.4 352.0h1M355.1 342.4h1M356.0 342.5h1M361.6 346.8h1M362.4 347.1h1M363.4 343.6h1M362.8 347.0h1M359.6 350.4h1M364.2 353.3h1M367.9 345.6h1M355.0 355.3h1M358.6 337.0h1M364.7 349.7h1M361.0 350.6h1M363.8 352.1h1M361.8 345.5h1M358.6 352.5h1M357.8 344.6h1M363.7 354.4h1M359.6 351.5h1M365.8 347.4h1M365.7 346.3h1M361.0 347.5h1M364.4 350.2h1M359.7 355.8h1M358.1 355.5h1M352.4 343.6h1M366.9 351.5h1M359.8 342.0h1M355.0 346.4h1M362.3 347.9h1M357.1 345.3h1M363.4 348.2h1M360.7 341.0h1M350.2 350.2h1M367.8 349.1h1M366.2 341.6h1M363.5 346.2h1M356.7 346.9h1M370.4 339.6h1M360.1 341.3h1M362.3 354.3h1M353.3 348.4h1M355.9 344.7h1M362.6 339.2h1M358.1 351.5h1M362.8 344.6h1M357.0 351.8h1M364.8 353.1h1M356.8 347.6h1M363.8 350.3h1M358.8 355.9h1M359.8 355.1h1M360.7 350.1h1M366.9 348.0h1M364.4 344.4h1M361.0 346.4h1M361.9 344.3h1M360.1 338.3h1M364.4 352.4h1M356.8 340.0h1M368.5 345.7h1M361.1 345.6h1M362.3 346.5h1M362.2 343.4h1M365.3 349.9h1M364.7 343.5h1M364.3 356.7h1M351.6 350.9h1M368.7 354.0h1M363.2 353.4h1M373.0 351.6h1M359.6 344.3h1M362.2 352.9h1M362.1 337.4h1M357.5 349.3h1M362.1 349.5h1M363.2 339.1h1M368.1 357.9h1M356.0 342.3h1M362.3 348.0h1M358.2 341.3h1M362.1 354.1h1M361.1 352.6h1M359.1 352.6h1M357.4 345.2h1M359.6 338.5h1M359.3 341.2h1M361.9 348.3h1M359.6 349.5h1M365.7 347.4h1M361.3 346.9h1M356.8 336.0h1M357.7 352.9h1M365.0 342.5h1M365.1 341.8h1M358.7 347.2h1M366.4 337.9h1M356.2 339.0h1M356.2 351.4h1M361.0 350.0h1M356.9 346.3h1M362.2 344.5h1M363.6 342.9h1M363.3 348.7h1M363.4 348.7h1M364.4 349.4h1M362.4 349.4h1M354.2 343.2h1M364.9 347.8h1M354.8 343.2h1M362.5 345.0h1M359.8 351.7h1M360.9 342.0h1M360.9 350.8h1M359.1 352.4h1M367.6 351.8h1M357.7 342.8h1M373.5 350.7h1M361.0 350.0h1M360.7 353.8h1M357.3 339.9h1M354.4 354.0h1M364.4 340.8h1M365.9 348.3h1M358.2 342.5h1M356.2 345.9h1M360.4 346.5h1M360.8 351.7h1M363.1 345.7h1M365.3 352.9h1M359.6 348.9h1M355.9 345.3h1M361.0 347.9h1M362.0 355.5h1M366.3 351.2h1M358.5 338.7h1M361.6 346.5h1M364.5 342.2h1M363.1 351.9h1M356.7 350.9h1M358.7 353.0h1M361.6 338.6h1M358.4 349.6h1M356.5 339.7h1M351.0 346.9h1M365.1 352.5h1M365.3 346.7h1M356.6 346.8h1M363.3 350.6h1M355.5 343.2h1M365.8 342.9h1M372.3 346.1h1M363.5 344.4h1M360.2 349.1h1M357.7 351.6h1M356.4 347.3h1M361.4 337.1h1M355.9 342.1h1M360.5 350.4h1M368.0 349.4h1M362.9 348.5h1M364.5 341.9h1M356.9 351.7h1M362.4 350.7h1M361.5 346.6h1M358.5 359.2h1M361.5 346.0h1M353.8 346.7h1M364.8 350.7h1M358.9 355.9h1M363.7 341.6h1M361.1 342.7h1M361.9 345.7h1M363.9 345.5h1M370.6 343.2h1M358.6 351.4h1M360.4 343.0h1M357.8 345.4h1M365.0 354.3h1M363.4 342.4h1M364.2 347.7h1M369.7 344.5h1M369.1 348.0h1M366.5 345.4h1M367.8 347.1h1M356.9 346.8h1M358.6 342.5h1M362.7 350.5h1M365.4 348.2h1M357.1 355.5h1M370.4 352.5h1M358.9 344.7h1M362.1 349.6h1M360.9 345.1h1M364.8 355.4h1M354.3 343.8h1M361.9 342.4h1M357.8 343.9h1M360.0 351.1h1M362.0 345.8h1M362.4 354.6h1M361.5 351.0h1M356.3 355.1h1M359.1 342.3h1M367.4 357.4h1M359.3 342.4h1M361.5 350.3h1M359.2 351.9h1M363.7 339.7h1M355.0 353.7h1M359.4 338.7h1M362.9 338.7h1M364.2 342.1h1M361.7 346.0h1M360.4 350.9h1M364.9 342.8h1M366.8 340.6h1M359.1 344.8h1M362.9 349.6h1M355.3 350.1h1M362.6 343.5h1M360.8 349.5h1M360.5 353.9h1M365.5 352.2h1M360.4 349.4h1M363.0 351.3h1M357.8 350.7h1M367.6 350.0h1M361.8 346.4h1M364.7 346.6h1M367.6 337.8h1M360.3 350.2h1M365.7 349.0h1M363.9 349.5h1M361.9 353.5h1M367.1 351.3h1M358.8 350.4h1M369.4 351.4h1M363.1 346.2h1M364.8 349.8h1M361.2 345.8h1M364.0 357.1h1M364.4 344.8h1M367.4 348.1h1M361.7 340.1h1M356.2 352.5h1M363.2 344.2h1M360.1 348.0h1M355.8 349.2h1M368.1 343.8h1M363.0 344.7h1M364.7 347.5h1M362.9 349.4h1M362.6 353.3h1M358.7 339.7h1M365.5 354.6h1M355.0 346.7h1M369.5 344.4h1M366.1 353.5h1M355.9 340.1h1M355.9 345.0h1M356.9 348.3h1M360.4 350.0h1M363.8 345.1h1M361.8 349.9h1M361.1 346.0h1M353.5 338.6h1M361.8 344.6h1M362.8 356.1h1M359.3 343.1h1M361.1 341.8h1M361.1 347.3h1M365.4 349.0h1M356.7 351.0h1M357.3 351.8h1M361.6 349.6h1M360.9 355.7h1M360.2 347.3h1M362.5 351.8h1M364.6 346.5h1M367.7 357.7h1M359.2 354.9h1M361.9 347.4h1M368.1 339.7h1M362.9 341.0h1M361.8 342.0h1M363.3 351.7h1M358.7 343.7h1M361.0 352.2h1M365.0 348.4h1M362.3 335.9h1M368.3 353.8h1M358.4 351.1h1M368.7 352.4h1M358.5 344.8h1M359.7 347.1h1M352.0 338.2h1M358.8 341.6h1M359.2 349.9h1M366.7 348.7h1M364.7 361.9h1M365.2 343.2h1M362.6 347.8h1M364.3 352.4h1M356.8 341.6h1M364.1 349.1h1M363.7 357.7h1M359.4 346.1h1M356.2 344.4h1M359.1 341.6h1M358.3 348.2h1M360.2 347.9h1M359.6 346.7h1M361.3 349.1h1M362.3 335.3h1M358.9 348.3h1M358.5 348.6h1M357.8 348.4h1M362.6 351.0h1M358.5 340.9h1M362.9 351.1h1M356.8 348.4h1M361.9 344.6h1M361.2 349.2h1M360.4 343.9h1M356.7 345.4h1M358.1 342.6h1M363.1 340.7h1M364.7 351.4h1M358.3 344.1h1M359.4 348.9h1M360.0 346.3h1M366.2 340.2h1M355.1 341.0h1M356.9 351.5h1M362.6 352.8h1M359.7 349.4h1M356.6 341.1h1M360.8 348.2h1M356.8 342.1h1M361.0 343.6h1M364.7 349.8h1M366.8 346.0h1M367.0 351.1h1M363.5 343.6h1M354.3 352.8h1M362.8 352.0h1M361.9 352.0h1M359.6 353.1h1M364.0 345.3h1M356.0 351.1h1M365.8 353.3h1M358.4 352.5h1M363.2 353.6h1M361.0 352.0h1M358.5 345.7h1M364.7 344.9h1M358.8 344.1h1M360.2 349.2h1M358.7 338.2h1M367.4 346.0h1M357.3 350.8h1M359.4 342.6h1M358.2 348.8h1M355.8 349.7h1M365.8 349.2h1M361.1 335.3h1M362.9 348.9h1M360.9 348.2h1M361.6 349.0h1M367.3 348.1h1M364.8 352.5h1M359.3 344.8h1M357.1 352.6h1M356.0 352.4h1M366.0 357.6h1M359.4 345.2h1M361.0 338.2h1M363.6 353.2h1M369.1 346.5h1M362.8 350.3h1M363.5 346.3h1M362.9 359.9h1M362.0 340.0h1M365.8 356.6h1M362.6 345.3h1M363.7 340.9h1M359.1 343.6h1M358.4 345.1h1M366.9 355.6h1M361.6 346.4h1M360.1 355.5h1M357.9 345.6h1M361.8 354.9h1M359.6 347.7h1M364.9 343.5h1M359.2 344.1h1M356.9 339.9h1M359.3 345.3h1M358.8 340.7h1M351.0 347.0h1M360.1 350.4h1M360.1 341.4h1M361.1 349.7h1M361.2 347.8h1M355.9 350.7h1M362.6 344.9h1M357.0 347.8h1M358.4 346.3h1" stroke="#ff4a1a" stroke-width="1" fill="none" opacity="0.85"/>
<path d="M341.5 380.8h1M363.4 336.0h1M381.5 378.6h1M333.2 371.9h1M337.2 360.7h1M306.0 348.7h1M321.8 377.1h1M341.2 364.2h1M327.2 380.5h1M352.6 348.6h1M349.0 328.5h1M324.6 334.6h1M341.2 376.3h1M324.3 366.3h1M333.2 360.9h1M343.5 376.7h1M346.6 356.1h1M331.4 366.3h1M344.1 349.5h1M316.4 352.2h1M341.1 348.2h1" stroke="#9a9a9a" stroke-width="1" fill="none" opacity="0.85"/>
<line x1="300.20" y1="306.70" x2="300.20" y2="385.40" stroke="#222" stroke-width="1.4"/>
<line x1="300.20" y1="385.40" x2="395.90" y2="385.40" stroke="#222" stroke-width="1.4"/>
<line x1="307.40" y1="385.40" x2="307.40" y2="387.00" stroke="#333" stroke-width="0.7"/>
<line x1="298.60" y1="379.48" x2="300.20" y2="379.48" stroke="#333" stroke-width="0.7"/>
<line x1="311.62" y1="385.40" x2="311.62" y2="387.00" stroke="#333" stroke-width="0.7"/>
<line x1="298.60" y1="376.01" x2="300.20" y2="376.01" stroke="#333" stroke-width="0.7"/>
<line x1="314.60" y1="385.40" x2="314.60" y2="387.00" stroke="#333" stroke-width="0.7"/>
<line x1="298.60" y1="373.55" x2="300.20" y2="373.55" stroke="#333" stroke-width="0.7"/>
<line x1="316.92" y1="385.40" x2="316.92" y2="387.00" stroke="#333" stroke-width="0.7"/>
<line x1="298.60" y1="371.65" x2="300.20" y2="371.65" stroke="#333" stroke-width="0.7"/>
<line x1="318.82" y1="385.40" x2="318.82" y2="387.00" stroke="#333" stroke-width="0.7"/>
<line x1="298.60" y1="370.09" x2="300.20" y2="370.09" stroke="#333" stroke-width="0.7"/>
<line x1="320.42" y1="385.40" x2="320.42" y2="387.00" stroke="#333" stroke-width="0.7"/>
<line x1="298.60" y1="368.77" x2="300.20" y2="368.77" stroke="#333" stroke-width="0.7"/>
<line x1="321.81" y1="385.40" x2="321.81" y2="387.00" stroke="#333" stroke-width="0.7"/>
<line x1="298.60" y1="367.63" x2="300.20" y2="367.63" stroke="#333" stroke-width="0.7"/>
<line x1="323.03" y1="385.40" x2="323.03" y2="387.00" stroke="#333" stroke-width="0.7"/>
<line x1="298.60" y1="366.63" x2="300.20" y2="366.63" stroke="#333" stroke-width="0.7"/>
<line x1="331.33" y1="385.40" x2="331.33" y2="387.00" stroke="#333" stroke-width="0.7"/>
<line x1="298.60" y1="359.80" x2="300.20" y2="359.80" stroke="#333" stroke-width="0.7"/>
<line x1="335.54" y1="385.40" x2="335.54" y2="387.00" stroke="#333" stroke-width="0.7"/>
<line x1="298.60" y1="356.34" x2="300.20" y2="356.34" stroke="#333" stroke-width="0.7"/>
<line x1="338.53" y1="385.40" x2="338.53" y2="387.00" stroke="#333" stroke-width="0.7"/>
<line x1="298.60" y1="353.88" x2="300.20" y2="353.88" stroke="#333" stroke-width="0.7"/>
<line x1="340.85" y1="385.40" x2="340.85" y2="387.00" stroke="#333" stroke-width="0.7"/>
<line x1="298.60" y1="351.97" x2="300.20" y2="351.97" stroke="#333" stroke-width="0.7"/>
<line x1="342.74" y1="385.40" x2="342.74" y2="387.00" stroke="#333" stroke-width="0.7"/>
<line x1="298.60" y1="350.41" x2="300.20" y2="350.41" stroke="#333" stroke-width="0.7"/>
<line x1="344.34" y1="385.40" x2="344.34" y2="387.00" stroke="#333" stroke-width="0.7"/>
<line x1="298.60" y1="349.10" x2="300.20" y2="349.10" stroke="#333" stroke-width="0.7"/>
<line x1="345.73" y1="385.40" x2="345.73" y2="387.00" stroke="#333" stroke-width="0.7"/>
<line x1="298.60" y1="347.96" x2="300.20" y2="347.96" stroke="#333" stroke-width="0.7"/>
<line x1="346.96" y1="385.40" x2="346.96" y2="387.00" stroke="#333" stroke-width="0.7"/>
<line x1="298.60" y1="346.95" x2="300.20" y2="346.95" stroke="#333" stroke-width="0.7"/>
<line x1="355.25" y1="385.40" x2="355.25" y2="387.00" stroke="#333" stroke-width="0.7"/>
<line x1="298.60" y1="340.13" x2="300.20" y2="340.13" stroke="#333" stroke-width="0.7"/>
<line x1="359.47" y1="385.40" x2="359.47" y2="387.00" stroke="#333" stroke-width="0.7"/>
<line x1="298.60" y1="336.66" x2="300.20" y2="336.66" stroke="#333" stroke-width="0.7"/>
<line x1="362.45" y1="385.40" x2="362.45" y2="387.00" stroke="#333" stroke-width="0.7"/>
<line x1="298.60" y1="334.20" x2="300.20" y2="334.20" stroke="#333" stroke-width="0.7"/>
<line x1="364.77" y1="385.40" x2="364.77" y2="387.00" stroke="#333" stroke-width="0.7"/>
<line x1="298.60" y1="332.30" x2="300.20" y2="332.30" stroke="#333" stroke-width="0.7"/>
<line x1="366.67" y1="385.40" x2="366.67" y2="387.00" stroke="#333" stroke-width="0.7"/>
<line x1="298.60" y1="330.74" x2="300.20" y2="330.74" stroke="#333" stroke-width="0.7"/>
<line x1="368.27" y1="385.40" x2="368.27" y2="387.00" stroke="#333" stroke-width="0.7"/>
<line x1="298.60" y1="329.42" x2="300.20" y2="329.42" stroke="#333" stroke-width="0.7"/>
<line x1="369.66" y1="385.40" x2="369.66" y2="387.00" stroke="#333" stroke-width="0.7"/>
<line x1="298.60" y1="328.28" x2="300.20" y2="328.28" stroke="#333" stroke-width="0.7"/>
<line x1="370.88" y1="385.40" x2="370.88" y2="387.00" stroke="#333" stroke-width="0.7"/>
<line x1="298.60" y1="327.28" x2="300.20" y2="327.28" stroke="#333" stroke-width="0.7"/>
<line x1="379.18" y1="385.40" x2="379.18" y2="387.00" stroke="#333" stroke-width="0.7"/>
<line x1="298.60" y1="320.45" x2="300.20" y2="320.45" stroke="#333" stroke-width="0.7"/>
<line x1="383.39" y1="385.40" x2="383.39" y2="387.00" stroke="#333" stroke-width="0.7"/>
<line x1="298.60" y1="316.99" x2="300.20" y2="316.99" stroke="#333" stroke-width="0.7"/>
<line x1="386.38" y1="385.40" x2="386.38" y2="387.00" stroke="#333" stroke-width="0.7"/>
<line x1="298.60" y1="314.53" x2="300.20" y2="314.53" stroke="#333" stroke-width="0.7"/>
<line x1="388.70" y1="385.40" x2="388.70" y2="387.00" stroke="#333" stroke-width="0.7"/>
<line x1="298.60" y1="312.62" x2="300.20" y2="312.62" stroke="#333" stroke-width="0.7"/>
<line x1="390.59" y1="385.40" x2="390.59" y2="387.00" stroke="#333" stroke-width="0.7"/>
<line x1="298.60" y1="311.06" x2="300.20" y2="311.06" stroke="#333" stroke-width="0.7"/>
<line x1="392.19" y1="385.40" x2="392.19" y2="387.00" stroke="#333" stroke-width="0.7"/>
<line x1="298.60" y1="309.75" x2="300.20" y2="309.75" stroke="#333" stroke-width="0.7"/>
<line x1="393.58" y1="385.40" x2="393.58" y2="387.00" stroke="#333" stroke-width="0.7"/>
<line x1="298.60" y1="308.61" x2="300.20" y2="308.61" stroke="#333" stroke-width="0.7"/>
<line x1="394.81" y1="385.40" x2="394.81" y2="387.00" stroke="#333" stroke-width="0.7"/>
<line x1="298.60" y1="307.60" x2="300.20" y2="307.60" stroke="#333" stroke-width="0.7"/>
<line x1="300.20" y1="385.40" x2="300.20" y2="387.90" stroke="#222" stroke-width="0.9"/>
<line x1="297.70" y1="385.40" x2="300.20" y2="385.40" stroke="#222" stroke-width="0.9"/>
<text x="295.60" y="394.40" font-size="8.2">10<tspan dy="-3.2" font-size="5.6">0</tspan></text>
<text transform="translate(297.30,385.40) rotate(-90)" x="-4.2" font-size="7.5">10<tspan dy="-3" font-size="5">0</tspan></text>
<line x1="324.12" y1="385.40" x2="324.12" y2="387.90" stroke="#222" stroke-width="0.9"/>
<line x1="297.70" y1="365.72" x2="300.20" y2="365.72" stroke="#222" stroke-width="0.9"/>
<text x="319.52" y="394.40" font-size="8.2">10<tspan dy="-3.2" font-size="5.6">1</tspan></text>
<text transform="translate(297.30,365.72) rotate(-90)" x="-4.2" font-size="7.5">10<tspan dy="-3" font-size="5">1</tspan></text>
<line x1="348.05" y1="385.40" x2="348.05" y2="387.90" stroke="#222" stroke-width="0.9"/>
<line x1="297.70" y1="346.05" x2="300.20" y2="346.05" stroke="#222" stroke-width="0.9"/>
<text x="343.45" y="394.40" font-size="8.2">10<tspan dy="-3.2" font-size="5.6">2</tspan></text>
<text transform="translate(297.30,346.05) rotate(-90)" x="-4.2" font-size="7.5">10<tspan dy="-3" font-size="5">2</tspan></text>
<line x1="371.97" y1="385.40" x2="371.97" y2="387.90" stroke="#222" stroke-width="0.9"/>
<line x1="297.70" y1="326.38" x2="300.20" y2="326.38" stroke="#222" stroke-width="0.9"/>
<text x="367.37" y="394.40" font-size="8.2">10<tspan dy="-3.2" font-size="5.6">3</tspan></text>
<text transform="translate(297.30,326.38) rotate(-90)" x="-4.2" font-size="7.5">10<tspan dy="-3" font-size="5">3</tspan></text>
<line x1="395.90" y1="385.40" x2="395.90" y2="387.90" stroke="#222" stroke-width="0.9"/>
<line x1="297.70" y1="306.70" x2="300.20" y2="306.70" stroke="#222" stroke-width="0.9"/>
<text x="391.30" y="394.40" font-size="8.2">10<tspan dy="-3.2" font-size="5.6">4</tspan></text>
<text transform="translate(297.30,306.70) rotate(-90)" x="-4.2" font-size="7.5">10<tspan dy="-3" font-size="5">4</tspan></text>
<text x="347.75" y="304.5" font-size="9.6" text-anchor="middle">Data.020</text>
<text transform="translate(285.90,347.55) rotate(-90)" font-size="8.9" text-anchor="middle">CD11b PE</text>
<text x="351.4" y="411" font-size="9.1" text-anchor="middle">CD15 APC</text>
<rect x="300.80" y="434.30" width="95.00" height="78.30" fill="#fff" stroke="#4a4a4a" stroke-width="1.15"/>
<path d="M363.7 465.3h1M370.0 471.7h1M364.5 472.3h1M374.1 501.0h1M372.2 465.8h1M362.7 474.5h1M361.7 487.6h1M370.6 477.0h1M366.6 488.0h1M366.3 472.3h1M360.9 494.9h1M371.1 488.1h1M364.8 496.2h1M365.7 493.3h1M366.4 482.4h1M362.4 448.2h1M373.2 482.4h1M360.3 471.7h1M367.4 487.4h1M377.6 490.0h1M366.5 475.7h1M355.6 471.3h1M371.7 477.7h1M370.0 491.5h1M369.0 501.7h1M364.9 478.6h1M365.5 473.2h1M364.2 470.3h1M369.1 481.8h1M368.4 465.1h1M368.6 468.0h1M357.9 481.1h1M370.8 464.8h1M363.1 471.1h1M367.6 473.0h1M367.6 485.8h1M368.4 499.8h1M366.0 472.9h1M376.0 479.2h1M371.1 507.8h1M370.9 475.8h1M372.2 476.2h1M370.2 464.6h1M366.1 451.1h1M382.6 484.5h1M369.7 466.6h1M364.3 487.4h1M364.0 482.4h1M357.4 465.4h1M361.8 476.7h1M365.0 452.5h1M367.9 456.5h1M364.0 482.2h1M359.6 459.5h1M362.9 461.9h1M380.3 471.5h1M360.2 452.8h1M374.5 484.4h1M365.4 496.0h1M354.1 491.0h1M371.9 474.7h1M361.7 488.5h1M354.4 469.9h1M358.8 470.2h1M364.3 482.4h1M368.5 485.9h1M376.6 472.4h1M363.1 494.2h1M374.9 495.0h1M373.1 494.5h1M361.9 456.0h1M355.0 448.9h1M373.2 468.3h1M369.0 478.6h1M364.4 488.4h1M371.3 492.0h1M362.6 466.7h1M370.5 474.6h1M369.2 496.5h1M377.1 473.7h1M366.2 481.0h1M370.9 486.6h1M373.4 466.9h1M363.3 468.7h1M369.4 461.5h1M368.3 459.4h1M372.7 482.6h1M365.3 459.3h1M373.2 480.9h1M365.4 483.5h1M377.8 491.4h1M366.6 496.1h1M363.9 485.8h1M371.5 475.4h1M379.9 457.4h1M366.2 494.6h1M366.1 471.1h1M360.8 477.6h1M359.0 478.0h1M376.2 468.7h1M365.5 477.8h1M372.9 498.0h1M366.0 486.8h1M368.3 492.6h1M373.2 488.8h1M377.0 499.4h1M361.9 479.0h1M363.3 475.0h1M368.7 498.3h1M364.9 448.6h1M364.5 489.5h1M362.0 488.7h1M367.4 481.5h1M370.8 481.9h1M370.7 468.8h1M367.3 471.7h1M365.8 497.3h1M376.8 477.7h1M366.8 495.1h1M369.4 469.8h1M366.7 469.8h1M368.3 460.1h1M365.0 457.5h1M365.6 487.9h1M357.3 459.2h1M373.5 451.9h1M356.4 454.6h1M368.7 482.4h1M377.3 490.2h1M368.4 484.1h1M365.5 471.1h1M373.2 489.9h1M359.8 487.9h1M362.2 469.0h1M360.7 472.2h1M375.1 486.0h1M368.8 502.2h1M368.1 476.8h1M363.1 478.9h1M358.3 490.5h1M356.1 473.8h1M361.4 487.7h1M365.1 463.3h1M366.8 464.5h1M377.8 471.3h1M360.5 463.2h1M369.7 485.5h1M367.1 484.3h1M371.8 490.2h1M363.1 496.7h1M367.1 481.8h1M363.4 484.3h1M362.1 490.0h1M372.8 489.3h1M366.0 454.5h1M366.6 452.6h1M363.8 457.5h1M358.1 476.3h1M366.5 453.7h1M372.8 471.0h1M383.1 475.0h1M378.1 478.9h1M369.1 482.8h1M364.8 486.1h1M375.7 468.4h1M361.0 477.0h1M364.3 485.8h1M374.4 478.4h1M381.0 493.5h1M374.2 493.1h1M370.8 485.4h1M380.6 475.9h1M377.2 476.0h1M374.6 476.0h1M362.6 441.6h1M375.5 469.1h1M368.0 498.9h1M373.2 476.9h1M369.4 482.7h1M363.1 492.9h1M374.4 499.5h1M356.8 442.4h1M380.9 475.9h1M359.9 480.5h1M373.7 496.6h1M374.3 478.2h1M367.0 474.4h1M373.2 492.1h1M368.7 492.5h1M364.4 502.8h1M368.4 461.2h1M369.1 475.4h1M367.9 480.3h1M368.1 465.6h1M366.9 497.5h1M381.7 502.8h1M371.4 468.0h1M365.6 465.7h1M363.4 466.1h1M363.8 455.8h1M361.5 467.1h1M364.6 454.2h1M371.0 504.9h1M362.1 478.9h1M362.9 474.5h1M360.3 460.4h1M369.3 472.8h1M369.5 475.1h1M376.7 495.6h1M357.9 475.9h1M368.7 477.1h1M371.6 492.4h1M365.0 489.0h1M364.7 466.8h1M372.9 481.5h1M367.9 437.6h1M379.4 497.6h1M369.7 490.6h1M377.0 485.5h1M370.1 466.2h1M368.9 486.1h1M368.6 503.3h1M366.1 466.7h1M374.5 469.9h1M357.5 459.0h1M373.3 482.6h1M373.0 462.6h1M369.9 453.4h1M363.8 468.1h1M372.0 502.6h1M368.3 470.6h1M372.9 503.5h1M367.8 468.9h1M361.7 463.7h1M370.6 471.1h1M369.9 472.3h1M379.6 492.4h1M364.2 457.2h1M369.3 463.5h1M368.7 482.2h1M361.7 473.0h1M369.9 456.1h1M368.0 476.3h1M373.3 482.3h1M371.4 503.5h1M360.6 489.0h1M363.4 474.5h1M373.3 469.7h1M368.8 480.3h1M367.1 480.1h1M364.1 476.7h1M364.6 472.4h1M357.4 478.3h1M368.1 479.8h1M362.9 485.3h1M370.6 466.1h1M369.3 469.2h1M360.0 471.3h1M361.6 460.7h1M360.3 474.0h1M371.4 497.1h1M374.5 466.0h1M365.8 490.2h1M364.9 465.9h1M362.0 489.6h1M368.6 494.0h1M369.3 489.8h1M372.8 484.6h1M367.1 496.2h1M365.3 504.5h1M372.7 482.3h1M373.2 478.5h1M364.5 458.3h1M370.5 491.8h1M366.7 464.7h1M363.2 482.4h1M368.2 496.5h1M366.6 465.8h1M365.8 470.9h1M366.5 482.4h1M371.2 486.3h1M365.5 495.5h1M369.9 479.7h1M357.4 484.7h1M367.8 465.2h1M369.7 486.4h1M375.5 480.3h1M363.4 475.3h1M375.0 497.7h1M364.0 477.7h1M370.3 499.9h1M373.5 467.6h1M364.3 460.5h1M368.2 487.4h1M369.6 472.1h1M364.5 463.8h1M363.9 489.4h1M370.2 497.0h1M365.6 478.6h1M367.0 487.0h1M375.8 480.9h1M362.7 496.6h1M368.6 496.8h1M369.6 482.9h1M365.7 483.3h1M375.2 485.6h1M367.0 471.8h1M376.0 488.5h1M370.5 483.1h1M367.5 485.6h1M367.5 483.7h1M354.7 476.9h1M366.4 455.8h1M372.4 488.1h1M366.9 480.7h1M367.3 486.6h1M376.5 477.6h1M362.0 461.9h1M357.2 477.7h1M371.5 462.8h1M368.6 485.7h1M365.7 496.6h1M372.0 503.4h1M372.9 470.2h1M370.4 485.4h1M358.0 479.1h1M363.6 452.4h1M365.9 491.9h1M359.8 481.5h1M364.6 459.8h1M373.7 487.0h1M366.4 494.9h1M372.0 475.9h1M364.2 466.0h1M368.0 478.7h1M372.3 489.5h1M354.4 475.3h1M375.3 487.9h1M371.1 484.9h1M375.7 483.2h1M366.6 472.2h1M364.7 466.2h1M361.7 468.9h1M363.2 453.4h1M353.7 494.3h1M370.5 494.9h1M368.2 469.6h1M367.0 475.4h1M372.0 496.5h1M367.3 483.4h1M362.5 477.1h1M363.4 477.6h1M369.1 493.2h1M376.6 486.6h1M366.4 492.1h1M361.1 501.5h1M357.1 499.0h1M365.5 466.9h1M354.7 471.3h1M366.0 459.1h1M367.6 455.9h1M377.7 491.7h1M368.1 481.6h1M382.1 470.7h1M373.9 493.1h1M374.6 481.6h1M368.4 453.1h1M353.9 473.2h1M366.0 493.1h1M364.7 484.6h1M375.8 471.7h1M370.7 482.2h1M369.4 457.4h1M369.0 469.7h1M367.6 465.0h1M361.0 486.7h1M363.6 483.3h1M372.6 494.0h1M384.7 476.2h1M367.6 489.4h1M371.3 489.3h1M365.3 496.6h1M369.4 504.0h1M363.0 474.3h1M377.8 472.8h1M362.4 481.8h1M368.9 476.3h1M368.2 491.0h1M384.5 478.2h1M368.2 476.6h1M370.5 462.3h1M377.1 470.8h1M375.0 493.2h1M364.9 472.3h1M367.5 473.5h1M364.2 474.5h1M368.0 479.8h1M372.1 472.8h1M367.1 492.4h1M374.7 505.6h1M381.0 492.4h1M367.6 459.8h1M376.6 489.1h1M375.2 487.7h1M359.4 460.1h1M358.0 487.8h1M365.7 471.7h1M373.7 482.5h1M363.9 482.4h1M368.1 465.8h1M371.3 485.6h1M368.9 480.2h1M364.7 460.7h1M363.4 489.3h1M372.7 483.4h1M372.7 508.5h1M360.7 476.5h1M356.6 466.0h1M367.9 454.9h1M369.6 478.1h1M353.3 460.0h1M373.0 454.2h1M363.0 494.2h1M369.1 479.7h1M362.2 466.5h1M374.0 490.1h1M371.7 489.8h1M371.0 479.6h1M377.0 475.0h1M371.5 481.0h1M364.2 478.2h1M366.1 478.4h1M370.8 467.7h1M374.0 504.0h1M363.9 478.1h1M368.2 459.3h1M365.0 486.9h1M363.6 480.6h1M371.9 496.9h1M378.5 482.9h1M365.5 449.9h1M367.1 482.5h1M375.1 478.0h1M363.2 471.1h1M377.6 500.1h1M373.8 484.4h1M366.8 480.4h1M369.7 476.9h1M358.5 474.6h1M369.5 476.7h1M371.7 476.8h1M374.3 481.9h1M367.7 480.9h1M374.5 485.7h1M362.7 474.3h1M368.4 496.7h1M366.6 484.4h1M376.5 480.7h1M364.9 501.9h1M346.8 463.9h1M378.2 485.2h1M367.3 482.7h1M365.0 490.5h1M377.2 486.3h1M374.9 494.2h1M365.4 473.0h1M376.5 465.8h1M370.7 495.0h1M369.5 478.0h1M369.7 470.2h1M371.8 485.0h1M354.7 482.1h1M360.2 477.9h1M376.9 455.6h1M366.1 472.9h1M362.9 475.9h1M361.6 501.3h1M366.0 485.6h1M375.6 494.3h1M360.2 481.3h1M375.2 488.0h1M368.0 487.5h1M365.3 487.6h1M370.7 481.6h1M362.2 476.8h1M362.8 476.8h1M371.3 462.6h1M364.9 477.3h1M369.3 471.8h1M363.5 475.3h1M369.5 482.1h1M360.2 468.2h1M369.4 495.6h1M374.0 493.5h1M366.6 478.0h1M368.1 500.1h1M362.7 474.5h1M362.6 477.6h1M361.4 481.4h1M371.0 485.0h1M365.2 482.0h1M381.9 493.2h1M363.5 477.7h1M368.3 487.1h1M371.9 479.9h1M369.1 460.6h1M358.9 466.5h1M375.2 472.3h1M369.2 470.1h1M369.4 466.2h1M375.1 481.6h1M368.4 480.9h1M365.7 454.4h1M370.8 488.5h1M371.5 480.4h1M365.0 490.6h1M370.2 477.3h1M363.3 482.8h1M365.4 453.0h1M378.8 486.2h1M364.1 484.8h1M368.3 484.4h1M358.6 471.3h1M360.2 455.9h1M367.4 473.2h1M369.3 478.6h1M371.8 503.0h1M366.7 496.8h1M363.5 469.8h1M373.1 454.0h1M372.5 481.1h1M374.2 500.2h1M358.5 501.6h1M372.4 494.5h1M372.7 470.4h1M364.1 479.5h1M373.5 451.9h1M362.6 445.0h1M375.0 498.4h1M365.1 470.7h1M368.0 470.4h1M360.6 478.7h1M371.0 458.5h1M358.8 463.1h1M368.4 509.1h1M359.6 462.3h1M365.4 488.9h1M354.7 478.7h1M366.6 470.3h1M376.0 477.5h1M352.8 487.5h1M359.2 458.1h1M367.3 474.3h1M359.7 487.8h1M367.1 448.6h1M352.3 467.4h1M363.0 466.1h1M358.4 463.5h1M363.7 492.1h1M369.4 481.7h1M379.9 471.1h1M379.0 458.0h1M364.0 465.8h1M374.4 480.8h1M367.2 487.4h1M373.4 472.3h1M368.0 498.4h1M373.5 493.3h1M362.1 482.4h1M367.3 461.3h1M358.7 442.6h1M359.3 485.2h1M380.5 497.6h1M364.7 464.5h1M364.4 477.0h1M369.3 471.3h1M371.9 499.7h1M368.7 479.4h1M369.7 468.7h1M361.2 472.7h1M358.8 488.4h1M364.4 472.0h1M358.9 477.9h1M364.8 466.1h1M368.4 486.1h1M362.6 476.3h1M352.3 481.1h1M374.6 485.7h1M362.3 478.9h1M366.9 496.1h1M369.2 495.9h1M364.9 468.6h1M365.3 469.6h1M367.4 484.9h1M366.7 472.4h1M368.7 483.3h1M372.2 484.7h1M372.4 481.3h1M374.1 477.4h1M373.3 482.7h1M359.5 477.2h1M367.0 472.5h1M368.4 483.1h1M363.9 498.4h1M362.9 455.8h1M366.5 469.6h1M384.2 484.2h1M359.0 462.5h1M359.6 479.0h1M373.2 467.4h1M367.5 477.6h1M360.8 494.1h1M367.8 479.9h1M362.9 482.7h1M366.3 472.9h1M365.4 488.4h1M357.5 488.1h1M373.0 483.0h1M364.2 467.0h1M369.4 478.0h1M371.4 493.4h1M366.2 475.6h1M372.6 481.0h1M365.4 482.1h1M362.8 474.8h1M363.3 467.7h1M370.7 470.3h1M365.6 463.2h1M369.6 462.7h1M375.3 481.0h1M363.4 486.1h1M364.5 479.4h1M361.1 472.7h1M367.6 474.3h1M381.7 478.7h1M367.9 476.2h1M366.2 477.4h1M367.5 474.5h1M371.3 475.2h1M364.0 484.5h1M369.5 478.1h1M366.0 475.1h1M370.9 476.6h1M365.3 481.0h1M374.4 476.6h1M369.3 465.8h1M387.2 471.8h1M369.4 486.1h1M359.4 478.4h1M377.5 470.1h1M367.1 483.1h1M368.0 478.2h1M366.4 466.4h1M361.0 486.0h1M352.7 477.9h1M368.7 456.7h1M380.4 491.9h1M364.6 462.4h1M372.8 473.2h1M369.0 482.3h1M366.7 486.2h1M368.1 490.7h1M371.2 491.8h1M362.3 482.3h1M356.2 460.7h1M357.5 486.4h1M369.0 495.6h1M366.8 461.4h1M365.4 463.0h1M373.6 474.0h1M374.7 488.6h1M373.5 471.5h1M368.3 477.4h1M370.2 483.6h1M368.4 461.3h1M367.0 458.3h1M368.1 477.4h1M370.8 464.0h1M372.0 475.7h1M362.5 470.0h1M373.4 478.3h1M362.0 462.6h1M365.3 472.4h1M372.6 471.7h1M369.4 487.1h1M375.1 487.8h1M362.7 471.4h1M380.6 485.0h1M359.5 449.7h1M365.2 488.7h1M370.9 488.9h1M362.7 463.3h1M363.9 483.8h1M370.7 485.3h1M369.3 474.2h1M368.2 473.7h1M373.2 464.8h1M373.4 474.0h1M380.7 503.4h1M368.6 478.0h1M369.4 477.5h1M356.5 469.8h1M368.8 482.3h1M380.7 495.7h1M360.0 462.3h1M375.7 486.9h1M368.4 479.9h1M376.1 453.5h1M369.4 469.2h1M363.8 483.4h1M377.4 487.6h1M368.5 477.6h1M374.5 485.6h1M364.9 489.9h1M362.9 467.3h1M355.1 446.2h1M363.9 476.6h1M370.8 467.1h1M372.9 481.8h1M365.3 476.7h1M367.3 467.4h1M359.4 456.8h1M373.6 484.9h1M361.6 478.6h1M365.1 486.1h1M362.4 477.7h1M379.6 499.5h1M359.8 468.9h1M371.1 477.1h1M370.2 493.9h1M366.8 462.7h1M359.9 483.1h1M365.7 475.4h1M366.9 466.0h1M375.4 490.4h1M362.8 467.8h1M367.5 487.2h1M378.8 472.0h1M358.9 447.2h1M365.8 468.0h1M370.7 499.6h1M368.1 474.7h1M369.2 474.2h1M369.5 510.4h1M367.0 475.8h1M366.6 451.7h1M357.2 479.3h1M368.1 474.8h1M371.7 466.2h1M358.6 472.3h1M368.8 488.4h1M359.5 481.5h1M359.5 462.1h1M366.7 476.5h1M378.9 494.0h1M367.6 480.0h1M372.1 501.7h1M367.3 491.3h1M366.1 477.3h1M368.3 469.4h1M365.5 468.2h1M379.9 481.5h1M364.2 454.7h1M367.3 486.7h1M372.5 488.6h1M366.6 484.7h1M366.1 475.8h1M366.7 465.9h1M360.6 466.1h1M370.7 460.1h1M361.9 472.1h1M367.2 488.5h1M367.6 482.6h1M369.6 482.6h1M371.0 450.2h1M362.2 492.0h1M368.5 489.5h1M374.9 478.6h1M375.1 489.7h1M377.8 502.1h1M359.7 472.0h1M360.5 490.2h1M365.1 474.3h1M373.5 468.4h1M367.3 482.5h1M367.5 489.7h1M381.2 491.3h1M366.6 476.8h1M359.8 494.3h1M359.7 463.7h1M364.4 458.3h1M368.3 482.0h1M372.6 477.1h1M376.6 490.4h1M367.6 476.5h1M373.1 496.1h1M368.0 495.0h1M364.3 478.3h1M370.0 477.6h1M377.2 471.0h1M369.2 459.2h1M367.1 464.6h1M366.5 468.7h1M363.7 479.9h1M361.4 463.9h1M372.1 477.8h1M362.0 499.6h1M366.2 484.3h1M369.5 478.1h1M371.6 487.7h1M376.0 476.5h1M368.3 481.7h1M364.1 493.3h1M373.5 465.3h1M357.9 477.4h1M375.8 487.0h1M359.2 469.9h1M369.5 477.2h1M361.6 471.7h1M371.6 484.1h1M358.5 459.7h1M363.7 474.7h1M370.9 480.3h1M373.5 500.6h1M361.4 490.9h1M371.8 468.7h1M371.7 459.0h1M369.5 484.7h1M361.3 477.7h1M362.6 465.3h1M373.2 471.7h1M362.2 466.1h1M364.9 456.6h1M373.4 477.0h1M374.5 501.1h1M367.0 467.4h1M367.9 481.6h1M367.2 464.5h1M364.7 463.3h1M353.4 476.7h1M380.1 483.6h1M363.6 474.1h1M362.7 490.6h1M368.9 478.1h1M366.1 471.2h1M362.8 468.2h1M364.4 487.0h1M362.8 471.7h1M366.7 484.6h1M367.6 467.3h1M353.4 455.1h1M378.1 479.9h1M368.4 471.7h1M365.4 460.9h1M371.1 479.9h1M376.3 467.2h1M373.6 464.9h1M369.6 464.1h1M381.9 492.5h1M358.7 478.1h1M365.7 489.1h1M362.3 465.4h1M369.8 466.2h1M371.7 479.8h1M367.4 489.0h1M375.6 485.7h1M372.5 500.8h1M362.2 475.8h1M366.9 473.3h1M361.1 482.5h1M365.8 473.4h1M363.2 471.4h1M363.3 483.3h1M363.0 484.9h1M362.3 481.8h1M374.1 492.0h1M366.1 495.4h1M358.0 463.2h1M372.9 474.5h1M372.8 486.3h1M370.9 462.1h1M366.4 487.7h1M358.2 447.6h1M375.8 475.1h1M367.8 480.9h1M379.3 496.3h1M371.8 482.3h1M366.6 494.3h1M366.3 483.6h1M368.3 465.8h1M380.0 490.1h1M375.4 486.7h1M359.4 477.4h1M368.5 470.0h1M376.7 469.2h1M369.3 493.5h1M374.9 499.1h1M370.3 498.7h1M368.2 488.2h1M373.9 477.4h1M372.5 501.9h1M363.8 482.8h1M370.0 475.3h1M362.9 463.3h1M366.5 464.4h1M371.5 489.1h1M361.9 475.8h1M364.5 458.4h1M369.6 497.4h1M365.3 477.9h1M371.1 463.4h1M361.5 488.5h1M372.4 461.8h1M365.7 467.5h1M367.4 465.3h1M363.0 469.2h1M375.6 462.9h1M374.5 510.4h1M372.3 486.2h1M367.4 478.5h1M371.3 473.2h1M360.8 464.0h1M361.9 488.4h1M369.8 498.7h1M375.4 479.5h1M368.5 477.7h1M369.4 470.6h1M364.6 487.8h1M374.5 485.7h1M364.9 484.9h1M377.2 488.8h1M357.1 474.0h1M366.5 469.6h1M377.0 493.5h1M365.9 487.5h1M369.5 487.9h1M356.1 467.3h1M361.3 492.4h1M382.6 491.9h1M363.4 479.6h1M362.9 471.1h1M374.1 482.3h1M364.5 469.3h1M372.6 469.3h1M365.4 491.4h1M368.1 474.4h1M361.2 456.6h1M360.7 481.4h1M368.6 481.0h1M372.2 470.5h1M368.1 466.3h1M373.2 474.2h1M369.4 468.1h1M375.3 485.0h1M363.2 499.9h1M361.9 478.5h1M377.3 489.3h1M368.5 474.4h1M371.7 494.5h1M358.8 478.3h1M371.7 468.6h1M366.3 459.9h1M368.3 481.1h1M365.5 489.0h1M368.5 496.1h1M366.9 491.6h1M366.6 482.0h1M365.9 500.3h1M374.4 469.1h1M369.4 488.5h1M360.4 476.3h1M369.2 474.7h1M375.4 492.6h1M373.0 496.2h1M364.5 469.8h1M371.7 497.5h1M362.4 497.5h1M362.5 473.0h1M364.2 482.4h1M364.6 461.9h1M359.8 450.3h1M362.6 484.8h1M363.0 478.5h1M368.4 473.8h1M371.2 483.9h1M374.5 467.5h1M365.1 483.1h1M368.6 495.6h1M376.7 502.3h1M365.1 477.6h1M361.9 468.7h1M374.6 473.7h1M367.9 480.9h1M367.2 484.2h1M357.2 464.1h1M369.5 496.8h1M381.8 497.1h1M372.8 481.4h1M366.5 474.2h1M368.2 479.7h1M370.8 497.8h1M370.6 489.9h1M379.4 484.9h1M371.0 457.9h1M367.8 470.5h1M364.7 474.7h1M350.5 463.9h1M377.5 505.1h1M357.3 477.4h1M378.2 485.8h1M359.6 485.8h1M368.4 471.7h1M374.0 476.7h1M362.4 466.9h1M368.8 445.7h1M367.0 487.2h1M368.9 454.7h1M357.8 461.6h1M355.8 455.1h1M359.8 467.4h1M374.3 492.0h1M364.9 480.0h1M360.4 479.1h1M363.5 484.4h1M368.6 471.5h1M358.2 468.3h1M360.5 493.3h1M358.5 462.8h1M365.4 469.1h1M357.9 437.0h1M377.6 495.4h1M369.3 489.9h1M365.2 481.7h1M366.1 456.2h1M371.9 492.1h1M372.6 477.1h1M374.8 481.4h1M356.8 474.5h1M373.9 483.8h1M367.4 467.9h1M354.1 490.4h1M377.7 509.6h1M360.8 476.8h1M383.1 454.4h1M371.0 473.3h1M364.5 469.9h1M363.9 487.8h1M366.5 477.5h1M373.7 483.8h1M375.3 474.6h1M364.5 472.4h1M366.5 479.6h1M353.4 491.3h1M351.5 457.1h1M375.6 496.0h1M368.4 468.8h1M362.1 455.3h1M374.8 497.2h1M369.8 506.9h1M371.0 493.4h1M370.0 482.3h1M377.1 487.2h1M370.1 478.8h1M369.3 476.8h1M371.7 466.8h1M371.3 487.4h1M364.1 478.9h1M359.5 467.1h1M371.3 467.1h1M360.8 485.5h1M373.3 464.4h1M376.5 499.7h1M368.8 507.1h1M365.4 485.0h1M375.5 507.5h1M371.2 484.0h1M366.3 469.8h1M360.5 449.2h1M370.4 464.9h1M372.8 496.3h1M359.7 466.5h1M368.4 489.1h1M361.6 476.6h1M370.0 482.1h1M364.8 490.6h1M360.2 480.1h1M368.9 482.1h1M372.6 473.4h1M374.3 460.9h1M372.6 484.0h1M365.1 483.6h1M372.6 470.9h1M370.2 478.7h1M372.4 473.9h1M362.6 489.1h1M378.8 504.1h1M372.2 489.9h1M373.2 477.8h1M365.8 464.9h1M374.1 479.4h1M363.2 463.6h1M373.3 474.2h1M372.1 493.7h1M371.4 493.2h1M355.7 482.8h1M360.0 468.5h1M369.8 485.0h1M366.1 464.9h1M370.2 477.0h1M362.9 472.4h1M369.4 495.2h1M365.5 493.1h1M365.8 476.2h1M370.0 465.4h1M366.5 461.0h1M367.2 450.2h1M374.5 478.2h1M368.8 505.8h1M360.9 480.1h1M367.4 472.7h1M372.6 478.4h1M374.7 484.3h1M367.3 469.7h1M364.8 465.3h1M361.3 443.1h1M365.5 479.7h1M357.5 475.0h1M363.2 470.7h1M371.0 481.0h1M366.2 472.9h1M363.7 484.0h1M381.6 489.8h1M366.1 483.9h1M375.0 480.3h1M363.3 496.3h1M364.6 483.4h1M368.5 472.5h1M367.6 485.7h1M364.9 467.7h1M375.4 463.5h1M367.8 457.7h1M368.2 479.9h1M362.9 465.4h1M364.1 474.6h1M368.0 475.2h1M369.3 472.2h1M366.5 488.4h1M369.8 487.8h1M369.2 470.7h1M368.5 493.1h1M368.1 454.0h1M363.8 492.3h1M370.1 476.1h1M366.9 446.9h1M373.9 486.8h1M365.2 498.6h1M382.5 488.3h1M360.7 449.4h1M365.3 487.9h1M365.4 454.2h1M364.0 481.0h1M373.3 480.4h1M372.2 490.7h1M363.2 462.3h1M356.6 449.5h1M371.0 479.6h1M367.5 477.7h1M356.1 453.8h1M361.7 463.6h1M378.4 468.1h1M364.0 491.9h1M363.0 469.7h1M363.3 470.7h1M369.5 450.2h1M372.5 486.0h1M370.3 478.7h1M355.6 475.0h1M367.9 479.3h1M352.0 462.8h1M364.2 493.5h1M363.1 475.7h1M362.8 501.0h1M355.6 493.8h1M366.7 490.1h1M362.7 448.3h1M358.2 478.2h1M368.0 482.3h1M360.6 485.2h1M360.3 468.8h1M364.7 479.7h1M372.8 463.2h1M372.3 469.6h1M365.2 489.2h1M364.4 453.5h1M375.4 485.3h1M370.7 482.3h1M361.9 470.1h1M366.1 460.0h1M358.4 485.3h1M369.9 473.4h1M380.2 497.8h1M364.8 473.4h1M367.7 471.4h1M363.5 489.9h1M363.7 476.0h1M362.8 468.1h1M381.3 500.0h1M361.4 498.5h1M381.6 479.5h1M364.4 483.9h1M367.3 485.8h1M368.0 472.3h1M367.6 484.2h1M361.7 478.5h1M371.4 476.5h1M366.7 479.2h1M370.6 457.8h1M368.7 461.9h1M371.2 472.3h1M368.0 491.8h1M349.2 440.0h1M360.1 465.9h1M379.3 479.7h1M368.2 486.7h1M369.5 495.7h1M371.5 488.7h1M368.7 451.6h1M369.5 501.3h1M372.2 487.5h1M364.8 474.8h1M366.2 491.6h1M371.1 470.1h1M378.4 488.6h1M358.8 471.6h1M361.4 493.7h1M365.4 472.8h1M371.6 500.4h1M364.7 462.2h1M360.4 497.1h1M370.4 459.8h1M362.2 480.6h1M367.5 475.2h1M361.8 463.5h1M372.6 496.7h1M369.9 492.7h1M368.1 470.4h1M367.6 465.7h1M365.3 474.3h1M361.7 475.4h1M362.2 497.3h1M361.0 482.1h1M368.4 490.0h1M370.7 480.0h1M369.5 482.5h1M370.4 482.5h1M364.9 472.3h1M363.1 475.6h1M373.8 469.7h1M373.9 457.7h1M369.9 470.6h1M366.6 478.2h1M378.4 483.7h1M367.2 476.5h1M377.8 469.1h1M376.5 492.2h1M357.1 480.3h1M358.7 486.0h1M371.7 469.0h1M362.5 471.1h1M366.9 449.7h1M365.8 483.9h1M359.4 484.3h1M366.6 465.7h1M369.4 489.5h1M362.2 462.5h1M366.8 493.1h1M370.6 480.9h1M366.5 470.9h1M360.4 455.3h1M371.2 477.8h1M367.8 495.3h1M367.9 484.2h1M361.5 468.5h1M367.5 477.2h1M381.2 465.6h1M371.2 477.0h1M382.5 471.8h1M360.7 449.4h1M374.6 479.2h1M361.9 478.2h1M374.7 497.6h1M365.6 474.8h1M367.9 474.5h1M364.5 455.6h1M368.9 469.6h1" stroke="#ff3c14" stroke-width="1" fill="none" opacity="0.85"/>
<path d="M365.0 476.1h1M371.3 482.2h1M365.0 468.7h1M369.9 470.0h1M365.5 481.6h1M370.5 469.4h1M368.5 473.8h1M367.5 473.3h1M372.1 484.5h1M373.0 472.1h1M370.3 485.3h1M367.0 475.9h1M369.4 474.8h1M365.4 481.9h1M366.9 464.3h1M361.7 476.3h1M365.8 472.8h1M369.1 467.3h1M363.9 481.0h1M368.1 475.4h1M368.7 477.9h1M371.7 470.3h1M365.1 476.6h1M366.2 462.1h1M371.3 475.2h1M367.3 470.6h1M367.0 463.2h1M366.6 474.7h1M365.2 473.4h1M369.6 468.6h1M368.7 464.7h1M366.6 481.0h1M365.7 471.0h1M366.6 466.2h1M367.8 466.3h1M364.6 470.6h1M372.0 474.0h1M367.6 478.5h1M364.9 473.7h1M370.8 472.3h1M373.2 478.3h1M373.9 464.8h1M373.9 476.0h1M372.7 473.8h1M364.8 473.6h1M366.7 475.6h1M370.3 473.5h1M370.7 478.3h1M363.1 479.5h1M365.6 480.6h1M367.0 474.3h1M371.5 466.9h1M366.5 467.7h1M360.6 482.4h1M371.8 463.7h1M371.2 471.3h1M366.8 473.6h1M366.0 477.9h1M369.3 470.4h1M363.5 467.2h1M371.7 463.9h1M372.6 485.2h1M366.7 469.9h1M368.5 467.8h1M368.2 479.9h1M357.2 473.6h1M364.3 475.6h1M369.7 472.3h1M371.1 474.5h1M360.6 482.9h1M374.3 464.5h1M366.0 476.7h1M368.6 472.2h1M367.4 480.1h1M363.9 473.8h1M370.1 482.6h1M363.9 471.1h1M371.6 473.8h1M375.3 487.7h1M367.1 471.7h1M370.2 468.1h1M370.6 469.4h1M370.1 475.9h1M372.7 468.2h1M364.4 472.8h1M369.3 473.8h1M372.0 474.4h1M376.6 481.3h1M372.9 473.5h1M375.3 458.5h1M373.1 473.9h1M370.6 472.7h1M366.5 477.9h1M358.5 470.7h1M368.1 477.5h1M373.0 472.8h1M369.5 476.2h1M369.2 462.7h1M372.1 472.4h1M364.4 471.1h1M375.2 472.7h1M373.2 468.9h1M361.6 473.1h1M377.0 477.9h1M365.0 476.9h1M365.6 472.8h1M370.7 491.4h1M371.6 459.9h1M365.1 476.9h1M368.5 470.5h1M366.9 484.5h1M372.1 469.6h1M365.0 470.3h1M371.6 473.3h1M367.4 475.0h1M373.6 482.8h1M364.6 464.5h1M367.9 468.6h1M368.4 475.2h1M370.3 474.6h1M361.0 466.4h1M373.1 475.9h1M367.3 475.3h1M367.6 477.5h1M367.4 466.3h1M369.9 478.8h1M367.0 478.3h1M373.7 477.5h1M367.0 472.2h1M369.1 481.6h1M367.3 467.2h1M370.0 482.1h1M371.0 485.4h1M372.5 475.8h1M372.5 470.6h1M367.9 473.7h1M367.1 476.6h1M365.6 467.5h1M369.8 477.4h1M371.3 474.8h1M367.4 468.9h1M365.5 484.0h1M367.9 482.0h1M369.6 477.4h1M369.2 472.8h1M366.4 480.0h1M371.8 468.6h1M368.2 471.9h1M367.3 473.2h1M368.5 463.5h1M364.1 471.5h1M369.6 470.9h1M366.9 484.7h1M367.2 482.3h1M367.9 477.1h1M369.3 478.8h1M363.4 472.0h1M363.6 480.2h1M375.0 470.7h1M369.1 475.8h1M369.7 475.1h1M370.0 472.3h1M367.7 473.4h1M371.0 477.1h1M372.1 476.4h1M374.8 485.5h1M365.0 475.0h1M369.2 481.2h1M367.6 479.0h1M365.0 479.5h1M364.2 475.4h1M368.0 486.4h1M373.3 462.0h1M373.7 480.2h1M370.2 467.8h1M368.3 482.3h1M368.2 476.8h1M373.7 472.7h1M369.1 469.9h1M369.1 478.0h1M362.1 479.5h1M364.9 481.3h1M367.8 473.3h1M368.3 477.3h1M371.3 472.0h1M366.8 486.8h1M366.9 470.6h1M364.7 467.3h1M371.4 471.7h1M366.1 471.5h1M366.2 473.9h1M374.2 490.5h1M363.1 474.7h1M365.8 471.2h1M361.4 469.3h1M366.8 471.4h1M364.5 470.5h1M365.9 476.6h1M365.3 461.1h1M373.0 479.1h1M368.3 467.7h1M372.0 477.7h1M369.8 471.6h1M362.6 471.8h1M368.6 479.8h1M368.1 476.8h1M367.1 469.2h1M364.5 476.3h1M376.6 483.4h1M372.0 460.9h1M370.9 471.8h1M368.2 475.4h1M369.2 479.6h1M370.0 483.1h1M368.3 465.9h1M366.9 474.4h1M375.6 467.2h1M368.7 474.0h1M370.8 464.8h1M372.6 473.7h1M366.7 484.4h1M372.8 470.2h1M370.0 480.8h1M367.8 478.7h1M368.9 474.3h1M371.4 461.9h1M365.7 479.0h1M369.9 471.2h1M368.9 478.7h1M370.3 471.8h1M365.5 475.2h1M367.6 472.6h1M364.4 478.3h1M367.6 469.7h1M377.0 474.6h1M372.5 473.4h1M373.3 479.0h1M370.8 484.6h1M367.7 468.8h1M376.2 483.2h1M377.1 481.9h1M366.0 478.5h1M369.9 475.0h1M371.8 479.9h1M372.9 469.3h1M369.8 471.2h1M371.3 478.3h1M367.0 477.5h1M372.1 473.7h1M364.9 471.8h1M368.9 459.5h1M368.9 469.1h1M367.4 468.1h1M372.1 472.2h1M364.8 469.2h1M371.7 475.0h1M370.6 469.0h1M370.6 474.5h1M369.2 463.4h1M369.6 472.9h1M368.4 470.4h1M368.8 461.5h1M369.5 482.4h1M370.0 474.8h1M366.5 482.7h1M365.0 465.7h1M369.1 470.4h1M366.3 479.2h1M371.9 468.3h1M366.2 480.7h1M368.2 478.8h1M368.4 471.4h1M362.9 469.2h1M366.2 465.9h1M370.1 476.0h1M366.1 479.4h1M363.8 474.1h1M372.3 468.4h1M375.3 473.4h1M367.1 478.3h1M361.6 470.1h1M372.2 482.0h1M376.0 495.6h1M365.2 476.2h1M367.4 463.7h1M363.7 474.1h1M372.1 478.4h1M367.9 468.4h1M372.3 465.9h1M364.8 468.9h1M365.2 462.5h1M372.4 463.9h1M364.5 478.0h1M368.5 468.9h1M365.0 474.9h1M371.0 482.3h1M359.0 486.3h1M371.3 464.7h1M367.8 475.5h1M370.5 467.3h1M373.5 471.1h1M372.0 480.9h1M369.9 463.1h1M375.2 484.8h1M372.8 481.7h1M373.9 469.6h1M370.3 485.6h1M368.3 477.4h1M367.7 475.4h1M368.2 477.1h1M366.6 465.1h1M369.5 476.7h1M372.2 483.0h1M368.6 482.1h1M366.3 480.7h1M371.9 470.2h1M366.0 475.7h1M373.9 480.0h1M373.4 478.9h1M372.0 479.9h1M362.2 469.4h1M357.4 472.2h1M364.8 470.9h1M366.3 474.9h1M365.6 474.2h1M374.0 472.7h1M362.6 468.0h1M371.5 482.7h1M367.3 474.0h1M367.5 476.1h1M367.7 480.0h1M370.7 470.4h1M370.7 469.4h1M366.8 467.1h1M366.3 475.3h1M368.4 480.1h1M361.8 475.5h1M369.0 477.6h1M369.6 462.2h1M366.2 476.2h1M363.8 467.6h1M368.8 474.3h1M375.8 472.9h1M369.3 474.0h1M369.8 464.6h1M365.6 479.8h1M366.7 486.8h1M367.4 475.0h1M358.6 471.8h1M361.0 479.3h1M364.8 481.7h1M377.5 471.0h1M367.9 468.3h1M368.1 466.6h1M374.2 476.6h1M368.5 458.4h1M371.9 477.7h1M369.0 469.5h1M370.0 485.4h1M364.5 486.9h1M368.8 469.9h1M371.0 468.0h1M369.9 467.4h1M365.7 465.1h1M370.8 475.7h1M363.4 468.4h1M365.2 477.5h1M373.3 476.6h1M363.4 478.1h1M372.7 481.7h1M367.2 470.6h1M369.9 482.8h1M372.6 476.8h1M378.7 477.5h1M369.3 482.6h1M367.7 475.0h1M364.6 481.6h1M366.7 479.7h1M372.3 463.2h1M369.8 476.9h1M368.7 472.5h1M373.5 470.5h1M368.7 482.6h1M369.9 474.4h1M369.7 479.9h1M368.0 471.6h1M368.4 476.1h1M373.2 472.1h1M372.1 477.0h1M371.8 469.1h1M368.0 474.6h1M366.6 470.3h1M369.3 471.6h1M376.0 474.0h1M369.8 477.4h1M366.1 473.9h1M370.2 469.6h1M374.6 465.3h1M363.7 484.0h1M372.8 481.8h1M371.3 481.3h1M366.1 484.4h1M371.1 471.8h1M363.9 474.8h1M372.5 479.5h1M370.3 473.2h1M361.5 480.3h1M365.9 471.2h1M364.6 473.6h1M369.7 466.9h1M364.6 485.5h1M372.3 484.2h1M373.6 480.6h1M372.9 472.0h1M366.1 465.4h1M371.7 476.5h1M362.3 466.3h1M370.0 477.0h1M368.7 478.7h1M372.9 466.7h1M369.6 479.2h1M369.8 487.7h1M368.5 483.7h1M364.9 457.0h1M368.1 458.0h1M363.0 481.7h1M368.0 478.9h1M370.3 480.0h1M371.0 468.6h1M372.1 474.4h1M368.3 486.3h1M368.6 484.5h1M369.6 478.3h1M369.4 470.6h1M371.0 471.9h1M365.6 468.2h1M370.9 479.9h1M371.0 478.1h1M370.7 480.9h1M366.3 480.2h1M366.4 477.8h1M368.2 467.2h1M369.1 478.6h1M371.4 485.4h1M369.4 477.2h1M369.2 466.6h1M375.2 474.8h1M368.6 469.9h1M369.5 470.3h1M370.1 464.3h1M369.7 474.8h1M368.7 490.5h1M369.0 477.6h1M376.9 481.2h1M370.2 484.9h1M370.5 467.0h1M365.9 464.7h1M365.1 471.1h1M367.7 474.7h1M370.3 470.2h1M373.5 470.2h1M367.5 478.5h1M366.6 477.3h1M372.6 470.8h1M370.6 465.0h1M361.1 486.2h1M362.2 489.1h1M361.5 461.0h1M366.9 467.5h1M368.2 463.0h1M366.2 479.5h1M371.1 475.3h1M368.6 485.1h1M370.8 478.9h1M367.7 474.9h1M371.4 476.7h1M367.6 466.5h1M370.0 476.6h1M374.8 476.6h1M364.5 480.9h1M366.4 484.2h1M372.8 469.5h1M362.9 472.5h1M370.5 478.3h1M363.9 477.8h1M366.7 479.4h1M364.5 480.0h1M361.9 468.6h1M372.7 469.7h1M366.9 475.9h1M369.6 482.9h1M370.1 479.2h1M369.4 473.8h1M372.9 477.1h1M372.1 478.2h1M362.2 467.6h1M369.4 476.4h1M365.3 477.1h1M365.1 475.3h1M368.6 474.9h1" stroke="#ff4a1a" stroke-width="1" fill="none" opacity="0.85"/>
<path d="M337.7 476.3h1M335.4 474.3h1M343.9 483.7h1M341.8 479.4h1M343.1 484.6h1M353.9 470.5h1M343.9 476.3h1M350.3 459.4h1M334.3 463.8h1M348.8 476.1h1M343.7 476.9h1M341.0 476.9h1M336.0 461.9h1M341.3 474.1h1M334.9 470.7h1M348.3 469.9h1M331.4 478.5h1M349.4 466.5h1M331.8 468.0h1M341.7 477.8h1M349.0 474.1h1M337.1 470.7h1M347.0 470.7h1M333.0 473.0h1M338.7 476.8h1M334.4 485.1h1M352.6 467.5h1M339.9 468.2h1M336.9 466.8h1M336.9 476.0h1M340.1 466.1h1M324.5 463.0h1M347.6 473.3h1M339.4 483.3h1M331.7 476.9h1M334.0 475.5h1M325.4 471.9h1M338.3 475.0h1M328.6 472.8h1M345.2 473.8h1M345.0 478.4h1M340.6 472.1h1M339.4 468.6h1M343.6 476.3h1M347.3 488.2h1M344.9 477.8h1M340.2 479.6h1M348.7 472.6h1M329.8 466.0h1M346.0 477.2h1M342.7 464.0h1M334.8 464.8h1M330.7 470.9h1M333.9 484.1h1M329.8 470.5h1M333.5 474.8h1M344.1 469.4h1M326.9 471.7h1M341.7 467.7h1M345.8 468.1h1M334.2 471.6h1M352.5 479.1h1M341.4 468.1h1M330.8 470.0h1M350.3 482.3h1M339.9 470.0h1M326.2 471.5h1M342.6 477.7h1M341.6 470.0h1M342.5 473.3h1M345.1 475.9h1M344.4 476.4h1M335.4 481.6h1M331.4 478.4h1M335.7 472.1h1M340.8 471.1h1M331.5 468.7h1M330.8 474.5h1M341.1 473.8h1M327.7 475.2h1M345.6 467.4h1M332.4 479.9h1M337.6 480.9h1M336.4 465.6h1M338.6 474.0h1M340.9 469.1h1M335.6 486.8h1M334.9 484.0h1M330.8 475.7h1M341.5 479.7h1M338.8 470.4h1M339.6 465.3h1M321.1 464.9h1M350.0 479.4h1M352.0 477.4h1M328.4 468.3h1M341.1 469.3h1M332.1 467.7h1M333.4 462.7h1M341.9 469.9h1M347.8 484.4h1M338.4 480.7h1M346.7 475.6h1M337.6 482.1h1M343.5 473.2h1M335.3 474.4h1M345.5 478.5h1M334.6 473.4h1M340.0 471.8h1M338.2 468.4h1M333.1 476.1h1M340.5 472.5h1M354.2 473.3h1M343.8 476.0h1M335.5 478.5h1M346.6 474.4h1M342.4 491.5h1M332.6 473.1h1M342.9 474.4h1M333.1 471.5h1" stroke="#2a8a3a" stroke-width="1" fill="none" opacity="0.85"/>
<path d="M345.3 457.8h1M352.5 504.6h1M356.9 455.2h1M368.6 480.9h1M324.4 449.4h1M323.7 473.1h1M372.8 459.2h1M382.2 450.4h1M343.3 463.1h1M355.9 506.4h1M323.4 478.9h1M353.3 494.3h1M317.9 435.8h1M394.0 496.3h1M378.3 461.8h1" stroke="#9a9a9a" stroke-width="1" fill="none" opacity="0.85"/>
<line x1="300.80" y1="434.30" x2="300.80" y2="512.60" stroke="#222" stroke-width="1.4"/>
<line x1="300.80" y1="512.60" x2="395.80" y2="512.60" stroke="#222" stroke-width="1.4"/>
<line x1="307.95" y1="512.60" x2="307.95" y2="514.20" stroke="#333" stroke-width="0.7"/>
<line x1="299.20" y1="506.71" x2="300.80" y2="506.71" stroke="#333" stroke-width="0.7"/>
<line x1="312.13" y1="512.60" x2="312.13" y2="514.20" stroke="#333" stroke-width="0.7"/>
<line x1="299.20" y1="503.26" x2="300.80" y2="503.26" stroke="#333" stroke-width="0.7"/>
<line x1="315.10" y1="512.60" x2="315.10" y2="514.20" stroke="#333" stroke-width="0.7"/>
<line x1="299.20" y1="500.81" x2="300.80" y2="500.81" stroke="#333" stroke-width="0.7"/>
<line x1="317.40" y1="512.60" x2="317.40" y2="514.20" stroke="#333" stroke-width="0.7"/>
<line x1="299.20" y1="498.92" x2="300.80" y2="498.92" stroke="#333" stroke-width="0.7"/>
<line x1="319.28" y1="512.60" x2="319.28" y2="514.20" stroke="#333" stroke-width="0.7"/>
<line x1="299.20" y1="497.37" x2="300.80" y2="497.37" stroke="#333" stroke-width="0.7"/>
<line x1="320.87" y1="512.60" x2="320.87" y2="514.20" stroke="#333" stroke-width="0.7"/>
<line x1="299.20" y1="496.06" x2="300.80" y2="496.06" stroke="#333" stroke-width="0.7"/>
<line x1="322.25" y1="512.60" x2="322.25" y2="514.20" stroke="#333" stroke-width="0.7"/>
<line x1="299.20" y1="494.92" x2="300.80" y2="494.92" stroke="#333" stroke-width="0.7"/>
<line x1="323.46" y1="512.60" x2="323.46" y2="514.20" stroke="#333" stroke-width="0.7"/>
<line x1="299.20" y1="493.92" x2="300.80" y2="493.92" stroke="#333" stroke-width="0.7"/>
<line x1="331.70" y1="512.60" x2="331.70" y2="514.20" stroke="#333" stroke-width="0.7"/>
<line x1="299.20" y1="487.13" x2="300.80" y2="487.13" stroke="#333" stroke-width="0.7"/>
<line x1="335.88" y1="512.60" x2="335.88" y2="514.20" stroke="#333" stroke-width="0.7"/>
<line x1="299.20" y1="483.69" x2="300.80" y2="483.69" stroke="#333" stroke-width="0.7"/>
<line x1="338.85" y1="512.60" x2="338.85" y2="514.20" stroke="#333" stroke-width="0.7"/>
<line x1="299.20" y1="481.24" x2="300.80" y2="481.24" stroke="#333" stroke-width="0.7"/>
<line x1="341.15" y1="512.60" x2="341.15" y2="514.20" stroke="#333" stroke-width="0.7"/>
<line x1="299.20" y1="479.34" x2="300.80" y2="479.34" stroke="#333" stroke-width="0.7"/>
<line x1="343.03" y1="512.60" x2="343.03" y2="514.20" stroke="#333" stroke-width="0.7"/>
<line x1="299.20" y1="477.79" x2="300.80" y2="477.79" stroke="#333" stroke-width="0.7"/>
<line x1="344.62" y1="512.60" x2="344.62" y2="514.20" stroke="#333" stroke-width="0.7"/>
<line x1="299.20" y1="476.48" x2="300.80" y2="476.48" stroke="#333" stroke-width="0.7"/>
<line x1="346.00" y1="512.60" x2="346.00" y2="514.20" stroke="#333" stroke-width="0.7"/>
<line x1="299.20" y1="475.35" x2="300.80" y2="475.35" stroke="#333" stroke-width="0.7"/>
<line x1="347.21" y1="512.60" x2="347.21" y2="514.20" stroke="#333" stroke-width="0.7"/>
<line x1="299.20" y1="474.35" x2="300.80" y2="474.35" stroke="#333" stroke-width="0.7"/>
<line x1="355.45" y1="512.60" x2="355.45" y2="514.20" stroke="#333" stroke-width="0.7"/>
<line x1="299.20" y1="467.56" x2="300.80" y2="467.56" stroke="#333" stroke-width="0.7"/>
<line x1="359.63" y1="512.60" x2="359.63" y2="514.20" stroke="#333" stroke-width="0.7"/>
<line x1="299.20" y1="464.11" x2="300.80" y2="464.11" stroke="#333" stroke-width="0.7"/>
<line x1="362.60" y1="512.60" x2="362.60" y2="514.20" stroke="#333" stroke-width="0.7"/>
<line x1="299.20" y1="461.66" x2="300.80" y2="461.66" stroke="#333" stroke-width="0.7"/>
<line x1="364.90" y1="512.60" x2="364.90" y2="514.20" stroke="#333" stroke-width="0.7"/>
<line x1="299.20" y1="459.77" x2="300.80" y2="459.77" stroke="#333" stroke-width="0.7"/>
<line x1="366.78" y1="512.60" x2="366.78" y2="514.20" stroke="#333" stroke-width="0.7"/>
<line x1="299.20" y1="458.22" x2="300.80" y2="458.22" stroke="#333" stroke-width="0.7"/>
<line x1="368.37" y1="512.60" x2="368.37" y2="514.20" stroke="#333" stroke-width="0.7"/>
<line x1="299.20" y1="456.91" x2="300.80" y2="456.91" stroke="#333" stroke-width="0.7"/>
<line x1="369.75" y1="512.60" x2="369.75" y2="514.20" stroke="#333" stroke-width="0.7"/>
<line x1="299.20" y1="455.77" x2="300.80" y2="455.77" stroke="#333" stroke-width="0.7"/>
<line x1="370.96" y1="512.60" x2="370.96" y2="514.20" stroke="#333" stroke-width="0.7"/>
<line x1="299.20" y1="454.77" x2="300.80" y2="454.77" stroke="#333" stroke-width="0.7"/>
<line x1="379.20" y1="512.60" x2="379.20" y2="514.20" stroke="#333" stroke-width="0.7"/>
<line x1="299.20" y1="447.98" x2="300.80" y2="447.98" stroke="#333" stroke-width="0.7"/>
<line x1="383.38" y1="512.60" x2="383.38" y2="514.20" stroke="#333" stroke-width="0.7"/>
<line x1="299.20" y1="444.54" x2="300.80" y2="444.54" stroke="#333" stroke-width="0.7"/>
<line x1="386.35" y1="512.60" x2="386.35" y2="514.20" stroke="#333" stroke-width="0.7"/>
<line x1="299.20" y1="442.09" x2="300.80" y2="442.09" stroke="#333" stroke-width="0.7"/>
<line x1="388.65" y1="512.60" x2="388.65" y2="514.20" stroke="#333" stroke-width="0.7"/>
<line x1="299.20" y1="440.19" x2="300.80" y2="440.19" stroke="#333" stroke-width="0.7"/>
<line x1="390.53" y1="512.60" x2="390.53" y2="514.20" stroke="#333" stroke-width="0.7"/>
<line x1="299.20" y1="438.64" x2="300.80" y2="438.64" stroke="#333" stroke-width="0.7"/>
<line x1="392.12" y1="512.60" x2="392.12" y2="514.20" stroke="#333" stroke-width="0.7"/>
<line x1="299.20" y1="437.33" x2="300.80" y2="437.33" stroke="#333" stroke-width="0.7"/>
<line x1="393.50" y1="512.60" x2="393.50" y2="514.20" stroke="#333" stroke-width="0.7"/>
<line x1="299.20" y1="436.20" x2="300.80" y2="436.20" stroke="#333" stroke-width="0.7"/>
<line x1="394.71" y1="512.60" x2="394.71" y2="514.20" stroke="#333" stroke-width="0.7"/>
<line x1="299.20" y1="435.20" x2="300.80" y2="435.20" stroke="#333" stroke-width="0.7"/>
<line x1="300.80" y1="512.60" x2="300.80" y2="515.10" stroke="#222" stroke-width="0.9"/>
<line x1="298.30" y1="512.60" x2="300.80" y2="512.60" stroke="#222" stroke-width="0.9"/>
<text x="296.20" y="521.60" font-size="8.2">10<tspan dy="-3.2" font-size="5.6">0</tspan></text>
<text transform="translate(297.90,512.60) rotate(-90)" x="-4.2" font-size="7.5">10<tspan dy="-3" font-size="5">0</tspan></text>
<line x1="324.55" y1="512.60" x2="324.55" y2="515.10" stroke="#222" stroke-width="0.9"/>
<line x1="298.30" y1="493.03" x2="300.80" y2="493.03" stroke="#222" stroke-width="0.9"/>
<text x="319.95" y="521.60" font-size="8.2">10<tspan dy="-3.2" font-size="5.6">1</tspan></text>
<text transform="translate(297.90,493.03) rotate(-90)" x="-4.2" font-size="7.5">10<tspan dy="-3" font-size="5">1</tspan></text>
<line x1="348.30" y1="512.60" x2="348.30" y2="515.10" stroke="#222" stroke-width="0.9"/>
<line x1="298.30" y1="473.45" x2="300.80" y2="473.45" stroke="#222" stroke-width="0.9"/>
<text x="343.70" y="521.60" font-size="8.2">10<tspan dy="-3.2" font-size="5.6">2</tspan></text>
<text transform="translate(297.90,473.45) rotate(-90)" x="-4.2" font-size="7.5">10<tspan dy="-3" font-size="5">2</tspan></text>
<line x1="372.05" y1="512.60" x2="372.05" y2="515.10" stroke="#222" stroke-width="0.9"/>
<line x1="298.30" y1="453.88" x2="300.80" y2="453.88" stroke="#222" stroke-width="0.9"/>
<text x="367.45" y="521.60" font-size="8.2">10<tspan dy="-3.2" font-size="5.6">3</tspan></text>
<text transform="translate(297.90,453.88) rotate(-90)" x="-4.2" font-size="7.5">10<tspan dy="-3" font-size="5">3</tspan></text>
<line x1="395.80" y1="512.60" x2="395.80" y2="515.10" stroke="#222" stroke-width="0.9"/>
<line x1="298.30" y1="434.30" x2="300.80" y2="434.30" stroke="#222" stroke-width="0.9"/>
<text x="391.20" y="521.60" font-size="8.2">10<tspan dy="-3.2" font-size="5.6">4</tspan></text>
<text transform="translate(297.90,434.30) rotate(-90)" x="-4.2" font-size="7.5">10<tspan dy="-3" font-size="5">4</tspan></text>
<text x="347.2" y="432.1" font-size="9.6" text-anchor="middle">Data.020</text>
<text transform="translate(286.50,474.95) rotate(-90)" font-size="8.9" text-anchor="middle">CD11b PE</text>
<text x="350.1" y="531.6" font-size="9.1" text-anchor="middle">CD16-FITC</text>
<rect x="416.60" y="306.70" width="96.40" height="78.70" fill="#fff" stroke="#4a4a4a" stroke-width="1.15"/>
<path d="M479.4 360.6h1M475.2 335.0h1M469.2 345.7h1M471.5 341.7h1M486.2 353.3h1M488.0 360.3h1M480.8 334.6h1M482.2 357.3h1M453.5 339.4h1M471.5 350.6h1M467.4 360.0h1M475.1 354.8h1M472.3 332.4h1M484.1 345.3h1M488.6 356.3h1M475.2 357.4h1M478.4 342.5h1M464.2 345.3h1M480.8 322.5h1M493.4 347.4h1M485.2 340.8h1M481.8 349.2h1M486.5 347.6h1M474.7 354.4h1M475.8 346.8h1M479.6 348.6h1M472.6 343.2h1M463.7 349.4h1M481.2 352.3h1M464.7 311.7h1M459.9 349.7h1M486.1 352.1h1M485.8 352.6h1M484.3 345.8h1M477.7 356.3h1M464.7 350.4h1M483.7 330.7h1M472.7 361.0h1M459.9 331.3h1M482.0 361.3h1M490.4 369.5h1M487.1 371.3h1M474.2 341.3h1M468.0 362.4h1M475.2 355.0h1M475.1 363.7h1M484.1 338.0h1M481.5 308.1h1M473.3 351.8h1M474.7 356.1h1M479.2 355.1h1M471.1 357.7h1M491.2 337.9h1M476.6 351.6h1M472.2 337.3h1M468.3 351.6h1M475.5 347.4h1M474.9 324.1h1M475.9 362.7h1M479.3 344.8h1M462.9 342.0h1M474.1 348.4h1M487.6 338.6h1M471.8 349.7h1M489.1 337.9h1M464.7 359.0h1M474.5 355.4h1M485.6 339.6h1M471.9 357.0h1M482.6 346.8h1M480.7 345.8h1M486.8 338.1h1M474.4 365.7h1M471.8 331.0h1M480.4 357.9h1M478.9 346.8h1M475.1 329.9h1M472.4 347.0h1M473.5 357.8h1M482.2 339.3h1M479.0 355.2h1M481.0 350.1h1M470.3 352.6h1M494.7 355.8h1M476.0 352.5h1M484.2 361.2h1M475.8 338.8h1M484.9 339.8h1M485.6 330.7h1M479.0 339.3h1M480.0 342.1h1M484.2 361.0h1M473.8 333.3h1M492.7 347.6h1M473.7 341.9h1M476.1 338.4h1M470.7 356.6h1M489.6 363.4h1M483.7 356.8h1M472.7 378.1h1M493.9 339.1h1M478.3 332.7h1M469.9 346.5h1M474.6 336.5h1M481.9 350.5h1M479.0 354.8h1M482.5 347.5h1M466.2 341.3h1M462.3 359.7h1M488.5 353.2h1M458.1 334.8h1M478.8 337.1h1M484.4 335.1h1M470.7 356.4h1M467.3 358.3h1M478.7 342.0h1M485.7 362.9h1M468.2 367.1h1M490.4 349.5h1M487.9 352.7h1M466.9 333.9h1M472.4 342.8h1M475.1 349.3h1M477.7 333.4h1M470.0 331.3h1M470.9 352.3h1M482.7 346.8h1M489.2 364.5h1M482.8 357.9h1M468.9 333.2h1M472.0 337.6h1M469.7 346.9h1M485.8 341.3h1M461.5 344.1h1M475.9 344.3h1M494.0 341.2h1M492.3 357.2h1M482.6 339.4h1M477.1 350.7h1M478.0 337.2h1M482.3 323.2h1M493.3 379.8h1M476.0 322.0h1M471.5 339.0h1M486.4 343.1h1M471.8 357.1h1M479.4 354.1h1M468.6 373.4h1M469.7 346.9h1M461.3 349.0h1M475.2 336.3h1M469.5 341.0h1M472.7 346.4h1M474.1 336.4h1M480.0 347.4h1M471.6 326.8h1M467.6 362.9h1M473.6 349.4h1M488.5 359.2h1M473.7 351.0h1M470.9 328.8h1M476.4 337.2h1M494.5 364.1h1M478.7 350.9h1M479.5 345.5h1M490.9 343.3h1M477.2 338.3h1M483.9 339.2h1M485.1 368.4h1M478.1 349.7h1M474.6 354.8h1M493.7 365.6h1M485.3 358.8h1M491.3 341.1h1M469.9 331.8h1M477.3 373.3h1M463.5 339.5h1M488.4 359.0h1M465.2 351.8h1M471.4 347.5h1M490.5 357.2h1M481.7 352.7h1M493.2 364.7h1M479.6 333.3h1M470.2 334.7h1M470.7 362.5h1M487.3 344.9h1M465.7 355.0h1M476.0 347.0h1M492.6 335.5h1M478.4 348.7h1M480.7 360.2h1M476.2 332.5h1M479.9 353.1h1M486.4 360.0h1M477.6 354.5h1M493.3 347.0h1M484.6 327.8h1M473.4 354.3h1M482.9 347.7h1M477.6 331.7h1M472.1 356.1h1M489.3 348.7h1M471.9 351.6h1M462.3 331.3h1M478.1 360.3h1M476.5 347.5h1M490.9 338.2h1M490.8 355.3h1M481.3 333.8h1M470.4 357.3h1M470.7 339.0h1M481.5 360.3h1M482.7 339.5h1M478.3 340.6h1M471.6 348.4h1M480.0 359.7h1M473.7 321.8h1M463.0 368.2h1M481.3 359.0h1M476.4 334.1h1M464.8 336.5h1M481.0 352.8h1M471.6 327.8h1M466.1 350.3h1M474.0 361.9h1M483.8 352.6h1M479.6 337.1h1M481.5 349.5h1M485.2 342.5h1M491.2 355.5h1M469.3 362.3h1M480.8 341.4h1M474.3 360.9h1M480.7 348.4h1M485.9 346.3h1M480.8 336.4h1M480.5 338.8h1M474.8 337.9h1M472.1 360.3h1M483.3 348.8h1M476.0 347.4h1M471.4 349.4h1M484.9 356.7h1M482.9 368.6h1M475.9 361.7h1M471.9 355.0h1M476.2 351.6h1M463.9 361.6h1M475.7 346.8h1M473.7 356.9h1M487.4 342.4h1M474.4 341.5h1M463.7 363.7h1M481.5 352.9h1M464.9 353.2h1M469.9 332.7h1M482.2 337.9h1M488.6 342.0h1M482.9 347.6h1M472.8 341.3h1M485.6 352.7h1M487.2 339.6h1M490.0 344.3h1M473.9 334.5h1M478.6 356.1h1M482.5 341.2h1M476.5 359.9h1M476.0 357.8h1M487.1 338.1h1M473.8 342.4h1M471.8 358.3h1M475.0 337.8h1M485.5 348.7h1M473.0 346.9h1M474.0 333.8h1M486.1 342.1h1M462.4 331.3h1M473.8 326.9h1M491.2 352.0h1M477.2 329.4h1M489.8 339.7h1M490.3 351.0h1M486.3 347.1h1M473.8 353.1h1M477.1 359.6h1M474.2 322.2h1M480.5 333.5h1M482.6 366.0h1M469.4 356.0h1M472.5 339.6h1M477.6 371.6h1M464.4 353.2h1M478.4 342.3h1M475.7 346.9h1M482.4 352.9h1M466.1 335.4h1M485.1 354.0h1M481.4 331.7h1M474.8 332.0h1M467.2 364.7h1M476.3 348.4h1M482.3 334.2h1M471.5 337.8h1M479.8 334.8h1M489.3 353.5h1M471.2 346.0h1M475.2 366.3h1M491.4 354.6h1M464.9 359.1h1M470.4 336.5h1M473.0 358.7h1M480.6 356.9h1M477.9 350.0h1M487.4 337.9h1M489.7 348.1h1M463.4 338.8h1M470.7 365.6h1M475.0 349.6h1M474.9 346.3h1M466.8 336.0h1M472.4 351.0h1M480.7 368.1h1M475.9 364.7h1M474.1 357.7h1M474.4 336.8h1M497.5 342.9h1M470.6 332.5h1M477.3 356.2h1M483.8 348.6h1M471.8 346.6h1M475.1 331.6h1M479.9 353.9h1M475.9 361.9h1M471.4 351.7h1M479.3 324.2h1M481.8 341.4h1M464.5 341.6h1M473.8 337.0h1M474.3 339.6h1M478.1 354.0h1M476.9 353.2h1M468.8 340.3h1M478.9 320.8h1M471.2 361.4h1M469.3 336.9h1M478.6 351.3h1M476.6 344.7h1M474.0 327.8h1M480.8 344.7h1M472.2 339.4h1M498.5 347.4h1M492.4 338.3h1M476.5 336.4h1M486.7 335.1h1M479.1 348.8h1M489.0 358.4h1M478.4 339.4h1M485.8 340.6h1M491.5 320.6h1M460.9 346.7h1M471.3 351.6h1M478.5 347.8h1M464.7 361.9h1M487.0 351.1h1M481.5 331.4h1M474.4 357.7h1M476.0 324.7h1M489.0 340.5h1M482.7 344.1h1M479.5 351.5h1M470.1 333.5h1M477.0 348.9h1M483.4 345.6h1M483.2 347.5h1M480.6 348.3h1M465.1 342.8h1M485.4 356.8h1M472.1 356.0h1M479.8 360.5h1M472.5 350.2h1M471.9 342.3h1M472.7 352.6h1M473.2 347.8h1M476.1 332.3h1M478.3 349.0h1M481.4 311.6h1M470.0 348.3h1M480.4 370.2h1M479.5 356.2h1M483.6 319.1h1M484.3 333.1h1M470.6 346.8h1M470.4 319.0h1M476.3 335.6h1M481.5 333.9h1M473.2 341.7h1M486.4 370.3h1M479.4 339.6h1M469.4 329.1h1M471.4 346.1h1M481.0 335.1h1M470.3 341.1h1M471.5 341.0h1M480.8 356.5h1M485.7 328.6h1M476.7 360.5h1M476.2 335.8h1M480.6 340.2h1M487.2 345.8h1M470.4 328.9h1M474.0 351.2h1M467.9 343.6h1M478.6 370.1h1M472.3 356.3h1M476.2 342.1h1M490.3 365.5h1M492.0 370.5h1M477.8 365.1h1M486.5 338.1h1M480.5 338.6h1M468.4 341.2h1M470.6 349.0h1M483.7 343.1h1M484.8 344.3h1M479.4 341.9h1M486.1 334.4h1M476.8 323.3h1M458.1 356.4h1M463.4 329.6h1M475.2 346.7h1M481.6 342.9h1M472.7 375.0h1M478.2 351.6h1M462.5 362.1h1M466.8 329.4h1M477.7 334.5h1M461.2 343.6h1M463.8 340.1h1M474.8 338.6h1M485.6 337.0h1M484.3 373.3h1M486.2 327.9h1M478.7 372.0h1M486.3 350.8h1M487.2 348.5h1M473.3 354.4h1M474.7 341.8h1M486.4 338.1h1M476.2 351.3h1M479.0 356.7h1M491.2 358.0h1M473.0 349.9h1M489.3 331.9h1M473.2 352.3h1M468.4 347.2h1M481.5 362.7h1M465.4 344.4h1M481.1 371.9h1M469.7 321.8h1M478.4 346.8h1M484.6 333.5h1M478.4 354.1h1M462.6 341.2h1M475.0 342.1h1M477.9 333.1h1M474.7 357.0h1M476.5 342.5h1M490.5 365.4h1M471.1 328.3h1M478.2 377.4h1M483.6 367.3h1M476.3 362.4h1M481.6 347.8h1M476.8 347.2h1M478.0 364.2h1M474.5 363.4h1M482.5 343.0h1M485.5 352.4h1M477.1 347.8h1M464.5 343.3h1M484.7 341.6h1M478.8 346.4h1M472.0 362.8h1M473.5 352.0h1M467.6 361.9h1M472.9 343.7h1M472.6 344.0h1M478.2 369.4h1M466.1 347.0h1M469.7 332.6h1M479.6 332.8h1M473.1 341.0h1M470.1 346.6h1M470.4 333.3h1M476.8 349.9h1M488.3 336.0h1M483.0 351.1h1M472.4 366.1h1M480.6 358.3h1M466.1 352.2h1M476.3 338.0h1M489.1 345.5h1M478.7 342.8h1M467.0 345.0h1M477.7 343.3h1M489.2 366.5h1M469.8 342.0h1M473.0 347.7h1M487.2 375.2h1M473.3 347.4h1M475.3 335.2h1M471.0 318.0h1M488.4 340.8h1M481.9 326.4h1M482.9 342.9h1M479.6 338.6h1M498.1 355.0h1M475.4 338.3h1M472.9 346.9h1M477.6 346.5h1M463.9 345.2h1M466.8 351.9h1M485.1 345.7h1M474.8 332.9h1M477.4 349.9h1M477.0 342.2h1M470.8 356.4h1M482.7 345.0h1M467.6 341.8h1M483.9 355.8h1M478.7 358.7h1M488.2 338.8h1M485.3 361.3h1M477.8 341.8h1M468.4 338.4h1M480.1 348.4h1M479.1 354.0h1M472.9 372.1h1M476.3 363.2h1M471.9 359.3h1M491.5 371.8h1M485.4 328.1h1M484.8 349.1h1M476.7 347.9h1M472.3 332.3h1M465.0 349.1h1M476.5 336.5h1M474.9 353.4h1M475.8 364.5h1M488.6 353.9h1M485.5 337.9h1M471.2 347.2h1M492.5 365.1h1M485.6 343.5h1M479.1 359.5h1M480.1 373.6h1M477.3 340.5h1M474.5 347.3h1M467.4 346.1h1M468.5 356.5h1M484.8 360.3h1M474.6 344.1h1M477.2 340.6h1M483.0 368.3h1M490.9 341.8h1M474.9 344.0h1M486.2 372.5h1M484.5 361.6h1M484.1 353.9h1M496.0 355.2h1M458.4 337.0h1M466.5 346.4h1M469.3 351.2h1M486.6 347.8h1M471.8 343.1h1M473.5 358.2h1M476.9 347.5h1M483.6 332.6h1M483.5 334.9h1M470.5 353.7h1M484.2 343.5h1M494.5 343.0h1M485.9 335.7h1M473.9 329.3h1M464.9 361.6h1M470.0 352.4h1M470.6 333.5h1M473.5 342.3h1M470.6 342.0h1M484.7 316.6h1M484.4 372.3h1M470.0 345.7h1M480.5 351.1h1M475.3 337.8h1M481.2 356.5h1M478.8 347.4h1M476.5 339.7h1M472.3 349.6h1M484.8 345.9h1M462.6 362.2h1M483.6 330.4h1M481.9 352.6h1M476.5 331.7h1M482.0 354.5h1M472.5 340.1h1M479.8 351.5h1M462.3 365.3h1M486.6 340.0h1M477.1 334.6h1M472.1 365.7h1M493.1 350.2h1M460.9 335.0h1M475.6 360.8h1M478.4 347.4h1M477.4 362.8h1M485.1 358.9h1M486.0 347.0h1M477.6 351.7h1M468.4 335.4h1M478.6 342.9h1M495.0 343.3h1M468.8 342.9h1M474.5 348.6h1M484.3 341.4h1M486.9 350.6h1M481.0 334.9h1M473.0 348.7h1M475.0 329.5h1M481.7 333.6h1M482.1 352.8h1M491.4 379.5h1M479.5 323.6h1M479.7 350.2h1M484.2 341.2h1M463.5 316.0h1M480.0 354.9h1M476.1 359.0h1M483.0 340.8h1M464.5 351.4h1M470.6 359.9h1M480.4 358.1h1M486.4 353.7h1M481.4 335.3h1M475.6 347.4h1M473.8 348.3h1M479.6 348.1h1M485.3 339.3h1M469.3 350.0h1M482.4 352.7h1M477.9 330.7h1M479.2 343.1h1M480.5 345.4h1M460.3 352.1h1M482.1 348.2h1M488.3 355.2h1M488.3 350.6h1M475.2 358.4h1M486.6 338.5h1M465.1 357.7h1M485.2 334.3h1M464.5 351.3h1M486.0 352.1h1M478.2 355.6h1M473.3 346.0h1M479.1 341.5h1M501.3 375.2h1M465.9 347.2h1M475.4 347.0h1M464.4 346.4h1M472.5 347.6h1M465.7 349.8h1M468.3 349.3h1M471.5 338.5h1M472.7 341.8h1M472.1 341.7h1M472.2 340.0h1M491.8 341.9h1M474.3 359.2h1M484.6 330.5h1M480.4 347.3h1M464.5 363.3h1M478.3 340.4h1M479.0 364.3h1M477.5 348.7h1M478.8 347.1h1M471.3 341.7h1M482.0 342.7h1M480.3 361.5h1M486.9 343.4h1M484.2 353.7h1M474.3 346.7h1M477.1 353.7h1M472.5 362.4h1M478.3 351.7h1M473.5 336.1h1M473.5 335.7h1M497.9 342.2h1M481.3 334.9h1M479.9 342.1h1M471.0 344.6h1M488.4 363.6h1M474.1 327.4h1M464.8 345.1h1M481.9 349.3h1M481.3 348.0h1M476.7 369.1h1M496.4 360.6h1M471.9 313.8h1M482.3 363.5h1M488.0 339.3h1M466.5 359.8h1M477.5 357.8h1M468.9 351.4h1M479.8 354.2h1M473.8 337.1h1M491.7 363.3h1M479.6 329.9h1M473.4 344.9h1M490.0 349.5h1M471.1 355.4h1M481.4 348.2h1M478.9 361.2h1M479.9 349.4h1M464.2 357.4h1M482.3 364.1h1M469.4 349.2h1M493.6 349.3h1M464.4 342.5h1M478.7 353.2h1M466.0 348.9h1M483.4 352.4h1M472.0 357.9h1M475.6 322.7h1M483.7 373.0h1M483.7 374.4h1M471.5 346.2h1M469.5 366.0h1M473.8 341.2h1M478.7 351.5h1M466.7 331.6h1M481.0 368.3h1M475.2 348.4h1M472.5 352.1h1M486.2 360.5h1M485.1 347.1h1M474.4 346.5h1M478.6 359.9h1M489.2 337.0h1M481.2 345.5h1M470.2 367.2h1M485.1 343.6h1M474.1 345.0h1M475.4 346.7h1M480.7 344.0h1M491.5 347.6h1M491.5 350.5h1M491.8 348.2h1M487.4 345.5h1M490.9 348.6h1M473.3 339.4h1M471.1 353.8h1M478.7 365.8h1M486.8 353.6h1M473.2 356.1h1M463.2 334.1h1M470.9 338.2h1M480.5 338.4h1M463.5 333.6h1M492.2 348.6h1M475.8 337.4h1M486.4 346.6h1M475.7 358.8h1M479.8 359.0h1M493.2 356.0h1M463.8 323.6h1M466.4 333.3h1M479.0 349.2h1M491.4 367.4h1M477.3 351.6h1M482.2 355.6h1M482.6 341.8h1M476.5 342.2h1M473.0 346.8h1M477.5 340.3h1M468.1 347.7h1M493.4 366.1h1M489.3 366.3h1M470.3 347.7h1M462.9 337.6h1M464.0 345.7h1M480.0 348.9h1M472.8 342.0h1M482.0 346.6h1M490.4 342.3h1M471.7 337.9h1M475.5 342.3h1M482.2 349.8h1M489.5 342.5h1M477.1 325.7h1M467.2 349.5h1M476.4 330.8h1M482.2 360.8h1M475.0 347.0h1M473.7 342.2h1M486.6 354.1h1M472.9 354.5h1M486.2 353.3h1M477.4 325.9h1M477.6 341.1h1M467.5 333.6h1M473.0 346.7h1M469.9 342.5h1M486.2 351.5h1M478.0 336.0h1M478.7 342.0h1M480.8 360.1h1M469.1 346.9h1M491.4 358.9h1M479.1 324.6h1M467.3 346.5h1M483.7 367.0h1M474.2 372.4h1M465.2 343.3h1M464.5 349.7h1M485.6 342.6h1M485.4 352.7h1M483.3 348.2h1M467.5 347.1h1M477.5 353.0h1M467.7 339.1h1M466.4 362.9h1M478.9 337.3h1M479.9 354.2h1M483.5 328.8h1M465.9 347.3h1M478.0 360.0h1M454.4 328.4h1M472.2 346.0h1M478.8 350.3h1M479.4 337.8h1M469.5 350.8h1M479.9 356.2h1M479.7 344.8h1M470.1 338.6h1M469.9 346.9h1M481.2 364.7h1M492.0 354.1h1M495.4 362.2h1M488.8 335.9h1M475.2 342.8h1M478.4 349.9h1M479.8 347.0h1M462.8 367.3h1M465.6 331.8h1M478.8 351.0h1M492.6 350.4h1M466.7 349.3h1M492.1 351.0h1M479.8 370.8h1M480.3 349.2h1M477.3 354.8h1M488.9 340.8h1M479.9 365.6h1M472.0 341.5h1M466.6 335.5h1M471.7 345.2h1M474.1 351.4h1M473.4 337.3h1M476.9 318.3h1M487.8 343.6h1M475.8 342.6h1M492.3 335.2h1M487.3 349.8h1M481.6 343.2h1M471.5 337.2h1M470.3 344.9h1M485.0 355.3h1M472.2 362.3h1M476.4 340.9h1M468.7 356.3h1M485.0 343.5h1M476.8 348.8h1M473.3 334.7h1M486.1 354.6h1M478.1 327.6h1M469.7 344.0h1M484.9 368.2h1M468.0 335.7h1M466.2 350.7h1M480.8 344.4h1M476.7 331.8h1M472.8 352.8h1M482.7 350.9h1M472.6 352.7h1M475.8 357.4h1M477.9 349.5h1M461.8 348.9h1M482.2 358.8h1M482.0 348.1h1M475.4 342.4h1M461.3 354.9h1M471.5 339.0h1M472.6 344.1h1M477.9 337.9h1M481.6 355.7h1M482.4 358.4h1M491.2 362.8h1M470.3 342.5h1M473.6 340.5h1M482.1 355.0h1M472.3 350.2h1M475.0 342.4h1M454.4 352.4h1M481.2 349.6h1M487.0 337.4h1M483.5 355.4h1M481.0 328.0h1M478.8 348.7h1M462.1 321.9h1M466.4 344.8h1M470.3 363.3h1M480.9 355.4h1M481.4 379.9h1M475.8 364.8h1M478.3 333.5h1M474.8 362.5h1M483.1 358.8h1M478.8 347.2h1M472.8 349.4h1M480.7 348.6h1M456.2 341.1h1M472.9 355.4h1M471.4 354.5h1M476.0 352.0h1M476.4 343.6h1M464.3 353.0h1M486.7 360.8h1M465.1 352.5h1M478.4 357.1h1M476.0 366.9h1M484.5 344.2h1M471.3 322.7h1M459.2 347.3h1M477.7 336.0h1M490.4 349.7h1M468.3 359.6h1M481.3 356.2h1M468.7 349.6h1M493.4 367.5h1M471.4 351.6h1M467.1 335.0h1M465.4 359.3h1M477.6 360.9h1M483.7 350.8h1M486.3 374.7h1M480.0 345.1h1M477.8 349.0h1M469.8 349.5h1M467.4 352.4h1M476.0 361.0h1M480.8 333.2h1M479.2 355.3h1M465.3 330.9h1M495.5 351.7h1M480.0 350.2h1M471.6 355.1h1M474.1 361.1h1M471.2 348.7h1M469.8 334.0h1M473.1 337.0h1M481.9 365.3h1M479.9 340.6h1M485.4 339.8h1M475.8 357.2h1M478.0 347.0h1M467.2 336.8h1M470.4 346.8h1M484.0 346.5h1M481.7 344.5h1M476.7 368.6h1M473.2 365.2h1M477.4 334.1h1M466.1 347.1h1M486.0 362.0h1M474.7 336.5h1M467.9 347.9h1M467.6 352.7h1M486.3 326.1h1M470.9 341.0h1M471.7 345.7h1M484.1 372.4h1M485.6 356.7h1M463.3 374.7h1M480.0 356.6h1M486.7 347.6h1M465.2 356.6h1M476.7 350.8h1M463.1 362.7h1M479.6 355.1h1M481.5 355.1h1M480.1 322.6h1M471.5 348.0h1M478.6 358.8h1M488.2 366.1h1M482.1 334.0h1M477.4 347.7h1M485.3 345.0h1M479.9 337.9h1M478.0 329.4h1M466.0 334.0h1M468.8 348.2h1M470.6 361.6h1M486.2 365.7h1M482.6 348.3h1M496.2 348.0h1M473.8 354.2h1M475.5 352.6h1M473.0 347.5h1M483.4 340.7h1M483.5 346.5h1M476.5 344.2h1M486.9 341.0h1M479.2 367.1h1M467.8 359.6h1M481.6 332.2h1M496.8 324.8h1M492.5 358.1h1M467.1 348.0h1M469.7 338.2h1M470.9 358.8h1M488.8 336.8h1M471.1 334.1h1M499.1 361.7h1M456.6 330.7h1M478.4 339.4h1M473.3 347.9h1M482.6 331.9h1M471.9 342.4h1M489.2 347.1h1M498.3 347.6h1M482.1 343.6h1M469.7 323.1h1M472.3 348.3h1M472.4 339.2h1M472.2 336.9h1M480.9 348.6h1M474.7 335.4h1M483.9 337.6h1M481.9 368.6h1M476.4 353.3h1M477.0 354.1h1M485.9 331.8h1M486.0 374.3h1M481.7 347.6h1M476.7 368.6h1M480.4 356.8h1M472.1 322.5h1M481.6 354.6h1M468.0 348.0h1M479.8 351.1h1M492.9 353.1h1M486.8 347.8h1M500.6 351.5h1M499.7 351.9h1M467.2 337.5h1M477.8 354.3h1M486.5 363.3h1M473.3 359.1h1M485.0 347.4h1M477.7 341.8h1M479.8 363.2h1M488.4 350.4h1M467.6 355.5h1M478.9 350.2h1M497.0 350.7h1M481.3 362.3h1M484.3 340.0h1M489.1 349.8h1M486.9 351.7h1M476.0 339.3h1M472.1 350.2h1M476.1 353.8h1M472.5 345.0h1M465.4 349.2h1M483.0 359.1h1M489.1 354.4h1M476.5 352.3h1M477.3 365.0h1M461.6 352.6h1M477.4 342.1h1M483.4 355.9h1M475.2 360.6h1M479.1 341.6h1M473.9 339.3h1M462.5 350.9h1M479.1 328.9h1M482.9 338.9h1M469.1 343.3h1M476.8 355.8h1M473.1 353.1h1M474.2 338.8h1M475.3 338.8h1M479.1 335.6h1M482.6 356.8h1M485.7 331.6h1M477.0 326.9h1M483.9 348.4h1M472.9 340.3h1M488.3 360.7h1M474.1 336.0h1M456.2 340.9h1M474.2 362.0h1M479.8 348.4h1M483.0 331.6h1M465.3 341.3h1M479.5 351.7h1M476.5 341.4h1M485.6 367.4h1M474.9 348.3h1M476.9 370.2h1M484.6 323.4h1M459.9 343.9h1M465.1 332.4h1M468.6 322.3h1M489.7 339.2h1M473.0 347.3h1M479.0 345.6h1M489.4 358.4h1M463.3 325.8h1M492.8 345.8h1M485.5 340.9h1M472.5 341.6h1M488.3 343.4h1M477.6 342.0h1M485.4 350.9h1M484.9 347.8h1M486.4 367.4h1M476.2 343.6h1M476.1 351.5h1M468.9 335.4h1M461.5 343.1h1M488.7 382.0h1M471.1 341.9h1M468.5 363.9h1M484.5 334.7h1M483.8 346.3h1M478.0 349.3h1M480.7 339.8h1M480.0 350.6h1M486.7 341.7h1M482.7 348.3h1M463.1 335.5h1M473.7 357.4h1M479.5 337.6h1M477.6 364.2h1M480.9 344.1h1M479.1 354.5h1M481.3 325.6h1M493.2 336.8h1M478.6 339.5h1M479.4 347.2h1M479.4 378.3h1M479.4 360.3h1M483.4 343.1h1M476.9 352.3h1M479.9 336.0h1M474.2 356.2h1M462.3 342.8h1M480.1 356.2h1M478.4 353.2h1M491.0 365.5h1M458.4 364.7h1M477.5 337.1h1M457.5 361.3h1M482.9 366.9h1M471.0 368.4h1M468.6 339.9h1M470.9 341.3h1M485.7 325.9h1M472.2 355.4h1M484.1 322.2h1M465.9 321.6h1M470.2 333.4h1M485.3 352.7h1M469.0 352.8h1M489.1 362.5h1M497.7 355.1h1M470.2 335.8h1M471.7 339.1h1M480.3 355.5h1M486.3 341.9h1M473.2 347.4h1M466.5 341.5h1M470.5 345.8h1" stroke="#ff3c14" stroke-width="1" fill="none" opacity="0.85"/>
<path d="M479.5 346.0h1M475.3 350.0h1M471.8 360.1h1M477.7 351.7h1M474.2 348.7h1M480.8 341.2h1M478.3 334.5h1M468.4 336.4h1M474.7 347.2h1M468.7 360.3h1M478.1 347.7h1M475.2 347.9h1M481.3 335.3h1M479.5 351.9h1M483.6 348.6h1M481.1 353.6h1M482.7 342.3h1M479.5 340.6h1M476.8 339.7h1M476.0 352.2h1M475.2 353.4h1M476.8 358.4h1M481.2 365.0h1M472.0 346.4h1M487.5 343.7h1M469.7 337.9h1M483.9 348.8h1M473.3 344.0h1M476.5 345.1h1M487.0 354.6h1M473.5 345.7h1M468.9 338.3h1M469.8 346.2h1M476.4 351.7h1M484.8 341.7h1M482.1 334.4h1M478.9 347.4h1M471.9 346.6h1M483.6 350.9h1M478.1 332.4h1M476.1 345.8h1M476.5 349.5h1M483.5 343.8h1M475.5 339.8h1M473.5 343.6h1M484.6 342.9h1M490.1 340.7h1M465.3 335.4h1M471.1 341.6h1M479.8 355.3h1M476.4 338.9h1M490.7 344.3h1M478.8 347.5h1M478.6 350.3h1M473.1 346.5h1M478.5 347.1h1M477.8 337.0h1M469.0 337.6h1M480.0 345.9h1M474.6 353.1h1M472.9 336.1h1M476.8 344.6h1M476.5 349.8h1M474.2 353.9h1M480.7 349.8h1M480.1 349.2h1M481.9 338.8h1M476.5 342.8h1M479.3 339.3h1M474.0 343.3h1M473.6 351.3h1M478.4 349.0h1M477.7 350.3h1M478.2 337.9h1M486.9 349.1h1M481.9 359.7h1M464.5 353.5h1M472.0 342.8h1M480.2 350.8h1M480.5 350.4h1M477.0 349.2h1M481.1 342.5h1M482.9 346.7h1M476.2 343.5h1M480.9 341.1h1M465.6 340.8h1M474.0 340.9h1M475.7 346.6h1M479.2 355.6h1M484.6 353.5h1M482.2 354.1h1M479.8 343.3h1M481.5 346.0h1M480.9 342.6h1M481.4 343.2h1M483.8 355.4h1M484.3 343.9h1M478.5 334.6h1M477.7 336.7h1M477.4 338.4h1M484.1 341.7h1M482.0 362.1h1M480.1 354.1h1M476.6 346.2h1M473.7 338.6h1M475.6 352.5h1M473.2 349.6h1M484.6 363.1h1M487.2 346.3h1M483.3 350.6h1M475.5 345.8h1M481.5 357.0h1M482.9 352.8h1M475.5 347.9h1M469.0 349.7h1M483.5 347.6h1M487.2 345.4h1M472.6 344.6h1M477.0 351.1h1M474.6 351.4h1M478.4 350.9h1M482.6 348.8h1M477.0 341.6h1M484.0 354.8h1M472.2 352.1h1M475.8 348.4h1M470.1 344.8h1M482.8 332.3h1M470.5 352.7h1M478.1 344.5h1M480.3 342.9h1M470.8 344.2h1M480.0 344.0h1M481.5 340.5h1M480.8 354.3h1M477.3 350.9h1M474.1 350.7h1M474.2 330.5h1M482.9 357.1h1M476.6 339.4h1M471.8 341.8h1M481.6 344.5h1M476.4 347.2h1M488.6 331.6h1M477.8 338.6h1M478.5 352.5h1M466.0 352.6h1M474.2 340.6h1M469.7 337.3h1M471.2 352.8h1M482.1 354.4h1M470.6 344.3h1M474.0 342.6h1M473.7 342.1h1M476.1 347.0h1M477.4 346.3h1M487.6 355.2h1M477.2 346.8h1M482.4 345.5h1M478.1 351.5h1M480.4 345.7h1M475.4 354.0h1M468.6 349.7h1M480.0 342.0h1M470.1 335.7h1M467.8 348.4h1M488.0 344.4h1M486.3 349.1h1M473.8 357.6h1M479.5 345.3h1M484.8 354.4h1M479.3 352.1h1M482.8 339.4h1M482.5 342.7h1M470.4 356.1h1M476.7 360.8h1M482.3 354.3h1M483.6 359.7h1M481.8 358.2h1M476.7 341.3h1M482.4 351.6h1M474.1 347.8h1M478.1 338.0h1M477.1 367.8h1M480.7 343.4h1M478.3 351.9h1M474.3 332.8h1M480.8 342.4h1M476.5 342.4h1M474.9 339.1h1M481.8 362.3h1M473.5 349.8h1M482.8 338.3h1M480.7 346.8h1M478.3 348.9h1M482.2 329.5h1M478.1 359.2h1M478.8 345.7h1M468.6 345.1h1M477.7 344.4h1M472.8 354.3h1M477.8 344.7h1M487.4 350.2h1M481.0 351.4h1M485.8 338.5h1M484.5 334.9h1M478.3 353.0h1M480.5 339.5h1M484.5 343.6h1M478.2 326.4h1M478.1 328.6h1M482.0 344.8h1M472.8 338.9h1M475.5 331.8h1M476.5 348.1h1M476.6 340.0h1M479.2 350.8h1M475.2 333.1h1M463.8 340.6h1M479.3 351.0h1M480.3 339.5h1M475.3 348.5h1M476.6 349.0h1M482.9 342.0h1M487.2 335.8h1M475.6 348.6h1M473.0 349.8h1M487.7 344.0h1M476.9 350.1h1M482.3 345.7h1M476.1 353.3h1M477.6 355.2h1M481.5 346.5h1M469.9 341.7h1M482.1 345.8h1M482.1 344.8h1M476.0 355.4h1M477.0 346.9h1M480.2 351.5h1M484.6 348.2h1M479.2 349.7h1M478.1 341.8h1M481.3 356.3h1M477.3 347.8h1M474.2 340.5h1M477.9 354.2h1M484.2 347.6h1M475.4 344.1h1M481.0 357.0h1M477.8 335.9h1M475.3 341.6h1M469.7 345.4h1M486.9 342.0h1M475.5 345.6h1M471.0 353.8h1M484.3 345.4h1M479.5 347.1h1M479.6 345.5h1M477.0 352.0h1M479.1 347.8h1M482.4 333.8h1M482.0 359.8h1M476.1 348.8h1M487.7 349.7h1M474.5 357.5h1M474.5 357.8h1M477.2 342.7h1M476.8 351.5h1M479.5 354.1h1M471.1 358.2h1M481.3 348.0h1M467.6 357.9h1M468.2 345.6h1M475.2 350.3h1M483.0 349.5h1M477.0 353.3h1M493.4 351.6h1M480.9 343.9h1M482.2 343.9h1M481.0 341.8h1M479.0 337.0h1M472.4 364.8h1M482.6 343.3h1M466.5 339.7h1M479.0 335.9h1M478.5 355.0h1M483.5 347.8h1M484.8 347.1h1M476.5 357.7h1M481.6 356.2h1M478.0 346.5h1M471.9 354.9h1M483.9 336.3h1M479.5 361.0h1M469.9 354.6h1M475.3 338.1h1M478.8 344.8h1M477.7 344.0h1M481.1 346.0h1M482.4 354.8h1M477.1 357.1h1M468.6 344.1h1M482.0 335.5h1M478.2 350.6h1M471.8 345.0h1M475.0 331.8h1M465.1 345.4h1M474.5 356.4h1M484.5 350.2h1M476.4 357.7h1M482.5 353.9h1M479.5 347.5h1M479.2 341.0h1M476.8 342.5h1M482.6 347.9h1M476.6 345.5h1M491.6 344.2h1M480.3 344.2h1M478.1 336.5h1M475.1 338.7h1M486.6 352.4h1M481.0 348.3h1M475.7 348.4h1M482.8 347.7h1M476.0 348.5h1M480.3 343.8h1M482.6 344.8h1M481.7 337.2h1M477.5 341.4h1M483.1 362.0h1M476.0 343.5h1M482.6 353.4h1M481.7 346.9h1M464.1 344.2h1M475.4 354.8h1M477.0 351.3h1M473.4 345.1h1M482.1 352.5h1M481.5 356.0h1M475.3 350.2h1M480.1 347.5h1M472.1 329.6h1M482.0 345.9h1M486.5 357.0h1M478.3 341.8h1M473.8 343.5h1M478.5 344.6h1M470.4 352.9h1M472.9 346.2h1M486.5 357.0h1M474.3 343.7h1M482.7 351.4h1M475.7 340.1h1M472.5 349.0h1M478.1 357.6h1M472.0 347.5h1M471.0 355.7h1M474.8 341.9h1M470.6 346.1h1M480.8 341.5h1M478.4 346.7h1M480.1 353.9h1M477.9 354.1h1M486.2 340.7h1M470.9 335.0h1M489.7 338.9h1M483.2 347.5h1M472.2 336.0h1M475.5 349.2h1M480.8 347.8h1M478.2 347.6h1M476.8 348.5h1M482.7 349.2h1M479.2 340.5h1M476.9 353.3h1M487.1 346.4h1M489.4 354.9h1M476.2 360.2h1M476.4 342.2h1M460.7 353.2h1M483.9 347.4h1M479.5 347.4h1M469.5 345.4h1M476.4 353.8h1M478.0 350.4h1M480.3 360.8h1M477.4 350.1h1M479.9 341.4h1M477.9 354.7h1M474.0 331.9h1M475.1 360.7h1M468.3 348.4h1M473.6 343.1h1M481.0 352.7h1M483.0 351.0h1M486.4 343.7h1M482.5 345.4h1M475.3 362.0h1M477.3 349.8h1M479.4 348.0h1M478.0 346.6h1M471.2 352.1h1M475.4 341.9h1M479.6 337.4h1M473.6 343.9h1M473.4 337.5h1M471.5 350.2h1M481.0 353.5h1M469.4 349.1h1M483.1 341.7h1M474.0 344.4h1M479.8 342.0h1M483.0 334.2h1M472.7 348.7h1M464.2 351.3h1M479.4 338.4h1M471.9 357.5h1M477.5 337.1h1M474.0 347.7h1M485.6 341.4h1M469.7 340.4h1M484.3 344.1h1M477.6 351.8h1M477.3 337.9h1M480.8 367.0h1M469.8 354.3h1M475.0 344.0h1M476.3 359.1h1M475.3 346.5h1M483.5 326.9h1M474.8 333.6h1M474.7 335.8h1M475.2 343.6h1M471.7 357.0h1M480.4 344.7h1M475.1 344.0h1M481.6 360.5h1M479.0 341.0h1M480.0 340.5h1M481.8 336.8h1M479.4 349.5h1M478.8 346.8h1M478.0 340.7h1M479.9 351.0h1M480.6 340.3h1M474.0 338.4h1M474.6 340.8h1M481.1 345.9h1M479.9 354.3h1M481.4 341.6h1M473.8 353.7h1M476.9 338.4h1M476.1 360.4h1M481.2 345.6h1M472.2 338.5h1M481.9 345.9h1M474.4 344.6h1M485.6 335.0h1M484.2 337.9h1M483.4 341.7h1M473.2 358.8h1M481.3 350.9h1M476.1 355.6h1M478.2 355.4h1M482.7 339.7h1M477.6 355.7h1M481.5 345.9h1M471.4 358.6h1M487.8 354.2h1M480.5 340.6h1M479.4 347.2h1M469.6 355.5h1M470.7 343.2h1M487.0 344.5h1M475.3 339.4h1M479.6 342.5h1M473.7 344.5h1M476.8 341.3h1M465.5 338.1h1M478.3 354.9h1M476.8 342.5h1M473.3 351.9h1M474.9 346.9h1M465.4 355.4h1M484.7 336.8h1M473.6 338.3h1M465.9 338.1h1M481.0 346.0h1M471.4 348.9h1M485.9 342.9h1M472.9 345.3h1M476.1 352.9h1M473.3 333.5h1M476.7 353.1h1M480.8 346.0h1M470.0 341.2h1M474.4 346.5h1M473.9 346.6h1M470.4 341.3h1M487.3 348.6h1M483.4 337.9h1M474.3 351.4h1M480.3 339.5h1M476.1 344.2h1M487.2 343.4h1M479.8 335.3h1M478.4 360.0h1M477.6 361.8h1M481.6 347.9h1M477.8 341.7h1M474.3 350.8h1M483.1 350.0h1M477.0 338.6h1M474.0 349.6h1M483.9 353.9h1M478.9 342.8h1M477.1 342.4h1M476.9 350.1h1M475.5 348.1h1M482.4 355.3h1M480.5 342.5h1M475.4 365.5h1M491.2 356.7h1M481.8 345.5h1M484.7 331.5h1M482.0 351.5h1M482.7 348.4h1M481.4 354.9h1M477.0 345.1h1M476.7 347.3h1M471.4 341.2h1M473.2 346.3h1M471.4 344.4h1M475.7 337.4h1M488.7 345.4h1M483.1 346.4h1M479.3 350.5h1M481.1 344.9h1M470.8 350.7h1M476.8 351.7h1M473.9 335.8h1M482.5 352.0h1M484.0 346.2h1M470.0 352.6h1M479.6 339.3h1M474.7 340.7h1M476.3 349.1h1M470.7 342.1h1M470.8 361.4h1M483.3 343.9h1M473.0 346.3h1M483.6 338.9h1M467.9 352.4h1M481.0 337.2h1M475.0 358.4h1M469.7 353.7h1M471.4 335.1h1M478.8 350.4h1M468.8 352.0h1M475.7 358.7h1M479.0 365.8h1M477.5 334.1h1M485.6 340.9h1M484.1 348.5h1M473.8 341.2h1M478.1 347.9h1M480.4 340.2h1M475.9 355.2h1M475.2 343.3h1M477.1 350.7h1M483.3 350.0h1M476.3 344.7h1M485.2 344.7h1M478.0 346.0h1M482.2 344.6h1M471.8 349.7h1M479.7 353.5h1M480.3 355.4h1M472.5 346.4h1M484.0 353.8h1M477.3 340.5h1M477.0 350.1h1M475.7 349.5h1M483.8 342.2h1M480.9 334.6h1M477.8 341.1h1M478.4 341.9h1M479.0 342.3h1M472.2 336.6h1M480.8 345.7h1M487.5 340.7h1M481.6 344.0h1M472.5 333.7h1M471.6 339.5h1M475.4 335.4h1M485.8 340.6h1M479.0 346.2h1M485.2 331.8h1M471.9 357.7h1M473.7 339.0h1" stroke="#ff4a1a" stroke-width="1" fill="none" opacity="0.85"/>
<path d="M495.4 309.4h1M472.1 353.8h1M446.6 359.8h1M469.6 319.4h1M477.8 362.5h1M492.5 347.3h1M493.5 336.8h1M473.1 373.2h1M464.3 320.3h1M441.8 326.2h1M428.5 317.7h1M443.2 333.0h1M438.7 334.4h1M466.5 353.0h1M487.8 368.8h1M461.6 308.6h1M482.5 345.2h1M457.9 353.7h1M506.9 344.6h1M458.4 341.3h1M448.3 377.5h1M442.3 316.2h1M487.8 333.2h1M441.9 356.2h1" stroke="#9a9a9a" stroke-width="1" fill="none" opacity="0.85"/>
<line x1="416.60" y1="306.70" x2="416.60" y2="385.40" stroke="#222" stroke-width="1.4"/>
<line x1="416.60" y1="385.40" x2="513.00" y2="385.40" stroke="#222" stroke-width="1.4"/>
<line x1="423.85" y1="385.40" x2="423.85" y2="387.00" stroke="#333" stroke-width="0.7"/>
<line x1="415.00" y1="379.48" x2="416.60" y2="379.48" stroke="#333" stroke-width="0.7"/>
<line x1="428.10" y1="385.40" x2="428.10" y2="387.00" stroke="#333" stroke-width="0.7"/>
<line x1="415.00" y1="376.01" x2="416.60" y2="376.01" stroke="#333" stroke-width="0.7"/>
<line x1="431.11" y1="385.40" x2="431.11" y2="387.00" stroke="#333" stroke-width="0.7"/>
<line x1="415.00" y1="373.55" x2="416.60" y2="373.55" stroke="#333" stroke-width="0.7"/>
<line x1="433.45" y1="385.40" x2="433.45" y2="387.00" stroke="#333" stroke-width="0.7"/>
<line x1="415.00" y1="371.65" x2="416.60" y2="371.65" stroke="#333" stroke-width="0.7"/>
<line x1="435.35" y1="385.40" x2="435.35" y2="387.00" stroke="#333" stroke-width="0.7"/>
<line x1="415.00" y1="370.09" x2="416.60" y2="370.09" stroke="#333" stroke-width="0.7"/>
<line x1="436.97" y1="385.40" x2="436.97" y2="387.00" stroke="#333" stroke-width="0.7"/>
<line x1="415.00" y1="368.77" x2="416.60" y2="368.77" stroke="#333" stroke-width="0.7"/>
<line x1="438.36" y1="385.40" x2="438.36" y2="387.00" stroke="#333" stroke-width="0.7"/>
<line x1="415.00" y1="367.63" x2="416.60" y2="367.63" stroke="#333" stroke-width="0.7"/>
<line x1="439.60" y1="385.40" x2="439.60" y2="387.00" stroke="#333" stroke-width="0.7"/>
<line x1="415.00" y1="366.63" x2="416.60" y2="366.63" stroke="#333" stroke-width="0.7"/>
<line x1="447.95" y1="385.40" x2="447.95" y2="387.00" stroke="#333" stroke-width="0.7"/>
<line x1="415.00" y1="359.80" x2="416.60" y2="359.80" stroke="#333" stroke-width="0.7"/>
<line x1="452.20" y1="385.40" x2="452.20" y2="387.00" stroke="#333" stroke-width="0.7"/>
<line x1="415.00" y1="356.34" x2="416.60" y2="356.34" stroke="#333" stroke-width="0.7"/>
<line x1="455.21" y1="385.40" x2="455.21" y2="387.00" stroke="#333" stroke-width="0.7"/>
<line x1="415.00" y1="353.88" x2="416.60" y2="353.88" stroke="#333" stroke-width="0.7"/>
<line x1="457.55" y1="385.40" x2="457.55" y2="387.00" stroke="#333" stroke-width="0.7"/>
<line x1="415.00" y1="351.97" x2="416.60" y2="351.97" stroke="#333" stroke-width="0.7"/>
<line x1="459.45" y1="385.40" x2="459.45" y2="387.00" stroke="#333" stroke-width="0.7"/>
<line x1="415.00" y1="350.41" x2="416.60" y2="350.41" stroke="#333" stroke-width="0.7"/>
<line x1="461.07" y1="385.40" x2="461.07" y2="387.00" stroke="#333" stroke-width="0.7"/>
<line x1="415.00" y1="349.10" x2="416.60" y2="349.10" stroke="#333" stroke-width="0.7"/>
<line x1="462.46" y1="385.40" x2="462.46" y2="387.00" stroke="#333" stroke-width="0.7"/>
<line x1="415.00" y1="347.96" x2="416.60" y2="347.96" stroke="#333" stroke-width="0.7"/>
<line x1="463.70" y1="385.40" x2="463.70" y2="387.00" stroke="#333" stroke-width="0.7"/>
<line x1="415.00" y1="346.95" x2="416.60" y2="346.95" stroke="#333" stroke-width="0.7"/>
<line x1="472.05" y1="385.40" x2="472.05" y2="387.00" stroke="#333" stroke-width="0.7"/>
<line x1="415.00" y1="340.13" x2="416.60" y2="340.13" stroke="#333" stroke-width="0.7"/>
<line x1="476.30" y1="385.40" x2="476.30" y2="387.00" stroke="#333" stroke-width="0.7"/>
<line x1="415.00" y1="336.66" x2="416.60" y2="336.66" stroke="#333" stroke-width="0.7"/>
<line x1="479.31" y1="385.40" x2="479.31" y2="387.00" stroke="#333" stroke-width="0.7"/>
<line x1="415.00" y1="334.20" x2="416.60" y2="334.20" stroke="#333" stroke-width="0.7"/>
<line x1="481.65" y1="385.40" x2="481.65" y2="387.00" stroke="#333" stroke-width="0.7"/>
<line x1="415.00" y1="332.30" x2="416.60" y2="332.30" stroke="#333" stroke-width="0.7"/>
<line x1="483.55" y1="385.40" x2="483.55" y2="387.00" stroke="#333" stroke-width="0.7"/>
<line x1="415.00" y1="330.74" x2="416.60" y2="330.74" stroke="#333" stroke-width="0.7"/>
<line x1="485.17" y1="385.40" x2="485.17" y2="387.00" stroke="#333" stroke-width="0.7"/>
<line x1="415.00" y1="329.42" x2="416.60" y2="329.42" stroke="#333" stroke-width="0.7"/>
<line x1="486.56" y1="385.40" x2="486.56" y2="387.00" stroke="#333" stroke-width="0.7"/>
<line x1="415.00" y1="328.28" x2="416.60" y2="328.28" stroke="#333" stroke-width="0.7"/>
<line x1="487.80" y1="385.40" x2="487.80" y2="387.00" stroke="#333" stroke-width="0.7"/>
<line x1="415.00" y1="327.28" x2="416.60" y2="327.28" stroke="#333" stroke-width="0.7"/>
<line x1="496.15" y1="385.40" x2="496.15" y2="387.00" stroke="#333" stroke-width="0.7"/>
<line x1="415.00" y1="320.45" x2="416.60" y2="320.45" stroke="#333" stroke-width="0.7"/>
<line x1="500.40" y1="385.40" x2="500.40" y2="387.00" stroke="#333" stroke-width="0.7"/>
<line x1="415.00" y1="316.99" x2="416.60" y2="316.99" stroke="#333" stroke-width="0.7"/>
<line x1="503.41" y1="385.40" x2="503.41" y2="387.00" stroke="#333" stroke-width="0.7"/>
<line x1="415.00" y1="314.53" x2="416.60" y2="314.53" stroke="#333" stroke-width="0.7"/>
<line x1="505.75" y1="385.40" x2="505.75" y2="387.00" stroke="#333" stroke-width="0.7"/>
<line x1="415.00" y1="312.62" x2="416.60" y2="312.62" stroke="#333" stroke-width="0.7"/>
<line x1="507.65" y1="385.40" x2="507.65" y2="387.00" stroke="#333" stroke-width="0.7"/>
<line x1="415.00" y1="311.06" x2="416.60" y2="311.06" stroke="#333" stroke-width="0.7"/>
<line x1="509.27" y1="385.40" x2="509.27" y2="387.00" stroke="#333" stroke-width="0.7"/>
<line x1="415.00" y1="309.75" x2="416.60" y2="309.75" stroke="#333" stroke-width="0.7"/>
<line x1="510.66" y1="385.40" x2="510.66" y2="387.00" stroke="#333" stroke-width="0.7"/>
<line x1="415.00" y1="308.61" x2="416.60" y2="308.61" stroke="#333" stroke-width="0.7"/>
<line x1="511.90" y1="385.40" x2="511.90" y2="387.00" stroke="#333" stroke-width="0.7"/>
<line x1="415.00" y1="307.60" x2="416.60" y2="307.60" stroke="#333" stroke-width="0.7"/>
<line x1="416.60" y1="385.40" x2="416.60" y2="387.90" stroke="#222" stroke-width="0.9"/>
<line x1="414.10" y1="385.40" x2="416.60" y2="385.40" stroke="#222" stroke-width="0.9"/>
<text x="412.00" y="394.40" font-size="8.2">10<tspan dy="-3.2" font-size="5.6">0</tspan></text>
<text transform="translate(413.70,385.40) rotate(-90)" x="-4.2" font-size="7.5">10<tspan dy="-3" font-size="5">0</tspan></text>
<line x1="440.70" y1="385.40" x2="440.70" y2="387.90" stroke="#222" stroke-width="0.9"/>
<line x1="414.10" y1="365.72" x2="416.60" y2="365.72" stroke="#222" stroke-width="0.9"/>
<text x="436.10" y="394.40" font-size="8.2">10<tspan dy="-3.2" font-size="5.6">1</tspan></text>
<text transform="translate(413.70,365.72) rotate(-90)" x="-4.2" font-size="7.5">10<tspan dy="-3" font-size="5">1</tspan></text>
<line x1="464.80" y1="385.40" x2="464.80" y2="387.90" stroke="#222" stroke-width="0.9"/>
<line x1="414.10" y1="346.05" x2="416.60" y2="346.05" stroke="#222" stroke-width="0.9"/>
<text x="460.20" y="394.40" font-size="8.2">10<tspan dy="-3.2" font-size="5.6">2</tspan></text>
<text transform="translate(413.70,346.05) rotate(-90)" x="-4.2" font-size="7.5">10<tspan dy="-3" font-size="5">2</tspan></text>
<line x1="488.90" y1="385.40" x2="488.90" y2="387.90" stroke="#222" stroke-width="0.9"/>
<line x1="414.10" y1="326.38" x2="416.60" y2="326.38" stroke="#222" stroke-width="0.9"/>
<text x="484.30" y="394.40" font-size="8.2">10<tspan dy="-3.2" font-size="5.6">3</tspan></text>
<text transform="translate(413.70,326.38) rotate(-90)" x="-4.2" font-size="7.5">10<tspan dy="-3" font-size="5">3</tspan></text>
<line x1="513.00" y1="385.40" x2="513.00" y2="387.90" stroke="#222" stroke-width="0.9"/>
<line x1="414.10" y1="306.70" x2="416.60" y2="306.70" stroke="#222" stroke-width="0.9"/>
<text x="508.40" y="394.40" font-size="8.2">10<tspan dy="-3.2" font-size="5.6">4</tspan></text>
<text transform="translate(413.70,306.70) rotate(-90)" x="-4.2" font-size="7.5">10<tspan dy="-3" font-size="5">4</tspan></text>
<text x="462.2" y="304.5" font-size="9.6" text-anchor="middle">Data.028</text>
<text transform="translate(402.30,347.55) rotate(-90)" font-size="8.9" text-anchor="middle">CD11b PE</text>
<text x="463" y="411" font-size="9.1" text-anchor="middle">CD15 APC</text>
<rect x="417.00" y="434.30" width="96.00" height="79.40" fill="#fff" stroke="#4a4a4a" stroke-width="1.15"/>
<path d="M479.4 494.7h1M490.1 488.5h1M488.0 503.2h1M486.5 489.8h1M493.1 489.3h1M483.6 489.4h1M494.1 479.7h1M483.7 465.4h1M491.5 472.5h1M484.4 469.9h1M488.4 479.9h1M481.4 488.2h1M480.3 466.6h1M485.1 494.6h1M486.1 482.8h1M479.4 462.5h1M494.0 466.8h1M488.1 475.8h1M496.7 468.2h1M479.7 481.7h1M487.4 474.6h1M484.6 492.8h1M487.3 488.6h1M484.4 483.1h1M490.6 485.2h1M484.7 480.4h1M480.2 488.5h1M479.6 493.8h1M487.4 495.0h1M483.3 474.6h1M484.5 482.6h1M490.4 459.6h1M485.4 461.9h1M492.3 474.6h1M490.1 461.8h1M474.3 486.1h1M483.2 463.2h1M486.9 467.6h1M490.3 487.2h1M488.1 471.5h1M488.1 477.5h1M485.9 479.6h1M488.1 476.3h1M482.1 481.7h1M490.1 455.0h1M485.7 489.7h1M485.8 494.7h1M484.3 478.9h1M493.4 495.9h1M483.5 478.0h1M489.7 493.4h1M480.3 488.3h1M486.8 484.1h1M487.9 477.0h1M487.7 478.7h1M485.0 480.4h1M485.9 501.3h1M489.9 488.1h1M485.4 469.1h1M485.4 470.1h1M489.6 466.4h1M481.1 480.7h1M482.1 486.3h1M487.8 463.3h1M483.2 481.2h1M488.0 489.3h1M490.2 482.8h1M491.2 484.3h1M487.5 484.9h1M484.7 446.6h1M483.8 503.8h1M484.4 479.1h1M488.5 458.9h1M492.8 503.5h1M482.6 477.9h1M488.2 474.1h1M489.3 475.9h1M481.2 484.1h1M489.5 466.9h1M486.2 490.9h1M485.9 498.4h1M486.0 477.2h1M476.9 487.4h1M486.7 482.4h1M482.7 470.5h1M484.2 495.5h1M489.8 477.1h1M496.0 465.8h1M483.6 471.7h1M483.6 463.2h1M484.2 469.1h1M476.5 467.2h1M489.1 494.8h1M488.3 488.5h1M483.3 487.8h1M494.3 465.9h1M486.3 475.7h1M485.0 468.4h1M487.4 486.3h1M489.1 465.8h1M479.8 471.1h1M487.4 491.4h1M482.9 477.7h1M485.0 489.7h1M488.3 472.1h1M481.2 483.9h1M479.3 495.6h1M487.5 470.7h1M489.3 479.4h1M476.5 487.4h1M484.1 496.5h1M483.0 480.5h1M488.6 467.5h1M487.1 486.2h1M492.4 472.7h1M488.5 485.1h1M487.3 481.6h1M490.3 494.5h1M486.6 494.0h1M481.5 482.3h1M483.9 478.3h1M486.1 470.7h1M483.3 481.5h1M485.1 460.2h1M487.4 480.7h1M480.8 469.9h1M486.0 458.4h1M488.4 473.4h1M491.4 463.3h1M485.2 478.1h1M488.8 482.2h1M478.6 490.0h1M487.8 473.6h1M486.9 487.3h1M487.7 469.8h1M486.0 478.2h1M485.6 495.1h1M491.9 485.9h1M481.0 492.4h1M478.0 467.6h1M485.3 493.1h1M485.7 473.9h1M488.3 466.3h1M489.6 469.7h1M485.8 483.5h1M485.0 487.1h1M490.9 480.1h1M488.3 500.5h1M479.8 497.2h1M486.0 482.1h1M488.2 474.9h1M488.1 503.5h1M491.6 494.0h1M486.4 496.5h1M490.7 473.5h1M484.4 491.2h1M482.9 500.1h1M485.9 466.2h1M485.6 465.2h1M483.9 480.1h1M481.2 481.7h1M489.4 453.9h1M489.6 491.8h1M488.0 476.0h1M490.9 476.9h1M487.3 466.8h1M489.0 475.3h1M479.2 481.7h1M482.3 477.0h1M489.6 486.3h1M487.9 466.6h1M484.2 468.9h1M491.0 482.7h1M488.7 486.4h1M485.6 475.1h1M486.8 488.2h1M487.8 482.8h1M491.6 500.5h1M487.7 497.7h1M481.6 471.8h1M482.3 482.7h1M485.0 458.0h1M486.3 507.4h1M486.0 482.8h1M481.0 483.0h1M489.4 484.2h1M487.4 484.2h1M489.1 481.5h1M478.5 467.7h1M486.2 475.3h1M483.3 488.3h1M486.1 483.1h1M484.4 489.6h1M489.2 488.5h1M485.7 477.8h1M483.5 475.6h1M482.0 473.6h1M487.8 489.5h1M486.7 479.5h1M492.1 481.4h1M484.9 491.4h1M479.8 489.1h1M483.2 475.2h1M484.1 484.7h1M483.3 471.7h1M481.0 464.0h1M487.6 469.3h1M489.1 483.9h1M489.7 500.5h1M483.7 459.4h1M486.8 498.6h1M487.0 485.2h1M487.8 464.6h1M482.3 479.0h1M492.8 485.1h1M481.1 478.5h1M482.6 479.2h1M484.2 452.2h1M482.4 485.1h1M485.5 479.4h1M484.5 475.1h1M485.0 476.7h1M488.0 478.9h1M482.8 474.7h1M483.4 486.2h1M485.1 505.4h1M487.0 503.6h1M489.6 484.0h1M485.5 485.4h1M482.5 476.4h1M489.3 469.3h1M492.7 452.1h1M484.8 491.3h1M493.3 500.6h1M476.6 493.4h1M488.5 456.9h1M487.5 466.3h1M487.5 475.3h1M485.9 476.3h1M485.7 460.2h1M490.0 469.6h1M487.6 472.0h1M485.3 486.7h1M486.4 470.1h1M488.8 478.2h1M481.2 468.8h1M486.7 487.8h1M491.1 493.5h1M486.8 457.9h1M486.1 481.4h1M493.3 490.5h1M485.2 477.4h1M488.7 487.2h1M489.1 478.1h1M483.7 495.5h1M482.7 494.3h1M482.2 494.5h1M480.3 469.4h1M485.5 475.7h1M484.2 477.5h1M483.7 476.3h1M486.1 474.6h1M486.2 472.5h1M480.4 466.4h1M482.5 488.0h1M481.6 480.1h1M480.2 461.4h1M490.6 468.5h1M486.4 470.5h1M485.9 474.3h1M489.8 464.6h1M483.7 481.2h1M479.5 488.3h1M486.9 470.4h1M483.5 497.3h1M490.2 500.1h1M487.6 468.5h1M481.8 492.2h1M479.5 496.5h1M490.1 495.2h1M488.9 498.6h1M479.4 482.4h1M488.2 499.9h1M483.4 489.1h1M487.5 452.9h1M485.5 468.8h1M480.5 485.8h1M482.6 484.5h1M488.6 472.5h1M483.4 461.9h1M489.6 476.3h1M488.2 478.2h1M479.7 466.2h1M491.7 477.2h1M483.9 485.2h1M490.9 471.7h1M480.0 486.6h1M493.2 455.9h1M485.7 481.0h1M485.3 483.4h1M485.4 477.4h1M484.3 455.5h1M489.8 473.6h1M484.1 490.7h1M485.9 477.6h1M489.8 502.3h1M491.3 471.2h1M490.0 468.1h1M481.0 480.3h1M484.9 473.9h1M490.8 491.8h1M483.7 458.4h1M487.6 491.9h1M488.2 485.2h1M490.7 488.1h1M476.8 474.5h1M483.1 484.9h1M485.8 459.5h1M485.3 470.2h1M487.7 454.8h1M486.3 478.4h1M482.4 470.4h1M488.1 490.3h1M480.8 475.9h1M483.6 485.0h1M482.8 488.9h1M487.0 481.1h1M487.7 472.5h1M490.7 462.8h1M483.9 474.0h1M484.1 476.8h1M486.3 470.7h1M484.4 471.6h1M484.7 480.9h1M488.6 469.5h1M483.2 501.8h1M482.8 489.1h1M481.3 475.8h1M482.6 472.1h1M484.3 477.7h1M482.2 504.4h1M488.8 486.2h1M478.9 458.4h1M481.0 489.2h1M475.3 475.4h1M484.6 466.5h1M493.6 492.3h1M491.3 471.9h1M484.8 479.2h1M484.7 476.7h1M485.4 461.6h1M487.0 466.1h1M480.6 511.1h1M481.3 498.7h1M489.7 475.5h1M490.4 485.4h1M484.6 495.2h1M488.2 473.3h1M492.4 485.4h1M489.7 454.4h1M484.6 485.4h1M482.7 470.0h1M492.0 470.4h1M484.7 479.8h1M488.0 480.2h1M485.7 488.4h1M482.7 477.2h1M485.2 479.1h1M484.6 472.4h1M488.9 494.3h1M490.5 482.9h1M490.3 481.1h1M491.4 479.5h1M484.6 486.0h1M486.3 465.8h1M481.5 481.4h1M483.5 477.2h1M480.8 482.9h1M493.3 479.5h1M485.7 491.1h1M484.3 497.6h1M487.0 489.5h1M487.7 474.7h1M482.5 507.5h1M492.5 469.4h1M485.4 472.2h1M482.9 474.4h1M481.9 485.4h1M484.8 467.6h1M491.4 486.1h1M489.4 479.4h1M487.7 495.9h1M485.0 489.7h1M488.9 460.9h1M488.0 466.4h1M481.2 470.1h1M480.8 478.3h1M485.1 480.7h1M491.8 477.2h1M484.9 489.3h1M487.4 489.4h1M480.6 475.9h1M493.5 471.2h1M488.0 480.4h1M483.0 499.9h1M475.8 492.5h1M477.3 467.6h1M485.9 479.6h1M483.3 471.1h1M482.3 486.0h1M486.6 470.5h1M485.1 476.0h1M479.0 476.3h1M486.7 484.1h1M488.6 486.3h1M484.3 501.2h1M491.2 482.2h1M490.4 475.4h1M484.1 474.0h1M485.3 467.0h1M493.1 504.3h1M487.9 480.9h1M481.7 493.5h1M485.1 475.0h1M482.7 457.7h1M484.5 472.4h1M476.8 477.2h1M483.8 484.9h1M488.1 485.2h1M492.8 477.5h1M485.6 459.4h1M491.4 480.4h1M487.9 478.3h1M493.8 481.7h1M482.2 475.5h1M487.4 473.6h1M476.4 496.4h1M491.3 464.2h1M482.8 474.5h1M482.2 474.0h1M486.1 466.8h1M492.5 470.3h1M487.8 449.8h1M492.4 471.1h1M487.7 467.7h1M487.9 498.9h1M485.0 472.0h1M491.5 481.8h1M488.2 481.2h1M486.0 466.3h1M484.6 494.4h1M484.2 473.7h1M487.8 493.2h1M482.8 484.2h1M489.9 458.5h1M489.1 474.3h1M483.4 485.6h1M489.4 466.3h1M476.4 454.2h1M482.4 498.1h1M489.9 481.6h1M481.7 504.3h1M489.3 477.2h1M482.5 479.2h1M478.9 490.6h1M485.5 491.1h1M482.9 479.3h1M489.8 476.3h1M490.1 482.3h1M484.1 486.2h1M485.8 476.0h1M491.2 473.9h1M492.5 465.5h1M482.1 470.9h1M480.5 478.9h1M492.2 499.1h1M492.7 496.3h1M478.4 494.2h1M482.8 487.2h1M484.5 489.5h1M482.0 473.9h1M490.0 486.1h1M487.1 466.3h1M485.2 484.6h1M490.4 476.9h1M488.6 495.0h1M488.7 487.7h1M485.4 472.4h1M482.0 479.7h1M493.2 488.8h1M484.8 503.6h1M482.5 473.7h1M485.4 487.4h1M481.3 493.1h1M483.3 481.2h1M484.8 482.4h1M488.9 457.3h1M486.3 480.0h1M481.9 478.3h1M488.8 479.7h1M486.5 499.2h1M490.3 473.0h1M484.8 476.9h1M488.1 479.2h1M486.1 465.0h1M484.0 478.7h1M479.5 499.3h1M486.5 479.0h1M491.5 481.9h1M484.4 454.5h1M480.1 469.0h1M487.3 472.3h1M493.3 476.0h1M487.0 461.4h1M486.2 483.0h1M484.8 487.1h1M484.8 485.6h1M482.2 473.9h1M488.6 474.7h1M488.7 474.0h1M485.8 477.6h1M481.3 495.1h1M489.4 478.9h1M487.4 486.6h1M484.2 496.5h1M492.9 481.5h1M488.1 466.5h1M487.3 487.3h1M482.8 485.4h1M485.6 482.2h1M486.7 484.8h1M490.0 502.1h1M490.0 505.4h1M489.0 485.7h1M483.0 496.2h1M480.6 463.3h1M484.8 489.6h1M486.6 477.3h1M484.6 490.0h1M484.2 471.2h1M485.4 489.6h1M490.1 487.7h1M482.9 477.6h1M484.0 466.3h1M486.8 468.5h1M486.7 465.3h1M489.1 475.6h1M486.4 467.6h1M479.8 488.6h1M483.8 484.3h1M480.1 469.4h1M483.6 480.8h1M488.8 475.7h1M489.4 444.6h1M485.6 506.5h1M485.4 475.3h1M495.4 490.4h1M474.0 470.3h1M485.5 483.4h1M485.0 478.0h1M487.1 454.3h1M487.0 471.4h1M482.3 474.1h1M491.2 458.4h1M487.2 478.8h1M487.8 497.9h1M476.8 482.6h1M489.3 493.2h1M479.9 466.7h1M485.1 484.3h1M480.7 496.7h1M488.3 478.9h1M481.0 485.0h1M484.0 462.9h1M482.6 504.7h1M489.2 474.3h1M491.2 485.0h1M483.2 471.7h1M484.9 489.3h1M481.8 479.5h1M482.7 470.6h1M483.0 472.3h1M484.4 475.9h1M492.7 492.3h1M491.9 475.8h1M477.1 485.4h1M480.2 482.9h1M483.8 492.5h1M491.3 498.1h1M482.0 474.0h1M482.4 492.3h1M489.7 478.8h1M488.6 478.3h1M487.2 502.4h1M483.6 488.0h1M486.5 448.5h1M488.0 480.1h1M483.5 480.4h1M486.2 472.9h1M480.5 469.4h1M485.7 482.9h1M483.8 486.5h1M482.3 478.2h1M489.1 475.3h1M484.8 499.9h1M483.0 485.1h1M483.7 462.8h1M484.7 477.1h1M486.6 470.5h1M483.8 493.1h1M488.1 484.6h1M488.4 491.5h1M486.2 491.5h1M481.7 465.1h1M482.1 474.8h1M485.1 471.1h1M484.3 479.6h1M493.4 484.0h1M483.8 468.6h1M490.3 466.5h1M480.8 490.2h1M480.5 485.6h1M486.0 484.5h1M479.1 480.8h1M486.7 482.3h1M486.4 495.4h1M483.2 479.6h1M489.1 486.4h1M489.5 488.9h1M480.5 478.4h1M491.6 481.2h1M483.4 494.7h1M491.3 504.2h1M482.2 490.1h1M489.7 488.3h1M484.4 506.0h1M490.7 477.3h1M489.5 493.8h1M483.6 474.6h1M487.9 483.6h1M483.3 491.1h1M490.3 462.2h1M485.5 479.5h1M480.5 491.7h1M484.7 480.3h1M485.9 485.9h1M481.1 488.4h1M482.7 475.6h1M491.0 493.1h1M488.8 481.6h1M483.6 478.1h1M485.7 496.5h1M495.4 496.4h1M488.4 467.1h1M487.7 476.9h1M488.5 453.8h1M487.3 470.8h1M489.4 485.8h1M487.4 480.9h1M480.3 477.4h1M484.2 473.6h1M486.8 476.9h1M490.3 483.5h1M482.1 503.8h1M487.9 482.5h1M488.8 477.9h1M488.8 454.6h1M478.8 478.4h1M493.6 477.8h1M494.2 479.5h1M487.3 506.6h1M488.9 477.3h1M493.2 497.9h1M482.8 485.0h1M479.2 498.8h1M486.5 478.4h1M483.9 486.9h1M489.8 482.8h1M483.0 481.6h1M486.9 490.3h1M483.5 469.6h1M485.6 503.1h1M484.4 487.4h1M486.1 479.3h1M489.2 475.2h1M489.5 493.6h1M483.8 476.4h1M490.5 457.6h1M481.5 477.4h1M489.4 467.6h1M489.2 477.7h1M489.9 483.3h1M475.1 484.1h1M481.2 497.0h1M486.8 498.8h1M484.2 472.0h1M487.7 471.4h1M481.0 487.1h1M491.3 459.4h1M481.1 485.5h1M490.9 493.0h1M488.3 486.7h1M474.7 474.7h1M483.1 489.6h1M484.6 504.6h1M483.2 487.7h1M484.2 463.8h1M486.3 506.0h1M490.3 457.6h1M483.0 495.0h1M486.2 482.3h1M486.6 471.7h1M487.6 462.1h1M482.8 492.8h1M489.3 488.8h1M491.9 487.6h1M483.2 480.9h1M488.3 490.3h1M486.4 455.1h1M484.7 471.8h1M492.3 481.9h1M483.5 485.7h1M487.0 474.0h1M497.0 485.6h1M483.9 469.4h1M484.8 492.3h1M479.7 482.9h1M488.9 461.2h1M489.2 468.6h1M487.4 475.0h1M483.0 494.9h1M490.7 471.3h1M485.5 480.9h1M482.2 491.4h1M481.1 480.3h1M488.7 464.8h1M486.9 495.1h1M485.6 463.2h1M486.0 484.5h1M482.8 494.5h1M484.7 484.4h1M484.7 479.6h1M481.3 486.5h1M487.5 477.0h1M490.4 490.9h1M490.6 482.8h1M485.6 495.8h1M492.2 504.1h1M485.6 477.2h1M485.6 475.0h1M487.2 484.8h1M488.0 475.9h1M489.7 495.0h1M484.8 488.5h1M492.7 477.0h1M483.1 481.2h1M492.6 491.4h1M492.6 462.8h1M489.5 469.0h1M483.7 481.5h1M482.1 469.3h1M484.6 465.8h1M485.1 492.6h1M485.1 503.5h1M486.1 472.3h1M483.2 500.2h1M490.1 480.5h1M488.1 474.6h1M485.3 478.5h1M485.1 479.0h1M479.9 489.4h1M484.2 465.3h1M482.3 462.3h1M485.5 466.0h1M484.8 460.2h1M490.0 472.4h1M479.4 461.2h1M481.4 461.4h1M488.2 469.1h1M485.0 470.1h1M487.9 478.1h1M482.5 463.0h1M491.1 479.3h1M482.8 471.5h1M486.1 488.1h1M492.9 479.5h1M488.7 470.9h1M484.0 502.0h1M488.7 506.5h1M491.6 483.7h1M476.0 482.5h1M485.2 483.1h1M488.7 462.8h1M482.4 473.5h1M490.5 505.9h1M492.9 498.2h1M493.3 464.9h1M481.9 468.0h1M484.6 484.3h1M484.6 500.5h1M485.9 487.9h1M484.9 471.4h1M486.6 475.2h1M489.3 478.6h1M487.1 477.0h1M487.9 499.6h1M488.4 484.2h1M489.1 494.2h1M485.3 480.1h1M486.1 475.8h1M481.3 462.5h1M491.6 466.9h1M490.1 483.5h1M487.3 477.7h1M478.4 470.7h1M484.1 477.4h1M480.6 473.1h1M489.1 487.3h1M490.2 486.7h1M488.3 470.6h1M484.1 479.6h1M482.3 480.5h1M485.9 476.4h1M491.9 459.5h1M489.1 491.8h1M488.6 500.5h1M492.5 487.4h1M480.8 474.7h1M485.1 491.4h1M488.6 492.5h1M485.8 472.2h1M486.2 467.5h1M489.2 478.4h1M487.1 502.5h1M486.5 477.2h1M484.3 479.4h1M481.7 483.3h1M487.0 470.6h1M488.1 491.5h1M490.4 477.2h1M492.8 484.2h1M486.0 486.4h1M491.0 466.3h1M491.4 492.0h1M481.8 474.1h1M486.0 496.6h1M488.6 451.8h1M491.6 465.5h1M478.3 493.3h1M486.0 484.4h1M481.3 487.6h1M489.6 463.7h1M485.6 457.2h1M488.9 485.5h1M495.0 484.5h1M485.4 494.6h1M483.2 478.8h1M494.3 482.7h1M485.7 488.8h1M476.2 466.4h1M483.0 479.5h1M481.6 484.8h1M485.1 489.2h1M487.2 473.1h1M485.9 474.8h1M487.8 471.6h1M485.6 460.4h1M489.4 487.0h1M491.1 486.8h1M496.2 483.3h1M478.0 474.2h1M478.6 454.5h1M479.2 479.9h1M488.7 462.8h1M486.2 459.0h1M490.6 490.4h1M480.4 482.9h1M491.6 468.4h1M484.3 498.9h1M488.9 490.4h1M490.1 476.0h1M488.3 469.6h1M485.4 487.3h1M492.1 473.5h1M482.4 470.7h1M485.1 463.6h1M482.7 478.0h1M486.5 493.5h1M480.5 487.2h1M492.2 476.4h1M487.9 492.9h1M489.0 494.1h1M487.7 484.2h1M484.5 486.3h1M495.7 501.5h1M486.0 482.7h1M488.0 508.8h1M488.1 487.9h1M484.9 482.1h1M480.5 490.5h1M492.3 493.7h1M484.8 478.5h1M485.6 504.6h1M490.0 474.6h1M478.1 468.2h1M484.3 481.3h1M483.4 471.9h1M485.1 473.8h1M489.4 454.0h1M484.8 477.2h1M489.5 477.4h1M495.1 484.7h1M489.5 455.3h1M474.7 492.7h1M485.8 487.8h1M486.2 479.4h1M484.7 485.7h1M490.1 472.3h1M489.5 480.9h1M483.3 470.1h1M492.9 479.6h1M490.5 486.2h1M478.2 503.5h1M483.4 476.5h1M482.0 485.8h1M484.1 500.2h1M482.0 471.5h1M486.0 465.0h1M487.4 473.6h1M487.9 474.9h1M490.5 483.2h1M484.0 489.4h1M483.8 495.5h1M489.6 469.8h1M483.4 465.5h1M480.1 462.3h1M482.4 484.0h1M491.8 500.5h1M483.4 484.6h1M485.0 480.2h1M478.4 493.9h1M486.3 478.4h1M488.8 485.2h1M488.5 475.6h1M490.5 466.2h1M485.5 484.8h1M483.2 493.7h1M488.0 460.1h1M484.6 481.4h1M487.8 472.1h1M482.3 490.8h1M488.7 463.6h1M491.1 467.3h1M483.7 497.3h1M485.0 508.0h1M485.6 479.3h1M489.3 485.7h1M483.2 484.5h1M479.8 476.5h1M486.7 468.2h1M483.8 480.4h1M483.0 483.0h1M486.2 479.9h1M490.1 492.2h1M484.4 468.3h1M493.9 459.3h1M485.7 454.9h1M486.2 461.6h1M488.4 482.8h1M488.8 472.8h1M482.2 471.9h1M482.9 470.6h1M489.5 500.2h1M477.9 487.7h1M488.5 479.0h1M489.8 459.1h1M485.9 467.2h1M485.5 483.1h1M487.8 479.9h1M492.0 494.1h1M486.5 496.5h1M481.5 456.2h1M488.5 474.4h1M484.4 494.3h1M486.3 472.2h1M488.7 482.6h1M485.1 489.4h1M484.3 450.6h1M485.3 444.6h1M494.9 484.6h1M487.6 467.7h1M483.2 486.7h1M488.8 473.4h1M483.7 483.3h1M488.7 478.8h1M483.1 477.9h1M485.5 485.0h1M481.3 481.9h1M484.5 479.7h1M492.2 463.0h1M487.0 482.1h1M491.6 490.7h1M483.3 492.6h1M483.6 483.1h1M487.6 477.6h1M481.8 494.7h1M487.6 489.7h1M497.7 468.1h1M490.9 479.1h1M487.5 479.8h1M486.3 491.2h1M491.1 480.6h1M496.0 493.8h1M479.0 484.2h1M488.2 463.3h1M480.3 468.5h1M479.6 494.4h1M486.8 460.9h1M489.3 495.0h1M489.1 466.7h1M487.3 468.3h1M481.0 443.5h1M485.4 484.8h1M470.4 485.2h1M489.5 497.2h1M483.8 505.7h1M488.5 491.7h1M488.1 478.0h1M488.8 481.7h1M486.4 478.3h1M484.4 471.4h1M487.4 483.1h1M489.7 485.2h1M483.0 471.6h1M491.3 460.4h1M487.6 504.0h1M483.0 488.3h1M491.8 482.2h1M480.4 484.5h1M486.1 484.3h1M492.8 491.3h1M488.2 481.4h1M482.7 492.7h1M479.5 478.2h1M489.1 483.9h1M488.0 485.1h1M482.8 471.7h1M488.9 496.4h1M488.6 476.6h1M482.2 471.7h1M485.8 485.1h1M495.8 484.5h1M486.9 486.0h1M483.0 505.8h1M484.3 479.2h1M495.4 479.9h1M491.3 457.5h1M479.8 464.9h1M485.8 479.1h1M481.7 477.2h1M481.0 489.0h1M497.6 488.5h1M487.3 465.1h1M480.0 482.5h1M490.2 481.2h1M489.0 492.5h1M485.8 474.1h1M491.0 470.4h1M481.9 472.2h1M493.2 474.0h1M489.9 461.7h1M484.1 490.5h1M480.3 483.8h1M488.2 485.9h1M487.0 472.0h1M488.6 481.6h1M490.7 489.8h1M488.7 480.0h1M493.1 492.2h1M484.5 482.7h1M486.0 473.4h1M482.0 460.4h1M494.6 489.6h1M483.9 498.1h1M487.8 496.3h1M491.8 475.2h1M490.1 492.6h1M490.4 488.6h1M485.2 478.0h1M490.1 474.4h1M490.4 487.5h1M485.3 477.7h1M486.5 481.5h1M492.2 478.9h1M475.9 484.0h1M487.5 474.2h1M486.7 483.6h1M492.6 479.1h1M489.6 472.0h1M490.5 493.2h1M483.0 508.5h1M488.1 474.1h1M488.9 488.4h1M485.0 473.8h1M489.3 501.0h1M490.0 490.2h1M486.0 503.9h1M480.2 485.9h1M487.9 477.9h1M483.7 489.8h1M483.2 465.6h1M482.2 456.6h1M488.4 480.2h1M487.2 499.6h1M487.3 472.5h1M490.7 477.3h1M479.8 494.7h1M494.8 478.4h1M485.6 496.4h1M489.2 444.3h1M485.8 486.3h1M487.6 491.4h1M485.4 488.6h1M488.0 479.5h1M481.6 477.5h1M487.5 466.3h1M482.8 471.2h1M489.1 473.0h1M476.3 455.6h1M485.4 483.4h1M485.0 499.0h1M487.3 463.1h1M487.6 484.6h1M494.9 485.1h1M487.7 476.5h1M479.2 480.2h1M482.4 466.1h1M481.2 476.7h1M485.7 497.6h1M483.1 468.7h1M483.5 481.0h1M481.0 467.4h1M493.0 480.0h1M484.4 446.8h1M482.6 480.5h1M486.6 506.8h1M486.9 459.5h1M489.1 465.7h1M490.7 480.1h1M487.4 468.4h1M484.9 499.6h1M484.4 467.6h1M484.4 482.6h1M490.4 485.3h1M479.6 469.8h1M479.4 469.0h1M484.8 470.4h1M485.9 459.1h1M479.3 478.8h1M479.0 474.0h1M484.4 486.1h1M491.1 484.4h1M485.4 486.6h1M483.5 482.2h1M492.4 478.1h1M484.9 471.5h1M486.8 481.2h1M480.8 487.2h1M485.0 472.3h1M487.8 481.7h1M485.6 483.2h1M480.8 467.4h1M488.6 464.2h1M482.0 496.8h1M483.8 461.7h1M483.1 480.8h1M487.9 475.3h1M483.5 482.4h1M484.7 462.7h1M478.6 490.8h1M485.9 496.2h1M482.7 496.0h1M480.0 468.7h1M485.8 480.8h1M485.6 475.6h1M482.1 483.4h1M479.0 489.1h1M486.6 472.5h1M485.9 475.0h1M484.0 459.5h1M479.7 477.4h1M480.3 484.8h1M480.1 468.1h1M482.1 480.2h1" stroke="#ff3c14" stroke-width="1" fill="none" opacity="0.85"/>
<path d="M487.6 481.0h1M486.9 474.5h1M481.2 489.0h1M490.0 465.0h1M492.8 470.8h1M479.6 482.9h1M485.2 483.0h1M487.7 477.7h1M484.7 472.9h1M481.1 478.1h1M486.2 475.1h1M485.9 477.3h1M480.5 477.1h1M480.6 471.0h1M488.1 479.4h1M480.4 478.3h1M487.7 474.6h1M487.6 480.6h1M482.9 483.0h1M486.4 479.0h1M484.2 470.3h1M490.7 476.5h1M485.7 484.7h1M481.6 477.8h1M488.3 477.7h1M487.1 474.7h1M484.9 487.1h1M485.5 466.9h1M492.7 476.5h1M485.4 476.9h1M483.8 484.5h1M485.3 475.2h1M486.7 476.2h1M479.7 478.7h1M484.5 485.2h1M485.9 482.3h1M489.1 481.7h1M484.6 476.2h1M485.5 480.2h1M485.2 489.9h1M490.9 473.6h1M487.8 472.9h1M487.5 473.5h1M489.4 488.7h1M487.3 475.0h1M486.2 486.1h1M489.9 490.8h1M485.9 489.8h1M482.8 480.8h1M487.4 471.8h1M486.0 473.0h1M484.1 470.6h1M486.7 469.6h1M486.3 472.9h1M485.0 482.1h1M491.8 478.2h1M490.0 481.9h1M488.2 488.5h1M481.7 481.8h1M483.4 481.5h1M485.7 468.8h1M487.5 486.1h1M488.0 483.2h1M483.2 483.5h1M486.2 470.5h1M485.8 485.4h1M484.5 472.9h1M484.2 474.8h1M490.1 470.5h1M481.7 479.4h1M487.3 479.4h1M483.3 484.0h1M491.9 465.1h1M482.3 469.1h1M488.8 479.4h1M483.8 485.1h1M484.0 478.3h1M484.1 478.1h1M489.0 495.6h1M485.6 476.7h1M484.1 487.8h1M484.7 476.2h1M490.3 478.2h1M482.7 473.5h1M484.3 470.1h1M482.7 468.3h1M487.2 472.1h1M485.0 479.8h1M486.0 480.6h1M483.6 477.2h1M485.8 483.6h1M484.9 476.6h1M485.7 479.0h1M484.3 469.4h1M478.3 469.7h1M492.6 468.9h1M485.6 465.6h1M485.4 483.3h1M483.2 477.2h1M484.0 472.9h1M485.5 469.7h1M488.2 482.4h1M487.4 490.0h1M486.4 501.1h1M482.2 470.4h1M488.2 480.0h1M486.1 484.8h1M486.1 487.6h1M485.6 475.5h1M487.6 478.9h1M483.2 469.7h1M485.1 486.5h1M487.7 486.6h1M489.2 480.5h1M487.7 477.3h1M488.8 484.1h1M486.0 471.7h1M487.9 489.1h1M490.1 488.1h1M486.0 474.3h1M487.5 488.7h1M487.3 472.3h1M484.7 481.3h1M488.5 475.8h1M483.2 483.5h1M485.2 472.0h1M485.9 478.6h1M486.9 472.5h1M483.8 464.1h1M486.0 478.5h1M486.9 477.6h1M485.2 479.6h1M485.7 489.6h1M481.6 496.8h1M482.7 484.6h1M483.4 466.3h1M484.6 457.8h1M483.3 477.6h1M487.2 475.0h1M488.4 473.8h1M490.9 473.1h1M482.5 478.1h1M486.6 483.3h1M491.1 467.7h1M487.5 475.2h1M484.2 497.4h1M487.2 473.2h1M488.9 461.5h1M489.8 472.1h1M483.1 487.1h1M489.3 469.0h1M486.1 469.6h1M488.3 481.7h1M483.9 478.7h1M487.3 484.4h1M483.3 486.2h1M487.4 489.5h1M487.7 476.2h1M481.2 477.8h1M486.9 473.7h1M486.6 480.4h1M483.3 472.9h1M486.5 475.3h1M486.9 477.5h1M484.4 473.5h1M485.2 474.0h1M485.8 474.0h1M489.5 475.0h1M483.5 473.2h1M490.4 481.3h1M482.8 477.2h1M483.2 483.7h1M485.3 477.8h1M488.1 469.8h1M485.6 480.6h1M482.9 480.2h1M486.8 476.1h1M481.1 483.2h1M483.2 481.5h1M488.1 463.1h1M483.2 486.0h1M486.1 483.9h1M491.0 483.8h1M486.4 487.0h1M484.1 470.0h1M484.3 475.9h1M487.6 480.8h1M489.1 491.4h1M492.6 469.1h1M484.9 478.2h1M486.4 465.7h1M486.0 494.7h1M487.2 482.3h1M484.1 485.8h1M487.8 472.6h1M484.3 485.3h1M488.7 481.3h1M484.9 481.1h1M490.0 493.6h1M485.7 483.1h1M484.9 469.4h1M483.5 478.8h1M482.7 485.9h1M485.0 490.2h1M485.3 472.8h1M488.8 482.1h1M487.8 470.6h1M482.5 475.2h1M489.2 470.1h1M484.3 468.6h1M490.0 478.6h1M486.4 463.0h1M481.5 479.5h1M485.1 475.0h1M485.1 482.3h1M486.5 474.3h1M482.5 486.0h1M485.4 478.6h1M488.4 477.8h1M482.0 473.8h1M482.5 476.6h1M489.7 489.9h1M485.9 470.4h1M485.5 466.4h1M491.0 474.7h1M486.6 481.7h1M484.9 486.3h1M484.1 483.1h1M491.2 473.9h1M487.6 457.9h1M488.5 472.8h1M486.4 472.7h1M488.9 468.5h1M482.1 472.8h1M481.0 454.9h1M482.5 483.3h1M486.0 468.5h1M486.3 476.9h1M490.9 475.9h1M484.1 469.7h1M487.4 476.2h1M486.0 488.8h1M487.0 483.9h1M484.2 499.7h1M485.9 488.2h1M487.8 479.9h1M484.1 487.3h1M483.4 477.2h1M491.7 458.5h1M485.8 479.3h1M485.3 472.2h1M489.2 480.8h1M486.3 480.2h1M484.3 470.3h1M480.9 478.2h1M486.0 474.4h1M481.3 489.7h1M488.1 468.2h1M491.9 460.3h1M488.4 479.6h1M481.4 482.4h1M483.3 482.4h1M485.9 476.5h1M488.1 479.7h1M489.0 478.4h1M484.4 480.4h1M484.8 481.4h1M484.9 484.0h1M488.6 475.7h1M487.2 464.9h1M487.8 474.5h1M483.4 482.6h1M490.3 481.5h1M488.0 475.3h1M480.8 495.6h1M490.9 476.5h1M485.6 477.0h1M478.6 470.6h1M487.7 483.6h1M487.5 487.4h1M480.8 470.8h1M489.8 479.9h1M487.4 481.1h1M484.6 490.7h1M488.5 476.8h1M483.9 475.0h1M487.7 475.0h1M485.0 472.5h1M483.6 480.2h1M486.4 474.0h1M483.8 479.8h1M488.4 474.0h1M485.8 474.7h1M484.1 477.1h1M485.1 483.1h1M490.3 465.5h1M486.3 476.2h1M484.7 480.2h1M483.4 470.1h1M487.7 473.6h1M487.1 475.6h1M483.2 461.1h1M482.8 478.7h1M485.3 483.2h1M483.1 475.7h1M481.9 476.5h1M486.7 484.4h1M482.9 475.6h1M483.6 480.9h1M487.6 485.2h1M485.3 472.7h1M487.5 490.5h1M484.4 484.8h1M482.4 483.3h1M488.4 482.5h1M487.0 476.2h1M485.1 475.2h1M487.0 479.6h1M487.1 478.9h1M481.9 470.6h1M479.5 481.0h1M482.3 466.0h1M487.6 483.1h1M485.0 499.7h1M485.5 475.4h1M488.5 468.0h1M483.7 471.3h1M484.5 479.2h1M487.8 481.4h1M485.8 483.4h1M485.8 471.7h1M481.8 470.0h1M488.5 466.6h1M488.8 467.8h1M484.9 477.3h1M490.0 478.2h1M487.0 467.6h1M483.0 474.4h1M483.2 462.8h1M485.9 470.8h1M486.9 483.9h1M490.3 475.9h1M485.9 473.4h1M487.6 475.4h1M485.8 481.3h1M486.6 482.3h1M488.4 473.2h1M484.2 474.4h1M484.6 483.1h1M492.7 478.2h1M484.5 484.2h1M488.5 474.2h1M483.5 480.6h1M481.7 482.8h1M489.3 487.3h1M482.5 489.8h1M491.2 482.5h1M485.5 481.3h1M482.2 487.6h1M487.1 477.6h1M486.1 475.0h1M488.1 484.7h1M482.8 477.8h1M483.6 467.4h1M484.0 474.5h1M485.4 498.2h1M487.6 477.2h1M484.4 469.0h1M484.1 482.4h1M484.3 485.3h1M489.8 479.8h1M486.3 486.0h1M487.9 479.2h1M483.1 475.3h1M489.0 485.2h1M485.4 480.2h1M484.4 470.3h1M486.7 475.8h1M486.1 484.2h1M482.6 481.1h1M489.0 479.1h1M481.1 473.5h1M489.9 483.0h1M484.7 483.4h1M480.5 482.5h1M484.0 478.8h1M483.4 486.2h1M492.3 492.6h1M488.6 491.9h1M485.2 473.1h1M487.0 485.1h1M485.4 473.8h1M487.0 472.5h1M489.3 477.8h1M485.0 483.3h1M480.0 488.0h1M484.4 468.2h1M490.9 482.0h1M486.7 483.9h1M481.4 478.2h1M488.8 474.1h1M484.4 480.5h1M484.3 478.0h1M485.4 464.8h1M482.7 473.7h1M485.1 476.8h1M486.0 479.3h1M485.3 479.4h1M485.7 473.0h1M488.4 478.1h1M484.1 478.5h1M485.9 483.8h1M491.5 483.9h1M482.6 483.8h1M487.3 471.6h1M484.7 466.5h1M484.6 479.6h1M485.8 472.1h1M484.5 475.4h1M484.2 481.7h1M489.1 476.4h1M486.0 484.1h1M486.6 476.7h1M482.6 479.7h1M488.8 472.7h1M490.2 471.4h1M485.9 482.9h1M486.3 474.8h1M487.2 483.8h1M487.2 487.6h1M487.4 473.7h1M485.7 483.5h1M484.0 472.0h1M483.7 482.2h1M488.0 490.7h1M483.2 465.7h1M482.7 478.8h1M488.3 477.2h1M483.2 482.8h1M488.6 483.6h1M487.6 473.3h1M482.5 473.9h1M489.0 486.6h1M479.1 471.7h1M484.4 485.4h1M482.5 480.8h1M488.8 481.7h1M488.1 479.2h1M488.5 480.4h1M484.5 474.4h1M484.8 464.5h1M483.0 476.1h1M485.2 485.3h1M487.5 499.1h1M485.9 472.4h1M488.8 483.3h1M484.8 488.7h1M485.8 485.2h1M485.6 484.9h1M486.8 477.9h1M486.0 473.7h1M481.2 480.9h1M484.7 474.6h1M486.3 485.3h1M484.1 478.1h1M485.2 481.3h1M485.3 485.0h1M487.5 477.9h1M481.9 481.5h1M485.8 479.6h1M482.8 465.2h1M486.9 484.9h1M488.4 474.9h1M489.6 466.1h1M489.9 474.2h1M484.6 475.4h1M485.3 480.3h1M488.1 485.4h1M485.5 475.8h1M490.5 478.3h1M488.7 478.0h1M483.8 478.0h1M486.6 466.8h1M486.6 481.7h1M487.9 487.2h1M487.6 491.1h1M488.9 471.9h1M485.6 470.8h1M488.4 469.2h1M482.4 488.2h1M484.1 472.0h1M485.6 464.8h1M482.3 476.1h1M482.0 461.9h1M481.8 479.6h1M486.4 477.8h1M485.6 482.7h1M489.6 479.3h1M485.8 473.6h1M482.8 486.7h1" stroke="#ff4a1a" stroke-width="1" fill="none" opacity="0.85"/>
<path d="M467.9 457.9h1M436.1 486.1h1M502.7 477.4h1M468.1 465.7h1M460.7 450.1h1M459.8 463.2h1M463.5 451.7h1M498.2 453.7h1M480.6 464.7h1M464.7 452.5h1M488.7 451.0h1M481.7 452.5h1M466.0 481.3h1" stroke="#9a9a9a" stroke-width="1" fill="none" opacity="0.85"/>
<line x1="417.00" y1="434.30" x2="417.00" y2="513.70" stroke="#222" stroke-width="1.4"/>
<line x1="417.00" y1="513.70" x2="513.00" y2="513.70" stroke="#222" stroke-width="1.4"/>
<line x1="424.22" y1="513.70" x2="424.22" y2="515.30" stroke="#333" stroke-width="0.7"/>
<line x1="415.40" y1="507.72" x2="417.00" y2="507.72" stroke="#333" stroke-width="0.7"/>
<line x1="428.45" y1="513.70" x2="428.45" y2="515.30" stroke="#333" stroke-width="0.7"/>
<line x1="415.40" y1="504.23" x2="417.00" y2="504.23" stroke="#333" stroke-width="0.7"/>
<line x1="431.45" y1="513.70" x2="431.45" y2="515.30" stroke="#333" stroke-width="0.7"/>
<line x1="415.40" y1="501.75" x2="417.00" y2="501.75" stroke="#333" stroke-width="0.7"/>
<line x1="433.78" y1="513.70" x2="433.78" y2="515.30" stroke="#333" stroke-width="0.7"/>
<line x1="415.40" y1="499.83" x2="417.00" y2="499.83" stroke="#333" stroke-width="0.7"/>
<line x1="435.68" y1="513.70" x2="435.68" y2="515.30" stroke="#333" stroke-width="0.7"/>
<line x1="415.40" y1="498.25" x2="417.00" y2="498.25" stroke="#333" stroke-width="0.7"/>
<line x1="437.28" y1="513.70" x2="437.28" y2="515.30" stroke="#333" stroke-width="0.7"/>
<line x1="415.40" y1="496.92" x2="417.00" y2="496.92" stroke="#333" stroke-width="0.7"/>
<line x1="438.67" y1="513.70" x2="438.67" y2="515.30" stroke="#333" stroke-width="0.7"/>
<line x1="415.40" y1="495.77" x2="417.00" y2="495.77" stroke="#333" stroke-width="0.7"/>
<line x1="439.90" y1="513.70" x2="439.90" y2="515.30" stroke="#333" stroke-width="0.7"/>
<line x1="415.40" y1="494.76" x2="417.00" y2="494.76" stroke="#333" stroke-width="0.7"/>
<line x1="448.22" y1="513.70" x2="448.22" y2="515.30" stroke="#333" stroke-width="0.7"/>
<line x1="415.40" y1="487.87" x2="417.00" y2="487.87" stroke="#333" stroke-width="0.7"/>
<line x1="452.45" y1="513.70" x2="452.45" y2="515.30" stroke="#333" stroke-width="0.7"/>
<line x1="415.40" y1="484.38" x2="417.00" y2="484.38" stroke="#333" stroke-width="0.7"/>
<line x1="455.45" y1="513.70" x2="455.45" y2="515.30" stroke="#333" stroke-width="0.7"/>
<line x1="415.40" y1="481.90" x2="417.00" y2="481.90" stroke="#333" stroke-width="0.7"/>
<line x1="457.78" y1="513.70" x2="457.78" y2="515.30" stroke="#333" stroke-width="0.7"/>
<line x1="415.40" y1="479.98" x2="417.00" y2="479.98" stroke="#333" stroke-width="0.7"/>
<line x1="459.68" y1="513.70" x2="459.68" y2="515.30" stroke="#333" stroke-width="0.7"/>
<line x1="415.40" y1="478.40" x2="417.00" y2="478.40" stroke="#333" stroke-width="0.7"/>
<line x1="461.28" y1="513.70" x2="461.28" y2="515.30" stroke="#333" stroke-width="0.7"/>
<line x1="415.40" y1="477.07" x2="417.00" y2="477.07" stroke="#333" stroke-width="0.7"/>
<line x1="462.67" y1="513.70" x2="462.67" y2="515.30" stroke="#333" stroke-width="0.7"/>
<line x1="415.40" y1="475.92" x2="417.00" y2="475.92" stroke="#333" stroke-width="0.7"/>
<line x1="463.90" y1="513.70" x2="463.90" y2="515.30" stroke="#333" stroke-width="0.7"/>
<line x1="415.40" y1="474.91" x2="417.00" y2="474.91" stroke="#333" stroke-width="0.7"/>
<line x1="472.22" y1="513.70" x2="472.22" y2="515.30" stroke="#333" stroke-width="0.7"/>
<line x1="415.40" y1="468.02" x2="417.00" y2="468.02" stroke="#333" stroke-width="0.7"/>
<line x1="476.45" y1="513.70" x2="476.45" y2="515.30" stroke="#333" stroke-width="0.7"/>
<line x1="415.40" y1="464.53" x2="417.00" y2="464.53" stroke="#333" stroke-width="0.7"/>
<line x1="479.45" y1="513.70" x2="479.45" y2="515.30" stroke="#333" stroke-width="0.7"/>
<line x1="415.40" y1="462.05" x2="417.00" y2="462.05" stroke="#333" stroke-width="0.7"/>
<line x1="481.78" y1="513.70" x2="481.78" y2="515.30" stroke="#333" stroke-width="0.7"/>
<line x1="415.40" y1="460.13" x2="417.00" y2="460.13" stroke="#333" stroke-width="0.7"/>
<line x1="483.68" y1="513.70" x2="483.68" y2="515.30" stroke="#333" stroke-width="0.7"/>
<line x1="415.40" y1="458.55" x2="417.00" y2="458.55" stroke="#333" stroke-width="0.7"/>
<line x1="485.28" y1="513.70" x2="485.28" y2="515.30" stroke="#333" stroke-width="0.7"/>
<line x1="415.40" y1="457.22" x2="417.00" y2="457.22" stroke="#333" stroke-width="0.7"/>
<line x1="486.67" y1="513.70" x2="486.67" y2="515.30" stroke="#333" stroke-width="0.7"/>
<line x1="415.40" y1="456.07" x2="417.00" y2="456.07" stroke="#333" stroke-width="0.7"/>
<line x1="487.90" y1="513.70" x2="487.90" y2="515.30" stroke="#333" stroke-width="0.7"/>
<line x1="415.40" y1="455.06" x2="417.00" y2="455.06" stroke="#333" stroke-width="0.7"/>
<line x1="496.22" y1="513.70" x2="496.22" y2="515.30" stroke="#333" stroke-width="0.7"/>
<line x1="415.40" y1="448.17" x2="417.00" y2="448.17" stroke="#333" stroke-width="0.7"/>
<line x1="500.45" y1="513.70" x2="500.45" y2="515.30" stroke="#333" stroke-width="0.7"/>
<line x1="415.40" y1="444.68" x2="417.00" y2="444.68" stroke="#333" stroke-width="0.7"/>
<line x1="503.45" y1="513.70" x2="503.45" y2="515.30" stroke="#333" stroke-width="0.7"/>
<line x1="415.40" y1="442.20" x2="417.00" y2="442.20" stroke="#333" stroke-width="0.7"/>
<line x1="505.78" y1="513.70" x2="505.78" y2="515.30" stroke="#333" stroke-width="0.7"/>
<line x1="415.40" y1="440.28" x2="417.00" y2="440.28" stroke="#333" stroke-width="0.7"/>
<line x1="507.68" y1="513.70" x2="507.68" y2="515.30" stroke="#333" stroke-width="0.7"/>
<line x1="415.40" y1="438.70" x2="417.00" y2="438.70" stroke="#333" stroke-width="0.7"/>
<line x1="509.28" y1="513.70" x2="509.28" y2="515.30" stroke="#333" stroke-width="0.7"/>
<line x1="415.40" y1="437.37" x2="417.00" y2="437.37" stroke="#333" stroke-width="0.7"/>
<line x1="510.67" y1="513.70" x2="510.67" y2="515.30" stroke="#333" stroke-width="0.7"/>
<line x1="415.40" y1="436.22" x2="417.00" y2="436.22" stroke="#333" stroke-width="0.7"/>
<line x1="511.90" y1="513.70" x2="511.90" y2="515.30" stroke="#333" stroke-width="0.7"/>
<line x1="415.40" y1="435.21" x2="417.00" y2="435.21" stroke="#333" stroke-width="0.7"/>
<line x1="417.00" y1="513.70" x2="417.00" y2="516.20" stroke="#222" stroke-width="0.9"/>
<line x1="414.50" y1="513.70" x2="417.00" y2="513.70" stroke="#222" stroke-width="0.9"/>
<text x="412.40" y="522.70" font-size="8.2">10<tspan dy="-3.2" font-size="5.6">0</tspan></text>
<text transform="translate(414.10,513.70) rotate(-90)" x="-4.2" font-size="7.5">10<tspan dy="-3" font-size="5">0</tspan></text>
<line x1="441.00" y1="513.70" x2="441.00" y2="516.20" stroke="#222" stroke-width="0.9"/>
<line x1="414.50" y1="493.85" x2="417.00" y2="493.85" stroke="#222" stroke-width="0.9"/>
<text x="436.40" y="522.70" font-size="8.2">10<tspan dy="-3.2" font-size="5.6">1</tspan></text>
<text transform="translate(414.10,493.85) rotate(-90)" x="-4.2" font-size="7.5">10<tspan dy="-3" font-size="5">1</tspan></text>
<line x1="465.00" y1="513.70" x2="465.00" y2="516.20" stroke="#222" stroke-width="0.9"/>
<line x1="414.50" y1="474.00" x2="417.00" y2="474.00" stroke="#222" stroke-width="0.9"/>
<text x="460.40" y="522.70" font-size="8.2">10<tspan dy="-3.2" font-size="5.6">2</tspan></text>
<text transform="translate(414.10,474.00) rotate(-90)" x="-4.2" font-size="7.5">10<tspan dy="-3" font-size="5">2</tspan></text>
<line x1="489.00" y1="513.70" x2="489.00" y2="516.20" stroke="#222" stroke-width="0.9"/>
<line x1="414.50" y1="454.15" x2="417.00" y2="454.15" stroke="#222" stroke-width="0.9"/>
<text x="484.40" y="522.70" font-size="8.2">10<tspan dy="-3.2" font-size="5.6">3</tspan></text>
<text transform="translate(414.10,454.15) rotate(-90)" x="-4.2" font-size="7.5">10<tspan dy="-3" font-size="5">3</tspan></text>
<line x1="513.00" y1="513.70" x2="513.00" y2="516.20" stroke="#222" stroke-width="0.9"/>
<line x1="414.50" y1="434.30" x2="417.00" y2="434.30" stroke="#222" stroke-width="0.9"/>
<text x="508.40" y="522.70" font-size="8.2">10<tspan dy="-3.2" font-size="5.6">4</tspan></text>
<text transform="translate(414.10,434.30) rotate(-90)" x="-4.2" font-size="7.5">10<tspan dy="-3" font-size="5">4</tspan></text>
<text x="462.9" y="432.1" font-size="9.6" text-anchor="middle">Data.028</text>
<text transform="translate(402.70,475.50) rotate(-90)" font-size="8.9" text-anchor="middle">CD11b PE</text>
<text x="466.5" y="531.6" font-size="9.1" text-anchor="middle">CD16-FITC</text>
<text x="153.5" y="383" font-size="5.5" font-weight="bold">4</text>
<text transform="translate(40.2,347.5) rotate(-90)" font-size="10.7" font-weight="bold" text-anchor="middle">CD11b</text>
<text transform="translate(37.7,476.5) rotate(-90)" font-size="10.7" font-weight="bold" text-anchor="middle">CD11b</text>
<rect x="65.00" y="413.70" width="188.80" height="2.50" fill="#000"/>
<rect x="328.70" y="413.40" width="186.30" height="2.40" fill="#000"/>
<text x="276.2" y="418.8" font-size="10.2" font-weight="bold">CD15</text>
<rect x="55.00" y="538.70" width="188.20" height="2.80" fill="#000"/>
<rect x="319.50" y="539.60" width="185.50" height="2.90" fill="#000"/>
<text x="267" y="545.7" font-size="10.2" font-weight="bold">CD16</text>
<line x1="83.50" y1="556.50" x2="83.50" y2="615.80" stroke="#000" stroke-width="1.3"/>
<line x1="82.85" y1="615.80" x2="153.30" y2="615.80" stroke="#000" stroke-width="1.5"/>
<line x1="80.30" y1="615.80" x2="83.50" y2="615.80" stroke="#000" stroke-width="1.2"/>
<text x="79.7" y="620.0" font-size="10.5" text-anchor="end">0</text>
<line x1="80.30" y1="600.97" x2="83.50" y2="600.97" stroke="#000" stroke-width="1.2"/>
<text x="79.7" y="605.025" font-size="10.5" text-anchor="end">25</text>
<line x1="80.30" y1="586.15" x2="83.50" y2="586.15" stroke="#000" stroke-width="1.2"/>
<text x="79.7" y="590.0500000000001" font-size="10.5" text-anchor="end">50</text>
<line x1="80.30" y1="571.33" x2="83.50" y2="571.33" stroke="#000" stroke-width="1.2"/>
<text x="79.7" y="575.075" font-size="10.5" text-anchor="end">75</text>
<line x1="80.30" y1="556.50" x2="83.50" y2="556.50" stroke="#000" stroke-width="1.2"/>
<text x="79.7" y="560.1" font-size="10.5" text-anchor="end">100</text>
<line x1="94.10" y1="607.79" x2="94.10" y2="608.09" stroke="#000" stroke-width="1.2"/>
<line x1="91.50" y1="607.79" x2="96.70" y2="607.79" stroke="#000" stroke-width="1.3"/>
<rect x="89.10" y="608.09" width="10.00" height="7.71" fill="#fff" stroke="#000" stroke-width="1.3"/>
<line x1="110.20" y1="567.17" x2="110.20" y2="570.14" stroke="#000" stroke-width="1.2"/>
<line x1="107.60" y1="567.17" x2="112.80" y2="567.17" stroke="#000" stroke-width="1.3"/>
<rect x="105.20" y="570.14" width="10.00" height="45.66" fill="#fff" stroke="#000" stroke-width="1.3"/>
<line x1="126.20" y1="605.72" x2="126.20" y2="609.28" stroke="#000" stroke-width="1.2"/>
<line x1="123.60" y1="605.72" x2="128.80" y2="605.72" stroke="#000" stroke-width="1.3"/>
<rect x="121.20" y="609.28" width="10.00" height="6.52" fill="#fff" stroke="#000" stroke-width="1.3"/>
<text transform="translate(91.00,621.20) rotate(60)" font-size="9.5" font-weight="bold" fill="#e03a3a" style="stroke:#e03a3a">MB</text>
<text transform="translate(107.00,621.20) rotate(60)" font-size="9.5" font-weight="bold" fill="#2a2ad0" style="stroke:#2a2ad0">PM</text>
<text transform="translate(123.00,621.20) rotate(60)" font-size="9.5" font-weight="bold" fill="#2a7a2a" style="stroke:#2a7a2a">MC/MM</text>
<text transform="translate(139.00,621.20) rotate(60)" font-size="9.5" font-weight="bold" fill="#e03a3a" style="stroke:#e03a3a">BC/PMN</text>
<line x1="192.10" y1="556.90" x2="192.10" y2="616.50" stroke="#000" stroke-width="1.3"/>
<line x1="191.45" y1="616.50" x2="262.30" y2="616.50" stroke="#000" stroke-width="1.5"/>
<line x1="188.90" y1="616.50" x2="192.10" y2="616.50" stroke="#000" stroke-width="1.2"/>
<text x="188.29999999999998" y="620.7" font-size="10.5" text-anchor="end">0</text>
<line x1="188.90" y1="601.60" x2="192.10" y2="601.60" stroke="#000" stroke-width="1.2"/>
<text x="188.29999999999998" y="605.65" font-size="10.5" text-anchor="end">25</text>
<line x1="188.90" y1="586.70" x2="192.10" y2="586.70" stroke="#000" stroke-width="1.2"/>
<text x="188.29999999999998" y="590.6" font-size="10.5" text-anchor="end">50</text>
<line x1="188.90" y1="571.80" x2="192.10" y2="571.80" stroke="#000" stroke-width="1.2"/>
<text x="188.29999999999998" y="575.5500000000001" font-size="10.5" text-anchor="end">75</text>
<line x1="188.90" y1="556.90" x2="192.10" y2="556.90" stroke="#000" stroke-width="1.2"/>
<text x="188.29999999999998" y="560.5" font-size="10.5" text-anchor="end">100</text>
<line x1="218.95" y1="612.03" x2="218.95" y2="612.33" stroke="#000" stroke-width="1.2"/>
<line x1="216.35" y1="612.03" x2="221.55" y2="612.03" stroke="#000" stroke-width="1.3"/>
<rect x="213.90" y="612.33" width="10.10" height="4.17" fill="#f4f8f8" stroke="#000" stroke-width="1.3"/>
<line x1="234.85" y1="562.86" x2="234.85" y2="565.24" stroke="#000" stroke-width="1.2"/>
<line x1="232.25" y1="562.86" x2="237.45" y2="562.86" stroke="#000" stroke-width="1.3"/>
<rect x="229.80" y="565.24" width="10.10" height="51.26" fill="#d5e4e4" stroke="#000" stroke-width="1.3"/>
<line x1="251.05" y1="609.35" x2="251.05" y2="610.54" stroke="#000" stroke-width="1.2"/>
<line x1="248.45" y1="609.35" x2="253.65" y2="609.35" stroke="#000" stroke-width="1.3"/>
<rect x="246.00" y="610.54" width="10.10" height="5.96" fill="#d5e4e4" stroke="#000" stroke-width="1.3"/>
<text transform="translate(199.60,621.90) rotate(60)" font-size="9.5" font-weight="bold" fill="#e03a3a" style="stroke:#e03a3a">MB</text>
<text transform="translate(215.60,621.90) rotate(60)" font-size="9.5" font-weight="bold" fill="#2a2ad0" style="stroke:#2a2ad0">PM</text>
<text transform="translate(231.60,621.90) rotate(60)" font-size="9.5" font-weight="bold" fill="#2a7a2a" style="stroke:#2a7a2a">MC/MM</text>
<text transform="translate(247.60,621.90) rotate(60)" font-size="9.5" font-weight="bold" fill="#e03a3a" style="stroke:#e03a3a">BC/PMN</text>
<line x1="314.40" y1="558.50" x2="314.40" y2="618.00" stroke="#000" stroke-width="1.3"/>
<line x1="313.75" y1="618.00" x2="384.20" y2="618.00" stroke="#000" stroke-width="1.5"/>
<line x1="311.20" y1="618.00" x2="314.40" y2="618.00" stroke="#000" stroke-width="1.2"/>
<text x="310.59999999999997" y="622.2" font-size="10.5" text-anchor="end">0</text>
<line x1="311.20" y1="603.12" x2="314.40" y2="603.12" stroke="#000" stroke-width="1.2"/>
<text x="310.59999999999997" y="607.1750000000001" font-size="10.5" text-anchor="end">25</text>
<line x1="311.20" y1="588.25" x2="314.40" y2="588.25" stroke="#000" stroke-width="1.2"/>
<text x="310.59999999999997" y="592.15" font-size="10.5" text-anchor="end">50</text>
<line x1="311.20" y1="573.38" x2="314.40" y2="573.38" stroke="#000" stroke-width="1.2"/>
<text x="310.59999999999997" y="577.125" font-size="10.5" text-anchor="end">75</text>
<line x1="311.20" y1="558.50" x2="314.40" y2="558.50" stroke="#000" stroke-width="1.2"/>
<text x="310.59999999999997" y="562.1" font-size="10.5" text-anchor="end">100</text>
<line x1="357.50" y1="615.02" x2="357.50" y2="616.22" stroke="#000" stroke-width="1.2"/>
<line x1="354.90" y1="615.02" x2="360.10" y2="615.02" stroke="#000" stroke-width="1.3"/>
<rect x="352.60" y="616.22" width="9.80" height="1.78" fill="#000" stroke="#000" stroke-width="1.3"/>
<line x1="373.40" y1="559.99" x2="373.40" y2="560.88" stroke="#000" stroke-width="1.2"/>
<line x1="370.80" y1="559.99" x2="376.00" y2="559.99" stroke="#000" stroke-width="1.3"/>
<rect x="368.50" y="560.88" width="9.80" height="57.12" fill="#000" stroke="#000" stroke-width="1.3"/>
<text transform="translate(320.40,623.40) rotate(60)" font-size="9.5" font-weight="bold" fill="#e03a3a" style="stroke:#e03a3a">MB</text>
<text transform="translate(336.40,623.40) rotate(60)" font-size="9.5" font-weight="bold" fill="#2a2ad0" style="stroke:#2a2ad0">PM</text>
<text transform="translate(352.40,623.40) rotate(60)" font-size="9.5" font-weight="bold" fill="#2a7a2a" style="stroke:#2a7a2a">MC/MM</text>
<text transform="translate(368.40,623.40) rotate(60)" font-size="9.5" font-weight="bold" fill="#e03a3a" style="stroke:#e03a3a">BC/PMN</text>
<line x1="428.70" y1="556.00" x2="428.70" y2="616.20" stroke="#000" stroke-width="1.3"/>
<line x1="428.05" y1="616.20" x2="498.80" y2="616.20" stroke="#000" stroke-width="1.5"/>
<line x1="425.50" y1="616.20" x2="428.70" y2="616.20" stroke="#000" stroke-width="1.2"/>
<text x="424.9" y="620.4000000000001" font-size="10.5" text-anchor="end">0</text>
<line x1="425.50" y1="601.15" x2="428.70" y2="601.15" stroke="#000" stroke-width="1.2"/>
<text x="424.9" y="605.2" font-size="10.5" text-anchor="end">25</text>
<line x1="425.50" y1="586.10" x2="428.70" y2="586.10" stroke="#000" stroke-width="1.2"/>
<text x="424.9" y="590.0000000000001" font-size="10.5" text-anchor="end">50</text>
<line x1="425.50" y1="571.05" x2="428.70" y2="571.05" stroke="#000" stroke-width="1.2"/>
<text x="424.9" y="574.8000000000001" font-size="10.5" text-anchor="end">75</text>
<line x1="425.50" y1="556.00" x2="428.70" y2="556.00" stroke="#000" stroke-width="1.2"/>
<text x="424.9" y="559.6" font-size="10.5" text-anchor="end">100</text>
<line x1="488.20" y1="555.70" x2="488.20" y2="556.00" stroke="#000" stroke-width="1.2"/>
<line x1="485.60" y1="555.70" x2="490.80" y2="555.70" stroke="#000" stroke-width="1.3"/>
<rect x="483.30" y="556.00" width="9.80" height="60.20" fill="#000" stroke="#000" stroke-width="1.3"/>
<text transform="translate(435.40,623.10) rotate(60)" font-size="9.5" font-weight="bold" fill="#e03a3a" style="stroke:#e03a3a">MB</text>
<text transform="translate(451.40,623.10) rotate(60)" font-size="9.5" font-weight="bold" fill="#2a2ad0" style="stroke:#2a2ad0">PM</text>
<text transform="translate(467.40,623.10) rotate(60)" font-size="9.5" font-weight="bold" fill="#2a7a2a" style="stroke:#2a7a2a">MC/MM</text>
<text transform="translate(483.40,623.10) rotate(60)" font-size="9.5" font-weight="bold" fill="#e03a3a" style="stroke:#e03a3a">BC/PMN</text>
<rect x="56.90" y="661.60" width="447.50" height="39.60" fill="none" stroke="#111" stroke-width="1.4"/>
<text x="69.5" y="676.3" font-size="9.25" font-weight="bold" fill="#e03a3a" style="stroke:#e03a3a"><tspan dy="0">MB=FSC</tspan><tspan dy="-3.3" font-size="6.8">med</tspan><tspan dy="3.3">SSC</tspan><tspan dy="-3.3" font-size="6.8">lo</tspan><tspan dy="3.3">CD11b</tspan><tspan dy="-3.3" font-size="6.8">-</tspan><tspan dy="3.3">CD15</tspan><tspan dy="-3.3" font-size="6.8">-</tspan><tspan dy="3.3">CD16</tspan><tspan dy="-3.3" font-size="6.8">-</tspan></text>
<text x="69.5" y="693.8" font-size="9.25" font-weight="bold" fill="#2a7a2a" style="stroke:#2a7a2a"><tspan dy="0">MC/MM=FSC</tspan><tspan dy="-3.3" font-size="6.8">lo</tspan><tspan dy="3.3">SSC</tspan><tspan dy="-3.3" font-size="6.8">high</tspan><tspan dy="3.3">CD11b</tspan><tspan dy="-3.3" font-size="6.8">+/++</tspan><tspan dy="3.3">CD15</tspan><tspan dy="-3.3" font-size="6.8">+</tspan><tspan dy="3.3">CD16</tspan><tspan dy="-3.3" font-size="6.8">-/+</tspan></text>
<text x="288.4" y="676.7" font-size="9.25" font-weight="bold" fill="#2a2ad0" style="stroke:#2a2ad0"><tspan dy="0">PM=FSC</tspan><tspan dy="-3.3" font-size="6.8">med/hi</tspan><tspan dy="3.3">SSC</tspan><tspan dy="-3.3" font-size="6.8">lo/med</tspan><tspan dy="3.3">CD11b</tspan><tspan dy="-3.3" font-size="6.8">-/+</tspan><tspan dy="3.3">CD15</tspan><tspan dy="-3.3" font-size="6.8">+</tspan><tspan dy="3.3">CD16</tspan><tspan dy="-3.3" font-size="6.8">-</tspan></text>
<text x="288.4" y="693.9" font-size="9.25" font-weight="bold" fill="#e03a3a" style="stroke:#e03a3a"><tspan dy="0">BC/PMN=FSC</tspan><tspan dy="-3.3" font-size="6.8">lo</tspan><tspan dy="3.3">SSC</tspan><tspan dy="-3.3" font-size="6.8">high</tspan><tspan dy="3.3">CD11b</tspan><tspan dy="-3.3" font-size="6.8">+/++</tspan><tspan dy="3.3">CD15</tspan><tspan dy="-3.3" font-size="6.8">+</tspan><tspan dy="3.3">CD16</tspan><tspan dy="-3.3" font-size="6.8">+/++</tspan></text>
</svg>
</body></html>
